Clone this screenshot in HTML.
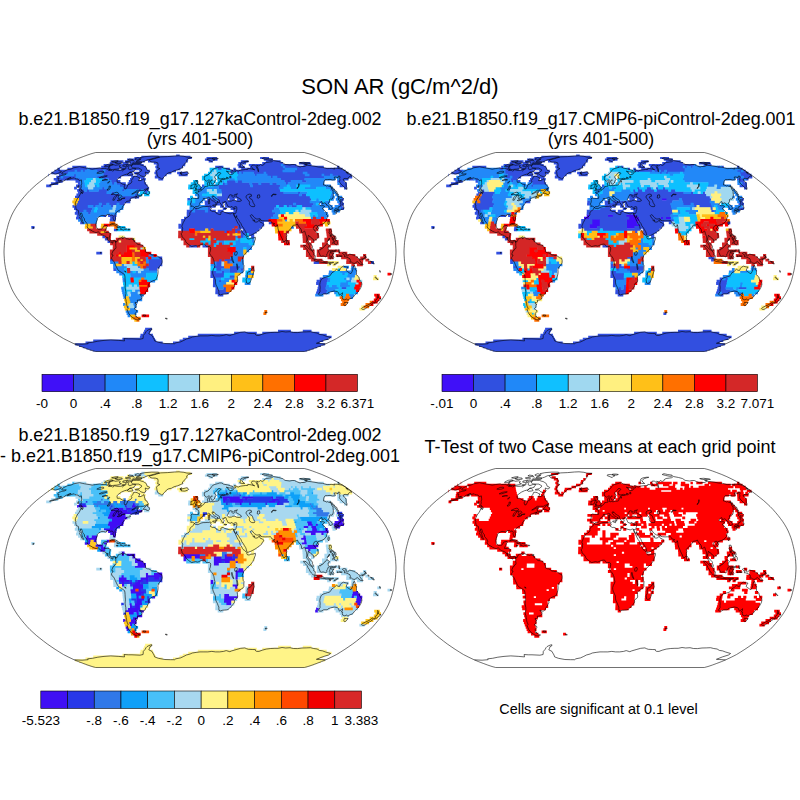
<!DOCTYPE html>
<html><head><meta charset="utf-8"><title>SON AR</title>
<style>
html,body{margin:0;padding:0;background:#fff;}
body{width:800px;height:800px;overflow:hidden;}
svg{display:block;font-family:"Liberation Sans",sans-serif;fill:#000;}
</style></head><body>
<svg width="800" height="800" viewBox="0 0 800 800">
<defs><filter id="bl" x="-2%" y="-2%" width="104%" height="104%"><feGaussianBlur stdDeviation="0.55"/></filter></defs>
<rect width="800" height="800" fill="#fff"/>
<g filter="url(#bl)"><path fill="#3050E0" d="M95.4,350.9h209.1v0.8h-209.1zM92.7,350.1h214.5v1.3h-214.5zM89.7,349.0h220.6v1.5h-220.6zM86.4,347.8h227.3v1.7h-227.3zM82.8,346.4h234.4v1.9h-234.4zM79.0,344.9h241.9v2.0h-241.9zM75.2,343.2h249.7v2.2h-249.7zM85.5,341.4h77.2v2.3h-77.2zM173.0,341.4h146.8v2.3h-146.8zM93.2,339.6h63.0v2.3h-63.0zM179.5,339.6h143.8v2.3h-143.8zM122.4,337.7h32.6v2.4h-32.6zM182.8,337.7h145.7v2.4h-145.7zM139.9,335.8h14.0v2.4h-14.0zM188.2,335.8h143.4v2.4h-143.4zM140.5,333.8h12.4v2.5h-12.4zM197.8,333.8h128.9v2.5h-128.9zM143.2,331.8h6.6v2.5h-6.6zM234.1,331.8h22.7v2.5h-22.7zM262.3,331.8h57.0v2.5h-57.0zM144.1,329.8h6.7v2.5h-6.7zM278.0,329.8h12.9v2.5h-12.9zM302.8,329.8h8.7v2.5h-8.7zM145.1,327.7h6.8v2.6h-6.8zM217.7,293.8h5.6v2.8h-5.6zM215.3,291.5h13.4v2.8h-13.4zM316.1,291.5h10.8v2.8h-10.8zM215.4,289.2h10.9v2.8h-10.9zM316.9,289.2h10.9v2.8h-10.9zM215.5,286.8h3.1v2.8h-3.1zM223.3,286.8h3.1v2.8h-3.1zM317.6,286.8h8.4v2.8h-8.4zM341.1,286.8h5.7v2.8h-5.7zM212.9,284.5h3.1v2.8h-3.1zM318.2,284.5h8.4v2.8h-8.4zM213.0,282.1h3.1v2.8h-3.1zM316.1,282.1h11.1v2.8h-11.1zM213.0,279.8h3.2v2.8h-3.2zM218.3,279.8h3.2v2.8h-3.2zM316.6,279.8h11.1v2.8h-11.1zM213.1,277.5h3.2v2.8h-3.2zM319.7,277.5h8.5v2.8h-8.5zM210.4,275.1h13.9v2.8h-13.9zM229.2,275.1h5.8v2.8h-5.8zM210.5,272.8h13.9v2.8h-13.9zM210.5,270.5h5.9v2.8h-5.9zM221.3,270.5h3.2v2.8h-3.2zM229.3,270.5h8.6v2.8h-8.6zM113.4,268.1h3.2v2.8h-3.2zM148.5,268.1h8.6v2.8h-8.6zM215.9,268.1h5.9v2.8h-5.9zM229.4,268.1h8.6v2.8h-8.6zM240.2,268.1h3.2v2.8h-3.2zM145.7,265.8h14.0v2.8h-14.0zM213.3,265.8h11.3v2.8h-11.3zM229.5,265.8h11.3v2.8h-11.3zM148.3,263.4h14.0v2.8h-14.0zM216.0,263.4h5.9v2.8h-5.9zM148.2,261.1h14.1v2.8h-14.1zM216.0,261.1h5.9v2.8h-5.9zM226.9,261.1h3.2v2.8h-3.2zM313.7,261.1h5.9v2.8h-5.9zM370.7,261.1h3.2v2.8h-3.2zM110.1,258.8h3.2v2.8h-3.2zM148.1,258.8h14.1v2.8h-14.1zM218.8,258.8h3.2v2.8h-3.2zM224.2,258.8h8.6v2.8h-8.6zM159.0,256.4h3.2v2.8h-3.2zM96.3,251.8h5.9v2.8h-5.9zM188.9,244.7h8.7v2.8h-8.7zM202.5,244.7h5.9v2.8h-5.9zM107.5,240.1h3.2v2.8h-3.2zM104.9,237.7h3.2v2.8h-3.2zM102.4,235.4h3.2v2.8h-3.2zM240.3,235.4h3.2v2.8h-3.2zM251.1,235.4h3.2v2.8h-3.2zM240.2,233.0h5.9v2.8h-5.9zM248.3,233.0h5.9v2.8h-5.9zM224.0,230.7h3.2v2.8h-3.2zM234.7,230.7h3.2v2.8h-3.2zM240.1,230.7h16.6v2.8h-16.6zM113.9,228.4h3.2v2.8h-3.2zM181.0,228.4h8.5v2.8h-8.5zM194.4,228.4h11.2v2.8h-11.2zM207.8,228.4h3.2v2.8h-3.2zM213.2,228.4h19.3v2.8h-19.3zM234.6,228.4h5.9v2.8h-5.9zM242.7,228.4h16.6v2.8h-16.6zM31.3,226.0h3.2v2.8h-3.2zM178.4,226.0h56.7v2.8h-56.7zM237.2,226.0h24.6v2.8h-24.6zM178.4,223.7h85.8v2.8h-85.8zM80.2,221.4h3.2v2.8h-3.2zM181.2,221.4h82.8v2.8h-82.8zM268.8,221.4h3.2v2.8h-3.2zM109.8,219.0h5.8v2.8h-5.8zM181.2,219.0h87.8v2.8h-87.8zM76.0,216.7h5.8v2.8h-5.8zM110.2,216.7h5.8v2.8h-5.8zM184.0,216.7h87.4v2.8h-87.4zM76.7,214.3h3.1v2.8h-3.1zM102.9,214.3h3.1v2.8h-3.1zM108.1,214.3h8.4v2.8h-8.4zM186.7,214.3h86.9v2.8h-86.9zM74.8,212.0h5.7v2.8h-5.7zM87.8,212.0h3.1v2.8h-3.1zM186.7,212.0h89.0v2.8h-89.0zM75.7,209.7h8.3v2.8h-8.3zM86.0,209.7h5.7v2.8h-5.7zM186.8,209.7h5.7v2.8h-5.7zM194.6,209.7h10.8v2.8h-10.8zM207.5,209.7h8.3v2.8h-8.3zM217.8,209.7h5.7v2.8h-5.7zM233.4,209.7h39.3v2.8h-39.3zM74.0,207.3h18.5v2.8h-18.5zM194.6,207.3h3.1v2.8h-3.1zM207.4,207.3h3.1v2.8h-3.1zM222.8,207.3h3.1v2.8h-3.1zM230.5,207.3h44.1v2.8h-44.1zM340.9,207.3h3.1v2.8h-3.1zM72.5,205.0h15.8v2.8h-15.8zM92.9,205.0h3.0v2.8h-3.0zM100.5,205.0h3.0v2.8h-3.0zM110.7,205.0h3.0v2.8h-3.0zM204.8,205.0h10.7v2.8h-10.7zM220.1,205.0h3.0v2.8h-3.0zM225.2,205.0h51.4v2.8h-51.4zM278.7,205.0h5.6v2.8h-5.6zM286.3,205.0h3.0v2.8h-3.0zM291.4,205.0h5.6v2.8h-5.6zM301.6,205.0h10.7v2.8h-10.7zM339.7,205.0h3.0v2.8h-3.0zM76.1,202.7h23.2v2.8h-23.2zM101.3,202.7h5.5v2.8h-5.5zM108.9,202.7h8.1v2.8h-8.1zM119.0,202.7h5.5v2.8h-5.5zM204.8,202.7h18.2v2.8h-18.2zM225.0,202.7h68.6v2.8h-68.6zM295.6,202.7h18.2v2.8h-18.2zM338.5,202.7h5.5v2.8h-5.5zM77.3,200.4h53.0v2.8h-53.0zM204.7,200.4h105.5v2.8h-105.5zM339.7,200.4h3.0v2.8h-3.0zM78.5,198.0h52.4v2.8h-52.4zM187.4,198.0h3.0v2.8h-3.0zM207.2,198.0h7.9v2.8h-7.9zM217.1,198.0h10.4v2.8h-10.4zM229.4,198.0h5.4v2.8h-5.4zM236.9,198.0h74.7v2.8h-74.7zM340.7,198.0h3.0v2.8h-3.0zM75.0,195.7h44.5v2.8h-44.5zM121.5,195.7h17.6v2.8h-17.6zM216.9,195.7h93.5v2.8h-93.5zM76.4,193.5h44.0v2.8h-44.0zM134.4,193.5h2.9v2.8h-2.9zM221.5,193.5h77.9v2.8h-77.9zM301.3,193.5h5.3v2.8h-5.3zM77.9,191.2h29.2v2.8h-29.2zM111.3,191.2h2.9v2.8h-2.9zM144.8,191.2h2.9v2.8h-2.9zM221.3,191.2h62.6v2.8h-62.6zM297.7,191.2h2.9v2.8h-2.9zM77.1,188.9h7.6v2.8h-7.6zM86.5,188.9h2.9v2.8h-2.9zM98.3,188.9h9.9v2.8h-9.9zM121.9,188.9h2.9v2.8h-2.9zM138.4,188.9h2.9v2.8h-2.9zM143.1,188.9h5.2v2.8h-5.2zM221.0,188.9h59.5v2.8h-59.5zM74.1,186.7h2.8v2.7h-2.8zM78.8,186.7h2.8v2.7h-2.8zM102.0,186.7h2.8v2.7h-2.8zM123.0,186.7h26.1v2.7h-26.1zM218.4,186.7h61.0v2.7h-61.0zM344.0,186.7h2.8v2.7h-2.8zM46.2,184.5h5.1v2.7h-5.1zM76.0,184.5h5.1v2.7h-5.1zM119.5,184.5h28.0v2.7h-28.0zM202.0,184.5h2.8v2.7h-2.8zM218.1,184.5h32.6v2.7h-32.6zM252.5,184.5h28.0v2.7h-28.0zM339.6,184.5h7.4v2.7h-7.4zM50.9,182.3h7.3v2.7h-7.3zM77.9,182.3h2.8v2.7h-2.8zM111.8,182.3h2.8v2.7h-2.8zM116.3,182.3h9.5v2.7h-9.5zM127.6,182.3h18.5v2.7h-18.5zM222.3,182.3h2.8v2.7h-2.8zM226.8,182.3h23.1v2.7h-23.1zM251.6,182.3h7.3v2.7h-7.3zM260.7,182.3h9.5v2.7h-9.5zM271.9,182.3h5.0v2.7h-5.0zM285.5,182.3h2.8v2.7h-2.8zM339.6,182.3h7.3v2.7h-7.3zM55.5,180.1h7.2v2.7h-7.2zM75.5,180.1h4.9v2.7h-4.9zM111.0,180.1h9.4v2.7h-9.4zM128.8,180.1h16.0v2.7h-16.0zM226.4,180.1h9.4v2.7h-9.4zM237.5,180.1h4.9v2.7h-4.9zM284.1,180.1h7.2v2.7h-7.2zM301.8,180.1h4.9v2.7h-4.9zM337.3,180.1h7.2v2.7h-7.2zM53.7,177.9h26.7v2.6h-26.7zM103.8,177.9h2.7v2.6h-2.7zM108.2,177.9h9.2v2.6h-9.2zM130.0,177.9h9.2v2.6h-9.2zM140.9,177.9h4.9v2.6h-4.9zM158.3,177.9h4.9v2.6h-4.9zM280.4,177.9h24.5v2.6h-24.5zM339.3,177.9h9.2v2.6h-9.2zM56.3,175.8h4.8v2.6h-4.8zM62.7,175.8h13.3v2.6h-13.3zM97.0,175.8h24.1v2.6h-24.1zM131.2,175.8h13.3v2.6h-13.3zM154.8,175.8h9.1v2.6h-9.1zM270.4,175.8h2.6v2.6h-2.6zM276.8,175.8h47.6v2.6h-47.6zM338.9,175.8h13.3v2.6h-13.3zM48.5,173.7h0.5v2.6h-0.5zM59.0,173.7h4.7v2.6h-4.7zM73.7,173.7h2.6v2.6h-2.6zM103.1,173.7h29.9v2.6h-29.9zM136.7,173.7h8.9v2.6h-8.9zM155.6,173.7h11.0v2.6h-11.0zM178.7,173.7h8.9v2.6h-8.9zM254.4,173.7h2.6v2.6h-2.6zM267.0,173.7h38.3v2.6h-38.3zM309.0,173.7h13.1v2.6h-13.1zM323.7,173.7h6.8v2.6h-6.8zM332.1,173.7h19.4v2.6h-19.4zM51.4,171.7h17.0v2.5h-17.0zM102.9,171.7h29.3v2.5h-29.3zM133.8,171.7h14.9v2.5h-14.9zM154.4,171.7h17.0v2.5h-17.0zM177.1,171.7h10.8v2.5h-10.8zM230.7,171.7h2.6v2.5h-2.6zM236.8,171.7h2.6v2.5h-2.6zM241.0,171.7h2.6v2.5h-2.6zM253.3,171.7h10.8v2.5h-10.8zM265.7,171.7h37.6v2.5h-37.6zM306.9,171.7h41.7v2.5h-41.7zM54.4,169.7h20.7v2.5h-20.7zM76.6,169.7h4.5v2.5h-4.5zM82.7,169.7h2.5v2.5h-2.5zM96.8,169.7h6.6v2.5h-6.6zM104.9,169.7h28.8v2.5h-28.8zM139.2,169.7h10.6v2.5h-10.6zM155.3,169.7h20.7v2.5h-20.7zM230.0,169.7h53.0v2.5h-53.0zM294.6,169.7h51.0v2.5h-51.0zM57.5,167.7h2.5v2.5h-2.5zM67.4,167.7h20.3v2.5h-20.3zM89.1,167.7h30.1v2.5h-30.1zM120.7,167.7h26.2v2.5h-26.2zM156.3,167.7h24.2v2.5h-24.2zM217.5,167.7h4.5v2.5h-4.5zM225.4,167.7h4.5v2.5h-4.5zM233.3,167.7h2.5v2.5h-2.5zM241.2,167.7h44.0v2.5h-44.0zM296.6,167.7h45.9v2.5h-45.9zM60.7,165.8h0.5v2.4h-0.5zM72.3,165.8h14.0v2.4h-14.0zM101.2,165.8h44.9v2.4h-44.9zM155.3,165.8h27.5v2.4h-27.5zM215.2,165.8h8.2v2.4h-8.2zM238.4,165.8h6.3v2.4h-6.3zM250.0,165.8h33.3v2.4h-33.3zM284.7,165.8h39.1v2.4h-39.1zM336.9,165.8h2.4v2.4h-2.4zM103.6,163.9h40.1v2.4h-40.1zM156.4,163.9h28.8v2.4h-28.8zM237.5,163.9h4.3v2.4h-4.3zM248.8,163.9h32.6v2.4h-32.6zM282.7,163.9h13.7v2.4h-13.7zM303.5,163.9h8.0v2.4h-8.0zM109.7,162.1h11.5v2.3h-11.5zM122.6,162.1h6.0v2.3h-6.0zM130.0,162.1h11.5v2.3h-11.5zM153.8,162.1h31.7v2.3h-31.7zM238.3,162.1h7.8v2.3h-7.8zM262.2,162.1h20.7v2.3h-20.7zM298.9,162.1h11.5v2.3h-11.5zM110.5,160.3h13.0v2.3h-13.0zM124.8,160.3h20.1v2.3h-20.1zM148.0,160.3h39.8v2.3h-39.8zM208.7,160.3h4.1v2.3h-4.1zM240.8,160.3h7.6v2.3h-7.6zM265.8,160.3h14.8v2.3h-14.8zM127.1,158.6h61.1v2.2h-61.1zM204.9,158.6h12.6v2.2h-12.6zM263.8,158.6h9.2v2.2h-9.2zM134.4,157.1h57.5v2.0h-57.5zM206.5,157.1h10.6v2.0h-10.6zM260.1,157.1h8.9v2.0h-8.9zM141.3,155.7h49.2v1.9h-49.2zM176.1,154.5h3.6v1.7h-3.6z"/>
<path fill="#2088F8" d="M127.6,314.6h2.8v2.7h-2.8zM126.6,312.3h9.9v2.8h-9.9zM125.7,310.0h12.4v2.8h-12.4zM129.6,307.8h5.3v2.8h-5.3zM126.4,305.5h2.9v2.8h-2.9zM133.7,305.5h2.9v2.8h-2.9zM123.1,303.1h3.0v2.8h-3.0zM133.0,303.1h3.0v2.8h-3.0zM129.8,300.8h8.0v2.8h-8.0zM129.1,298.5h13.1v2.8h-13.1zM123.4,296.2h3.0v2.8h-3.0zM128.5,296.2h13.2v2.8h-13.2zM349.9,296.2h3.0v2.8h-3.0zM122.8,293.8h3.1v2.8h-3.1zM130.5,293.8h13.3v2.8h-13.3zM315.2,293.8h8.2v2.8h-8.2zM348.6,293.8h5.6v2.8h-5.6zM122.2,291.5h3.1v2.8h-3.1zM130.0,291.5h8.3v2.8h-8.3zM326.4,291.5h3.1v2.8h-3.1zM334.2,291.5h3.1v2.8h-3.1zM354.8,291.5h3.1v2.8h-3.1zM121.7,289.2h3.1v2.8h-3.1zM134.7,289.2h5.7v2.8h-5.7zM327.3,289.2h8.3v2.8h-8.3zM121.2,286.8h3.1v2.8h-3.1zM218.1,286.8h5.7v2.8h-5.7zM325.4,286.8h13.6v2.8h-13.6zM215.5,284.5h8.4v2.8h-8.4zM326.1,284.5h3.1v2.8h-3.1zM331.4,284.5h5.8v2.8h-5.8zM339.3,284.5h11.0v2.8h-11.0zM215.6,282.1h11.1v2.8h-11.1zM244.7,282.1h5.8v2.8h-5.8zM339.9,282.1h8.4v2.8h-8.4zM122.7,279.8h3.2v2.8h-3.2zM149.3,279.8h5.8v2.8h-5.8zM215.7,279.8h3.2v2.8h-3.2zM221.0,279.8h8.5v2.8h-8.5zM327.2,279.8h3.2v2.8h-3.2zM345.8,279.8h5.8v2.8h-5.8zM122.5,277.5h3.2v2.8h-3.2zM215.7,277.5h5.8v2.8h-5.8zM223.7,277.5h11.2v2.8h-11.2zM247.7,277.5h3.2v2.8h-3.2zM327.7,277.5h3.2v2.8h-3.2zM343.7,277.5h3.2v2.8h-3.2zM349.0,277.5h3.2v2.8h-3.2zM130.2,275.1h16.5v2.8h-16.5zM245.2,275.1h3.2v2.8h-3.2zM322.8,275.1h5.8v2.8h-5.8zM346.8,275.1h8.5v2.8h-8.5zM119.3,272.8h5.9v2.8h-5.9zM130.0,272.8h16.6v2.8h-16.6zM248.0,272.8h5.9v2.8h-5.9zM328.5,272.8h3.2v2.8h-3.2zM341.9,272.8h3.2v2.8h-3.2zM347.3,272.8h8.5v2.8h-8.5zM116.3,270.5h8.6v2.8h-8.6zM129.8,270.5h3.2v2.8h-3.2zM135.2,270.5h3.2v2.8h-3.2zM140.6,270.5h16.6v2.8h-16.6zM215.9,270.5h5.9v2.8h-5.9zM224.0,270.5h5.9v2.8h-5.9zM237.4,270.5h5.9v2.8h-5.9zM248.2,270.5h3.2v2.8h-3.2zM328.9,270.5h5.9v2.8h-5.9zM339.7,270.5h16.6v2.8h-16.6zM116.1,268.1h8.6v2.8h-8.6zM143.1,268.1h5.9v2.8h-5.9zM221.3,268.1h8.6v2.8h-8.6zM237.5,268.1h3.2v2.8h-3.2zM350.8,268.1h5.9v2.8h-5.9zM113.2,265.8h14.0v2.8h-14.0zM137.6,265.8h3.2v2.8h-3.2zM240.3,265.8h3.2v2.8h-3.2zM343.0,265.8h5.9v2.8h-5.9zM351.2,265.8h3.2v2.8h-3.2zM113.1,263.4h3.2v2.8h-3.2zM121.2,263.4h3.2v2.8h-3.2zM210.6,263.4h5.9v2.8h-5.9zM232.3,263.4h11.3v2.8h-11.3zM110.2,261.1h8.6v2.8h-8.6zM145.5,261.1h3.2v2.8h-3.2zM213.3,261.1h3.2v2.8h-3.2zM229.6,261.1h14.1v2.8h-14.1zM145.4,258.8h3.2v2.8h-3.2zM232.3,258.8h5.9v2.8h-5.9zM240.5,258.8h3.2v2.8h-3.2zM145.4,256.4h3.2v2.8h-3.2zM150.8,256.4h8.7v2.8h-8.7zM229.7,256.4h8.7v2.8h-8.7zM148.1,254.1h5.9v2.8h-5.9zM232.4,254.1h11.4v2.8h-11.4zM232.4,251.8h11.4v2.8h-11.4zM235.1,249.4h8.7v2.8h-8.7zM246.0,249.4h3.2v2.8h-3.2zM235.1,247.1h8.7v2.8h-8.7zM246.0,247.1h5.9v2.8h-5.9zM232.4,244.7h19.5v2.8h-19.5zM213.3,242.4h3.2v2.8h-3.2zM221.5,242.4h3.2v2.8h-3.2zM235.1,242.4h14.1v2.8h-14.1zM218.7,240.1h5.9v2.8h-5.9zM235.0,240.1h5.9v2.8h-5.9zM251.3,240.1h3.2v2.8h-3.2zM213.3,237.7h3.2v2.8h-3.2zM237.7,237.7h3.2v2.8h-3.2zM251.2,237.7h3.2v2.8h-3.2zM234.9,235.4h3.2v2.8h-3.2zM243.0,235.4h3.2v2.8h-3.2zM290.7,226.0h3.2v2.8h-3.2zM82.9,221.4h13.8v2.8h-13.8zM78.1,219.0h19.0v2.8h-19.0zM284.4,219.0h3.1v2.8h-3.1zM81.3,216.7h16.3v2.8h-16.3zM270.8,216.7h8.4v2.8h-8.4zM310.3,216.7h3.1v2.8h-3.1zM315.6,216.7h5.8v2.8h-5.8zM323.5,216.7h3.1v2.8h-3.1zM79.3,214.3h24.1v2.8h-24.1zM273.1,214.3h5.7v2.8h-5.7zM312.3,214.3h3.1v2.8h-3.1zM317.6,214.3h11.0v2.8h-11.0zM80.0,212.0h8.3v2.8h-8.3zM90.4,212.0h26.5v2.8h-26.5zM275.2,212.0h5.7v2.8h-5.7zM316.9,212.0h10.9v2.8h-10.9zM332.5,212.0h3.1v2.8h-3.1zM83.4,209.7h3.1v2.8h-3.1zM91.2,209.7h3.1v2.8h-3.1zM96.4,209.7h13.4v2.8h-13.4zM114.5,209.7h5.7v2.8h-5.7zM192.0,209.7h3.1v2.8h-3.1zM204.9,209.7h3.1v2.8h-3.1zM272.1,209.7h8.3v2.8h-8.3zM310.9,209.7h13.4v2.8h-13.4zM331.6,209.7h8.3v2.8h-8.3zM92.0,207.3h3.1v2.8h-3.1zM97.1,207.3h15.9v2.8h-15.9zM115.1,207.3h8.2v2.8h-8.2zM189.5,207.3h5.6v2.8h-5.6zM197.2,207.3h10.8v2.8h-10.8zM274.2,207.3h5.6v2.8h-5.6zM310.1,207.3h13.3v2.8h-13.3zM328.0,207.3h13.3v2.8h-13.3zM87.8,205.0h5.6v2.8h-5.6zM95.4,205.0h5.6v2.8h-5.6zM103.0,205.0h8.1v2.8h-8.1zM115.8,205.0h8.1v2.8h-8.1zM189.6,205.0h15.8v2.8h-15.8zM288.8,205.0h3.0v2.8h-3.0zM311.7,205.0h20.9v2.8h-20.9zM334.6,205.0h5.6v2.8h-5.6zM98.8,202.7h3.0v2.8h-3.0zM106.4,202.7h3.0v2.8h-3.0zM116.5,202.7h3.0v2.8h-3.0zM189.7,202.7h10.6v2.8h-10.6zM293.1,202.7h3.0v2.8h-3.0zM313.3,202.7h3.0v2.8h-3.0zM320.9,202.7h8.1v2.8h-8.1zM189.8,200.4h3.0v2.8h-3.0zM194.8,200.4h8.0v2.8h-8.0zM309.7,200.4h13.0v2.8h-13.0zM324.7,200.4h5.5v2.8h-5.5zM337.2,200.4h3.0v2.8h-3.0zM194.8,198.0h10.4v2.8h-10.4zM214.6,198.0h3.0v2.8h-3.0zM316.0,198.0h3.0v2.8h-3.0zM330.8,198.0h3.0v2.8h-3.0zM335.8,198.0h5.4v2.8h-5.4zM119.0,195.7h2.9v2.8h-2.9zM197.3,195.7h20.1v2.8h-20.1zM329.4,195.7h5.4v2.8h-5.4zM336.8,195.7h5.4v2.8h-5.4zM119.9,193.5h15.0v2.8h-15.0zM136.9,193.5h2.9v2.8h-2.9zM194.9,193.5h7.8v2.8h-7.8zM298.9,193.5h2.9v2.8h-2.9zM330.4,193.5h2.9v2.8h-2.9zM335.2,193.5h2.9v2.8h-2.9zM106.5,191.2h5.3v2.8h-5.3zM113.7,191.2h24.4v2.8h-24.4zM197.4,191.2h10.1v2.8h-10.1zM216.5,191.2h5.3v2.8h-5.3zM283.4,191.2h14.8v2.8h-14.8zM300.1,191.2h7.7v2.8h-7.7zM331.2,191.2h5.3v2.8h-5.3zM84.2,188.9h2.9v2.8h-2.9zM88.9,188.9h9.9v2.8h-9.9zM107.7,188.9h14.7v2.8h-14.7zM124.3,188.9h14.7v2.8h-14.7zM140.8,188.9h2.9v2.8h-2.9zM197.4,188.9h9.9v2.8h-9.9zM216.3,188.9h5.2v2.8h-5.2zM329.5,188.9h5.2v2.8h-5.2zM81.1,186.7h7.5v2.7h-7.5zM92.7,186.7h9.8v2.7h-9.8zM104.4,186.7h19.1v2.7h-19.1zM197.4,186.7h21.4v2.7h-21.4zM278.8,186.7h5.2v2.7h-5.2zM290.5,186.7h7.5v2.7h-7.5zM304.4,186.7h12.1v2.7h-12.1zM325.4,186.7h7.5v2.7h-7.5zM80.6,184.5h5.1v2.7h-5.1zM94.3,184.5h2.8v2.7h-2.8zM98.9,184.5h21.1v2.7h-21.1zM213.5,184.5h5.1v2.7h-5.1zM250.2,184.5h2.8v2.7h-2.8zM280.0,184.5h7.4v2.7h-7.4zM289.1,184.5h7.4v2.7h-7.4zM309.8,184.5h21.1v2.7h-21.1zM80.2,182.3h5.0v2.7h-5.0zM98.2,182.3h14.0v2.7h-14.0zM114.0,182.3h2.8v2.7h-2.8zM224.6,182.3h2.8v2.7h-2.8zM249.4,182.3h2.8v2.7h-2.8zM258.4,182.3h2.8v2.7h-2.8zM269.7,182.3h2.8v2.7h-2.8zM276.5,182.3h9.5v2.7h-9.5zM287.7,182.3h36.6v2.7h-36.6zM337.4,182.3h2.8v2.7h-2.8zM79.9,180.1h4.9v2.7h-4.9zM99.9,180.1h11.6v2.7h-11.6zM221.9,180.1h2.7v2.7h-2.7zM235.2,180.1h2.7v2.7h-2.7zM241.9,180.1h42.7v2.7h-42.7zM290.7,180.1h11.6v2.7h-11.6zM306.2,180.1h18.2v2.7h-18.2zM79.8,177.9h7.0v2.6h-7.0zM101.6,177.9h2.7v2.6h-2.7zM106.0,177.9h2.7v2.6h-2.7zM228.1,177.9h7.0v2.6h-7.0zM236.8,177.9h44.1v2.6h-44.1zM304.4,177.9h31.0v2.6h-31.0zM337.1,177.9h2.7v2.6h-2.7zM60.6,175.8h2.6v2.6h-2.6zM75.6,175.8h21.9v2.6h-21.9zM229.7,175.8h2.6v2.6h-2.6zM236.1,175.8h34.8v2.6h-34.8zM272.5,175.8h4.8v2.6h-4.8zM323.9,175.8h15.5v2.6h-15.5zM63.2,173.7h11.0v2.6h-11.0zM75.8,173.7h27.8v2.6h-27.8zM237.6,173.7h17.3v2.6h-17.3zM256.5,173.7h11.0v2.6h-11.0zM304.8,173.7h4.7v2.6h-4.7zM321.6,173.7h2.6v2.6h-2.6zM330.0,173.7h2.6v2.6h-2.6zM67.9,171.7h35.5v2.5h-35.5zM238.9,171.7h2.6v2.5h-2.6zM243.0,171.7h10.8v2.5h-10.8zM263.6,171.7h2.6v2.5h-2.6zM302.8,171.7h4.6v2.5h-4.6zM74.6,169.7h2.5v2.5h-2.5zM80.7,169.7h2.5v2.5h-2.5zM84.7,169.7h12.6v2.5h-12.6zM102.9,169.7h2.5v2.5h-2.5zM282.5,169.7h12.6v2.5h-12.6zM87.1,167.7h2.5v2.5h-2.5zM284.7,167.7h12.4v2.5h-12.4zM282.8,165.8h2.4v2.4h-2.4zM280.8,163.9h2.4v2.4h-2.4z"/>
<path fill="#10C0FF" d="M342.3,296.2h3.0v2.8h-3.0zM125.3,293.8h3.1v2.8h-3.1zM335.7,293.8h10.8v2.8h-10.8zM124.8,291.5h3.1v2.8h-3.1zM336.7,291.5h18.6v2.8h-18.6zM124.3,289.2h8.3v2.8h-8.3zM335.1,289.2h21.3v2.8h-21.3zM123.8,286.8h3.1v2.8h-3.1zM338.5,286.8h3.1v2.8h-3.1zM346.4,286.8h8.4v2.8h-8.4zM123.4,284.5h5.8v2.8h-5.8zM131.3,284.5h3.1v2.8h-3.1zM136.6,284.5h3.1v2.8h-3.1zM328.8,284.5h3.1v2.8h-3.1zM336.7,284.5h3.1v2.8h-3.1zM349.8,284.5h5.8v2.8h-5.8zM123.0,282.1h16.4v2.8h-16.4zM326.7,282.1h13.7v2.8h-13.7zM347.9,282.1h8.4v2.8h-8.4zM125.4,279.8h5.8v2.8h-5.8zM133.3,279.8h5.8v2.8h-5.8zM146.6,279.8h3.2v2.8h-3.2zM242.2,279.8h8.5v2.8h-8.5zM329.9,279.8h16.4v2.8h-16.4zM125.1,277.5h5.8v2.8h-5.8zM133.1,277.5h8.5v2.8h-8.5zM143.8,277.5h13.8v2.8h-13.8zM221.1,277.5h3.2v2.8h-3.2zM242.4,277.5h5.8v2.8h-5.8zM330.4,277.5h13.8v2.8h-13.8zM122.2,275.1h8.5v2.8h-8.5zM146.3,275.1h11.2v2.8h-11.2zM223.8,275.1h5.8v2.8h-5.8zM328.1,275.1h19.2v2.8h-19.2zM124.6,272.8h5.9v2.8h-5.9zM146.1,272.8h11.2v2.8h-11.2zM223.9,272.8h11.2v2.8h-11.2zM245.4,272.8h3.2v2.8h-3.2zM331.2,272.8h11.2v2.8h-11.2zM344.6,272.8h3.2v2.8h-3.2zM124.4,270.5h3.2v2.8h-3.2zM132.5,270.5h3.2v2.8h-3.2zM245.5,270.5h3.2v2.8h-3.2zM334.3,270.5h5.9v2.8h-5.9zM124.2,268.1h3.2v2.8h-3.2zM210.5,268.1h5.9v2.8h-5.9zM248.3,268.1h3.2v2.8h-3.2zM337.3,268.1h3.2v2.8h-3.2zM210.6,265.8h3.2v2.8h-3.2zM132.0,263.4h5.9v2.8h-5.9zM131.9,261.1h3.2v2.8h-3.2zM243.3,247.1h3.2v2.8h-3.2zM213.3,244.7h3.2v2.8h-3.2zM229.7,244.7h3.2v2.8h-3.2zM202.5,242.4h3.2v2.8h-3.2zM207.9,242.4h3.2v2.8h-3.2zM216.0,242.4h3.2v2.8h-3.2zM224.2,242.4h5.9v2.8h-5.9zM232.3,242.4h3.2v2.8h-3.2zM248.6,242.4h5.9v2.8h-5.9zM199.8,240.1h11.4v2.8h-11.4zM216.0,240.1h3.2v2.8h-3.2zM224.2,240.1h11.4v2.8h-11.4zM240.4,240.1h11.4v2.8h-11.4zM188.9,237.7h5.9v2.8h-5.9zM205.2,237.7h3.2v2.8h-3.2zM235.0,237.7h3.2v2.8h-3.2zM240.4,237.7h11.3v2.8h-11.3zM245.7,235.4h3.2v2.8h-3.2zM245.6,233.0h3.2v2.8h-3.2zM116.6,228.4h13.9v2.8h-13.9zM116.8,226.0h8.5v2.8h-8.5zM309.7,214.3h3.1v2.8h-3.1zM315.0,214.3h3.1v2.8h-3.1zM280.4,212.0h5.7v2.8h-5.7zM288.2,212.0h5.7v2.8h-5.7zM309.1,212.0h8.3v2.8h-8.3zM93.8,209.7h3.1v2.8h-3.1zM279.9,209.7h16.0v2.8h-16.0zM298.0,209.7h3.1v2.8h-3.1zM94.6,207.3h3.1v2.8h-3.1zM279.3,207.3h23.6v2.8h-23.6zM304.9,207.3h5.6v2.8h-5.6zM276.1,205.0h3.0v2.8h-3.0zM283.7,205.0h3.0v2.8h-3.0zM296.5,205.0h5.6v2.8h-5.6zM187.1,202.7h3.0v2.8h-3.0zM315.8,202.7h3.0v2.8h-3.0zM187.3,200.4h3.0v2.8h-3.0zM192.3,200.4h3.0v2.8h-3.0zM322.2,200.4h3.0v2.8h-3.0zM189.9,198.0h5.4v2.8h-5.4zM311.1,198.0h5.4v2.8h-5.4zM318.5,198.0h12.9v2.8h-12.9zM190.0,195.7h2.9v2.8h-2.9zM309.8,195.7h20.1v2.8h-20.1zM139.3,193.5h2.9v2.8h-2.9zM144.1,193.5h5.3v2.8h-5.3zM202.2,193.5h15.0v2.8h-15.0zM306.2,193.5h24.7v2.8h-24.7zM140.0,191.2h5.3v2.8h-5.3zM147.2,191.2h2.9v2.8h-2.9zM192.6,191.2h5.3v2.8h-5.3zM206.9,191.2h2.9v2.8h-2.9zM307.3,191.2h24.4v2.8h-24.4zM192.7,188.9h5.2v2.8h-5.2zM211.5,188.9h2.9v2.8h-2.9zM280.0,188.9h50.0v2.8h-50.0zM188.1,186.7h9.8v2.7h-9.8zM283.5,186.7h7.5v2.7h-7.5zM297.5,186.7h7.5v2.7h-7.5zM316.1,186.7h9.8v2.7h-9.8zM85.2,184.5h2.8v2.7h-2.8zM96.6,184.5h2.8v2.7h-2.8zM188.3,184.5h12.0v2.7h-12.0zM204.3,184.5h9.7v2.7h-9.7zM286.8,184.5h2.8v2.7h-2.8zM296.0,184.5h14.3v2.7h-14.3zM84.7,182.3h5.0v2.7h-5.0zM93.7,182.3h5.0v2.7h-5.0zM190.7,182.3h7.3v2.7h-7.3zM204.3,182.3h9.5v2.7h-9.5zM215.5,182.3h7.3v2.7h-7.3zM84.4,180.1h7.2v2.7h-7.2zM95.5,180.1h4.9v2.7h-4.9zM193.1,180.1h4.9v2.7h-4.9zM204.2,180.1h11.6v2.7h-11.6zM217.5,180.1h4.9v2.7h-4.9zM224.2,180.1h2.7v2.7h-2.7zM86.4,177.9h7.0v2.6h-7.0zM95.1,177.9h7.0v2.6h-7.0zM201.9,177.9h11.4v2.6h-11.4zM217.2,177.9h11.4v2.6h-11.4zM234.6,177.9h2.7v2.6h-2.7zM201.9,175.8h11.2v2.6h-11.2zM216.9,175.8h13.3v2.6h-13.3zM231.9,175.8h4.8v2.6h-4.8zM204.0,173.7h6.8v2.6h-6.8zM214.5,173.7h23.6v2.6h-23.6zM208.0,171.7h4.6v2.5h-4.6zM216.2,171.7h12.9v2.5h-12.9zM232.7,171.7h4.6v2.5h-4.6zM209.8,169.7h4.5v2.5h-4.5zM215.9,169.7h14.6v2.5h-14.6zM209.6,167.7h8.4v2.5h-8.4zM221.5,167.7h4.5v2.5h-4.5z"/>
<path fill="#A0D8F0" d="M128.8,305.5h5.4v2.8h-5.4zM128.0,303.1h5.4v2.8h-5.4zM127.9,293.8h3.1v2.8h-3.1zM127.4,291.5h3.1v2.8h-3.1zM137.7,291.5h3.1v2.8h-3.1zM132.1,289.2h3.1v2.8h-3.1zM126.4,286.8h13.6v2.8h-13.6zM128.7,284.5h3.1v2.8h-3.1zM133.9,284.5h3.1v2.8h-3.1zM355.8,282.1h3.1v2.8h-3.1zM351.1,279.8h5.8v2.8h-5.8zM359.1,279.8h3.2v2.8h-3.2zM346.4,277.5h3.2v2.8h-3.2zM351.7,277.5h3.2v2.8h-3.2zM137.9,270.5h3.2v2.8h-3.2zM129.6,268.1h14.0v2.8h-14.0zM126.7,265.8h11.3v2.8h-11.3zM123.9,263.4h8.6v2.8h-8.6zM221.4,263.4h3.2v2.8h-3.2zM221.5,261.1h3.2v2.8h-3.2zM139.9,247.1h3.2v2.8h-3.2zM304.5,214.3h5.7v2.8h-5.7zM298.6,212.0h10.9v2.8h-10.9zM109.3,209.7h5.7v2.8h-5.7zM295.4,209.7h3.1v2.8h-3.1zM300.6,209.7h10.8v2.8h-10.8zM112.5,207.3h3.1v2.8h-3.1zM302.4,207.3h3.1v2.8h-3.1zM113.2,205.0h3.0v2.8h-3.0zM216.7,193.5h5.3v2.8h-5.3zM209.3,191.2h7.7v2.8h-7.7zM206.8,188.9h5.2v2.8h-5.2zM213.9,188.9h2.9v2.8h-2.9zM88.1,186.7h5.2v2.7h-5.2zM87.4,184.5h7.4v2.7h-7.4zM89.2,182.3h5.0v2.7h-5.0zM91.0,180.1h4.9v2.7h-4.9zM92.9,177.9h2.7v2.6h-2.7zM212.8,177.9h2.7v2.6h-2.7zM212.6,175.8h2.6v2.6h-2.6zM210.3,173.7h4.7v2.6h-4.7zM212.1,171.7h4.6v2.5h-4.6zM213.9,169.7h2.5v2.5h-2.5z"/>
<path fill="#FFF080" d="M359.4,307.8h5.3v2.8h-5.3zM361.2,305.5h2.9v2.8h-2.9zM226.2,282.1h8.4v2.8h-8.4zM229.0,279.8h3.2v2.8h-3.2zM354.3,277.5h5.8v2.8h-5.8zM373.0,277.5h5.8v2.8h-5.8zM354.9,275.1h3.2v2.8h-3.2zM373.6,275.1h3.2v2.8h-3.2zM331.9,268.1h5.9v2.8h-5.9zM340.0,268.1h5.9v2.8h-5.9zM337.6,265.8h5.9v2.8h-5.9zM327.1,263.4h3.2v2.8h-3.2zM332.5,263.4h3.2v2.8h-3.2zM327.3,261.1h11.4v2.8h-11.4zM118.4,240.1h3.2v2.8h-3.2zM132.0,237.7h3.2v2.8h-3.2zM118.6,235.4h5.9v2.8h-5.9zM287.0,219.0h3.1v2.8h-3.1zM292.3,219.0h3.1v2.8h-3.1zM286.6,216.7h24.2v2.8h-24.2zM278.3,214.3h3.1v2.8h-3.1zM283.5,214.3h21.4v2.8h-21.4zM285.6,212.0h3.1v2.8h-3.1zM293.4,212.0h5.7v2.8h-5.7z"/>
<path fill="#FFC018" d="M134.3,319.0h2.8v2.7h-2.8zM131.0,316.8h2.8v2.7h-2.8zM130.0,314.6h5.2v2.7h-5.2zM124.8,307.8h5.3v2.8h-5.3zM123.9,305.5h2.9v2.8h-2.9zM125.5,303.1h3.0v2.8h-3.0zM124.8,300.8h5.5v2.8h-5.5zM124.1,298.5h5.5v2.8h-5.5zM125.9,296.2h3.0v2.8h-3.0zM234.4,277.5h3.2v2.8h-3.2zM234.5,275.1h3.2v2.8h-3.2zM247.9,275.1h5.8v2.8h-5.8zM234.6,272.8h5.9v2.8h-5.9zM250.9,270.5h3.2v2.8h-3.2zM115.8,263.4h5.9v2.8h-5.9zM121.1,261.1h5.9v2.8h-5.9zM129.2,261.1h3.2v2.8h-3.2zM134.6,261.1h3.2v2.8h-3.2zM121.0,258.8h11.4v2.8h-11.4zM134.6,258.8h3.2v2.8h-3.2zM140.0,258.8h3.2v2.8h-3.2zM120.9,256.4h11.4v2.8h-11.4zM134.5,256.4h5.9v2.8h-5.9zM118.1,254.1h3.2v2.8h-3.2zM243.3,251.8h3.2v2.8h-3.2zM134.4,249.4h5.9v2.8h-5.9zM243.3,249.4h3.2v2.8h-3.2zM129.0,247.1h8.7v2.8h-8.7zM142.6,247.1h3.2v2.8h-3.2zM207.9,237.7h3.2v2.8h-3.2zM202.5,235.4h3.2v2.8h-3.2zM207.9,235.4h3.2v2.8h-3.2zM226.7,233.0h3.2v2.8h-3.2zM232.1,233.0h8.6v2.8h-8.6zM100.2,230.7h5.9v2.8h-5.9zM199.8,230.7h11.3v2.8h-11.3zM275.1,230.7h3.2v2.8h-3.2zM283.2,230.7h3.2v2.8h-3.2zM205.1,228.4h3.2v2.8h-3.2zM274.9,228.4h16.6v2.8h-16.6zM84.8,226.0h8.5v2.8h-8.5zM100.8,226.0h5.8v2.8h-5.8zM274.6,226.0h16.5v2.8h-16.5zM85.1,223.7h5.8v2.8h-5.8zM101.1,223.7h3.2v2.8h-3.2zM282.4,223.7h13.8v2.8h-13.8zM325.0,223.7h3.2v2.8h-3.2zM276.8,221.4h19.1v2.8h-19.1zM321.9,221.4h8.5v2.8h-8.5zM281.8,219.0h3.1v2.8h-3.1zM289.7,219.0h3.1v2.8h-3.1zM278.7,216.7h5.8v2.8h-5.8zM73.6,202.7h3.0v2.8h-3.0zM72.3,200.4h5.5v2.8h-5.5zM73.6,198.0h5.4v2.8h-5.4z"/>
<path fill="#FF7000" d="M136.6,319.0h2.8v2.7h-2.8zM133.3,316.8h7.4v2.7h-7.4zM263.4,312.3h2.9v2.8h-2.9zM264.3,310.0h2.9v2.8h-2.9zM363.7,305.5h5.4v2.8h-5.4zM340.7,303.1h5.4v2.8h-5.4zM365.5,303.1h5.4v2.8h-5.4zM342.2,300.8h5.5v2.8h-5.5zM369.7,300.8h3.0v2.8h-3.0zM341.0,298.5h8.1v2.8h-8.1zM339.7,296.2h3.0v2.8h-3.0zM344.8,296.2h5.6v2.8h-5.6zM346.0,293.8h3.1v2.8h-3.1zM225.8,289.2h5.7v2.8h-5.7zM225.9,286.8h5.7v2.8h-5.7zM139.2,284.5h8.4v2.8h-8.4zM223.4,284.5h11.0v2.8h-11.0zM138.7,279.8h3.2v2.8h-3.2zM234.3,279.8h3.2v2.8h-3.2zM141.1,277.5h3.2v2.8h-3.2zM140.3,265.8h3.2v2.8h-3.2zM224.1,265.8h5.9v2.8h-5.9zM137.4,263.4h8.6v2.8h-8.6zM224.1,263.4h8.6v2.8h-8.6zM137.4,261.1h3.2v2.8h-3.2zM142.8,261.1h3.2v2.8h-3.2zM224.2,261.1h3.2v2.8h-3.2zM131.8,258.8h3.2v2.8h-3.2zM131.8,256.4h3.2v2.8h-3.2zM131.7,254.1h3.2v2.8h-3.2zM131.7,251.8h3.2v2.8h-3.2zM194.4,233.0h3.2v2.8h-3.2zM194.4,230.7h5.9v2.8h-5.9zM114.2,226.0h3.2v2.8h-3.2zM109.1,223.7h8.5v2.8h-8.5zM277.0,223.7h5.8v2.8h-5.8zM109.4,221.4h5.8v2.8h-5.8zM298.0,221.4h8.5v2.8h-8.5zM276.5,219.0h5.8v2.8h-5.8zM295.0,219.0h8.4v2.8h-8.4z"/>
<path fill="#FF0000" d="M141.6,314.6h7.5v2.7h-7.5zM370.4,303.1h3.0v2.8h-3.0zM372.2,300.8h5.5v2.8h-5.5zM373.8,298.5h5.5v2.8h-5.5zM375.4,296.2h5.6v2.8h-5.6zM374.2,293.8h5.6v2.8h-5.6zM140.3,291.5h5.7v2.8h-5.7zM139.9,289.2h8.3v2.8h-8.3zM355.9,289.2h3.1v2.8h-3.1zM139.5,286.8h8.4v2.8h-8.4zM231.2,286.8h3.1v2.8h-3.1zM354.2,286.8h5.7v2.8h-5.7zM147.1,284.5h3.1v2.8h-3.1zM355.1,284.5h5.8v2.8h-5.8zM138.9,282.1h11.1v2.8h-11.1zM234.1,282.1h3.1v2.8h-3.1zM358.5,282.1h3.1v2.8h-3.1zM130.7,279.8h3.2v2.8h-3.2zM141.3,279.8h5.8v2.8h-5.8zM231.6,279.8h3.2v2.8h-3.2zM356.5,279.8h3.2v2.8h-3.2zM130.4,277.5h3.2v2.8h-3.2zM387.5,272.8h3.2v2.8h-3.2zM148.1,256.4h3.2v2.8h-3.2zM115.4,254.1h3.2v2.8h-3.2zM120.9,254.1h11.4v2.8h-11.4zM139.9,254.1h8.7v2.8h-8.7zM153.5,254.1h3.2v2.8h-3.2zM118.1,251.8h3.2v2.8h-3.2zM123.5,251.8h8.7v2.8h-8.7zM139.9,251.8h11.4v2.8h-11.4zM229.7,251.8h3.2v2.8h-3.2zM126.3,249.4h5.9v2.8h-5.9zM139.9,249.4h5.9v2.8h-5.9zM227.0,249.4h8.7v2.8h-8.7zM126.3,247.1h3.2v2.8h-3.2zM227.0,247.1h8.7v2.8h-8.7zM126.3,244.7h8.7v2.8h-8.7zM284.0,242.4h5.9v2.8h-5.9zM278.3,237.7h5.9v2.8h-5.9zM278.2,235.4h5.9v2.8h-5.9zM278.0,233.0h5.9v2.8h-5.9zM189.0,230.7h5.9v2.8h-5.9zM226.7,230.7h3.2v2.8h-3.2zM277.8,230.7h5.9v2.8h-5.9zM189.0,228.4h5.9v2.8h-5.9zM304.0,226.0h11.2v2.8h-11.2zM103.8,223.7h5.8v2.8h-5.8zM271.7,223.7h5.8v2.8h-5.8zM306.4,223.7h8.5v2.8h-8.5zM319.7,223.7h3.2v2.8h-3.2zM271.5,221.4h5.8v2.8h-5.8zM306.0,221.4h5.8v2.8h-5.8zM319.3,221.4h3.2v2.8h-3.2zM268.5,219.0h8.4v2.8h-8.4zM302.9,219.0h8.4v2.8h-8.4zM318.8,219.0h11.1v2.8h-11.1zM284.0,216.7h3.1v2.8h-3.1zM320.9,216.7h3.1v2.8h-3.1zM280.9,214.3h3.1v2.8h-3.1z"/>
<path fill="#D42828" d="M127.1,270.5h3.2v2.8h-3.2zM126.9,268.1h3.2v2.8h-3.2zM251.0,268.1h3.2v2.8h-3.2zM143.0,265.8h3.2v2.8h-3.2zM251.1,265.8h3.2v2.8h-3.2zM145.6,263.4h3.2v2.8h-3.2zM351.4,263.4h3.2v2.8h-3.2zM356.9,263.4h5.9v2.8h-5.9zM118.4,261.1h3.2v2.8h-3.2zM126.5,261.1h3.2v2.8h-3.2zM140.1,261.1h3.2v2.8h-3.2zM210.6,261.1h3.2v2.8h-3.2zM319.1,261.1h8.6v2.8h-8.6zM346.2,261.1h16.8v2.8h-16.8zM367.9,261.1h3.2v2.8h-3.2zM112.8,258.8h8.6v2.8h-8.6zM137.3,258.8h3.2v2.8h-3.2zM142.7,258.8h3.2v2.8h-3.2zM210.6,258.8h8.6v2.8h-8.6zM221.5,258.8h3.2v2.8h-3.2zM237.8,258.8h3.2v2.8h-3.2zM311.1,258.8h11.4v2.8h-11.4zM346.4,258.8h16.8v2.8h-16.8zM365.4,258.8h3.2v2.8h-3.2zM110.0,256.4h11.4v2.8h-11.4zM139.9,256.4h5.9v2.8h-5.9zM210.6,256.4h19.5v2.8h-19.5zM237.8,256.4h5.9v2.8h-5.9zM308.5,256.4h5.9v2.8h-5.9zM327.5,256.4h5.9v2.8h-5.9zM341.1,256.4h16.8v2.8h-16.8zM360.2,256.4h5.9v2.8h-5.9zM110.0,254.1h5.9v2.8h-5.9zM134.5,254.1h5.9v2.8h-5.9zM207.9,254.1h25.0v2.8h-25.0zM305.9,254.1h8.7v2.8h-8.7zM316.7,254.1h16.8v2.8h-16.8zM335.8,254.1h19.5v2.8h-19.5zM363.0,254.1h3.2v2.8h-3.2zM109.9,251.8h8.7v2.8h-8.7zM120.8,251.8h3.2v2.8h-3.2zM134.4,251.8h5.9v2.8h-5.9zM207.9,251.8h22.3v2.8h-22.3zM305.9,251.8h8.7v2.8h-8.7zM316.8,251.8h16.8v2.8h-16.8zM338.6,251.8h8.7v2.8h-8.7zM109.9,249.4h16.8v2.8h-16.8zM131.7,249.4h3.2v2.8h-3.2zM207.9,249.4h19.6v2.8h-19.6zM305.9,249.4h8.7v2.8h-8.7zM316.8,249.4h22.3v2.8h-22.3zM112.7,247.1h14.1v2.8h-14.1zM137.2,247.1h3.2v2.8h-3.2zM207.9,247.1h19.5v2.8h-19.5zM303.1,247.1h8.7v2.8h-8.7zM319.5,247.1h8.7v2.8h-8.7zM112.8,244.7h14.1v2.8h-14.1zM134.5,244.7h8.7v2.8h-8.7zM186.2,244.7h3.2v2.8h-3.2zM197.0,244.7h3.2v2.8h-3.2zM207.9,244.7h5.9v2.8h-5.9zM216.1,244.7h14.1v2.8h-14.1zM300.3,244.7h11.4v2.8h-11.4zM322.1,244.7h8.7v2.8h-8.7zM110.1,242.4h30.4v2.8h-30.4zM183.5,242.4h19.5v2.8h-19.5zM205.2,242.4h3.2v2.8h-3.2zM210.6,242.4h3.2v2.8h-3.2zM218.8,242.4h3.2v2.8h-3.2zM229.6,242.4h3.2v2.8h-3.2zM305.7,242.4h5.9v2.8h-5.9zM322.0,242.4h5.9v2.8h-5.9zM330.1,242.4h8.6v2.8h-8.6zM110.2,240.1h8.6v2.8h-8.6zM121.1,240.1h14.1v2.8h-14.1zM183.5,240.1h16.8v2.8h-16.8zM210.6,240.1h5.9v2.8h-5.9zM281.1,240.1h8.6v2.8h-8.6zM302.8,240.1h5.9v2.8h-5.9zM311.0,240.1h3.2v2.8h-3.2zM324.5,240.1h3.2v2.8h-3.2zM330.0,240.1h8.6v2.8h-8.6zM107.7,237.7h3.2v2.8h-3.2zM115.8,237.7h16.8v2.8h-16.8zM180.8,237.7h8.6v2.8h-8.6zM194.3,237.7h11.3v2.8h-11.3zM210.6,237.7h3.2v2.8h-3.2zM216.0,237.7h19.5v2.8h-19.5zM283.7,237.7h3.2v2.8h-3.2zM302.7,237.7h14.0v2.8h-14.0zM324.4,237.7h11.3v2.8h-11.3zM105.1,235.4h5.9v2.8h-5.9zM178.1,235.4h24.8v2.8h-24.8zM205.2,235.4h3.2v2.8h-3.2zM210.6,235.4h24.8v2.8h-24.8zM237.6,235.4h3.2v2.8h-3.2zM283.6,235.4h3.2v2.8h-3.2zM302.5,235.4h16.7v2.8h-16.7zM326.8,235.4h8.6v2.8h-8.6zM97.2,233.0h14.0v2.8h-14.0zM178.2,233.0h16.7v2.8h-16.7zM197.1,233.0h30.2v2.8h-30.2zM229.4,233.0h3.2v2.8h-3.2zM283.4,233.0h3.2v2.8h-3.2zM302.3,233.0h16.7v2.8h-16.7zM326.5,233.0h5.9v2.8h-5.9zM89.4,230.7h11.3v2.8h-11.3zM105.6,230.7h3.2v2.8h-3.2zM178.2,230.7h11.3v2.8h-11.3zM210.5,230.7h14.0v2.8h-14.0zM229.3,230.7h5.9v2.8h-5.9zM237.4,230.7h3.2v2.8h-3.2zM285.9,230.7h3.2v2.8h-3.2zM299.3,230.7h16.6v2.8h-16.6zM326.2,230.7h5.9v2.8h-5.9zM87.1,228.4h19.3v2.8h-19.3zM210.5,228.4h3.2v2.8h-3.2zM231.9,228.4h3.2v2.8h-3.2zM299.0,228.4h19.3v2.8h-19.3zM325.8,228.4h5.9v2.8h-5.9zM92.8,226.0h3.2v2.8h-3.2zM234.5,226.0h3.2v2.8h-3.2zM296.0,226.0h8.5v2.8h-8.5zM314.7,226.0h3.2v2.8h-3.2zM90.5,223.7h5.8v2.8h-5.8zM295.7,223.7h11.2v2.8h-11.2zM314.4,223.7h5.8v2.8h-5.8zM295.4,221.4h3.2v2.8h-3.2zM311.3,221.4h8.5v2.8h-8.5zM310.9,219.0h8.4v2.8h-8.4zM313.0,216.7h3.1v2.8h-3.1z"/></g>
<path fill="none" stroke="#000" stroke-width="0.6" stroke-linejoin="round" d="M61.9,172.7 67.1,169.8 71.0,169.1 73.7,167.8 79.5,166.7 82.2,167.3 84.6,167.8 89.1,168.5 92.2,169.2 95.3,168.6 100.1,167.9 101.6,168.6 105.1,168.3 108.4,169.6 108.5,170.4 111.8,170.3 112.6,171.2 114.6,169.8 118.1,170.4 121.5,170.2 122.5,170.9 124.0,169.6 126.0,168.6 125.8,167.0 127.8,166.0 128.4,167.6 128.2,168.8 129.9,169.6 132.2,168.8 133.3,168.3 135.6,168.4 135.3,169.6 134.2,170.4 134.2,171.2 131.9,172.0 129.8,172.0 128.1,173.9 126.6,174.2 124.6,174.7 121.5,176.1 119.0,177.8 117.2,179.5 117.0,180.4 117.3,182.3 119.6,182.3 120.9,183.1 122.9,184.3 125.2,184.5 124.0,187.0 124.6,188.2 124.8,189.0 126.1,188.8 127.6,185.8 127.5,185.0 130.6,183.5 131.9,181.8 131.3,180.4 132.9,178.3 133.7,176.3 135.8,176.3 137.3,176.7 138.2,177.4 139.7,177.8 139.3,179.5 138.4,180.4 140.0,180.7 142.1,180.0 144.0,178.6 144.4,180.6 144.8,182.3 145.2,184.1 147.0,185.2 147.5,186.4 148.2,187.6 147.7,188.6 145.7,189.1 143.4,190.3 140.5,190.3 137.2,190.3 135.3,191.7 133.4,192.9 131.7,194.1 133.1,193.9 136.2,192.0 138.7,191.6 138.6,192.5 136.8,192.9 137.4,193.9 137.2,195.1 138.4,195.5 140.3,195.6 142.2,194.1 142.0,195.4 140.5,196.3 137.9,197.1 135.6,198.3 135.0,197.8 135.7,196.9 137.2,196.2 135.7,196.3 134.5,196.9 132.3,197.8 130.8,198.4 129.9,199.6 130.5,200.2 130.3,200.7 128.8,201.0 126.6,201.4 125.9,202.1 125.4,203.3 124.3,204.1 123.8,205.1 122.6,206.4 122.3,207.6 122.6,208.4 121.1,209.2 119.6,210.2 118.1,211.0 116.1,212.5 115.3,213.8 115.0,215.0 115.3,217.0 115.6,218.9 115.0,220.8 114.1,220.9 113.6,219.7 113.0,217.8 113.3,216.2 112.2,214.9 110.7,215.4 109.7,214.5 108.1,214.6 106.7,214.7 106.4,216.0 105.2,216.0 103.7,215.5 101.9,215.4 100.4,216.0 98.6,217.1 97.4,218.3 97.3,219.9 96.4,221.8 95.8,224.4 96.1,226.1 96.8,227.9 97.4,228.9 98.6,229.5 100.3,229.3 101.6,229.1 102.9,227.9 103.4,226.3 105.0,225.7 107.2,225.5 107.3,226.3 106.4,227.6 105.8,229.4 105.2,230.4 104.4,232.4 105.8,232.5 107.4,232.4 109.0,232.5 110.3,233.5 109.8,235.3 109.4,237.2 109.3,238.4 110.0,239.7 110.8,240.9 112.1,241.1 113.5,240.4 114.6,240.3 115.9,241.4 116.1,242.3 115.1,241.6 114.8,240.9 113.8,241.0 112.7,241.9 113.1,242.9 112.1,243.1 111.3,242.1 110.1,241.9 109.3,241.4 109.2,240.5 108.1,239.9 107.0,239.4 107.1,238.4 106.1,236.9 105.4,236.0 104.4,235.7 102.8,235.1 101.2,234.7 99.8,233.2 98.6,232.0 97.5,232.1 96.1,232.6 94.5,232.1 92.7,231.3 91.0,230.2 89.2,229.4 88.1,228.3 87.1,226.8 87.7,225.5 86.9,223.4 85.7,221.8 84.5,220.4 84.5,218.9 83.6,217.7 82.7,216.5 82.2,215.0 82.0,213.5 80.8,212.8 80.3,214.0 81.0,215.6 81.5,217.1 82.0,219.1 82.6,221.2 83.5,222.6 83.2,223.6 82.8,223.1 81.7,221.9 81.2,220.8 81.2,219.6 80.0,218.7 79.5,217.7 80.1,216.7 79.2,215.2 78.8,213.8 78.6,211.9 78.4,210.5 77.6,210.1 76.1,209.4 76.0,208.2 75.7,206.6 75.8,205.4 75.3,204.1 75.5,202.3 76.5,200.5 77.1,199.0 78.8,196.8 79.9,195.0 80.8,192.6 82.3,192.7 82.1,193.8 83.1,192.3 83.1,191.5 82.3,190.5 81.1,189.6 80.8,188.4 81.3,187.0 81.1,185.2 81.7,183.7 81.6,182.3 81.5,181.0 81.3,179.8 79.4,180.8 78.9,180.0 78.0,179.1 76.5,178.9 75.0,178.7 74.2,177.8 71.9,178.3 69.8,179.1 67.3,179.8 68.1,178.7 71.1,177.6 69.5,177.8 67.0,178.9 64.8,180.0 64.6,180.6 62.5,181.4 60.1,182.3 57.1,183.5 54.4,184.3 51.4,185.0 49.5,185.2 51.6,184.4 54.4,183.5 56.6,182.7 59.5,181.6 61.5,180.4 59.8,180.6 58.2,180.5 58.2,179.7 59.1,178.7 57.6,178.3 58.1,177.2 58.4,176.7 60.6,175.8 61.8,175.3 64.3,175.0 66.3,173.9 64.9,173.9 63.1,174.0 61.8,173.7 61.9,172.7ZM115.9,241.4 116.6,242.1 117.6,240.5 118.2,238.9 119.3,238.4 121.0,237.9 122.6,236.7 122.9,237.8 122.2,238.7 123.1,238.4 124.2,237.7 124.5,236.9 125.3,237.8 126.1,238.8 128.0,238.9 129.6,239.5 130.7,239.0 132.8,238.8 132.3,239.4 133.9,240.3 134.0,241.5 135.4,241.9 136.7,243.5 138.1,244.6 140.2,244.7 141.5,245.0 143.1,246.0 144.2,246.8 144.7,248.9 145.6,250.1 145.3,251.6 146.6,252.2 147.4,253.0 148.8,252.9 150.5,253.7 151.6,255.1 153.2,255.0 154.8,255.6 156.5,255.5 158.1,256.6 159.8,257.9 161.6,258.4 162.2,260.6 162.0,262.9 161.0,264.7 159.7,266.2 158.4,267.9 157.9,269.9 158.1,271.7 157.9,274.0 157.4,276.1 156.5,278.5 155.5,280.1 153.7,280.4 152.2,281.2 150.6,281.9 149.2,283.3 148.7,284.7 148.9,286.5 148.1,288.0 147.3,290.0 146.0,291.7 145.0,293.7 143.7,295.1 142.2,295.1 140.5,294.3 139.9,294.2 140.1,294.9 141.4,295.8 142.1,297.0 141.6,298.9 140.4,299.7 138.5,300.1 137.3,300.1 137.6,301.9 136.6,302.7 135.1,302.4 135.5,304.0 137.0,304.5 135.9,305.2 136.0,307.2 134.6,308.3 134.7,309.2 136.5,310.1 136.9,311.3 135.9,312.6 135.1,313.8 135.5,315.4 136.5,316.3 135.5,316.4 137.0,317.1 138.1,318.2 140.5,319.0 139.6,319.5 138.0,320.0 136.5,319.7 134.8,319.0 133.2,317.9 131.5,316.8 130.1,315.2 128.7,313.5 127.8,311.4 127.1,309.6 128.1,308.4 127.1,306.2 126.7,304.8 126.6,303.5 126.1,301.3 126.0,299.9 125.3,297.9 125.4,296.2 125.9,293.7 125.8,291.5 125.3,289.0 125.1,287.2 125.3,285.3 125.4,283.2 125.2,281.0 125.1,278.5 124.9,276.1 124.5,274.6 123.2,273.6 121.5,272.4 119.2,271.1 117.6,269.3 116.5,267.1 115.3,264.6 114.3,262.2 113.1,260.4 111.7,259.4 111.6,257.6 112.5,256.3 113.1,255.1 111.9,254.8 112.0,253.2 112.7,252.0 112.9,250.9 114.1,250.4 114.6,248.9 115.7,248.5 116.0,247.3 115.7,245.2 115.9,243.7 115.4,243.0 115.9,241.4ZM194.0,207.8 194.6,207.7 195.9,208.6 196.9,208.4 197.9,208.7 199.0,208.0 200.3,207.5 201.5,207.0 203.1,206.6 205.1,206.6 207.1,206.4 208.7,206.5 210.0,206.0 211.2,206.4 210.7,207.6 211.3,208.4 210.5,209.7 210.3,210.4 211.4,210.9 212.4,211.5 213.7,211.4 215.8,212.0 216.1,213.1 217.7,213.8 219.3,214.5 220.6,214.5 220.9,213.5 220.8,212.3 222.1,211.5 223.3,211.5 224.1,212.1 226.0,212.8 228.1,213.4 230.2,213.9 231.4,213.4 232.2,213.0 233.6,213.4 234.0,215.0 234.3,216.0 235.2,217.5 235.8,218.9 236.9,221.2 238.0,223.4 239.2,224.9 239.8,226.7 240.0,228.6 241.3,229.8 242.3,232.3 243.1,233.5 244.5,234.4 245.9,235.7 246.8,236.6 246.8,237.7 247.7,239.0 249.3,238.9 250.9,238.2 253.0,238.1 255.4,237.3 255.4,239.2 254.7,240.9 253.8,243.4 252.7,245.8 251.7,247.1 250.3,248.9 248.4,250.4 246.8,252.0 245.7,253.2 244.6,254.7 243.7,255.5 243.1,257.2 242.2,259.2 242.8,260.5 242.9,262.5 243.3,264.7 244.0,265.6 243.8,268.0 243.9,270.5 242.8,272.2 240.8,273.3 239.5,274.2 238.0,275.7 237.2,276.6 237.5,278.5 237.7,281.0 236.6,282.6 234.9,283.5 234.5,284.3 234.6,285.9 233.9,287.5 232.4,288.9 231.2,290.6 229.5,292.3 227.9,293.5 226.4,293.9 224.2,294.1 222.7,294.2 220.5,294.9 219.0,294.3 218.8,292.7 218.9,291.1 218.1,289.4 217.3,287.3 216.0,284.9 215.4,282.2 215.4,280.0 214.4,277.7 213.2,275.2 212.7,273.2 212.7,271.5 213.4,269.3 214.5,267.3 214.9,265.6 214.3,263.1 213.9,260.6 213.3,259.4 213.0,258.2 212.2,256.9 210.9,255.5 209.8,253.9 209.6,252.9 210.2,251.6 210.5,250.1 210.7,248.3 210.3,247.1 209.5,246.4 207.6,246.6 206.5,246.7 205.4,245.2 204.7,244.2 203.3,244.1 201.6,244.4 200.0,245.1 198.4,245.8 197.3,246.1 195.7,245.6 193.5,246.1 191.7,246.6 190.2,245.6 188.3,244.2 186.6,242.9 185.7,241.5 185.4,240.3 184.0,238.7 183.2,237.6 181.9,236.7 181.9,235.3 181.1,233.9 182.2,232.3 182.5,229.8 182.7,228.2 181.8,226.1 182.6,224.5 183.1,222.8 184.3,220.8 184.8,219.7 186.0,217.9 187.4,217.3 189.0,216.2 189.9,214.5 189.8,213.1 190.5,211.8 191.4,210.8 192.5,210.3 193.3,209.3 194.0,207.8ZM234.0,215.0 234.9,216.7 236.0,217.7 236.6,215.6 236.8,217.5 238.6,219.9 239.6,221.8 241.0,223.6 241.7,225.5 243.3,227.7 244.5,229.8 245.7,231.6 246.4,233.7 246.8,235.6 247.1,236.3 248.6,236.1 250.8,235.3 252.9,234.2 255.0,233.1 256.2,232.3 258.0,231.0 259.6,230.0 260.6,228.8 261.9,227.9 262.0,226.7 263.3,225.5 263.7,224.2 262.4,222.9 260.5,222.4 259.8,221.3 259.6,219.6 259.0,220.2 258.3,221.0 257.5,222.0 255.7,222.1 254.6,221.8 254.6,220.0 253.9,219.9 253.7,221.2 253.1,220.4 252.9,219.2 251.9,218.2 251.1,217.1 250.3,215.6 250.8,215.0 251.7,214.7 252.9,215.6 253.6,216.8 254.7,217.8 256.4,218.9 258.0,219.1 259.3,218.6 260.3,218.9 260.8,220.3 262.5,220.7 265.1,220.9 267.2,220.8 268.8,220.8 270.4,220.7 271.2,221.4 271.7,222.6 272.8,223.1 274.5,223.7 274.8,223.7 273.5,224.5 274.7,226.1 275.8,226.5 277.1,225.8 277.2,224.6 277.7,226.1 278.0,228.6 278.7,231.0 279.5,232.9 280.5,235.3 281.4,237.2 282.3,238.9 282.8,240.3 283.6,241.8 284.2,242.0 284.8,241.0 285.7,240.5 286.5,239.3 286.3,237.4 286.8,235.7 286.3,233.2 287.0,232.4 288.5,231.4 289.5,230.0 291.0,228.2 292.5,227.1 292.8,225.6 293.8,225.2 295.2,225.1 296.4,224.5 297.4,224.1 298.1,225.5 298.8,226.7 300.1,227.9 301.0,229.2 301.6,231.0 301.5,232.3 302.6,232.5 303.8,231.6 304.5,231.0 305.0,231.9 305.4,233.5 306.0,235.0 306.6,236.8 306.9,239.0 306.6,240.9 306.7,242.1 307.5,242.7 308.4,243.9 309.2,245.3 309.5,247.1 310.2,248.4 311.3,249.3 312.7,250.4 313.4,250.3 313.0,248.8 312.5,247.6 312.5,246.3 311.7,245.1 311.1,244.4 310.0,243.5 309.3,243.0 308.5,241.5 307.7,240.5 307.5,239.0 307.9,237.7 308.1,236.5 308.2,235.5 309.0,235.5 309.2,236.5 310.7,236.9 311.5,238.1 312.2,238.9 313.2,239.2 313.6,239.9 313.7,241.4 314.4,240.9 315.5,239.9 316.2,239.2 317.2,238.6 318.0,237.8 318.2,236.6 318.0,235.0 317.5,233.5 316.6,232.1 315.2,231.0 314.3,230.0 313.3,228.6 313.7,227.3 314.1,226.3 315.2,225.5 316.3,225.3 317.1,225.6 317.6,226.8 317.9,225.8 319.2,225.3 320.9,224.6 321.7,224.4 322.9,223.9 324.1,223.3 325.2,221.8 326.5,220.5 326.5,219.3 327.0,217.9 327.6,216.8 327.6,215.5 327.0,214.9 326.3,214.4 327.0,213.8 326.4,212.5 325.0,211.3 323.7,209.7 322.4,208.8 323.0,207.6 324.7,206.4 323.4,205.7 321.9,205.7 321.0,206.0 319.8,205.1 318.8,204.1 319.4,203.6 320.0,202.8 320.9,201.7 322.1,201.9 322.3,203.9 323.0,203.9 323.6,203.0 324.8,202.8 326.4,204.1 326.5,205.1 327.8,205.5 328.9,206.4 329.0,207.3 329.7,208.8 330.1,209.6 331.0,209.2 332.4,208.7 332.3,207.6 331.5,206.1 330.0,204.8 328.3,203.3 328.8,202.4 329.5,201.4 329.4,199.9 330.2,198.9 332.0,199.2 332.8,198.1 333.2,196.6 333.4,194.8 333.1,192.9 333.1,191.1 331.8,189.4 331.5,187.9 330.2,186.6 328.8,186.3 327.2,185.6 326.3,186.1 325.1,185.2 323.5,185.0 323.6,184.1 323.8,182.3 324.2,181.0 325.2,179.7 327.7,179.6 330.1,179.4 332.5,180.0 334.5,179.8 335.4,179.5 334.1,177.2 335.9,176.9 338.1,177.8 338.3,176.1 339.6,176.1 340.0,177.2 339.6,178.6 340.0,180.0 339.3,181.4 340.0,182.9 342.1,185.2 344.9,187.6 347.0,189.4 346.9,187.6 346.4,186.8 346.1,185.2 346.1,183.5 345.3,181.8 343.1,180.0 343.5,178.9 345.0,178.3 348.1,178.9 348.1,177.8 349.1,176.9 350.2,176.1 351.9,176.1 349.3,173.9 347.3,173.7 346.1,172.3 348.1,172.8 342.7,169.2 340.4,168.8 337.3,168.3 333.8,168.1 334.6,169.1 331.9,168.4 329.7,168.5 327.1,168.6 322.5,167.3 318.3,167.0 315.0,166.3 311.1,165.7 307.5,165.3 306.1,165.7 304.5,166.5 301.4,166.5 300.1,167.0 296.4,165.5 294.3,164.5 292.1,164.5 289.7,165.0 285.1,164.4 282.6,162.6 278.6,161.5 273.3,160.5 271.7,161.7 269.3,162.1 266.1,162.5 264.2,163.6 264.2,164.4 262.2,165.5 260.3,164.5 258.8,166.0 256.7,165.2 256.9,166.0 258.5,169.6 258.6,171.7 258.2,171.7 257.5,169.3 256.1,166.5 254.6,165.0 252.1,165.2 251.5,166.5 252.6,168.6 254.7,169.8 251.3,168.9 247.8,168.3 247.7,169.5 245.3,169.5 243.1,169.8 240.0,170.2 238.1,171.2 235.4,169.6 234.4,169.5 235.8,171.7 234.2,171.9 233.2,173.8 231.8,174.5 230.5,174.6 229.2,174.1 228.4,172.8 226.3,171.2 229.4,172.0 232.7,172.1 233.4,171.2 232.9,170.5 230.3,169.7 227.6,168.9 226.0,168.6 223.5,168.1 221.6,167.0 219.8,166.9 217.2,167.8 214.9,168.4 212.7,169.4 211.7,170.7 210.6,172.3 209.1,173.9 208.0,175.0 205.9,175.8 204.3,176.7 204.3,178.3 204.8,180.0 206.2,181.2 207.5,180.8 209.2,179.7 209.9,180.6 210.7,181.8 211.4,183.5 211.8,184.2 212.9,184.1 214.4,183.1 214.7,181.8 215.0,180.4 216.4,179.4 214.9,178.1 214.9,176.3 216.0,175.2 217.5,173.9 218.3,172.6 219.9,172.5 220.9,173.4 220.4,174.1 218.9,175.2 218.1,176.3 218.5,177.8 218.4,178.3 220.0,179.0 221.7,178.7 223.8,178.3 225.7,178.9 224.5,179.5 221.6,179.5 220.6,180.0 220.8,181.2 221.5,180.8 221.4,182.2 220.1,181.6 219.2,182.0 218.9,182.9 219.0,184.1 218.2,184.9 217.2,185.2 215.1,185.2 213.1,185.8 211.4,185.5 210.1,185.8 209.1,185.2 209.5,184.1 209.4,182.9 209.3,181.6 208.0,182.2 207.4,182.9 207.4,184.1 207.9,185.2 208.1,186.1 206.4,186.4 204.6,186.6 204.2,187.9 203.3,188.8 202.3,189.4 201.6,189.6 201.4,190.5 200.2,191.0 198.9,191.3 198.4,190.9 198.6,192.1 197.1,192.0 195.5,192.3 195.9,193.2 197.3,193.5 197.9,193.9 198.7,195.1 198.8,196.6 198.5,198.4 196.6,198.4 194.3,198.3 192.1,198.0 190.9,199.0 191.3,200.2 191.2,202.1 190.4,204.1 191.1,205.2 190.8,206.4 192.4,206.2 193.5,206.6 194.3,207.6 195.4,206.7 197.8,206.6 199.2,205.5 200.0,204.3 199.7,203.3 200.8,201.7 202.2,201.0 203.2,199.9 203.0,198.8 203.9,198.4 205.3,198.6 207.2,198.1 208.6,197.3 210.0,198.0 210.4,199.1 211.6,200.1 212.2,200.6 213.7,201.2 214.3,201.7 215.7,202.7 216.1,204.0 215.9,205.1 216.7,204.8 217.2,203.9 216.7,203.0 217.0,202.1 218.1,202.7 218.6,202.5 218.0,201.8 216.9,201.3 215.9,200.3 214.9,200.2 213.8,199.4 213.3,198.3 212.3,197.5 212.0,196.3 213.3,195.7 213.3,196.6 214.1,196.2 214.9,197.5 216.2,198.4 217.8,199.4 219.3,200.3 219.4,202.1 220.1,203.0 220.9,204.0 221.5,204.8 221.8,205.7 222.1,206.6 223.0,207.0 223.6,207.0 223.4,205.9 224.0,205.2 224.3,204.8 223.2,203.6 222.8,202.4 222.9,201.9 223.9,202.7 224.4,202.4 224.5,201.6 226.0,201.7 226.3,202.5 226.4,203.3 227.1,204.5 227.6,205.7 227.9,206.4 228.8,206.7 230.1,207.3 231.2,207.0 231.3,206.5 232.7,207.2 233.7,207.5 235.2,206.6 236.5,206.8 236.8,207.8 236.8,209.4 236.6,210.2 236.2,211.5 236.0,212.5 235.6,213.4 234.9,213.6 233.6,213.4ZM51.3,173.3 53.1,172.8 53.8,173.8 55.8,174.1 57.7,173.4 60.9,172.3 61.4,171.3 59.4,171.0 58.6,169.9 57.3,169.2M161.7,179.0 160.3,178.0 158.4,177.2 157.6,176.1 157.0,174.2 156.8,172.8 156.5,171.2 157.8,169.6 159.9,168.6 157.6,167.6 158.0,166.0 158.1,164.5 157.7,162.8 155.2,162.1 152.3,162.1 150.6,161.7 149.9,160.7 149.2,160.0 153.6,159.0 156.4,158.1 160.7,156.9 167.6,156.6 174.4,156.0 179.0,155.8 183.9,156.3 186.9,157.1 192.1,157.3 188.5,158.5 186.8,159.8 186.7,161.7 185.3,163.1 184.3,164.5 182.4,166.0 182.9,167.6 180.3,168.6 177.7,169.8 174.2,170.7 171.4,172.3 168.8,172.7 166.7,173.9 165.4,175.6 163.6,177.2 162.7,178.7ZM179.8,172.8 181.7,171.9 182.7,172.8 185.3,172.1 187.0,171.7 188.1,172.5 188.7,173.4 187.5,174.2 184.9,175.1 182.8,175.0 181.0,174.7 181.7,173.9 180.1,173.5 181.9,173.0ZM194.6,190.4 196.7,190.2 199.1,189.7 201.2,189.1 200.5,188.8 201.6,187.5 200.3,187.0 200.0,186.3 198.9,185.1 198.6,184.1 197.7,183.5 197.1,183.5 198.2,181.8 196.4,181.6 197.4,180.5 195.6,180.5 194.8,181.8 194.9,182.9 195.0,184.1 195.7,184.1 195.4,184.9 196.8,184.8 197.1,185.8 197.2,186.5 195.9,186.6 195.8,187.2 196.3,187.8 195.1,188.4 196.7,188.8 197.2,189.1 195.8,189.4ZM190.7,188.6 192.5,188.4 194.1,187.9 194.5,186.6 195.0,185.2 194.4,184.4 193.2,184.3 192.2,185.2 190.8,185.6 191.0,186.6 191.2,187.5 190.4,188.2ZM207.2,159.6 209.9,160.7 212.2,161.6 213.3,160.3 214.9,159.8 213.0,159.0 210.8,158.5 207.5,158.8ZM212.1,158.4 213.6,159.0 216.4,159.1 218.3,158.5 216.1,158.1 213.4,158.1ZM239.8,167.0 241.9,167.4 244.7,167.5 242.8,166.0 241.9,164.5 242.8,163.6 244.4,162.6 246.7,161.8 248.8,161.3 246.9,161.2 243.1,161.8 240.9,162.9 240.4,164.5 240.1,166.0ZM265.4,159.4 269.9,160.3 272.4,160.0 271.9,159.1 267.7,158.5 263.9,157.7 262.2,158.5ZM299.7,162.6 303.6,162.3 308.9,162.9 310.4,163.4 305.1,163.3 302.6,163.6ZM304.8,164.5 307.4,164.7 307.0,164.3 304.5,164.1ZM329.9,185.5 331.6,186.4 333.5,188.2 335.3,190.5 336.8,191.5 337.4,193.5 338.5,194.4 338.4,195.4 337.7,195.4 336.5,193.5 335.1,191.7 333.2,189.4 331.0,187.0ZM338.7,200.0 338.3,198.6 339.3,198.6 337.9,196.1 340.1,197.4 342.5,197.5 343.4,198.6 342.5,200.2 342.2,200.2 340.1,199.6 340.2,200.6 339.6,200.8ZM340.8,201.1 342.9,203.3 342.7,204.8 343.5,206.4 344.1,208.0 343.7,208.8 343.4,208.6 342.7,209.2 340.9,209.3 340.8,209.7 340.2,210.7 339.0,209.7 338.8,209.3 337.4,209.6 336.0,210.1 335.0,210.1 334.7,209.4 335.8,208.3 337.3,208.2 338.7,208.1 338.8,207.2 339.1,206.0 339.9,206.6 340.7,205.9 341.0,204.5 340.6,202.9 340.1,201.9 339.9,201.2ZM335.0,210.2 336.2,211.0 336.5,212.5 336.4,213.4 336.0,213.6 335.2,212.5 334.4,211.7 334.0,210.8 334.6,210.4ZM336.7,210.3 337.9,209.7 338.9,210.3 338.7,210.9 337.9,210.8 337.7,211.5 336.8,211.0ZM328.7,220.9 329.3,221.4 329.1,223.6 328.7,224.9 327.9,223.6 327.9,222.1 328.2,221.2ZM316.4,228.2 317.1,227.3 318.4,227.2 318.8,227.8 318.3,228.9 317.5,229.5 316.5,229.1ZM329.2,229.2 331.0,229.2 331.5,231.0 330.8,232.5 331.3,234.1 332.8,234.7 333.9,235.3 334.1,236.5 332.8,235.3 331.7,235.1 330.7,235.1 330.1,234.4 329.3,233.1 328.9,231.9 329.5,231.4 329.3,230.4ZM332.5,243.4 333.0,242.1 334.0,241.3 335.1,241.5 336.0,239.9 337.2,241.5 337.4,243.4 336.9,244.2 336.4,245.0 335.9,244.6 334.7,244.0 334.7,242.7 333.9,242.7 332.7,243.5ZM334.4,236.6 335.7,236.6 336.1,238.4 335.7,239.4 334.9,239.0 334.5,237.8ZM332.0,237.4 333.1,237.8 333.6,239.0 333.7,240.5 332.8,240.3 332.7,239.0 332.2,239.0ZM327.2,241.5 329.4,238.1 329.7,239.0 328.0,241.1ZM329.9,235.5 331.2,235.6 331.3,236.8 330.8,236.8ZM319.3,249.5 320.8,249.9 321.1,248.7 323.0,248.1 324.0,246.4 325.6,245.5 326.8,243.5 327.7,244.0 328.3,244.8 329.6,245.6 328.9,246.6 328.0,247.1 328.2,248.3 328.4,249.5 329.6,250.8 328.5,251.0 327.9,252.0 327.7,253.2 326.8,253.9 326.8,255.5 326.2,256.7 325.1,256.9 324.6,256.3 323.0,255.9 321.6,256.3 320.0,255.6 319.7,253.9 318.9,252.6 318.7,251.6 318.7,250.5ZM303.6,245.1 306.0,245.6 307.4,247.3 309.2,248.9 310.5,249.8 312.1,251.0 313.0,252.0 313.8,253.5 313.7,254.8 315.3,255.7 315.1,257.6 315.0,259.2 313.6,259.2 312.5,258.0 311.3,256.9 309.9,255.1 309.2,253.2 308.0,251.8 307.4,249.9 305.8,248.1 304.4,246.8 303.6,245.6ZM314.3,260.4 315.2,259.3 316.3,259.3 317.9,260.3 320.1,259.9 320.6,259.9 322.4,260.5 324.3,261.5 324.2,262.7 322.1,262.4 319.4,261.9 317.3,261.6 315.5,261.1ZM324.8,262.0 327.0,262.0 329.2,262.2 331.3,262.4 333.5,262.1 333.5,262.6 331.3,263.0 329.1,262.9 326.9,263.1 324.8,262.9ZM329.0,263.6 331.0,263.8 330.6,264.6 329.2,264.1ZM333.8,264.7 335.6,263.1 338.1,262.4 337.2,263.4 334.9,264.6ZM330.6,250.4 331.7,250.4 333.9,250.8 336.3,249.9 335.6,251.4 333.9,251.6 331.7,251.4 330.9,251.6 330.9,253.0 332.3,253.2 334.2,253.0 332.8,254.2 332.2,255.1 333.3,256.3 333.8,257.6 333.2,258.8 332.1,257.9 331.6,256.3 331.1,255.7 331.1,257.6 330.9,258.9 329.9,258.8 330.0,256.7 329.3,255.5 330.1,253.2 330.4,251.6ZM338.8,249.5 339.9,250.4 339.4,252.0 339.4,253.0 338.8,251.4ZM339.3,255.7 342.3,256.1 341.4,256.4 339.5,256.3ZM337.1,255.8 338.4,255.9 338.2,256.7 337.3,256.6ZM342.6,253.0 344.3,252.5 345.9,253.0 346.4,255.1 347.4,256.1 349.7,254.1 351.3,254.5 353.5,255.2 355.6,256.2 357.7,257.6 358.7,258.8 360.3,259.4 359.7,260.4 360.7,261.9 361.6,263.1 363.1,264.7 362.0,264.7 359.9,264.1 358.9,262.9 357.4,261.6 355.7,262.5 355.1,263.4 352.9,263.2 351.4,262.0 349.8,262.2 350.4,260.6 350.0,258.8 347.9,257.7 345.8,256.8 344.5,256.9 344.4,255.7 345.3,255.1 343.7,254.7 342.6,253.6ZM361.4,258.9 363.1,258.8 365.3,257.2 365.3,258.2 363.6,259.6 361.9,259.6ZM364.1,255.2 365.9,256.3 366.4,257.6 365.9,256.9 364.3,255.7ZM368.2,258.8 369.3,260.0 368.9,260.5 368.1,259.4ZM370.5,261.0 373.4,262.5 374.3,264.0 373.3,263.7 371.0,261.9ZM375.3,276.9 377.5,278.9 377.9,279.6 376.5,278.9 375.2,277.4ZM390.4,273.6 391.8,273.7 391.5,274.5 390.2,274.3ZM379.6,270.5 380.2,270.8 380.2,272.4 379.8,271.5ZM354.4,265.2 355.2,267.4 355.2,269.6 356.6,270.5 356.5,272.4 356.5,274.8 357.4,275.8 358.8,276.9 359.3,279.1 360.3,280.7 361.6,282.6 361.9,284.1 361.4,286.5 359.7,289.6 358.2,291.7 356.4,293.3 354.2,295.8 352.5,297.9 350.0,298.8 347.7,300.2 346.7,298.9 344.9,299.9 342.7,299.1 342.3,297.6 342.7,296.2 341.3,295.9 342.3,294.9 342.6,292.7 341.2,293.9 339.7,294.9 339.1,294.7 338.6,292.7 337.1,291.5 334.1,291.0 330.7,291.9 328.3,292.7 327.3,293.8 323.7,293.8 321.1,295.2 319.2,294.9 318.4,294.3 320.1,291.5 320.0,289.6 320.2,287.4 319.8,284.7 320.2,282.2 321.1,279.8 321.9,278.9 323.9,277.8 325.5,277.4 327.3,276.7 329.5,276.2 331.1,274.2 332.1,272.6 333.4,272.1 334.7,270.8 336.5,269.3 338.0,270.3 339.6,270.4 340.5,268.3 341.4,267.3 343.4,266.2 346.0,266.9 348.0,267.1 346.9,268.7 346.1,270.5 347.5,271.5 349.4,272.9 350.9,273.7 352.1,271.7 352.8,269.3 353.1,267.4 353.8,265.6ZM344.7,302.2 346.2,302.7 348.1,302.4 347.3,303.8 345.9,305.2 344.4,305.7 343.8,304.8 344.1,303.5ZM377.7,294.4 378.7,295.6 378.1,297.4 378.9,297.6 379.9,298.8 381.1,298.5 378.7,300.5 376.4,302.3 374.4,303.3 374.2,302.9 375.3,301.7 375.2,300.5 376.6,299.5 377.4,298.3 377.6,296.8 377.6,295.2ZM372.9,301.9 373.5,302.8 373.2,303.5 370.8,305.0 369.8,306.0 367.6,306.8 365.8,308.5 363.8,309.4 362.6,309.4 361.5,308.6 362.8,307.4 365.2,306.2 367.9,305.0 370.1,303.8 371.8,302.4ZM253.3,266.8 254.2,270.9 253.5,272.4 253.0,274.2 252.1,277.3 250.9,280.4 249.8,282.8 247.8,283.5 246.6,282.8 246.1,279.8 247.3,277.3 247.2,274.2 247.9,272.0 249.9,271.4 251.6,269.9 252.6,268.0ZM286.7,239.9 288.1,241.5 288.8,243.0 288.2,244.4 287.2,244.6 286.7,243.1 286.6,241.5ZM212.7,205.1 215.8,204.9 215.5,206.7 212.7,205.6ZM208.2,201.4 209.7,201.4 209.7,203.6 208.6,203.9ZM208.5,199.6 209.4,199.0 209.4,200.8 208.7,200.6ZM224.2,208.2 226.9,208.6 225.7,208.9 224.2,208.6ZM233.2,208.8 235.3,208.1 234.9,208.9 233.7,209.3ZM109.5,225.0 111.7,223.6 113.8,223.5 115.9,224.2 117.9,225.5 119.9,226.6 120.7,227.1 119.2,227.4 116.9,227.6 117.5,226.6 116.2,226.1 114.2,224.9 112.7,224.5 111.0,224.9ZM120.2,229.3 121.9,227.4 123.3,227.6 125.1,227.7 126.7,229.1 126.0,229.4 124.4,229.4 123.1,230.3 122.2,229.5ZM116.0,229.3 118.1,229.5 118.1,229.9 116.8,230.0 116.0,229.5ZM127.9,229.2 129.7,229.3 129.5,229.8 127.9,229.8ZM132.9,238.8 134.0,238.7 133.9,239.5 132.9,239.5ZM143.1,193.3 145.0,191.1 146.5,189.4 148.2,188.6 147.4,190.5 148.8,191.1 149.4,192.2 149.4,193.5 148.3,194.5 146.5,194.3 146.2,193.4 144.3,193.4ZM79.4,189.6 81.8,190.3 82.1,192.3 81.1,192.5 80.3,191.4 79.4,190.3ZM78.2,185.7 79.2,185.8 78.0,187.9 77.7,187.0ZM143.7,176.7 140.8,175.8 139.7,174.7 138.5,173.9 135.4,174.1 135.5,173.4 139.1,172.8 140.2,171.7 141.6,170.7 141.5,169.6 140.0,168.8 138.6,168.1 137.4,168.1 135.8,168.1 133.5,168.1 132.3,167.6 131.4,166.8 131.7,165.5 133.2,164.4 136.2,164.3 139.5,164.4 141.1,165.1 143.1,165.5 144.7,166.5 146.3,167.6 146.7,168.8 147.2,170.2 149.4,171.2 149.9,171.7 148.0,173.0 146.7,172.5 145.3,172.0 145.4,173.4 146.2,175.0 145.0,175.8 144.7,176.9ZM116.9,169.1 119.7,168.6 121.4,167.6 119.2,167.0 120.3,165.5 118.8,164.8 115.2,165.3 114.0,164.7 110.3,165.3 108.6,166.5 110.2,166.8 108.0,167.8 107.9,168.6 110.4,168.9 109.0,169.8 112.5,169.5 115.2,169.2ZM104.6,166.0 108.3,164.3 111.8,163.9 113.2,164.5 109.1,165.7 106.9,166.6 104.8,166.8ZM136.2,161.7 142.4,161.9 144.6,161.2 147.3,159.8 149.8,159.4 154.4,158.1 159.4,156.9 158.2,156.2 151.8,156.1 144.7,156.7 140.1,157.7 141.1,158.5 140.3,159.8 137.0,160.9ZM142.0,162.4 140.6,163.5 135.0,163.6 132.3,163.4 133.8,161.9 136.1,162.5 139.2,162.3ZM140.1,159.4 136.7,160.0 134.8,159.0 137.5,157.7 139.6,158.1ZM122.3,163.1 118.8,163.6 116.1,163.4 114.9,162.6 118.8,161.8 122.0,162.1ZM132.9,164.3 129.0,164.1 127.9,165.5 129.0,166.0 131.9,165.3ZM127.7,164.3 123.1,165.0 122.7,166.2 125.6,166.4ZM124.8,168.6 121.8,168.9 122.1,169.4 124.1,169.3ZM133.1,174.5 131.5,175.0 128.4,175.3 127.3,174.5 129.2,172.8 131.2,172.3 132.4,173.6ZM129.1,162.9 125.8,162.6 125.5,161.7 129.3,161.5 130.7,162.1ZM116.9,161.9 113.8,162.3 111.6,161.8 115.1,160.9 118.2,160.7ZM133.7,160.7 130.5,160.5 127.9,159.8 129.5,159.1 133.0,159.6ZM32.9,228.6 34.1,227.9 33.5,227.0 33.0,227.7ZM142.9,315.0 145.7,315.0 145.6,316.1 143.7,316.1ZM165.2,318.2 167.1,318.4 167.2,319.1 165.8,318.8ZM265.5,312.0 267.1,312.3 266.5,313.1 265.3,313.0ZM100.4,252.4 101.1,252.4 101.1,253.2 100.4,253.2ZM338.0,167.0 338.3,166.5 339.3,167.2ZM74.5,343.9 82.1,344.2 88.1,343.7 87.7,342.8 92.5,342.3 97.8,341.2 104.0,340.4 110.8,339.9 118.8,340.4 124.5,340.9 124.1,338.5 128.2,338.8 132.0,338.8 139.9,339.2 143.1,338.5 143.3,335.4 145.2,333.3 146.0,331.7 147.1,330.6 148.3,329.9 150.4,329.0 152.0,328.8 151.7,329.9 150.0,330.6 149.5,332.3 148.8,333.8 152.0,335.4 152.8,337.0 154.0,339.0 154.6,340.9 158.4,342.3 164.9,343.5 170.6,343.7 174.8,343.7 175.8,342.8 180.5,341.9 183.8,340.4 186.4,339.0 190.1,338.0 192.3,337.0 196.1,336.4 200.0,335.9 203.9,335.9 207.8,335.9 211.8,335.4 215.6,335.9 219.6,335.9 223.6,335.4 226.2,334.6 229.8,335.7 231.7,334.9 236.1,333.6 240.7,332.3 244.9,331.9 246.3,332.6 248.3,333.3 252.2,333.5 255.4,333.6 255.5,334.7 256.7,335.4 259.0,335.4 262.2,334.2 266.2,333.1 270.7,332.5 274.9,332.3 278.2,332.3 282.0,331.5 285.7,332.0 290.0,331.7 293.4,332.5 297.4,332.6 302.0,332.0 306.2,331.9 310.5,331.7 313.7,332.5 317.1,333.0 319.4,334.4 322.7,334.9 325.2,335.9 327.9,336.7 330.6,337.5 328.5,339.0 322.4,340.9 316.4,343.3 319.5,343.5 325.5,343.9M228.9,201.2 231.4,201.1 232.8,200.2 234.8,200.2 236.4,201.1 237.9,201.4 239.9,201.4 241.4,200.7 241.1,199.6 239.4,198.5 237.2,197.2 236.1,196.6 235.7,196.2 236.3,194.8 237.5,193.9 236.6,194.1 234.8,194.6 233.9,195.1 234.4,196.2 234.2,196.8 233.3,197.3 232.8,197.1 231.6,196.1 232.5,195.4 230.9,194.8 229.7,194.8 228.9,196.2 228.2,197.8 227.6,198.8 227.4,199.7 228.1,200.7ZM246.2,196.0 247.4,194.8 249.2,194.1 251.2,194.4 251.6,196.2 250.0,196.3 249.9,197.2 249.2,197.2 250.3,198.8 251.9,199.4 252.6,200.8 253.2,202.7 254.0,203.9 254.8,205.7 254.5,206.5 253.0,206.7 251.4,206.4 250.3,205.7 249.5,204.5 249.3,203.3 249.6,202.3 248.8,200.8 247.5,199.6 246.8,198.4 246.0,197.2ZM96.8,173.1 100.2,171.4 103.2,171.2 104.1,172.0 101.9,173.0 99.1,173.4ZM99.2,177.8 102.1,176.4 105.2,175.8 107.3,175.9 104.7,176.9 101.3,177.9ZM102.1,180.4 105.6,179.6 107.6,179.8 104.8,180.0ZM107.5,182.9 109.6,181.2 109.7,181.8 108.2,182.9ZM107.0,190.0 108.9,187.8 109.1,186.1 110.5,186.1 109.8,188.8 108.8,190.0ZM111.2,194.4 114.3,192.9 117.0,192.1 118.5,193.2 118.2,194.5 115.9,194.8 113.6,194.4ZM112.8,200.2 113.6,197.8 115.7,195.6 117.5,195.6 115.4,197.8 114.3,200.2ZM118.0,195.4 120.6,195.1 122.1,196.2 121.4,197.2 120.0,197.2 119.3,198.8 118.6,198.9 118.1,197.5 118.7,196.2ZM117.2,200.5 119.9,199.4 122.0,199.1 121.2,199.9 118.9,200.8ZM121.4,198.6 123.9,197.9 125.1,197.9 124.6,198.5 122.6,198.6ZM297.0,188.6 297.6,187.2 299.0,185.8 299.2,183.8 298.7,183.8 298.8,186.4 297.8,188.2ZM271.7,196.6 272.9,194.5 275.9,194.8 276.3,194.4 273.3,194.1 271.4,195.6ZM257.2,197.8 257.6,195.0 259.5,194.8 259.9,197.2 258.5,198.1ZM226.3,178.9 226.6,177.2 228.3,177.8 228.2,178.7ZM229.7,177.8 229.9,176.0 231.0,176.7 230.8,177.8ZM234.6,253.0 235.7,251.6 237.0,251.6 237.3,253.2 236.5,255.2 234.8,255.2ZM231.9,256.3 232.3,258.2 233.1,260.6 233.9,262.7 233.1,262.5 231.8,259.4 231.7,256.9ZM236.9,263.7 237.6,266.2 238.0,269.3 237.4,269.6 236.9,266.8 236.7,264.3ZM124.6,270.9 125.3,271.1 126.1,272.2 125.2,272.0ZM211.0,180.6 211.8,179.7 212.3,180.3 211.5,180.7ZM107.0,238.2 107.7,237.2 108.2,238.2 107.4,238.4Z"/>
<g filter="url(#bl)"><path fill="#4010F8" d="M589.1,226.0h8.5v2.8h-8.5zM626.5,226.0h8.5v2.8h-8.5zM589.1,223.7h11.2v2.8h-11.2zM626.4,223.7h13.8v2.8h-13.8zM591.8,221.4h8.5v2.8h-8.5zM626.3,221.4h11.1v2.8h-11.1zM591.8,219.0h8.4v2.8h-8.4zM626.2,219.0h13.7v2.8h-13.7zM584.0,216.7h5.8v2.8h-5.8zM628.7,216.7h11.0v2.8h-11.0zM660.3,216.7h3.1v2.8h-3.1zM665.6,216.7h5.8v2.8h-5.8zM586.7,214.3h3.1v2.8h-3.1zM607.6,214.3h5.7v2.8h-5.7zM625.9,214.3h11.0v2.8h-11.0zM661.6,198.0h5.4v2.8h-5.4z"/>
<path fill="#3050E0" d="M495.4,350.9h209.1v0.8h-209.1zM492.7,350.1h214.5v1.3h-214.5zM489.7,349.0h220.6v1.5h-220.6zM486.4,347.8h227.3v1.7h-227.3zM482.8,346.4h234.4v1.9h-234.4zM479.0,344.9h241.9v2.0h-241.9zM475.2,343.2h249.7v2.2h-249.7zM485.5,341.4h77.2v2.3h-77.2zM573.0,341.4h146.8v2.3h-146.8zM493.2,339.6h63.0v2.3h-63.0zM579.5,339.6h143.8v2.3h-143.8zM522.4,337.7h32.6v2.4h-32.6zM582.8,337.7h145.7v2.4h-145.7zM539.9,335.8h14.0v2.4h-14.0zM588.2,335.8h143.4v2.4h-143.4zM540.5,333.8h12.4v2.5h-12.4zM597.8,333.8h128.9v2.5h-128.9zM543.2,331.8h6.6v2.5h-6.6zM634.1,331.8h22.7v2.5h-22.7zM662.3,331.8h57.0v2.5h-57.0zM544.1,329.8h6.7v2.5h-6.7zM678.0,329.8h12.9v2.5h-12.9zM702.8,329.8h8.7v2.5h-8.7zM545.1,327.7h6.8v2.6h-6.8zM663.4,312.3h2.9v2.8h-2.9zM617.7,293.8h5.6v2.8h-5.6zM720.3,293.8h3.1v2.8h-3.1zM615.3,291.5h10.8v2.8h-10.8zM716.1,291.5h3.1v2.8h-3.1zM721.2,291.5h8.3v2.8h-8.3zM615.4,289.2h10.9v2.8h-10.9zM716.9,289.2h13.5v2.8h-13.5zM618.1,286.8h3.1v2.8h-3.1zM623.3,286.8h3.1v2.8h-3.1zM717.6,286.8h8.4v2.8h-8.4zM738.5,286.8h8.4v2.8h-8.4zM612.9,284.5h3.1v2.8h-3.1zM623.4,284.5h3.1v2.8h-3.1zM718.2,284.5h8.4v2.8h-8.4zM613.0,282.1h3.1v2.8h-3.1zM716.1,282.1h11.1v2.8h-11.1zM613.0,279.8h3.2v2.8h-3.2zM716.6,279.8h11.1v2.8h-11.1zM613.1,277.5h11.2v2.8h-11.2zM719.7,277.5h3.2v2.8h-3.2zM725.0,277.5h3.2v2.8h-3.2zM610.4,275.1h13.9v2.8h-13.9zM631.8,275.1h3.2v2.8h-3.2zM610.5,272.8h13.9v2.8h-13.9zM610.5,270.5h5.9v2.8h-5.9zM629.3,270.5h11.3v2.8h-11.3zM615.9,268.1h3.2v2.8h-3.2zM626.7,268.1h16.7v2.8h-16.7zM513.2,265.8h3.2v2.8h-3.2zM610.6,265.8h5.9v2.8h-5.9zM618.7,265.8h5.9v2.8h-5.9zM629.5,265.8h14.0v2.8h-14.0zM610.6,263.4h3.2v2.8h-3.2zM618.7,263.4h3.2v2.8h-3.2zM510.2,261.1h3.2v2.8h-3.2zM510.1,258.8h3.2v2.8h-3.2zM629.6,258.8h3.2v2.8h-3.2zM711.1,258.8h3.2v2.8h-3.2zM626.9,256.4h5.9v2.8h-5.9zM708.5,256.4h5.9v2.8h-5.9zM496.3,251.8h5.9v2.8h-5.9zM602.5,244.7h5.9v2.8h-5.9zM504.9,237.7h3.2v2.8h-3.2zM502.4,235.4h3.2v2.8h-3.2zM651.1,235.4h3.2v2.8h-3.2zM642.9,233.0h11.3v2.8h-11.3zM634.7,230.7h3.2v2.8h-3.2zM642.8,230.7h14.0v2.8h-14.0zM513.9,228.4h3.2v2.8h-3.2zM583.7,228.4h16.6v2.8h-16.6zM602.4,228.4h38.1v2.8h-38.1zM642.7,228.4h16.6v2.8h-16.6zM431.3,226.0h3.2v2.8h-3.2zM514.2,226.0h3.2v2.8h-3.2zM578.4,226.0h11.2v2.8h-11.2zM597.1,226.0h29.9v2.8h-29.9zM634.5,226.0h27.2v2.8h-27.2zM578.4,223.7h11.2v2.8h-11.2zM599.8,223.7h27.2v2.8h-27.2zM639.7,223.7h24.5v2.8h-24.5zM480.2,221.4h3.2v2.8h-3.2zM581.2,221.4h11.1v2.8h-11.1zM599.8,221.4h27.1v2.8h-27.1zM636.9,221.4h27.1v2.8h-27.1zM668.8,221.4h3.2v2.8h-3.2zM727.2,221.4h3.2v2.8h-3.2zM581.2,219.0h11.1v2.8h-11.1zM599.8,219.0h27.0v2.8h-27.0zM639.4,219.0h34.9v2.8h-34.9zM476.0,216.7h5.8v2.8h-5.8zM589.2,216.7h40.0v2.8h-40.0zM639.2,216.7h21.6v2.8h-21.6zM662.9,216.7h3.1v2.8h-3.1zM476.7,214.3h3.1v2.8h-3.1zM500.2,214.3h5.7v2.8h-5.7zM508.1,214.3h3.1v2.8h-3.1zM589.3,214.3h18.8v2.8h-18.8zM612.8,214.3h13.6v2.8h-13.6zM636.4,214.3h34.5v2.8h-34.5zM474.8,212.0h5.7v2.8h-5.7zM586.7,212.0h86.4v2.8h-86.4zM475.7,209.7h5.7v2.8h-5.7zM586.8,209.7h28.9v2.8h-28.9zM617.8,209.7h5.7v2.8h-5.7zM633.4,209.7h39.3v2.8h-39.3zM710.9,209.7h3.1v2.8h-3.1zM474.0,207.3h15.9v2.8h-15.9zM599.8,207.3h10.8v2.8h-10.8zM622.8,207.3h3.1v2.8h-3.1zM630.5,207.3h41.6v2.8h-41.6zM710.1,207.3h3.1v2.8h-3.1zM738.3,207.3h5.6v2.8h-5.6zM472.5,205.0h20.9v2.8h-20.9zM604.8,205.0h10.7v2.8h-10.7zM620.1,205.0h3.0v2.8h-3.0zM625.2,205.0h46.3v2.8h-46.3zM693.9,205.0h3.0v2.8h-3.0zM699.0,205.0h13.2v2.8h-13.2zM473.6,202.7h20.7v2.8h-20.7zM587.1,202.7h3.0v2.8h-3.0zM604.8,202.7h18.2v2.8h-18.2zM625.0,202.7h45.9v2.8h-45.9zM683.0,202.7h8.1v2.8h-8.1zM693.1,202.7h18.2v2.8h-18.2zM738.5,202.7h5.5v2.8h-5.5zM474.8,200.4h3.0v2.8h-3.0zM479.8,200.4h13.0v2.8h-13.0zM524.8,200.4h5.5v2.8h-5.5zM587.3,200.4h3.0v2.8h-3.0zM604.7,200.4h5.5v2.8h-5.5zM612.2,200.4h60.5v2.8h-60.5zM682.2,200.4h28.0v2.8h-28.0zM739.7,200.4h3.0v2.8h-3.0zM478.5,198.0h15.3v2.8h-15.3zM629.4,198.0h5.4v2.8h-5.4zM636.9,198.0h25.2v2.8h-25.2zM666.5,198.0h12.9v2.8h-12.9zM681.4,198.0h30.2v2.8h-30.2zM740.7,198.0h3.0v2.8h-3.0zM479.9,195.7h12.7v2.8h-12.7zM629.1,195.7h81.2v2.8h-81.2zM476.4,193.5h2.9v2.8h-2.9zM481.2,193.5h12.6v2.8h-12.6zM628.8,193.5h77.9v2.8h-77.9zM477.9,191.2h17.2v2.8h-17.2zM633.2,191.2h50.7v2.8h-50.7zM690.6,191.2h2.9v2.8h-2.9zM702.5,191.2h2.9v2.8h-2.9zM481.8,188.9h2.9v2.8h-2.9zM632.8,188.9h2.9v2.8h-2.9zM637.5,188.9h5.2v2.8h-5.2zM644.6,188.9h9.9v2.8h-9.9zM656.4,188.9h12.3v2.8h-12.3zM670.5,188.9h5.2v2.8h-5.2zM474.1,186.7h2.8v2.7h-2.8zM637.0,186.7h2.8v2.7h-2.8zM646.3,186.7h5.2v2.7h-5.2zM655.6,186.7h2.8v2.7h-2.8zM662.6,186.7h2.8v2.7h-2.8zM744.0,186.7h2.8v2.7h-2.8zM446.2,184.5h5.1v2.7h-5.1zM531.0,184.5h2.8v2.7h-2.8zM602.0,184.5h2.8v2.7h-2.8zM739.6,184.5h7.4v2.7h-7.4zM450.9,182.3h7.3v2.7h-7.3zM532.1,182.3h14.0v2.7h-14.0zM741.9,182.3h5.0v2.7h-5.0zM455.5,180.1h7.2v2.7h-7.2zM475.5,180.1h2.7v2.7h-2.7zM511.0,180.1h2.7v2.7h-2.7zM517.7,180.1h2.7v2.7h-2.7zM528.8,180.1h16.0v2.7h-16.0zM739.5,180.1h4.9v2.7h-4.9zM453.7,177.9h2.7v2.6h-2.7zM468.9,177.9h4.9v2.6h-4.9zM475.5,177.9h2.7v2.6h-2.7zM510.4,177.9h7.0v2.6h-7.0zM530.0,177.9h9.2v2.6h-9.2zM540.9,177.9h4.9v2.6h-4.9zM558.3,177.9h4.9v2.6h-4.9zM737.1,177.9h7.0v2.6h-7.0zM745.8,177.9h2.7v2.6h-2.7zM505.5,175.8h4.8v2.6h-4.8zM512.0,175.8h9.1v2.6h-9.1zM531.2,175.8h13.3v2.6h-13.3zM554.8,175.8h9.1v2.6h-9.1zM738.9,175.8h2.6v2.6h-2.6zM743.2,175.8h9.1v2.6h-9.1zM448.5,173.7h0.5v2.6h-0.5zM507.3,173.7h25.7v2.6h-25.7zM536.7,173.7h8.9v2.6h-8.9zM555.6,173.7h11.0v2.6h-11.0zM578.7,173.7h8.9v2.6h-8.9zM740.5,173.7h11.0v2.6h-11.0zM451.4,171.7h8.7v2.5h-8.7zM505.0,171.7h27.3v2.5h-27.3zM533.8,171.7h14.9v2.5h-14.9zM554.4,171.7h17.0v2.5h-17.0zM577.1,171.7h10.8v2.5h-10.8zM659.5,171.7h2.6v2.5h-2.6zM665.7,171.7h2.6v2.5h-2.6zM739.8,171.7h8.7v2.5h-8.7zM454.4,169.7h8.6v2.5h-8.6zM504.9,169.7h28.8v2.5h-28.8zM539.2,169.7h10.6v2.5h-10.6zM555.3,169.7h20.7v2.5h-20.7zM634.1,169.7h18.7v2.5h-18.7zM654.2,169.7h4.5v2.5h-4.5zM660.3,169.7h4.5v2.5h-4.5zM666.4,169.7h18.7v2.5h-18.7zM737.0,169.7h4.5v2.5h-4.5zM743.1,169.7h2.5v2.5h-2.5zM457.5,167.7h2.5v2.5h-2.5zM499.0,167.7h4.5v2.5h-4.5zM504.9,167.7h14.3v2.5h-14.3zM520.7,167.7h26.2v2.5h-26.2zM556.3,167.7h24.2v2.5h-24.2zM627.4,167.7h2.5v2.5h-2.5zM633.3,167.7h2.5v2.5h-2.5zM641.2,167.7h44.0v2.5h-44.0zM740.0,167.7h2.5v2.5h-2.5zM460.7,165.8h0.5v2.4h-0.5zM472.3,165.8h14.0v2.4h-14.0zM501.2,165.8h2.4v2.4h-2.4zM505.1,165.8h41.1v2.4h-41.1zM555.3,165.8h27.5v2.4h-27.5zM617.1,165.8h2.4v2.4h-2.4zM621.0,165.8h2.4v2.4h-2.4zM638.4,165.8h6.3v2.4h-6.3zM650.0,165.8h33.3v2.4h-33.3zM684.7,165.8h2.4v2.4h-2.4zM690.5,165.8h2.4v2.4h-2.4zM717.6,165.8h2.4v2.4h-2.4zM721.4,165.8h2.4v2.4h-2.4zM736.9,165.8h2.4v2.4h-2.4zM503.6,163.9h40.1v2.4h-40.1zM556.4,163.9h28.8v2.4h-28.8zM637.5,163.9h4.3v2.4h-4.3zM648.8,163.9h45.8v2.4h-45.8zM703.5,163.9h8.0v2.4h-8.0zM509.7,162.1h11.5v2.3h-11.5zM522.6,162.1h6.0v2.3h-6.0zM530.0,162.1h11.5v2.3h-11.5zM553.8,162.1h31.7v2.3h-31.7zM638.3,162.1h7.8v2.3h-7.8zM662.2,162.1h20.7v2.3h-20.7zM698.9,162.1h11.5v2.3h-11.5zM510.5,160.3h13.0v2.3h-13.0zM524.8,160.3h20.1v2.3h-20.1zM548.0,160.3h39.8v2.3h-39.8zM608.7,160.3h4.1v2.3h-4.1zM640.8,160.3h7.6v2.3h-7.6zM665.8,160.3h14.8v2.3h-14.8zM527.1,158.6h61.1v2.2h-61.1zM604.9,158.6h12.6v2.2h-12.6zM663.8,158.6h9.2v2.2h-9.2zM534.4,157.1h57.5v2.0h-57.5zM606.5,157.1h10.6v2.0h-10.6zM660.1,157.1h8.9v2.0h-8.9zM541.3,155.7h49.2v1.9h-49.2zM576.1,154.5h3.6v1.7h-3.6z"/>
<path fill="#2088F8" d="M527.3,300.8h3.0v2.8h-3.0zM533.0,293.8h5.6v2.8h-5.6zM715.2,293.8h5.6v2.8h-5.6zM735.7,293.8h5.6v2.8h-5.6zM751.1,293.8h3.1v2.8h-3.1zM532.5,291.5h8.3v2.8h-8.3zM718.7,291.5h3.1v2.8h-3.1zM734.2,291.5h8.3v2.8h-8.3zM754.8,291.5h3.1v2.8h-3.1zM534.7,289.2h3.1v2.8h-3.1zM729.9,289.2h8.3v2.8h-8.3zM521.2,286.8h3.1v2.8h-3.1zM615.5,286.8h3.1v2.8h-3.1zM620.7,286.8h3.1v2.8h-3.1zM725.4,286.8h8.4v2.8h-8.4zM735.9,286.8h3.1v2.8h-3.1zM615.5,284.5h8.4v2.8h-8.4zM739.3,284.5h3.1v2.8h-3.1zM615.6,282.1h11.1v2.8h-11.1zM644.7,282.1h5.8v2.8h-5.8zM739.9,282.1h3.1v2.8h-3.1zM551.9,279.8h3.2v2.8h-3.2zM615.7,279.8h11.1v2.8h-11.1zM647.6,279.8h3.2v2.8h-3.2zM623.7,277.5h3.2v2.8h-3.2zM722.4,277.5h3.2v2.8h-3.2zM647.9,275.1h3.2v2.8h-3.2zM722.8,275.1h8.5v2.8h-8.5zM551.5,272.8h3.2v2.8h-3.2zM637.3,272.8h3.2v2.8h-3.2zM645.4,272.8h3.2v2.8h-3.2zM516.3,270.5h3.2v2.8h-3.2zM551.3,270.5h5.9v2.8h-5.9zM615.9,270.5h14.0v2.8h-14.0zM640.1,270.5h3.2v2.8h-3.2zM648.2,270.5h3.2v2.8h-3.2zM728.9,270.5h5.9v2.8h-5.9zM739.7,270.5h8.6v2.8h-8.6zM513.4,268.1h5.9v2.8h-5.9zM545.8,268.1h11.3v2.8h-11.3zM618.6,268.1h8.6v2.8h-8.6zM731.9,268.1h3.2v2.8h-3.2zM750.8,268.1h5.9v2.8h-5.9zM515.9,265.8h5.9v2.8h-5.9zM545.7,265.8h14.0v2.8h-14.0zM751.2,265.8h3.2v2.8h-3.2zM513.1,263.4h5.9v2.8h-5.9zM545.6,263.4h16.8v2.8h-16.8zM626.8,263.4h16.8v2.8h-16.8zM512.9,261.1h5.9v2.8h-5.9zM548.2,261.1h3.2v2.8h-3.2zM556.3,261.1h3.2v2.8h-3.2zM610.6,261.1h3.2v2.8h-3.2zM629.6,261.1h8.6v2.8h-8.6zM640.4,261.1h3.2v2.8h-3.2zM632.3,258.8h5.9v2.8h-5.9zM548.1,256.4h5.9v2.8h-5.9zM632.4,256.4h8.7v2.8h-8.7zM632.4,254.1h11.4v2.8h-11.4zM632.4,251.8h11.4v2.8h-11.4zM637.9,249.4h8.7v2.8h-8.7zM635.1,247.1h3.2v2.8h-3.2zM640.6,247.1h3.2v2.8h-3.2zM648.7,247.1h3.2v2.8h-3.2zM640.5,244.7h11.4v2.8h-11.4zM637.8,242.4h11.4v2.8h-11.4zM651.4,242.4h3.2v2.8h-3.2zM640.4,240.1h3.2v2.8h-3.2zM651.3,240.1h3.2v2.8h-3.2zM640.4,237.7h3.2v2.8h-3.2zM651.2,237.7h3.2v2.8h-3.2zM482.9,221.4h5.8v2.8h-5.8zM493.5,221.4h3.2v2.8h-3.2zM480.7,219.0h8.4v2.8h-8.4zM491.3,219.0h5.8v2.8h-5.8zM481.3,216.7h8.4v2.8h-8.4zM491.8,216.7h5.8v2.8h-5.8zM670.8,216.7h3.1v2.8h-3.1zM479.3,214.3h5.7v2.8h-5.7zM487.2,214.3h3.1v2.8h-3.1zM495.0,214.3h5.7v2.8h-5.7zM670.4,214.3h8.4v2.8h-8.4zM480.0,212.0h5.7v2.8h-5.7zM490.4,212.0h21.3v2.8h-21.3zM513.9,212.0h3.1v2.8h-3.1zM677.8,212.0h3.1v2.8h-3.1zM688.2,212.0h8.3v2.8h-8.3zM732.5,212.0h3.1v2.8h-3.1zM480.8,209.7h3.1v2.8h-3.1zM491.2,209.7h13.4v2.8h-13.4zM677.3,209.7h3.1v2.8h-3.1zM685.0,209.7h13.4v2.8h-13.4zM713.5,209.7h3.1v2.8h-3.1zM731.6,209.7h8.3v2.8h-8.3zM492.0,207.3h15.9v2.8h-15.9zM520.2,207.3h3.1v2.8h-3.1zM589.5,207.3h10.8v2.8h-10.8zM671.6,207.3h5.6v2.8h-5.6zM689.5,207.3h3.1v2.8h-3.1zM717.8,207.3h5.6v2.8h-5.6zM728.0,207.3h10.8v2.8h-10.8zM492.9,205.0h13.2v2.8h-13.2zM520.8,205.0h3.0v2.8h-3.0zM589.6,205.0h15.8v2.8h-15.8zM671.0,205.0h23.4v2.8h-23.4zM711.7,205.0h3.0v2.8h-3.0zM716.8,205.0h8.1v2.8h-8.1zM727.0,205.0h5.6v2.8h-5.6zM734.6,205.0h8.1v2.8h-8.1zM493.8,202.7h10.6v2.8h-10.6zM519.0,202.7h5.5v2.8h-5.5zM589.7,202.7h10.6v2.8h-10.6zM670.4,202.7h13.1v2.8h-13.1zM690.6,202.7h3.0v2.8h-3.0zM710.8,202.7h8.1v2.8h-8.1zM492.3,200.4h13.0v2.8h-13.0zM522.3,200.4h3.0v2.8h-3.0zM589.8,200.4h13.0v2.8h-13.0zM609.7,200.4h3.0v2.8h-3.0zM672.2,200.4h10.5v2.8h-10.5zM709.7,200.4h5.5v2.8h-5.5zM737.2,200.4h3.0v2.8h-3.0zM493.4,198.0h12.9v2.8h-12.9zM520.6,198.0h10.4v2.8h-10.4zM587.4,198.0h17.8v2.8h-17.8zM607.2,198.0h20.3v2.8h-20.3zM678.9,198.0h3.0v2.8h-3.0zM735.8,198.0h5.4v2.8h-5.4zM492.1,195.7h20.1v2.8h-20.1zM528.8,195.7h2.9v2.8h-2.9zM590.0,195.7h2.9v2.8h-2.9zM597.3,195.7h32.3v2.8h-32.3zM731.9,195.7h2.9v2.8h-2.9zM736.8,195.7h5.4v2.8h-5.4zM493.3,193.5h15.0v2.8h-15.0zM510.3,193.5h2.9v2.8h-2.9zM594.9,193.5h2.9v2.8h-2.9zM599.8,193.5h10.2v2.8h-10.2zM611.8,193.5h17.4v2.8h-17.4zM735.2,193.5h2.9v2.8h-2.9zM499.4,191.2h10.1v2.8h-10.1zM595.0,191.2h5.3v2.8h-5.3zM602.1,191.2h7.7v2.8h-7.7zM614.1,191.2h19.6v2.8h-19.6zM683.4,191.2h7.7v2.8h-7.7zM733.6,191.2h2.9v2.8h-2.9zM477.1,188.9h2.9v2.8h-2.9zM500.7,188.9h5.2v2.8h-5.2zM507.7,188.9h2.9v2.8h-2.9zM538.4,188.9h2.9v2.8h-2.9zM545.5,188.9h2.9v2.8h-2.9zM595.0,188.9h5.2v2.8h-5.2zM602.1,188.9h12.3v2.8h-12.3zM621.0,188.9h9.9v2.8h-9.9zM731.9,188.9h2.9v2.8h-2.9zM478.8,186.7h2.8v2.7h-2.8zM499.7,186.7h12.1v2.7h-12.1zM525.3,186.7h23.8v2.7h-23.8zM597.4,186.7h12.1v2.7h-12.1zM611.4,186.7h5.2v2.7h-5.2zM716.1,186.7h5.2v2.7h-5.2zM476.0,184.5h7.4v2.7h-7.4zM503.5,184.5h5.1v2.7h-5.1zM515.0,184.5h2.8v2.7h-2.8zM521.8,184.5h9.7v2.7h-9.7zM533.3,184.5h14.3v2.7h-14.3zM707.5,184.5h7.4v2.7h-7.4zM716.6,184.5h14.3v2.7h-14.3zM477.9,182.3h2.8v2.7h-2.8zM502.7,182.3h7.3v2.7h-7.3zM511.8,182.3h7.3v2.7h-7.3zM520.8,182.3h5.0v2.7h-5.0zM527.6,182.3h5.0v2.7h-5.0zM708.0,182.3h16.3v2.7h-16.3zM737.4,182.3h5.0v2.7h-5.0zM477.7,180.1h2.7v2.7h-2.7zM504.3,180.1h7.2v2.7h-7.2zM513.2,180.1h4.9v2.7h-4.9zM684.1,180.1h40.4v2.7h-40.4zM737.3,180.1h2.7v2.7h-2.7zM455.8,177.9h13.6v2.6h-13.6zM473.3,177.9h2.7v2.6h-2.7zM477.6,177.9h4.9v2.6h-4.9zM503.8,177.9h7.0v2.6h-7.0zM682.6,177.9h52.8v2.6h-52.8zM743.7,177.9h2.7v2.6h-2.7zM456.3,175.8h34.8v2.6h-34.8zM492.7,175.8h6.9v2.6h-6.9zM503.4,175.8h2.6v2.6h-2.6zM509.8,175.8h2.6v2.6h-2.6zM683.3,175.8h56.2v2.6h-56.2zM741.1,175.8h2.6v2.6h-2.6zM459.0,173.7h40.4v2.6h-40.4zM503.1,173.7h4.7v2.6h-4.7zM669.1,173.7h4.7v2.6h-4.7zM683.8,173.7h57.2v2.6h-57.2zM459.7,171.7h45.8v2.5h-45.8zM649.2,171.7h10.8v2.5h-10.8zM661.6,171.7h4.6v2.5h-4.6zM667.7,171.7h12.9v2.5h-12.9zM682.2,171.7h58.2v2.5h-58.2zM462.5,169.7h42.9v2.5h-42.9zM652.2,169.7h2.5v2.5h-2.5zM658.3,169.7h2.5v2.5h-2.5zM664.3,169.7h2.5v2.5h-2.5zM684.5,169.7h53.0v2.5h-53.0zM741.0,169.7h2.5v2.5h-2.5zM467.4,167.7h32.1v2.5h-32.1zM502.9,167.7h2.5v2.5h-2.5zM684.7,167.7h55.8v2.5h-55.8zM503.2,165.8h2.4v2.4h-2.4zM682.8,165.8h2.4v2.4h-2.4zM686.7,165.8h4.4v2.4h-4.4zM692.5,165.8h25.6v2.4h-25.6zM719.5,165.8h2.4v2.4h-2.4zM694.0,163.9h2.4v2.4h-2.4z"/>
<path fill="#10C0FF" d="M531.3,312.3h2.9v2.8h-2.9zM523.9,305.5h2.9v2.8h-2.9zM523.1,303.1h3.0v2.8h-3.0zM529.8,300.8h5.5v2.8h-5.5zM524.1,298.5h3.0v2.8h-3.0zM529.1,298.5h3.0v2.8h-3.0zM523.4,296.2h3.0v2.8h-3.0zM522.8,293.8h5.6v2.8h-5.6zM743.4,293.8h5.6v2.8h-5.6zM522.2,291.5h8.3v2.8h-8.3zM741.9,291.5h13.4v2.8h-13.4zM524.3,289.2h3.1v2.8h-3.1zM529.5,289.2h5.7v2.8h-5.7zM737.7,289.2h21.3v2.8h-21.3zM523.8,286.8h3.1v2.8h-3.1zM529.1,286.8h8.4v2.8h-8.4zM733.3,286.8h3.1v2.8h-3.1zM746.4,286.8h8.4v2.8h-8.4zM726.1,284.5h13.7v2.8h-13.7zM741.9,284.5h16.3v2.8h-16.3zM533.6,282.1h5.8v2.8h-5.8zM726.7,282.1h13.7v2.8h-13.7zM742.6,282.1h13.7v2.8h-13.7zM522.7,279.8h5.8v2.8h-5.8zM533.3,279.8h5.8v2.8h-5.8zM642.2,279.8h5.8v2.8h-5.8zM727.2,279.8h24.4v2.8h-24.4zM535.8,277.5h3.2v2.8h-3.2zM551.8,277.5h5.8v2.8h-5.8zM642.4,277.5h8.5v2.8h-8.5zM727.7,277.5h27.2v2.8h-27.2zM548.9,275.1h3.2v2.8h-3.2zM623.8,275.1h8.5v2.8h-8.5zM645.2,275.1h3.2v2.8h-3.2zM730.8,275.1h24.6v2.8h-24.6zM519.3,272.8h3.2v2.8h-3.2zM548.8,272.8h3.2v2.8h-3.2zM623.9,272.8h8.5v2.8h-8.5zM728.5,272.8h27.3v2.8h-27.3zM519.0,270.5h5.9v2.8h-5.9zM548.6,270.5h3.2v2.8h-3.2zM645.5,270.5h3.2v2.8h-3.2zM747.7,270.5h8.6v2.8h-8.6zM521.5,268.1h3.2v2.8h-3.2zM526.9,268.1h3.2v2.8h-3.2zM610.5,268.1h5.9v2.8h-5.9zM648.3,268.1h3.2v2.8h-3.2zM550.9,261.1h5.9v2.8h-5.9zM626.9,261.1h3.2v2.8h-3.2zM548.1,258.8h8.6v2.8h-8.6zM613.3,244.7h3.2v2.8h-3.2zM607.9,242.4h11.4v2.8h-11.4zM648.6,242.4h3.2v2.8h-3.2zM607.9,240.1h5.9v2.8h-5.9zM616.0,240.1h3.2v2.8h-3.2zM643.2,240.1h8.6v2.8h-8.6zM586.2,237.7h5.9v2.8h-5.9zM605.2,237.7h5.9v2.8h-5.9zM643.1,237.7h8.6v2.8h-8.6zM578.1,235.4h3.2v2.8h-3.2zM607.9,235.4h3.2v2.8h-3.2zM643.0,235.4h5.9v2.8h-5.9zM578.2,233.0h3.2v2.8h-3.2zM586.3,233.0h3.2v2.8h-3.2zM607.8,233.0h8.6v2.8h-8.6zM680.7,233.0h5.9v2.8h-5.9zM586.3,230.7h5.9v2.8h-5.9zM597.1,230.7h27.4v2.8h-27.4zM677.8,230.7h11.3v2.8h-11.3zM516.6,228.4h13.9v2.8h-13.9zM599.8,228.4h3.2v2.8h-3.2zM685.6,228.4h5.9v2.8h-5.9zM516.8,226.0h8.5v2.8h-8.5zM688.0,226.0h3.2v2.8h-3.2zM685.0,223.7h5.8v2.8h-5.8zM693.0,223.7h3.2v2.8h-3.2zM674.1,221.4h5.8v2.8h-5.8zM684.7,221.4h11.1v2.8h-11.1zM673.8,219.0h5.8v2.8h-5.8zM689.7,219.0h8.4v2.8h-8.4zM673.5,216.7h5.8v2.8h-5.8zM689.3,216.7h8.4v2.8h-8.4zM489.8,214.3h5.7v2.8h-5.7zM678.3,214.3h18.8v2.8h-18.8zM485.2,212.0h3.1v2.8h-3.1zM672.6,212.0h5.7v2.8h-5.7zM680.4,212.0h8.3v2.8h-8.3zM714.3,212.0h5.7v2.8h-5.7zM724.7,212.0h3.1v2.8h-3.1zM483.4,209.7h8.3v2.8h-8.3zM504.1,209.7h3.1v2.8h-3.1zM679.9,209.7h5.7v2.8h-5.7zM716.1,209.7h8.3v2.8h-8.3zM489.4,207.3h3.1v2.8h-3.1zM676.7,207.3h13.3v2.8h-13.3zM715.2,207.3h3.1v2.8h-3.1zM505.6,205.0h3.0v2.8h-3.0zM714.3,205.0h3.0v2.8h-3.0zM724.5,205.0h3.0v2.8h-3.0zM503.9,202.7h3.0v2.8h-3.0zM720.9,202.7h8.1v2.8h-8.1zM504.8,200.4h3.0v2.8h-3.0zM519.0,195.7h5.4v2.8h-5.4zM507.8,193.5h2.9v2.8h-2.9zM512.7,193.5h12.6v2.8h-12.6zM597.3,193.5h2.9v2.8h-2.9zM494.6,191.2h5.3v2.8h-5.3zM508.9,191.2h5.3v2.8h-5.3zM516.1,191.2h5.3v2.8h-5.3zM530.4,191.2h2.9v2.8h-2.9zM540.0,191.2h2.9v2.8h-2.9zM592.6,191.2h2.9v2.8h-2.9zM599.8,191.2h2.9v2.8h-2.9zM693.0,191.2h5.3v2.8h-5.3zM700.1,191.2h2.9v2.8h-2.9zM493.6,188.9h7.6v2.8h-7.6zM505.4,188.9h2.9v2.8h-2.9zM521.9,188.9h17.0v2.8h-17.0zM592.7,188.9h2.9v2.8h-2.9zM599.8,188.9h2.9v2.8h-2.9zM613.9,188.9h7.6v2.8h-7.6zM630.4,188.9h2.9v2.8h-2.9zM635.1,188.9h2.9v2.8h-2.9zM642.2,188.9h2.9v2.8h-2.9zM654.0,188.9h2.9v2.8h-2.9zM668.2,188.9h2.9v2.8h-2.9zM675.2,188.9h17.0v2.8h-17.0zM694.1,188.9h12.3v2.8h-12.3zM495.1,186.7h5.2v2.7h-5.2zM511.3,186.7h7.5v2.7h-7.5zM523.0,186.7h2.8v2.7h-2.8zM588.1,186.7h9.8v2.7h-9.8zM609.1,186.7h2.8v2.7h-2.8zM616.0,186.7h7.5v2.7h-7.5zM625.3,186.7h12.1v2.7h-12.1zM639.3,186.7h7.5v2.7h-7.5zM650.9,186.7h2.8v2.7h-2.8zM657.9,186.7h5.2v2.7h-5.2zM664.9,186.7h26.1v2.7h-26.1zM699.8,186.7h7.5v2.7h-7.5zM501.2,184.5h2.8v2.7h-2.8zM508.1,184.5h2.8v2.7h-2.8zM512.7,184.5h2.8v2.7h-2.8zM517.2,184.5h5.1v2.7h-5.1zM588.3,184.5h12.0v2.7h-12.0zM604.3,184.5h18.8v2.7h-18.8zM629.5,184.5h12.0v2.7h-12.0zM643.3,184.5h7.4v2.7h-7.4zM657.0,184.5h7.4v2.7h-7.4zM668.5,184.5h18.8v2.7h-18.8zM698.3,184.5h9.7v2.7h-9.7zM480.2,182.3h5.0v2.7h-5.0zM509.5,182.3h2.8v2.7h-2.8zM518.5,182.3h2.8v2.7h-2.8zM590.7,182.3h7.3v2.7h-7.3zM604.3,182.3h5.0v2.7h-5.0zM615.5,182.3h2.8v2.7h-2.8zM620.1,182.3h2.8v2.7h-2.8zM624.6,182.3h16.3v2.7h-16.3zM656.1,182.3h2.8v2.7h-2.8zM667.4,182.3h23.1v2.7h-23.1zM692.2,182.3h16.3v2.7h-16.3zM479.9,180.1h7.2v2.7h-7.2zM593.1,180.1h4.9v2.7h-4.9zM604.2,180.1h2.7v2.7h-2.7zM617.5,180.1h2.7v2.7h-2.7zM633.0,180.1h7.2v2.7h-7.2zM650.8,180.1h4.9v2.7h-4.9zM668.5,180.1h2.7v2.7h-2.7zM673.0,180.1h11.6v2.7h-11.6zM482.0,177.9h9.2v2.6h-9.2zM499.4,177.9h2.7v2.6h-2.7zM601.9,177.9h7.0v2.6h-7.0zM617.2,177.9h31.0v2.6h-31.0zM649.9,177.9h15.8v2.6h-15.8zM669.5,177.9h13.6v2.6h-13.6zM490.6,175.8h2.6v2.6h-2.6zM499.1,175.8h4.8v2.6h-4.8zM601.9,175.8h4.8v2.6h-4.8zM608.3,175.8h2.6v2.6h-2.6zM619.0,175.8h45.5v2.6h-45.5zM666.1,175.8h17.6v2.6h-17.6zM498.9,173.7h4.7v2.6h-4.7zM604.0,173.7h2.6v2.6h-2.6zM618.7,173.7h50.9v2.6h-50.9zM673.3,173.7h11.0v2.6h-11.0zM618.3,171.7h10.8v2.5h-10.8zM630.7,171.7h19.0v2.5h-19.0zM680.1,171.7h2.6v2.5h-2.6zM609.8,169.7h24.7v2.5h-24.7zM609.6,167.7h18.3v2.5h-18.3zM615.2,165.8h2.4v2.4h-2.4zM619.1,165.8h2.4v2.4h-2.4z"/>
<path fill="#A0D8F0" d="M525.7,310.0h2.9v2.8h-2.9zM532.0,307.8h2.9v2.8h-2.9zM531.2,305.5h5.4v2.8h-5.4zM528.0,303.1h7.9v2.8h-7.9zM530.0,291.5h3.1v2.8h-3.1zM521.7,289.2h3.1v2.8h-3.1zM526.9,289.2h3.1v2.8h-3.1zM554.3,275.1h3.2v2.8h-3.2zM554.1,272.8h3.2v2.8h-3.2zM540.6,270.5h8.6v2.8h-8.6zM543.1,268.1h3.2v2.8h-3.2zM621.4,263.4h3.2v2.8h-3.2zM545.5,261.1h3.2v2.8h-3.2zM545.4,258.8h3.2v2.8h-3.2zM545.4,256.4h3.2v2.8h-3.2zM618.8,242.4h5.9v2.8h-5.9zM618.7,240.1h8.6v2.8h-8.6zM624.1,237.7h3.2v2.8h-3.2zM677.5,228.4h8.5v2.8h-8.5zM674.6,226.0h13.9v2.8h-13.9zM690.7,226.0h3.2v2.8h-3.2zM671.7,223.7h13.8v2.8h-13.8zM690.4,223.7h3.2v2.8h-3.2zM671.5,221.4h3.2v2.8h-3.2zM679.4,221.4h5.8v2.8h-5.8zM679.1,219.0h5.8v2.8h-5.8zM678.7,216.7h5.8v2.8h-5.8zM484.5,214.3h3.1v2.8h-3.1zM487.8,212.0h3.1v2.8h-3.1zM507.4,207.3h5.6v2.8h-5.6zM692.1,207.3h3.1v2.8h-3.1zM508.1,205.0h5.6v2.8h-5.6zM515.8,205.0h5.6v2.8h-5.6zM506.4,202.7h5.5v2.8h-5.5zM514.0,202.7h5.5v2.8h-5.5zM507.3,200.4h15.5v2.8h-15.5zM719.7,200.4h10.5v2.8h-10.5zM505.8,198.0h15.3v2.8h-15.3zM721.0,198.0h12.9v2.8h-12.9zM511.7,195.7h7.8v2.8h-7.8zM523.9,195.7h5.4v2.8h-5.4zM531.2,195.7h5.4v2.8h-5.4zM709.8,195.7h2.9v2.8h-2.9zM719.6,195.7h12.7v2.8h-12.7zM524.8,193.5h12.6v2.8h-12.6zM706.2,193.5h5.3v2.8h-5.3zM720.7,193.5h12.6v2.8h-12.6zM513.7,191.2h2.9v2.8h-2.9zM520.9,191.2h10.1v2.8h-10.1zM532.8,191.2h5.3v2.8h-5.3zM697.7,191.2h2.9v2.8h-2.9zM704.9,191.2h10.1v2.8h-10.1zM716.8,191.2h17.2v2.8h-17.2zM479.4,188.9h2.9v2.8h-2.9zM484.2,188.9h5.2v2.8h-5.2zM510.1,188.9h12.3v2.8h-12.3zM691.8,188.9h2.9v2.8h-2.9zM705.9,188.9h26.5v2.8h-26.5zM481.1,186.7h7.5v2.7h-7.5zM518.3,186.7h5.2v2.7h-5.2zM623.0,186.7h2.8v2.7h-2.8zM653.3,186.7h2.8v2.7h-2.8zM690.5,186.7h9.8v2.7h-9.8zM706.8,186.7h9.8v2.7h-9.8zM720.7,186.7h12.1v2.7h-12.1zM482.9,184.5h5.1v2.7h-5.1zM510.4,184.5h2.8v2.7h-2.8zM622.7,184.5h7.4v2.7h-7.4zM641.0,184.5h2.8v2.7h-2.8zM650.2,184.5h7.4v2.7h-7.4zM663.9,184.5h5.1v2.7h-5.1zM686.8,184.5h12.0v2.7h-12.0zM714.3,184.5h2.8v2.7h-2.8zM484.7,182.3h2.8v2.7h-2.8zM608.8,182.3h5.0v2.7h-5.0zM617.8,182.3h2.8v2.7h-2.8zM622.3,182.3h2.8v2.7h-2.8zM640.4,182.3h16.3v2.7h-16.3zM658.4,182.3h9.5v2.7h-9.5zM690.0,182.3h2.8v2.7h-2.8zM486.6,180.1h2.7v2.7h-2.7zM499.9,180.1h4.9v2.7h-4.9zM606.4,180.1h9.4v2.7h-9.4zM619.7,180.1h13.8v2.7h-13.8zM639.7,180.1h11.6v2.7h-11.6zM655.2,180.1h13.8v2.7h-13.8zM670.7,180.1h2.7v2.7h-2.7zM490.7,177.9h9.2v2.6h-9.2zM501.6,177.9h2.7v2.6h-2.7zM608.5,177.9h7.0v2.6h-7.0zM647.7,177.9h2.7v2.6h-2.7zM665.2,177.9h4.9v2.6h-4.9zM606.2,175.8h2.6v2.6h-2.6zM610.5,175.8h4.8v2.6h-4.8zM664.0,175.8h2.6v2.6h-2.6zM606.1,173.7h8.9v2.6h-8.9zM608.0,171.7h10.8v2.5h-10.8z"/>
<path fill="#FFF080" d="M527.6,314.6h2.8v2.7h-2.8zM526.6,312.3h2.9v2.8h-2.9zM533.7,312.3h2.9v2.8h-2.9zM528.1,310.0h10.1v2.8h-10.1zM529.6,307.8h2.9v2.8h-2.9zM759.4,307.8h5.3v2.8h-5.3zM761.2,305.5h5.4v2.8h-5.4zM534.8,300.8h3.0v2.8h-3.0zM531.6,298.5h10.6v2.8h-10.6zM531.0,296.2h5.6v2.8h-5.6zM527.9,293.8h5.6v2.8h-5.6zM523.0,282.1h3.1v2.8h-3.1zM531.0,282.1h3.1v2.8h-3.1zM755.8,282.1h3.1v2.8h-3.1zM528.0,279.8h3.2v2.8h-3.2zM751.1,279.8h8.5v2.8h-8.5zM522.5,277.5h13.8v2.8h-13.8zM754.3,277.5h5.8v2.8h-5.8zM773.0,277.5h5.8v2.8h-5.8zM530.2,275.1h8.5v2.8h-8.5zM754.9,275.1h3.2v2.8h-3.2zM773.6,275.1h3.2v2.8h-3.2zM522.0,272.8h3.2v2.8h-3.2zM530.0,272.8h5.9v2.8h-5.9zM538.0,272.8h3.2v2.8h-3.2zM734.3,270.5h5.9v2.8h-5.9zM537.7,268.1h5.9v2.8h-5.9zM734.6,268.1h11.3v2.8h-11.3zM521.3,265.8h3.2v2.8h-3.2zM526.7,265.8h3.2v2.8h-3.2zM543.0,265.8h3.2v2.8h-3.2zM737.6,265.8h11.3v2.8h-11.3zM518.5,263.4h5.9v2.8h-5.9zM526.6,263.4h8.6v2.8h-8.6zM727.1,263.4h3.2v2.8h-3.2zM732.5,263.4h3.2v2.8h-3.2zM518.4,261.1h3.2v2.8h-3.2zM559.1,261.1h3.2v2.8h-3.2zM613.3,261.1h3.2v2.8h-3.2zM618.7,261.1h8.6v2.8h-8.6zM727.3,261.1h11.4v2.8h-11.4zM540.0,258.8h3.2v2.8h-3.2zM556.3,258.8h5.9v2.8h-5.9zM618.8,258.8h3.2v2.8h-3.2zM624.2,258.8h5.9v2.8h-5.9zM537.2,256.4h5.9v2.8h-5.9zM556.3,256.4h5.9v2.8h-5.9zM683.7,237.7h3.2v2.8h-3.2zM518.6,235.4h5.9v2.8h-5.9zM597.0,235.4h3.2v2.8h-3.2zM683.6,235.4h3.2v2.8h-3.2zM637.5,233.0h3.2v2.8h-3.2zM578.2,230.7h8.6v2.8h-8.6zM626.7,230.7h5.9v2.8h-5.9zM637.4,230.7h3.2v2.8h-3.2zM581.0,228.4h3.2v2.8h-3.2zM709.7,228.4h3.2v2.8h-3.2zM478.1,219.0h3.1v2.8h-3.1zM488.6,219.0h3.1v2.8h-3.1zM684.4,219.0h5.8v2.8h-5.8zM489.2,216.7h3.1v2.8h-3.1zM684.0,216.7h5.8v2.8h-5.8zM699.8,216.7h5.8v2.8h-5.8zM699.3,214.3h3.1v2.8h-3.1zM696.0,212.0h18.7v2.8h-18.7zM506.7,209.7h8.3v2.8h-8.3zM672.1,209.7h5.7v2.8h-5.7zM698.0,209.7h13.4v2.8h-13.4zM512.5,207.3h5.6v2.8h-5.6zM694.7,207.3h15.9v2.8h-15.9zM712.6,207.3h3.1v2.8h-3.1zM513.2,205.0h3.0v2.8h-3.0zM696.5,205.0h3.0v2.8h-3.0zM511.4,202.7h3.0v2.8h-3.0zM714.7,200.4h5.5v2.8h-5.5zM711.1,198.0h10.4v2.8h-10.4zM712.3,195.7h7.8v2.8h-7.8zM609.4,193.5h2.9v2.8h-2.9zM711.0,193.5h10.2v2.8h-10.2zM609.3,191.2h5.3v2.8h-5.3zM714.5,191.2h2.9v2.8h-2.9zM488.9,188.9h5.2v2.8h-5.2zM488.1,186.7h7.5v2.7h-7.5zM487.4,184.5h14.3v2.7h-14.3zM487.0,182.3h16.3v2.7h-16.3zM488.8,180.1h11.6v2.7h-11.6zM616.9,175.8h2.6v2.6h-2.6zM614.5,173.7h4.7v2.6h-4.7z"/>
<path fill="#FFC018" d="M531.0,316.8h2.8v2.7h-2.8zM535.6,316.8h2.8v2.7h-2.8zM530.0,314.6h5.2v2.7h-5.2zM529.0,312.3h2.9v2.8h-2.9zM524.8,307.8h5.3v2.8h-5.3zM526.4,305.5h5.4v2.8h-5.4zM525.5,303.1h3.0v2.8h-3.0zM524.8,300.8h3.0v2.8h-3.0zM526.6,298.5h3.0v2.8h-3.0zM525.9,296.2h5.6v2.8h-5.6zM634.5,275.1h3.2v2.8h-3.2zM650.6,275.1h3.2v2.8h-3.2zM631.9,272.8h5.9v2.8h-5.9zM648.0,272.8h5.9v2.8h-5.9zM650.9,270.5h3.2v2.8h-3.2zM643.3,251.8h3.2v2.8h-3.2zM632.4,249.4h5.9v2.8h-5.9zM646.0,249.4h3.2v2.8h-3.2zM629.7,247.1h5.9v2.8h-5.9zM643.3,247.1h5.9v2.8h-5.9zM632.4,244.7h3.2v2.8h-3.2zM626.9,240.1h3.2v2.8h-3.2zM591.6,237.7h3.2v2.8h-3.2zM626.8,237.7h5.9v2.8h-5.9zM637.7,237.7h3.2v2.8h-3.2zM583.5,235.4h14.0v2.8h-14.0zM613.3,235.4h3.2v2.8h-3.2zM626.8,235.4h3.2v2.8h-3.2zM583.6,233.0h3.2v2.8h-3.2zM589.0,233.0h8.6v2.8h-8.6zM615.9,233.0h3.2v2.8h-3.2zM591.7,230.7h5.9v2.8h-5.9zM487.1,228.4h3.2v2.8h-3.2zM500.5,228.4h3.2v2.8h-3.2zM725.8,228.4h3.2v2.8h-3.2zM484.8,226.0h5.8v2.8h-5.8zM500.8,226.0h3.2v2.8h-3.2zM485.1,223.7h5.8v2.8h-5.8zM501.1,223.7h3.2v2.8h-3.2zM488.2,221.4h3.2v2.8h-3.2zM697.6,219.0h3.1v2.8h-3.1zM697.2,216.7h3.1v2.8h-3.1zM705.1,216.7h5.8v2.8h-5.8zM713.0,216.7h8.4v2.8h-8.4zM696.6,214.3h3.1v2.8h-3.1zM701.9,214.3h16.2v2.8h-16.2zM725.4,214.3h3.1v2.8h-3.1zM472.3,200.4h3.0v2.8h-3.0zM536.1,195.7h2.9v2.8h-2.9zM536.9,193.5h5.3v2.8h-5.3zM544.1,193.5h5.3v2.8h-5.3zM542.4,191.2h7.7v2.8h-7.7zM540.8,188.9h5.2v2.8h-5.2z"/>
<path fill="#FF7000" d="M534.3,319.0h5.0v2.7h-5.0zM533.3,316.8h2.8v2.7h-2.8zM537.9,316.8h2.8v2.7h-2.8zM541.6,314.6h7.5v2.7h-7.5zM664.3,310.0h2.9v2.8h-2.9zM766.1,305.5h2.9v2.8h-2.9zM740.7,303.1h5.4v2.8h-5.4zM765.5,303.1h5.4v2.8h-5.4zM742.2,300.8h5.5v2.8h-5.5zM769.7,300.8h5.5v2.8h-5.5zM741.0,298.5h8.1v2.8h-8.1zM536.1,296.2h5.6v2.8h-5.6zM739.7,296.2h13.2v2.8h-13.2zM538.2,293.8h5.6v2.8h-5.6zM740.9,293.8h3.1v2.8h-3.1zM748.6,293.8h3.1v2.8h-3.1zM528.7,284.5h8.4v2.8h-8.4zM525.7,282.1h5.8v2.8h-5.8zM530.7,279.8h3.2v2.8h-3.2zM624.1,263.4h3.2v2.8h-3.2zM713.7,261.1h8.6v2.8h-8.6zM713.8,258.8h8.6v2.8h-8.6zM637.8,247.1h3.2v2.8h-3.2zM635.1,244.7h5.9v2.8h-5.9zM629.6,242.4h8.6v2.8h-8.6zM613.3,240.1h3.2v2.8h-3.2zM629.6,240.1h11.4v2.8h-11.4zM681.1,240.1h3.2v2.8h-3.2zM610.6,237.7h14.0v2.8h-14.0zM632.3,237.7h5.9v2.8h-5.9zM678.3,237.7h5.9v2.8h-5.9zM602.5,235.4h5.9v2.8h-5.9zM610.6,235.4h3.2v2.8h-3.2zM616.0,235.4h8.6v2.8h-8.6zM629.5,235.4h14.0v2.8h-14.0zM678.2,235.4h5.9v2.8h-5.9zM605.1,233.0h3.2v2.8h-3.2zM618.6,233.0h5.9v2.8h-5.9zM626.7,233.0h11.3v2.8h-11.3zM640.2,233.0h3.2v2.8h-3.2zM678.0,233.0h3.2v2.8h-3.2zM632.0,230.7h3.2v2.8h-3.2zM640.1,230.7h3.2v2.8h-3.2zM509.1,223.7h8.5v2.8h-8.5zM726.7,219.0h3.1v2.8h-3.1zM723.5,216.7h3.1v2.8h-3.1zM510.7,214.3h5.7v2.8h-5.7zM717.6,214.3h8.4v2.8h-8.4zM719.5,212.0h5.7v2.8h-5.7zM514.5,209.7h5.7v2.8h-5.7zM517.6,207.3h3.1v2.8h-3.1zM477.3,200.4h3.0v2.8h-3.0zM473.6,198.0h5.4v2.8h-5.4zM475.0,195.7h5.4v2.8h-5.4zM478.8,193.5h2.9v2.8h-2.9z"/>
<path fill="#FF0000" d="M770.4,303.1h3.0v2.8h-3.0zM774.7,300.8h3.0v2.8h-3.0zM773.8,298.5h5.5v2.8h-5.5zM775.4,296.2h5.6v2.8h-5.6zM774.2,293.8h5.6v2.8h-5.6zM540.3,291.5h5.7v2.8h-5.7zM625.6,291.5h3.1v2.8h-3.1zM537.3,289.2h5.7v2.8h-5.7zM545.1,289.2h3.1v2.8h-3.1zM625.8,289.2h5.7v2.8h-5.7zM526.4,286.8h3.1v2.8h-3.1zM536.9,286.8h5.7v2.8h-5.7zM625.9,286.8h3.1v2.8h-3.1zM754.2,286.8h5.7v2.8h-5.7zM526.0,284.5h3.1v2.8h-3.1zM536.6,284.5h5.8v2.8h-5.8zM547.1,284.5h3.1v2.8h-3.1zM626.1,284.5h3.1v2.8h-3.1zM757.7,284.5h3.1v2.8h-3.1zM538.9,282.1h3.1v2.8h-3.1zM546.8,282.1h3.1v2.8h-3.1zM626.2,282.1h3.1v2.8h-3.1zM634.1,282.1h3.1v2.8h-3.1zM758.5,282.1h3.1v2.8h-3.1zM538.7,279.8h3.2v2.8h-3.2zM544.0,279.8h8.5v2.8h-8.5zM626.3,279.8h3.2v2.8h-3.2zM759.1,279.8h3.2v2.8h-3.2zM538.4,277.5h13.8v2.8h-13.8zM626.4,277.5h5.8v2.8h-5.8zM634.4,277.5h3.2v2.8h-3.2zM522.2,275.1h8.5v2.8h-8.5zM538.2,275.1h11.2v2.8h-11.2zM551.6,275.1h3.2v2.8h-3.2zM524.6,272.8h5.9v2.8h-5.9zM540.7,272.8h8.5v2.8h-8.5zM787.5,272.8h3.2v2.8h-3.2zM524.4,270.5h8.6v2.8h-8.6zM518.8,268.1h3.2v2.8h-3.2zM524.2,268.1h3.2v2.8h-3.2zM529.6,268.1h3.2v2.8h-3.2zM532.2,265.8h11.3v2.8h-11.3zM624.1,265.8h5.9v2.8h-5.9zM534.7,263.4h8.6v2.8h-8.6zM534.6,261.1h3.2v2.8h-3.2zM534.6,258.8h3.2v2.8h-3.2zM531.8,256.4h5.9v2.8h-5.9zM542.7,256.4h3.2v2.8h-3.2zM526.3,254.1h16.8v2.8h-16.8zM545.3,254.1h3.2v2.8h-3.2zM529.0,251.8h19.6v2.8h-19.6zM529.0,249.4h5.9v2.8h-5.9zM537.1,249.4h8.7v2.8h-8.7zM529.0,247.1h8.7v2.8h-8.7zM542.6,247.1h3.2v2.8h-3.2zM684.0,242.4h5.9v2.8h-5.9zM683.8,240.1h5.9v2.8h-5.9zM580.8,235.4h3.2v2.8h-3.2zM599.8,235.4h3.2v2.8h-3.2zM624.1,235.4h3.2v2.8h-3.2zM702.5,235.4h3.2v2.8h-3.2zM580.9,233.0h3.2v2.8h-3.2zM597.1,233.0h8.6v2.8h-8.6zM624.0,233.0h3.2v2.8h-3.2zM624.0,230.7h3.2v2.8h-3.2zM675.1,230.7h3.2v2.8h-3.2zM699.3,230.7h5.9v2.8h-5.9zM674.9,228.4h3.2v2.8h-3.2zM699.0,228.4h8.5v2.8h-8.5zM712.4,228.4h5.9v2.8h-5.9zM696.0,226.0h8.5v2.8h-8.5zM709.4,226.0h8.5v2.8h-8.5zM503.8,223.7h5.8v2.8h-5.8zM695.7,223.7h5.8v2.8h-5.8zM706.4,223.7h3.2v2.8h-3.2zM714.4,223.7h8.5v2.8h-8.5zM725.0,223.7h3.2v2.8h-3.2zM509.4,221.4h5.8v2.8h-5.8zM695.4,221.4h8.5v2.8h-8.5zM708.6,221.4h8.5v2.8h-8.5zM721.9,221.4h5.8v2.8h-5.8zM509.8,219.0h5.8v2.8h-5.8zM700.3,219.0h16.4v2.8h-16.4zM510.2,216.7h5.8v2.8h-5.8zM710.3,216.7h3.1v2.8h-3.1zM511.3,212.0h3.1v2.8h-3.1z"/>
<path fill="#D42828" d="M542.5,289.2h3.1v2.8h-3.1zM542.1,286.8h5.7v2.8h-5.7zM628.6,286.8h5.7v2.8h-5.7zM523.4,284.5h3.1v2.8h-3.1zM541.8,284.5h5.8v2.8h-5.8zM628.7,284.5h5.8v2.8h-5.8zM541.6,282.1h5.8v2.8h-5.8zM628.8,282.1h5.8v2.8h-5.8zM541.3,279.8h3.2v2.8h-3.2zM629.0,279.8h8.5v2.8h-8.5zM631.7,277.5h3.2v2.8h-3.2zM535.4,272.8h3.2v2.8h-3.2zM532.5,270.5h8.6v2.8h-8.6zM532.3,268.1h5.9v2.8h-5.9zM651.0,268.1h3.2v2.8h-3.2zM524.0,265.8h3.2v2.8h-3.2zM529.5,265.8h3.2v2.8h-3.2zM616.0,265.8h3.2v2.8h-3.2zM651.1,265.8h3.2v2.8h-3.2zM523.9,263.4h3.2v2.8h-3.2zM542.9,263.4h3.2v2.8h-3.2zM613.3,263.4h5.9v2.8h-5.9zM751.4,263.4h3.2v2.8h-3.2zM756.9,263.4h5.9v2.8h-5.9zM521.1,261.1h14.1v2.8h-14.1zM537.4,261.1h8.6v2.8h-8.6zM616.0,261.1h3.2v2.8h-3.2zM637.7,261.1h3.2v2.8h-3.2zM721.8,261.1h5.9v2.8h-5.9zM746.2,261.1h16.8v2.8h-16.8zM767.9,261.1h5.9v2.8h-5.9zM512.8,258.8h22.2v2.8h-22.2zM537.3,258.8h3.2v2.8h-3.2zM542.7,258.8h3.2v2.8h-3.2zM610.6,258.8h8.6v2.8h-8.6zM621.5,258.8h3.2v2.8h-3.2zM637.8,258.8h5.9v2.8h-5.9zM746.4,258.8h16.8v2.8h-16.8zM765.4,258.8h3.2v2.8h-3.2zM510.0,256.4h22.2v2.8h-22.2zM553.5,256.4h3.2v2.8h-3.2zM610.6,256.4h16.8v2.8h-16.8zM640.5,256.4h3.2v2.8h-3.2zM727.5,256.4h5.9v2.8h-5.9zM741.1,256.4h16.8v2.8h-16.8zM760.2,256.4h5.9v2.8h-5.9zM510.0,254.1h16.8v2.8h-16.8zM542.6,254.1h3.2v2.8h-3.2zM548.1,254.1h8.7v2.8h-8.7zM607.9,254.1h25.0v2.8h-25.0zM705.9,254.1h8.7v2.8h-8.7zM716.7,254.1h16.8v2.8h-16.8zM735.8,254.1h19.5v2.8h-19.5zM763.0,254.1h3.2v2.8h-3.2zM509.9,251.8h19.6v2.8h-19.6zM548.0,251.8h3.2v2.8h-3.2zM607.9,251.8h25.0v2.8h-25.0zM705.9,251.8h8.7v2.8h-8.7zM716.8,251.8h16.8v2.8h-16.8zM738.6,251.8h8.7v2.8h-8.7zM509.9,249.4h19.6v2.8h-19.6zM534.4,249.4h3.2v2.8h-3.2zM607.9,249.4h25.0v2.8h-25.0zM705.9,249.4h8.7v2.8h-8.7zM716.8,249.4h22.3v2.8h-22.3zM512.7,247.1h16.8v2.8h-16.8zM537.2,247.1h5.9v2.8h-5.9zM607.9,247.1h22.3v2.8h-22.3zM703.1,247.1h8.7v2.8h-8.7zM719.5,247.1h8.7v2.8h-8.7zM512.8,244.7h30.4v2.8h-30.4zM586.2,244.7h14.1v2.8h-14.1zM607.9,244.7h5.9v2.8h-5.9zM616.1,244.7h16.8v2.8h-16.8zM700.3,244.7h11.4v2.8h-11.4zM722.1,244.7h8.7v2.8h-8.7zM510.1,242.4h30.4v2.8h-30.4zM583.5,242.4h24.9v2.8h-24.9zM624.2,242.4h5.9v2.8h-5.9zM705.7,242.4h5.9v2.8h-5.9zM722.0,242.4h5.9v2.8h-5.9zM730.1,242.4h8.6v2.8h-8.6zM507.5,240.1h27.6v2.8h-27.6zM583.5,240.1h24.9v2.8h-24.9zM702.8,240.1h5.9v2.8h-5.9zM711.0,240.1h3.2v2.8h-3.2zM724.5,240.1h3.2v2.8h-3.2zM730.0,240.1h8.6v2.8h-8.6zM507.7,237.7h3.2v2.8h-3.2zM515.8,237.7h19.5v2.8h-19.5zM580.8,237.7h5.9v2.8h-5.9zM594.3,237.7h11.3v2.8h-11.3zM702.7,237.7h14.0v2.8h-14.0zM724.4,237.7h11.3v2.8h-11.3zM505.1,235.4h5.9v2.8h-5.9zM705.2,235.4h14.0v2.8h-14.0zM726.8,235.4h8.6v2.8h-8.6zM497.2,233.0h14.0v2.8h-14.0zM702.3,233.0h16.7v2.8h-16.7zM726.5,233.0h5.9v2.8h-5.9zM489.4,230.7h19.3v2.8h-19.3zM704.7,230.7h11.3v2.8h-11.3zM726.2,230.7h5.9v2.8h-5.9zM489.8,228.4h11.2v2.8h-11.2zM503.2,228.4h3.2v2.8h-3.2zM707.1,228.4h3.2v2.8h-3.2zM728.5,228.4h3.2v2.8h-3.2zM490.1,226.0h5.8v2.8h-5.8zM503.5,226.0h3.2v2.8h-3.2zM704.0,226.0h5.8v2.8h-5.8zM490.5,223.7h5.8v2.8h-5.8zM701.0,223.7h5.8v2.8h-5.8zM709.0,223.7h5.8v2.8h-5.8zM490.9,221.4h3.2v2.8h-3.2zM703.3,221.4h5.8v2.8h-5.8zM716.6,221.4h5.8v2.8h-5.8zM716.1,219.0h11.1v2.8h-11.1zM720.9,216.7h3.1v2.8h-3.1z"/></g>
<path fill="none" stroke="#000" stroke-width="0.6" stroke-linejoin="round" d="M461.9,172.7 467.1,169.8 471.0,169.1 473.7,167.8 479.5,166.7 482.2,167.3 484.6,167.8 489.1,168.5 492.2,169.2 495.3,168.6 500.1,167.9 501.6,168.6 505.1,168.3 508.4,169.6 508.5,170.4 511.8,170.3 512.6,171.2 514.6,169.8 518.1,170.4 521.5,170.2 522.5,170.9 524.0,169.6 526.0,168.6 525.8,167.0 527.8,166.0 528.4,167.6 528.2,168.8 529.9,169.6 532.2,168.8 533.3,168.3 535.6,168.4 535.3,169.6 534.2,170.4 534.2,171.2 531.9,172.0 529.8,172.0 528.1,173.9 526.6,174.2 524.6,174.7 521.5,176.1 519.0,177.8 517.2,179.5 517.0,180.4 517.3,182.3 519.6,182.3 520.9,183.1 522.9,184.3 525.2,184.5 524.0,187.0 524.6,188.2 524.8,189.0 526.1,188.8 527.6,185.8 527.5,185.0 530.6,183.5 531.9,181.8 531.3,180.4 532.9,178.3 533.7,176.3 535.8,176.3 537.3,176.7 538.2,177.4 539.7,177.8 539.3,179.5 538.4,180.4 540.0,180.7 542.1,180.0 544.0,178.6 544.4,180.6 544.8,182.3 545.2,184.1 547.0,185.2 547.5,186.4 548.2,187.6 547.7,188.6 545.7,189.1 543.4,190.3 540.5,190.3 537.2,190.3 535.3,191.7 533.4,192.9 531.7,194.1 533.1,193.9 536.2,192.0 538.7,191.6 538.6,192.5 536.8,192.9 537.4,193.9 537.2,195.1 538.4,195.5 540.3,195.6 542.2,194.1 542.0,195.4 540.5,196.3 537.9,197.1 535.6,198.3 535.0,197.8 535.7,196.9 537.2,196.2 535.7,196.3 534.5,196.9 532.3,197.8 530.8,198.4 529.9,199.6 530.5,200.2 530.3,200.7 528.8,201.0 526.6,201.4 525.9,202.1 525.4,203.3 524.3,204.1 523.8,205.1 522.6,206.4 522.3,207.6 522.6,208.4 521.1,209.2 519.6,210.2 518.1,211.0 516.1,212.5 515.3,213.8 515.0,215.0 515.3,217.0 515.6,218.9 515.0,220.8 514.1,220.9 513.6,219.7 513.0,217.8 513.3,216.2 512.2,214.9 510.7,215.4 509.7,214.5 508.1,214.6 506.7,214.7 506.4,216.0 505.2,216.0 503.7,215.5 501.9,215.4 500.4,216.0 498.6,217.1 497.4,218.3 497.3,219.9 496.4,221.8 495.8,224.4 496.1,226.1 496.8,227.9 497.4,228.9 498.6,229.5 500.3,229.3 501.6,229.1 502.9,227.9 503.4,226.3 505.0,225.7 507.2,225.5 507.3,226.3 506.4,227.6 505.8,229.4 505.2,230.4 504.4,232.4 505.8,232.5 507.4,232.4 509.0,232.5 510.3,233.5 509.8,235.3 509.4,237.2 509.3,238.4 510.0,239.7 510.8,240.9 512.1,241.1 513.5,240.4 514.6,240.3 515.9,241.4 516.1,242.3 515.1,241.6 514.8,240.9 513.8,241.0 512.7,241.9 513.1,242.9 512.1,243.1 511.3,242.1 510.1,241.9 509.3,241.4 509.2,240.5 508.1,239.9 507.0,239.4 507.1,238.4 506.1,236.9 505.4,236.0 504.4,235.7 502.8,235.1 501.2,234.7 499.8,233.2 498.6,232.0 497.5,232.1 496.1,232.6 494.5,232.1 492.7,231.3 491.0,230.2 489.2,229.4 488.1,228.3 487.1,226.8 487.7,225.5 486.9,223.4 485.7,221.8 484.5,220.4 484.5,218.9 483.6,217.7 482.7,216.5 482.2,215.0 482.0,213.5 480.8,212.8 480.3,214.0 481.0,215.6 481.5,217.1 482.0,219.1 482.6,221.2 483.5,222.6 483.2,223.6 482.8,223.1 481.7,221.9 481.2,220.8 481.2,219.6 480.0,218.7 479.5,217.7 480.1,216.7 479.2,215.2 478.8,213.8 478.6,211.9 478.4,210.5 477.6,210.1 476.1,209.4 476.0,208.2 475.7,206.6 475.8,205.4 475.3,204.1 475.5,202.3 476.5,200.5 477.1,199.0 478.8,196.8 479.9,195.0 480.8,192.6 482.3,192.7 482.1,193.8 483.1,192.3 483.1,191.5 482.3,190.5 481.1,189.6 480.8,188.4 481.3,187.0 481.1,185.2 481.7,183.7 481.6,182.3 481.5,181.0 481.3,179.8 479.4,180.8 478.9,180.0 478.0,179.1 476.5,178.9 475.0,178.7 474.2,177.8 471.9,178.3 469.8,179.1 467.3,179.8 468.1,178.7 471.1,177.6 469.5,177.8 467.0,178.9 464.8,180.0 464.6,180.6 462.5,181.4 460.1,182.3 457.1,183.5 454.4,184.3 451.4,185.0 449.5,185.2 451.6,184.4 454.4,183.5 456.6,182.7 459.5,181.6 461.5,180.4 459.8,180.6 458.2,180.5 458.2,179.7 459.1,178.7 457.6,178.3 458.1,177.2 458.4,176.7 460.6,175.8 461.8,175.3 464.3,175.0 466.3,173.9 464.9,173.9 463.1,174.0 461.8,173.7 461.9,172.7ZM515.9,241.4 516.6,242.1 517.6,240.5 518.2,238.9 519.3,238.4 521.0,237.9 522.6,236.7 522.9,237.8 522.2,238.7 523.1,238.4 524.2,237.7 524.5,236.9 525.3,237.8 526.1,238.8 528.0,238.9 529.6,239.5 530.7,239.0 532.8,238.8 532.3,239.4 533.9,240.3 534.0,241.5 535.4,241.9 536.7,243.5 538.1,244.6 540.2,244.7 541.5,245.0 543.1,246.0 544.2,246.8 544.7,248.9 545.6,250.1 545.3,251.6 546.6,252.2 547.4,253.0 548.8,252.9 550.5,253.7 551.6,255.1 553.2,255.0 554.8,255.6 556.5,255.5 558.1,256.6 559.8,257.9 561.6,258.4 562.2,260.6 562.0,262.9 561.0,264.7 559.7,266.2 558.4,267.9 557.9,269.9 558.1,271.7 557.9,274.0 557.4,276.1 556.5,278.5 555.5,280.1 553.7,280.4 552.2,281.2 550.6,281.9 549.2,283.3 548.7,284.7 548.9,286.5 548.1,288.0 547.3,290.0 546.0,291.7 545.0,293.7 543.7,295.1 542.2,295.1 540.5,294.3 539.9,294.2 540.1,294.9 541.4,295.8 542.1,297.0 541.6,298.9 540.4,299.7 538.5,300.1 537.3,300.1 537.6,301.9 536.6,302.7 535.1,302.4 535.5,304.0 537.0,304.5 535.9,305.2 536.0,307.2 534.6,308.3 534.7,309.2 536.5,310.1 536.9,311.3 535.9,312.6 535.1,313.8 535.5,315.4 536.5,316.3 535.5,316.4 537.0,317.1 538.1,318.2 540.5,319.0 539.6,319.5 538.0,320.0 536.5,319.7 534.8,319.0 533.2,317.9 531.5,316.8 530.1,315.2 528.7,313.5 527.8,311.4 527.1,309.6 528.1,308.4 527.1,306.2 526.7,304.8 526.6,303.5 526.1,301.3 526.0,299.9 525.3,297.9 525.4,296.2 525.9,293.7 525.8,291.5 525.3,289.0 525.1,287.2 525.3,285.3 525.4,283.2 525.2,281.0 525.1,278.5 524.9,276.1 524.5,274.6 523.2,273.6 521.5,272.4 519.2,271.1 517.6,269.3 516.5,267.1 515.3,264.6 514.3,262.2 513.1,260.4 511.7,259.4 511.6,257.6 512.5,256.3 513.1,255.1 511.9,254.8 512.0,253.2 512.7,252.0 512.9,250.9 514.1,250.4 514.6,248.9 515.7,248.5 516.0,247.3 515.7,245.2 515.9,243.7 515.4,243.0 515.9,241.4ZM594.0,207.8 594.6,207.7 595.9,208.6 596.9,208.4 597.9,208.7 599.0,208.0 600.3,207.5 601.5,207.0 603.1,206.6 605.1,206.6 607.1,206.4 608.7,206.5 610.0,206.0 611.2,206.4 610.7,207.6 611.3,208.4 610.5,209.7 610.3,210.4 611.4,210.9 612.4,211.5 613.7,211.4 615.8,212.0 616.1,213.1 617.7,213.8 619.3,214.5 620.6,214.5 620.9,213.5 620.8,212.3 622.1,211.5 623.3,211.5 624.1,212.1 626.0,212.8 628.1,213.4 630.2,213.9 631.4,213.4 632.2,213.0 633.6,213.4 634.0,215.0 634.3,216.0 635.2,217.5 635.8,218.9 636.9,221.2 638.0,223.4 639.2,224.9 639.8,226.7 640.0,228.6 641.3,229.8 642.3,232.3 643.1,233.5 644.5,234.4 645.9,235.7 646.8,236.6 646.8,237.7 647.7,239.0 649.3,238.9 650.9,238.2 653.0,238.1 655.4,237.3 655.4,239.2 654.7,240.9 653.8,243.4 652.7,245.8 651.7,247.1 650.3,248.9 648.4,250.4 646.8,252.0 645.7,253.2 644.6,254.7 643.7,255.5 643.1,257.2 642.2,259.2 642.8,260.5 642.9,262.5 643.3,264.7 644.0,265.6 643.8,268.0 643.9,270.5 642.8,272.2 640.8,273.3 639.5,274.2 638.0,275.7 637.2,276.6 637.5,278.5 637.7,281.0 636.6,282.6 634.9,283.5 634.5,284.3 634.6,285.9 633.9,287.5 632.4,288.9 631.2,290.6 629.5,292.3 627.9,293.5 626.4,293.9 624.2,294.1 622.7,294.2 620.5,294.9 619.0,294.3 618.8,292.7 618.9,291.1 618.1,289.4 617.3,287.3 616.0,284.9 615.4,282.2 615.4,280.0 614.4,277.7 613.2,275.2 612.7,273.2 612.7,271.5 613.4,269.3 614.5,267.3 614.9,265.6 614.3,263.1 613.9,260.6 613.3,259.4 613.0,258.2 612.2,256.9 610.9,255.5 609.8,253.9 609.6,252.9 610.2,251.6 610.5,250.1 610.7,248.3 610.3,247.1 609.5,246.4 607.6,246.6 606.5,246.7 605.4,245.2 604.7,244.2 603.3,244.1 601.6,244.4 600.0,245.1 598.4,245.8 597.3,246.1 595.7,245.6 593.5,246.1 591.7,246.6 590.2,245.6 588.3,244.2 586.6,242.9 585.7,241.5 585.4,240.3 584.0,238.7 583.2,237.6 581.9,236.7 581.9,235.3 581.1,233.9 582.2,232.3 582.5,229.8 582.7,228.2 581.8,226.1 582.6,224.5 583.1,222.8 584.3,220.8 584.8,219.7 586.0,217.9 587.4,217.3 589.0,216.2 589.9,214.5 589.8,213.1 590.5,211.8 591.4,210.8 592.5,210.3 593.3,209.3 594.0,207.8ZM634.0,215.0 634.9,216.7 636.0,217.7 636.6,215.6 636.8,217.5 638.6,219.9 639.6,221.8 641.0,223.6 641.7,225.5 643.3,227.7 644.5,229.8 645.7,231.6 646.4,233.7 646.8,235.6 647.1,236.3 648.6,236.1 650.8,235.3 652.9,234.2 655.0,233.1 656.2,232.3 658.0,231.0 659.6,230.0 660.6,228.8 661.9,227.9 662.0,226.7 663.3,225.5 663.7,224.2 662.4,222.9 660.5,222.4 659.8,221.3 659.6,219.6 659.0,220.2 658.3,221.0 657.5,222.0 655.7,222.1 654.6,221.8 654.6,220.0 653.9,219.9 653.7,221.2 653.1,220.4 652.9,219.2 651.9,218.2 651.1,217.1 650.3,215.6 650.8,215.0 651.7,214.7 652.9,215.6 653.6,216.8 654.7,217.8 656.4,218.9 658.0,219.1 659.3,218.6 660.3,218.9 660.8,220.3 662.5,220.7 665.1,220.9 667.2,220.8 668.8,220.8 670.4,220.7 671.2,221.4 671.7,222.6 672.8,223.1 674.5,223.7 674.8,223.7 673.5,224.5 674.7,226.1 675.8,226.5 677.1,225.8 677.2,224.6 677.7,226.1 678.0,228.6 678.7,231.0 679.5,232.9 680.5,235.3 681.4,237.2 682.3,238.9 682.8,240.3 683.6,241.8 684.2,242.0 684.8,241.0 685.7,240.5 686.5,239.3 686.3,237.4 686.8,235.7 686.3,233.2 687.0,232.4 688.5,231.4 689.5,230.0 691.0,228.2 692.5,227.1 692.8,225.6 693.8,225.2 695.2,225.1 696.4,224.5 697.4,224.1 698.1,225.5 698.8,226.7 700.1,227.9 701.0,229.2 701.6,231.0 701.5,232.3 702.6,232.5 703.8,231.6 704.5,231.0 705.0,231.9 705.4,233.5 706.0,235.0 706.6,236.8 706.9,239.0 706.6,240.9 706.7,242.1 707.5,242.7 708.4,243.9 709.2,245.3 709.5,247.1 710.2,248.4 711.3,249.3 712.7,250.4 713.4,250.3 713.0,248.8 712.5,247.6 712.5,246.3 711.7,245.1 711.1,244.4 710.0,243.5 709.3,243.0 708.5,241.5 707.7,240.5 707.5,239.0 707.9,237.7 708.1,236.5 708.2,235.5 709.0,235.5 709.2,236.5 710.7,236.9 711.5,238.1 712.2,238.9 713.2,239.2 713.6,239.9 713.7,241.4 714.4,240.9 715.5,239.9 716.2,239.2 717.2,238.6 718.0,237.8 718.2,236.6 718.0,235.0 717.5,233.5 716.6,232.1 715.2,231.0 714.3,230.0 713.3,228.6 713.7,227.3 714.1,226.3 715.2,225.5 716.3,225.3 717.1,225.6 717.6,226.8 717.9,225.8 719.2,225.3 720.9,224.6 721.7,224.4 722.9,223.9 724.1,223.3 725.2,221.8 726.5,220.5 726.5,219.3 727.0,217.9 727.6,216.8 727.6,215.5 727.0,214.9 726.3,214.4 727.0,213.8 726.4,212.5 725.0,211.3 723.7,209.7 722.4,208.8 723.0,207.6 724.7,206.4 723.4,205.7 721.9,205.7 721.0,206.0 719.8,205.1 718.8,204.1 719.4,203.6 720.0,202.8 720.9,201.7 722.1,201.9 722.3,203.9 723.0,203.9 723.6,203.0 724.8,202.8 726.4,204.1 726.5,205.1 727.8,205.5 728.9,206.4 729.0,207.3 729.7,208.8 730.1,209.6 731.0,209.2 732.4,208.7 732.3,207.6 731.5,206.1 730.0,204.8 728.3,203.3 728.8,202.4 729.5,201.4 729.4,199.9 730.2,198.9 732.0,199.2 732.8,198.1 733.2,196.6 733.4,194.8 733.1,192.9 733.1,191.1 731.8,189.4 731.5,187.9 730.2,186.6 728.8,186.3 727.2,185.6 726.3,186.1 725.1,185.2 723.5,185.0 723.6,184.1 723.8,182.3 724.2,181.0 725.2,179.7 727.7,179.6 730.1,179.4 732.5,180.0 734.5,179.8 735.4,179.5 734.1,177.2 735.9,176.9 738.1,177.8 738.3,176.1 739.6,176.1 740.0,177.2 739.6,178.6 740.0,180.0 739.3,181.4 740.0,182.9 742.1,185.2 744.9,187.6 747.0,189.4 746.9,187.6 746.4,186.8 746.1,185.2 746.1,183.5 745.3,181.8 743.1,180.0 743.5,178.9 745.0,178.3 748.1,178.9 748.1,177.8 749.1,176.9 750.2,176.1 751.9,176.1 749.3,173.9 747.3,173.7 746.1,172.3 748.1,172.8 742.7,169.2 740.4,168.8 737.3,168.3 733.8,168.1 734.6,169.1 731.9,168.4 729.7,168.5 727.1,168.6 722.5,167.3 718.3,167.0 715.0,166.3 711.1,165.7 707.5,165.3 706.1,165.7 704.5,166.5 701.4,166.5 700.1,167.0 696.4,165.5 694.3,164.5 692.1,164.5 689.7,165.0 685.1,164.4 682.6,162.6 678.6,161.5 673.3,160.5 671.7,161.7 669.3,162.1 666.1,162.5 664.2,163.6 664.2,164.4 662.2,165.5 660.3,164.5 658.8,166.0 656.7,165.2 656.9,166.0 658.5,169.6 658.6,171.7 658.2,171.7 657.5,169.3 656.1,166.5 654.6,165.0 652.1,165.2 651.5,166.5 652.6,168.6 654.7,169.8 651.3,168.9 647.8,168.3 647.7,169.5 645.3,169.5 643.1,169.8 640.0,170.2 638.1,171.2 635.4,169.6 634.4,169.5 635.8,171.7 634.2,171.9 633.2,173.8 631.8,174.5 630.5,174.6 629.2,174.1 628.4,172.8 626.3,171.2 629.4,172.0 632.7,172.1 633.4,171.2 632.9,170.5 630.3,169.7 627.6,168.9 626.0,168.6 623.5,168.1 621.6,167.0 619.8,166.9 617.2,167.8 614.9,168.4 612.7,169.4 611.7,170.7 610.6,172.3 609.1,173.9 608.0,175.0 605.9,175.8 604.3,176.7 604.3,178.3 604.8,180.0 606.2,181.2 607.5,180.8 609.2,179.7 609.9,180.6 610.7,181.8 611.4,183.5 611.8,184.2 612.9,184.1 614.4,183.1 614.7,181.8 615.0,180.4 616.4,179.4 614.9,178.1 614.9,176.3 616.0,175.2 617.5,173.9 618.3,172.6 619.9,172.5 620.9,173.4 620.4,174.1 618.9,175.2 618.1,176.3 618.5,177.8 618.4,178.3 620.0,179.0 621.7,178.7 623.8,178.3 625.7,178.9 624.5,179.5 621.6,179.5 620.6,180.0 620.8,181.2 621.5,180.8 621.4,182.2 620.1,181.6 619.2,182.0 618.9,182.9 619.0,184.1 618.2,184.9 617.2,185.2 615.1,185.2 613.1,185.8 611.4,185.5 610.1,185.8 609.1,185.2 609.5,184.1 609.4,182.9 609.3,181.6 608.0,182.2 607.4,182.9 607.4,184.1 607.9,185.2 608.1,186.1 606.4,186.4 604.6,186.6 604.2,187.9 603.3,188.8 602.3,189.4 601.6,189.6 601.4,190.5 600.2,191.0 598.9,191.3 598.4,190.9 598.6,192.1 597.1,192.0 595.5,192.3 595.9,193.2 597.3,193.5 597.9,193.9 598.7,195.1 598.8,196.6 598.5,198.4 596.6,198.4 594.3,198.3 592.1,198.0 590.9,199.0 591.3,200.2 591.2,202.1 590.4,204.1 591.1,205.2 590.8,206.4 592.4,206.2 593.5,206.6 594.3,207.6 595.4,206.7 597.8,206.6 599.2,205.5 600.0,204.3 599.7,203.3 600.8,201.7 602.2,201.0 603.2,199.9 603.0,198.8 603.9,198.4 605.3,198.6 607.2,198.1 608.6,197.3 610.0,198.0 610.4,199.1 611.6,200.1 612.2,200.6 613.7,201.2 614.3,201.7 615.7,202.7 616.1,204.0 615.9,205.1 616.7,204.8 617.2,203.9 616.7,203.0 617.0,202.1 618.1,202.7 618.6,202.5 618.0,201.8 616.9,201.3 615.9,200.3 614.9,200.2 613.8,199.4 613.3,198.3 612.3,197.5 612.0,196.3 613.3,195.7 613.3,196.6 614.1,196.2 614.9,197.5 616.2,198.4 617.8,199.4 619.3,200.3 619.4,202.1 620.1,203.0 620.9,204.0 621.5,204.8 621.8,205.7 622.1,206.6 623.0,207.0 623.6,207.0 623.4,205.9 624.0,205.2 624.3,204.8 623.2,203.6 622.8,202.4 622.9,201.9 623.9,202.7 624.4,202.4 624.5,201.6 626.0,201.7 626.3,202.5 626.4,203.3 627.1,204.5 627.6,205.7 627.9,206.4 628.8,206.7 630.1,207.3 631.2,207.0 631.3,206.5 632.7,207.2 633.7,207.5 635.2,206.6 636.5,206.8 636.8,207.8 636.8,209.4 636.6,210.2 636.2,211.5 636.0,212.5 635.6,213.4 634.9,213.6 633.6,213.4ZM451.3,173.3 453.1,172.8 453.8,173.8 455.8,174.1 457.7,173.4 460.9,172.3 461.4,171.3 459.4,171.0 458.6,169.9 457.3,169.2M561.7,179.0 560.3,178.0 558.4,177.2 557.6,176.1 557.0,174.2 556.8,172.8 556.5,171.2 557.8,169.6 559.9,168.6 557.6,167.6 558.0,166.0 558.1,164.5 557.7,162.8 555.2,162.1 552.3,162.1 550.6,161.7 549.9,160.7 549.2,160.0 553.6,159.0 556.4,158.1 560.7,156.9 567.6,156.6 574.4,156.0 579.0,155.8 583.9,156.3 586.9,157.1 592.1,157.3 588.5,158.5 586.8,159.8 586.7,161.7 585.3,163.1 584.3,164.5 582.4,166.0 582.9,167.6 580.3,168.6 577.7,169.8 574.2,170.7 571.4,172.3 568.8,172.7 566.7,173.9 565.4,175.6 563.6,177.2 562.7,178.7ZM579.8,172.8 581.7,171.9 582.7,172.8 585.3,172.1 587.0,171.7 588.1,172.5 588.7,173.4 587.5,174.2 584.9,175.1 582.8,175.0 581.0,174.7 581.7,173.9 580.1,173.5 581.9,173.0ZM594.6,190.4 596.7,190.2 599.1,189.7 601.2,189.1 600.5,188.8 601.6,187.5 600.3,187.0 600.0,186.3 598.9,185.1 598.6,184.1 597.7,183.5 597.1,183.5 598.2,181.8 596.4,181.6 597.4,180.5 595.6,180.5 594.8,181.8 594.9,182.9 595.0,184.1 595.7,184.1 595.4,184.9 596.8,184.8 597.1,185.8 597.2,186.5 595.9,186.6 595.8,187.2 596.3,187.8 595.1,188.4 596.7,188.8 597.2,189.1 595.8,189.4ZM590.7,188.6 592.5,188.4 594.1,187.9 594.5,186.6 595.0,185.2 594.4,184.4 593.2,184.3 592.2,185.2 590.8,185.6 591.0,186.6 591.2,187.5 590.4,188.2ZM607.2,159.6 609.9,160.7 612.2,161.6 613.3,160.3 614.9,159.8 613.0,159.0 610.8,158.5 607.5,158.8ZM612.1,158.4 613.6,159.0 616.4,159.1 618.3,158.5 616.1,158.1 613.4,158.1ZM639.8,167.0 641.9,167.4 644.7,167.5 642.8,166.0 641.9,164.5 642.8,163.6 644.4,162.6 646.7,161.8 648.8,161.3 646.9,161.2 643.1,161.8 640.9,162.9 640.4,164.5 640.1,166.0ZM665.4,159.4 669.9,160.3 672.4,160.0 671.9,159.1 667.7,158.5 663.9,157.7 662.2,158.5ZM699.7,162.6 703.6,162.3 708.9,162.9 710.4,163.4 705.1,163.3 702.6,163.6ZM704.8,164.5 707.4,164.7 707.0,164.3 704.5,164.1ZM729.9,185.5 731.6,186.4 733.5,188.2 735.3,190.5 736.8,191.5 737.4,193.5 738.5,194.4 738.4,195.4 737.7,195.4 736.5,193.5 735.1,191.7 733.2,189.4 731.0,187.0ZM738.7,200.0 738.3,198.6 739.3,198.6 737.9,196.1 740.1,197.4 742.5,197.5 743.4,198.6 742.5,200.2 742.2,200.2 740.1,199.6 740.2,200.6 739.6,200.8ZM740.8,201.1 742.9,203.3 742.7,204.8 743.5,206.4 744.1,208.0 743.7,208.8 743.4,208.6 742.7,209.2 740.9,209.3 740.8,209.7 740.2,210.7 739.0,209.7 738.8,209.3 737.4,209.6 736.0,210.1 735.0,210.1 734.7,209.4 735.8,208.3 737.3,208.2 738.7,208.1 738.8,207.2 739.1,206.0 739.9,206.6 740.7,205.9 741.0,204.5 740.6,202.9 740.1,201.9 739.9,201.2ZM735.0,210.2 736.2,211.0 736.5,212.5 736.4,213.4 736.0,213.6 735.2,212.5 734.4,211.7 734.0,210.8 734.6,210.4ZM736.7,210.3 737.9,209.7 738.9,210.3 738.7,210.9 737.9,210.8 737.7,211.5 736.8,211.0ZM728.7,220.9 729.3,221.4 729.1,223.6 728.7,224.9 727.9,223.6 727.9,222.1 728.2,221.2ZM716.4,228.2 717.1,227.3 718.4,227.2 718.8,227.8 718.3,228.9 717.5,229.5 716.5,229.1ZM729.2,229.2 731.0,229.2 731.5,231.0 730.8,232.5 731.3,234.1 732.8,234.7 733.9,235.3 734.1,236.5 732.8,235.3 731.7,235.1 730.7,235.1 730.1,234.4 729.3,233.1 728.9,231.9 729.5,231.4 729.3,230.4ZM732.5,243.4 733.0,242.1 734.0,241.3 735.1,241.5 736.0,239.9 737.2,241.5 737.4,243.4 736.9,244.2 736.4,245.0 735.9,244.6 734.7,244.0 734.7,242.7 733.9,242.7 732.7,243.5ZM734.4,236.6 735.7,236.6 736.1,238.4 735.7,239.4 734.9,239.0 734.5,237.8ZM732.0,237.4 733.1,237.8 733.6,239.0 733.7,240.5 732.8,240.3 732.7,239.0 732.2,239.0ZM727.2,241.5 729.4,238.1 729.7,239.0 728.0,241.1ZM729.9,235.5 731.2,235.6 731.3,236.8 730.8,236.8ZM719.3,249.5 720.8,249.9 721.1,248.7 723.0,248.1 724.0,246.4 725.6,245.5 726.8,243.5 727.7,244.0 728.3,244.8 729.6,245.6 728.9,246.6 728.0,247.1 728.2,248.3 728.4,249.5 729.6,250.8 728.5,251.0 727.9,252.0 727.7,253.2 726.8,253.9 726.8,255.5 726.2,256.7 725.1,256.9 724.6,256.3 723.0,255.9 721.6,256.3 720.0,255.6 719.7,253.9 718.9,252.6 718.7,251.6 718.7,250.5ZM703.6,245.1 706.0,245.6 707.4,247.3 709.2,248.9 710.5,249.8 712.1,251.0 713.0,252.0 713.8,253.5 713.7,254.8 715.3,255.7 715.1,257.6 715.0,259.2 713.6,259.2 712.5,258.0 711.3,256.9 709.9,255.1 709.2,253.2 708.0,251.8 707.4,249.9 705.8,248.1 704.4,246.8 703.6,245.6ZM714.3,260.4 715.2,259.3 716.3,259.3 717.9,260.3 720.1,259.9 720.6,259.9 722.4,260.5 724.3,261.5 724.2,262.7 722.1,262.4 719.4,261.9 717.3,261.6 715.5,261.1ZM724.8,262.0 727.0,262.0 729.2,262.2 731.3,262.4 733.5,262.1 733.5,262.6 731.3,263.0 729.1,262.9 726.9,263.1 724.8,262.9ZM729.0,263.6 731.0,263.8 730.6,264.6 729.2,264.1ZM733.8,264.7 735.6,263.1 738.1,262.4 737.2,263.4 734.9,264.6ZM730.6,250.4 731.7,250.4 733.9,250.8 736.3,249.9 735.6,251.4 733.9,251.6 731.7,251.4 730.9,251.6 730.9,253.0 732.3,253.2 734.2,253.0 732.8,254.2 732.2,255.1 733.3,256.3 733.8,257.6 733.2,258.8 732.1,257.9 731.6,256.3 731.1,255.7 731.1,257.6 730.9,258.9 729.9,258.8 730.0,256.7 729.3,255.5 730.1,253.2 730.4,251.6ZM738.8,249.5 739.9,250.4 739.4,252.0 739.4,253.0 738.8,251.4ZM739.3,255.7 742.3,256.1 741.4,256.4 739.5,256.3ZM737.1,255.8 738.4,255.9 738.2,256.7 737.3,256.6ZM742.6,253.0 744.3,252.5 745.9,253.0 746.4,255.1 747.4,256.1 749.7,254.1 751.3,254.5 753.5,255.2 755.6,256.2 757.7,257.6 758.7,258.8 760.3,259.4 759.7,260.4 760.7,261.9 761.6,263.1 763.1,264.7 762.0,264.7 759.9,264.1 758.9,262.9 757.4,261.6 755.7,262.5 755.1,263.4 752.9,263.2 751.4,262.0 749.8,262.2 750.4,260.6 750.0,258.8 747.9,257.7 745.8,256.8 744.5,256.9 744.4,255.7 745.3,255.1 743.7,254.7 742.6,253.6ZM761.4,258.9 763.1,258.8 765.3,257.2 765.3,258.2 763.6,259.6 761.9,259.6ZM764.1,255.2 765.9,256.3 766.4,257.6 765.9,256.9 764.3,255.7ZM768.2,258.8 769.3,260.0 768.9,260.5 768.1,259.4ZM770.5,261.0 773.4,262.5 774.3,264.0 773.3,263.7 771.0,261.9ZM775.3,276.9 777.5,278.9 777.9,279.6 776.5,278.9 775.2,277.4ZM790.4,273.6 791.8,273.7 791.5,274.5 790.2,274.3ZM779.6,270.5 780.2,270.8 780.2,272.4 779.8,271.5ZM754.4,265.2 755.2,267.4 755.2,269.6 756.6,270.5 756.5,272.4 756.5,274.8 757.4,275.8 758.8,276.9 759.3,279.1 760.3,280.7 761.6,282.6 761.9,284.1 761.4,286.5 759.7,289.6 758.2,291.7 756.4,293.3 754.2,295.8 752.5,297.9 750.0,298.8 747.7,300.2 746.7,298.9 744.9,299.9 742.7,299.1 742.3,297.6 742.7,296.2 741.3,295.9 742.3,294.9 742.6,292.7 741.2,293.9 739.7,294.9 739.1,294.7 738.6,292.7 737.1,291.5 734.1,291.0 730.7,291.9 728.3,292.7 727.3,293.8 723.7,293.8 721.1,295.2 719.2,294.9 718.4,294.3 720.1,291.5 720.0,289.6 720.2,287.4 719.8,284.7 720.2,282.2 721.1,279.8 721.9,278.9 723.9,277.8 725.5,277.4 727.3,276.7 729.5,276.2 731.1,274.2 732.1,272.6 733.4,272.1 734.7,270.8 736.5,269.3 738.0,270.3 739.6,270.4 740.5,268.3 741.4,267.3 743.4,266.2 746.0,266.9 748.0,267.1 746.9,268.7 746.1,270.5 747.5,271.5 749.4,272.9 750.9,273.7 752.1,271.7 752.8,269.3 753.1,267.4 753.8,265.6ZM744.7,302.2 746.2,302.7 748.1,302.4 747.3,303.8 745.9,305.2 744.4,305.7 743.8,304.8 744.1,303.5ZM777.7,294.4 778.7,295.6 778.1,297.4 778.9,297.6 779.9,298.8 781.1,298.5 778.7,300.5 776.4,302.3 774.4,303.3 774.2,302.9 775.3,301.7 775.2,300.5 776.6,299.5 777.4,298.3 777.6,296.8 777.6,295.2ZM772.9,301.9 773.5,302.8 773.2,303.5 770.8,305.0 769.8,306.0 767.6,306.8 765.8,308.5 763.8,309.4 762.6,309.4 761.5,308.6 762.8,307.4 765.2,306.2 767.9,305.0 770.1,303.8 771.8,302.4ZM653.3,266.8 654.2,270.9 653.5,272.4 653.0,274.2 652.1,277.3 650.9,280.4 649.8,282.8 647.8,283.5 646.6,282.8 646.1,279.8 647.3,277.3 647.2,274.2 647.9,272.0 649.9,271.4 651.6,269.9 652.6,268.0ZM686.7,239.9 688.1,241.5 688.8,243.0 688.2,244.4 687.2,244.6 686.7,243.1 686.6,241.5ZM612.7,205.1 615.8,204.9 615.5,206.7 612.7,205.6ZM608.2,201.4 609.7,201.4 609.7,203.6 608.6,203.9ZM608.5,199.6 609.4,199.0 609.4,200.8 608.7,200.6ZM624.2,208.2 626.9,208.6 625.7,208.9 624.2,208.6ZM633.2,208.8 635.3,208.1 634.9,208.9 633.7,209.3ZM509.5,225.0 511.7,223.6 513.8,223.5 515.9,224.2 517.9,225.5 519.9,226.6 520.7,227.1 519.2,227.4 516.9,227.6 517.5,226.6 516.2,226.1 514.2,224.9 512.7,224.5 511.0,224.9ZM520.2,229.3 521.9,227.4 523.3,227.6 525.1,227.7 526.7,229.1 526.0,229.4 524.4,229.4 523.1,230.3 522.2,229.5ZM516.0,229.3 518.1,229.5 518.1,229.9 516.8,230.0 516.0,229.5ZM527.9,229.2 529.7,229.3 529.5,229.8 527.9,229.8ZM532.9,238.8 534.0,238.7 533.9,239.5 532.9,239.5ZM543.1,193.3 545.0,191.1 546.5,189.4 548.2,188.6 547.4,190.5 548.8,191.1 549.4,192.2 549.4,193.5 548.3,194.5 546.5,194.3 546.2,193.4 544.3,193.4ZM479.4,189.6 481.8,190.3 482.1,192.3 481.1,192.5 480.3,191.4 479.4,190.3ZM478.2,185.7 479.2,185.8 478.0,187.9 477.7,187.0ZM543.7,176.7 540.8,175.8 539.7,174.7 538.5,173.9 535.4,174.1 535.5,173.4 539.1,172.8 540.2,171.7 541.6,170.7 541.5,169.6 540.0,168.8 538.6,168.1 537.4,168.1 535.8,168.1 533.5,168.1 532.3,167.6 531.4,166.8 531.7,165.5 533.2,164.4 536.2,164.3 539.5,164.4 541.1,165.1 543.1,165.5 544.7,166.5 546.3,167.6 546.7,168.8 547.2,170.2 549.4,171.2 549.9,171.7 548.0,173.0 546.7,172.5 545.3,172.0 545.4,173.4 546.2,175.0 545.0,175.8 544.7,176.9ZM516.9,169.1 519.7,168.6 521.4,167.6 519.2,167.0 520.3,165.5 518.8,164.8 515.2,165.3 514.0,164.7 510.3,165.3 508.6,166.5 510.2,166.8 508.0,167.8 507.9,168.6 510.4,168.9 509.0,169.8 512.5,169.5 515.2,169.2ZM504.6,166.0 508.3,164.3 511.8,163.9 513.2,164.5 509.1,165.7 506.9,166.6 504.8,166.8ZM536.2,161.7 542.4,161.9 544.6,161.2 547.3,159.8 549.8,159.4 554.4,158.1 559.4,156.9 558.2,156.2 551.8,156.1 544.7,156.7 540.1,157.7 541.1,158.5 540.3,159.8 537.0,160.9ZM542.0,162.4 540.6,163.5 535.0,163.6 532.3,163.4 533.8,161.9 536.1,162.5 539.2,162.3ZM540.1,159.4 536.7,160.0 534.8,159.0 537.5,157.7 539.6,158.1ZM522.3,163.1 518.8,163.6 516.1,163.4 514.9,162.6 518.8,161.8 522.0,162.1ZM532.9,164.3 529.0,164.1 527.9,165.5 529.0,166.0 531.9,165.3ZM527.7,164.3 523.1,165.0 522.7,166.2 525.6,166.4ZM524.8,168.6 521.8,168.9 522.1,169.4 524.1,169.3ZM533.1,174.5 531.5,175.0 528.4,175.3 527.3,174.5 529.2,172.8 531.2,172.3 532.4,173.6ZM529.1,162.9 525.8,162.6 525.5,161.7 529.3,161.5 530.7,162.1ZM516.9,161.9 513.8,162.3 511.6,161.8 515.1,160.9 518.2,160.7ZM533.7,160.7 530.5,160.5 527.9,159.8 529.5,159.1 533.0,159.6ZM432.9,228.6 434.1,227.9 433.5,227.0 433.0,227.7ZM542.9,315.0 545.7,315.0 545.6,316.1 543.7,316.1ZM565.2,318.2 567.1,318.4 567.2,319.1 565.8,318.8ZM665.5,312.0 667.1,312.3 666.5,313.1 665.3,313.0ZM500.4,252.4 501.1,252.4 501.1,253.2 500.4,253.2ZM738.0,167.0 738.3,166.5 739.3,167.2ZM474.5,343.9 482.1,344.2 488.1,343.7 487.7,342.8 492.5,342.3 497.8,341.2 504.0,340.4 510.8,339.9 518.8,340.4 524.5,340.9 524.1,338.5 528.2,338.8 532.0,338.8 539.9,339.2 543.1,338.5 543.3,335.4 545.2,333.3 546.0,331.7 547.1,330.6 548.3,329.9 550.4,329.0 552.0,328.8 551.7,329.9 550.0,330.6 549.5,332.3 548.8,333.8 552.0,335.4 552.8,337.0 554.0,339.0 554.6,340.9 558.4,342.3 564.9,343.5 570.6,343.7 574.8,343.7 575.8,342.8 580.5,341.9 583.8,340.4 586.4,339.0 590.1,338.0 592.3,337.0 596.1,336.4 600.0,335.9 603.9,335.9 607.8,335.9 611.8,335.4 615.6,335.9 619.6,335.9 623.6,335.4 626.2,334.6 629.8,335.7 631.7,334.9 636.1,333.6 640.7,332.3 644.9,331.9 646.3,332.6 648.3,333.3 652.2,333.5 655.4,333.6 655.5,334.7 656.7,335.4 659.0,335.4 662.2,334.2 666.2,333.1 670.7,332.5 674.9,332.3 678.2,332.3 682.0,331.5 685.7,332.0 690.0,331.7 693.4,332.5 697.4,332.6 702.0,332.0 706.2,331.9 710.5,331.7 713.7,332.5 717.1,333.0 719.4,334.4 722.7,334.9 725.2,335.9 727.9,336.7 730.6,337.5 728.5,339.0 722.4,340.9 716.4,343.3 719.5,343.5 725.5,343.9M628.9,201.2 631.4,201.1 632.8,200.2 634.8,200.2 636.4,201.1 637.9,201.4 639.9,201.4 641.4,200.7 641.1,199.6 639.4,198.5 637.2,197.2 636.1,196.6 635.7,196.2 636.3,194.8 637.5,193.9 636.6,194.1 634.8,194.6 633.9,195.1 634.4,196.2 634.2,196.8 633.3,197.3 632.8,197.1 631.6,196.1 632.5,195.4 630.9,194.8 629.7,194.8 628.9,196.2 628.2,197.8 627.6,198.8 627.4,199.7 628.1,200.7ZM646.2,196.0 647.4,194.8 649.2,194.1 651.2,194.4 651.6,196.2 650.0,196.3 649.9,197.2 649.2,197.2 650.3,198.8 651.9,199.4 652.6,200.8 653.2,202.7 654.0,203.9 654.8,205.7 654.5,206.5 653.0,206.7 651.4,206.4 650.3,205.7 649.5,204.5 649.3,203.3 649.6,202.3 648.8,200.8 647.5,199.6 646.8,198.4 646.0,197.2ZM496.8,173.1 500.2,171.4 503.2,171.2 504.1,172.0 501.9,173.0 499.1,173.4ZM499.2,177.8 502.1,176.4 505.2,175.8 507.3,175.9 504.7,176.9 501.3,177.9ZM502.1,180.4 505.6,179.6 507.6,179.8 504.8,180.0ZM507.5,182.9 509.6,181.2 509.7,181.8 508.2,182.9ZM507.0,190.0 508.9,187.8 509.1,186.1 510.5,186.1 509.8,188.8 508.8,190.0ZM511.2,194.4 514.3,192.9 517.0,192.1 518.5,193.2 518.2,194.5 515.9,194.8 513.6,194.4ZM512.8,200.2 513.6,197.8 515.7,195.6 517.5,195.6 515.4,197.8 514.3,200.2ZM518.0,195.4 520.6,195.1 522.1,196.2 521.4,197.2 520.0,197.2 519.3,198.8 518.6,198.9 518.1,197.5 518.7,196.2ZM517.2,200.5 519.9,199.4 522.0,199.1 521.2,199.9 518.9,200.8ZM521.4,198.6 523.9,197.9 525.1,197.9 524.6,198.5 522.6,198.6ZM697.0,188.6 697.6,187.2 699.0,185.8 699.2,183.8 698.7,183.8 698.8,186.4 697.8,188.2ZM671.7,196.6 672.9,194.5 675.9,194.8 676.3,194.4 673.3,194.1 671.4,195.6ZM657.2,197.8 657.6,195.0 659.5,194.8 659.9,197.2 658.5,198.1ZM626.3,178.9 626.6,177.2 628.3,177.8 628.2,178.7ZM629.7,177.8 629.9,176.0 631.0,176.7 630.8,177.8ZM634.6,253.0 635.7,251.6 637.0,251.6 637.3,253.2 636.5,255.2 634.8,255.2ZM631.9,256.3 632.3,258.2 633.1,260.6 633.9,262.7 633.1,262.5 631.8,259.4 631.7,256.9ZM636.9,263.7 637.6,266.2 638.0,269.3 637.4,269.6 636.9,266.8 636.7,264.3ZM524.6,270.9 525.3,271.1 526.1,272.2 525.2,272.0ZM611.0,180.6 611.8,179.7 612.3,180.3 611.5,180.7ZM507.0,238.2 507.7,237.2 508.2,238.2 507.4,238.4Z"/>
<g filter="url(#bl)"><path fill="#4010F4" d="M126.6,628.3h2.9v2.8h-2.9zM125.7,626.0h2.9v2.8h-2.9zM129.6,623.8h2.9v2.8h-2.9zM128.8,621.5h7.8v2.8h-7.8zM123.1,619.1h3.0v2.8h-3.0zM130.5,619.1h5.4v2.8h-5.4zM132.3,616.8h5.5v2.8h-5.5zM136.7,614.5h5.5v2.8h-5.5zM128.5,612.2h5.6v2.8h-5.6zM136.1,612.2h3.0v2.8h-3.0zM125.3,609.8h13.3v2.8h-13.3zM140.7,609.8h3.1v2.8h-3.1zM315.2,609.8h3.1v2.8h-3.1zM127.4,607.5h13.4v2.8h-13.4zM316.1,607.5h3.1v2.8h-3.1zM129.5,605.2h3.1v2.8h-3.1zM134.7,605.2h5.7v2.8h-5.7zM129.1,602.8h3.1v2.8h-3.1zM134.3,602.8h8.4v2.8h-8.4zM225.9,602.8h5.7v2.8h-5.7zM356.9,602.8h3.1v2.8h-3.1zM136.6,600.5h5.8v2.8h-5.8zM223.4,600.5h8.4v2.8h-8.4zM355.1,600.5h5.8v2.8h-5.8zM136.3,598.1h8.4v2.8h-8.4zM223.6,598.1h11.1v2.8h-11.1zM355.8,598.1h5.8v2.8h-5.8zM136.0,595.8h3.2v2.8h-3.2zM151.9,595.8h3.2v2.8h-3.2zM223.7,595.8h13.8v2.8h-13.8zM351.1,595.8h3.2v2.8h-3.2zM356.5,595.8h5.8v2.8h-5.8zM135.8,593.5h5.8v2.8h-5.8zM223.7,593.5h5.8v2.8h-5.8zM351.7,593.5h8.5v2.8h-8.5zM130.2,591.1h13.9v2.8h-13.9zM352.2,591.1h5.8v2.8h-5.8zM130.0,588.8h5.9v2.8h-5.9zM138.0,588.8h3.2v2.8h-3.2zM132.5,586.5h11.3v2.8h-11.3zM234.7,586.5h3.2v2.8h-3.2zM121.5,584.1h3.2v2.8h-3.2zM132.3,584.1h11.3v2.8h-11.3zM232.1,584.1h5.9v2.8h-5.9zM121.3,581.8h3.2v2.8h-3.2zM129.5,581.8h3.2v2.8h-3.2zM134.9,581.8h5.9v2.8h-5.9zM210.6,581.8h3.2v2.8h-3.2zM118.5,579.4h11.3v2.8h-11.3zM137.4,579.4h5.9v2.8h-5.9zM145.6,579.4h3.2v2.8h-3.2zM210.6,579.4h3.2v2.8h-3.2zM118.4,577.1h8.6v2.8h-8.6zM140.1,577.1h8.6v2.8h-8.6zM153.6,577.1h5.9v2.8h-5.9zM235.0,577.1h3.2v2.8h-3.2zM121.0,574.8h3.2v2.8h-3.2zM145.4,574.8h16.8v2.8h-16.8zM235.1,574.8h3.2v2.8h-3.2zM145.4,572.4h3.2v2.8h-3.2zM153.5,572.4h8.7v2.8h-8.7zM235.1,572.4h3.2v2.8h-3.2zM235.1,570.1h8.7v2.8h-8.7zM237.9,567.8h5.9v2.8h-5.9zM134.4,565.4h11.4v2.8h-11.4zM137.2,563.1h8.7v2.8h-8.7zM213.4,563.1h5.9v2.8h-5.9zM134.5,560.7h8.7v2.8h-8.7zM213.3,560.7h8.7v2.8h-8.7zM224.2,560.7h5.9v2.8h-5.9zM235.1,560.7h3.2v2.8h-3.2zM134.6,558.4h5.9v2.8h-5.9zM183.5,558.4h3.2v2.8h-3.2zM213.3,558.4h22.2v2.8h-22.2zM131.9,556.1h3.2v2.8h-3.2zM183.5,556.1h8.6v2.8h-8.6zM194.3,556.1h5.9v2.8h-5.9zM213.3,556.1h8.6v2.8h-8.6zM224.2,556.1h8.6v2.8h-8.6zM121.2,553.7h3.2v2.8h-3.2zM126.6,553.7h8.6v2.8h-8.6zM183.5,553.7h16.8v2.8h-16.8zM224.1,553.7h3.2v2.8h-3.2zM121.3,551.4h3.2v2.8h-3.2zM99.9,549.0h5.9v2.8h-5.9zM307.7,549.0h3.2v2.8h-3.2zM100.2,546.7h5.9v2.8h-5.9zM304.7,546.7h11.3v2.8h-11.3zM95.1,544.4h8.5v2.8h-8.5zM307.1,544.4h11.2v2.8h-11.2zM84.8,542.0h5.8v2.8h-5.8zM103.5,542.0h3.2v2.8h-3.2zM301.4,542.0h5.8v2.8h-5.8zM87.8,539.7h3.2v2.8h-3.2zM93.1,539.7h3.2v2.8h-3.2zM106.5,539.7h3.2v2.8h-3.2zM303.7,539.7h3.2v2.8h-3.2zM85.5,537.4h11.1v2.8h-11.1zM300.7,537.4h5.8v2.8h-5.8zM86.0,535.0h3.1v2.8h-3.1zM91.3,535.0h5.8v2.8h-5.8zM112.5,535.0h3.1v2.8h-3.1zM302.9,535.0h3.1v2.8h-3.1zM110.2,532.7h5.8v2.8h-5.8zM310.3,532.7h5.8v2.8h-5.8zM320.9,532.7h3.1v2.8h-3.1zM108.1,530.3h8.4v2.8h-8.4zM304.5,530.3h24.1v2.8h-24.1zM103.5,528.0h10.9v2.8h-10.9zM311.7,528.0h5.7v2.8h-5.7zM324.7,528.0h3.1v2.8h-3.1zM109.3,525.7h8.3v2.8h-8.3zM303.1,525.7h5.7v2.8h-5.7zM310.9,525.7h5.7v2.8h-5.7zM334.2,525.7h5.7v2.8h-5.7zM107.4,523.3h15.9v2.8h-15.9zM307.5,523.3h5.6v2.8h-5.6zM315.2,523.3h3.1v2.8h-3.1zM333.2,523.3h10.8v2.8h-10.8zM108.1,521.0h15.8v2.8h-15.8zM306.6,521.0h5.6v2.8h-5.6zM334.6,521.0h8.1v2.8h-8.1zM111.4,518.7h13.1v2.8h-13.1zM338.5,518.7h5.5v2.8h-5.5zM107.3,516.4h20.5v2.8h-20.5zM108.2,514.0h17.8v2.8h-17.8zM109.2,511.7h22.5v2.8h-22.5zM110.3,509.5h17.4v2.8h-17.4zM139.3,509.5h2.9v2.8h-2.9zM113.7,507.2h10.1v2.8h-10.1zM125.7,507.2h5.3v2.8h-5.3zM77.1,504.9h9.9v2.8h-9.9zM124.3,504.9h2.9v2.8h-2.9zM131.3,504.9h5.2v2.8h-5.2zM132.3,502.7h2.8v2.7h-2.8zM239.3,502.7h2.8v2.7h-2.8zM276.5,502.7h2.8v2.7h-2.8zM222.7,500.5h2.8v2.7h-2.8zM229.5,500.5h14.3v2.7h-14.3zM268.5,500.5h7.4v2.7h-7.4zM277.7,500.5h2.8v2.7h-2.8zM222.3,498.3h5.0v2.7h-5.0zM229.1,498.3h14.0v2.7h-14.0zM244.9,498.3h2.8v2.7h-2.8zM271.9,498.3h7.3v2.7h-7.3zM221.9,496.1h18.2v2.7h-18.2zM241.9,496.1h11.6v2.7h-11.6zM270.7,496.1h2.7v2.7h-2.7z"/>
<path fill="#2838E8" d="M123.4,612.2h3.0v2.8h-3.0zM138.2,609.8h3.1v2.8h-3.1zM132.1,605.2h3.1v2.8h-3.1zM121.2,602.8h3.1v2.8h-3.1zM133.9,600.5h3.1v2.8h-3.1zM144.5,600.5h5.8v2.8h-5.8zM131.0,598.1h5.8v2.8h-5.8zM146.8,598.1h3.1v2.8h-3.1zM146.6,595.8h3.2v2.8h-3.2zM141.1,593.5h3.2v2.8h-3.2zM143.6,591.1h3.2v2.8h-3.2zM140.7,588.8h5.9v2.8h-5.9zM129.6,584.1h3.2v2.8h-3.2zM118.6,581.8h3.2v2.8h-3.2zM124.0,581.8h5.9v2.8h-5.9zM132.2,581.8h3.2v2.8h-3.2zM140.3,581.8h8.6v2.8h-8.6zM129.3,579.4h3.2v2.8h-3.2zM134.7,579.4h3.2v2.8h-3.2zM142.9,579.4h3.2v2.8h-3.2zM148.3,579.4h14.0v2.8h-14.0zM148.2,577.1h5.9v2.8h-5.9zM159.1,577.1h3.2v2.8h-3.2zM221.5,560.7h3.2v2.8h-3.2zM232.3,556.1h5.9v2.8h-5.9zM232.3,553.7h3.2v2.8h-3.2zM113.9,528.0h3.1v2.8h-3.1zM117.0,525.7h3.1v2.8h-3.1zM337.2,516.4h5.5v2.8h-5.5zM202.2,514.0h3.0v2.8h-3.0zM338.3,514.0h5.4v2.8h-5.4zM131.2,511.7h7.8v2.8h-7.8zM202.2,511.7h5.4v2.8h-5.4zM336.8,511.7h5.4v2.8h-5.4zM127.2,509.5h12.6v2.8h-12.6zM108.9,507.2h2.9v2.8h-2.9zM130.4,507.2h5.3v2.8h-5.3zM110.1,504.9h2.9v2.8h-2.9zM78.8,502.7h7.5v2.7h-7.5zM225.3,502.7h2.8v2.7h-2.8zM248.6,502.7h2.8v2.7h-2.8zM264.9,502.7h2.8v2.7h-2.8zM278.8,502.7h5.2v2.7h-5.2zM85.2,500.5h2.8v2.7h-2.8zM225.0,500.5h5.1v2.7h-5.1zM243.3,500.5h25.7v2.7h-25.7zM275.4,500.5h2.8v2.7h-2.8zM280.0,500.5h9.7v2.7h-9.7zM226.8,498.3h2.8v2.7h-2.8zM242.6,498.3h2.8v2.7h-2.8zM247.1,498.3h25.3v2.7h-25.3zM278.7,498.3h9.5v2.7h-9.5zM253.0,496.1h18.2v2.7h-18.2zM275.2,496.1h9.4v2.7h-9.4zM239.0,493.9h2.7v2.6h-2.7z"/>
<path fill="#3078E8" d="M221.5,556.1h3.2v2.8h-3.2zM199.8,553.7h5.9v2.8h-5.9zM221.4,553.7h3.2v2.8h-3.2zM221.4,551.4h5.9v2.8h-5.9zM316.0,514.0h12.9v2.8h-12.9zM312.3,511.7h17.6v2.8h-17.6zM315.8,509.5h7.8v2.8h-7.8zM111.3,507.2h2.9v2.8h-2.9zM123.3,507.2h2.9v2.8h-2.9zM135.2,507.2h2.9v2.8h-2.9zM312.1,507.2h10.1v2.8h-10.1zM95.9,504.9h2.9v2.8h-2.9zM107.7,504.9h2.9v2.8h-2.9zM112.5,504.9h2.9v2.8h-2.9zM126.6,504.9h5.2v2.8h-5.2zM136.1,504.9h2.9v2.8h-2.9zM310.6,504.9h2.9v2.8h-2.9zM315.3,504.9h2.9v2.8h-2.9zM92.7,502.7h21.4v2.7h-21.4zM116.0,502.7h2.8v2.7h-2.8zM120.7,502.7h12.1v2.7h-12.1zM134.6,502.7h5.2v2.7h-5.2zM227.7,502.7h2.8v2.7h-2.8zM234.6,502.7h5.2v2.7h-5.2zM309.1,502.7h2.8v2.7h-2.8zM96.6,500.5h5.1v2.7h-5.1zM103.5,500.5h5.1v2.7h-5.1zM112.7,500.5h5.1v2.7h-5.1zM119.5,500.5h16.5v2.7h-16.5zM100.5,498.3h2.8v2.7h-2.8zM123.0,498.3h2.8v2.7h-2.8zM134.3,498.3h2.8v2.7h-2.8zM239.7,496.1h2.7v2.7h-2.7zM219.4,493.9h11.4v2.6h-11.4zM232.5,493.9h7.0v2.6h-7.0zM225.4,491.8h2.6v2.6h-2.6zM236.1,491.8h2.6v2.6h-2.6zM225.0,489.7h2.6v2.6h-2.6z"/>
<path fill="#10A0F8" d="M127.6,630.6h2.8v2.7h-2.8zM129.0,628.3h2.9v2.8h-2.9zM133.7,628.3h2.9v2.8h-2.9zM130.4,626.0h7.7v2.8h-7.7zM132.0,623.8h2.9v2.8h-2.9zM129.8,616.8h3.0v2.8h-3.0zM129.1,614.5h8.1v2.8h-8.1zM133.6,612.2h3.0v2.8h-3.0zM138.7,612.2h3.0v2.8h-3.0zM139.9,605.2h3.1v2.8h-3.1zM142.1,602.8h5.7v2.8h-5.7zM128.7,600.5h3.1v2.8h-3.1zM141.8,600.5h3.1v2.8h-3.1zM128.3,598.1h3.1v2.8h-3.1zM144.2,598.1h3.1v2.8h-3.1zM130.7,595.8h5.8v2.8h-5.8zM138.7,595.8h3.2v2.8h-3.2zM144.0,595.8h3.2v2.8h-3.2zM149.3,595.8h3.2v2.8h-3.2zM130.4,593.5h5.8v2.8h-5.8zM143.8,593.5h8.5v2.8h-8.5zM154.4,593.5h3.2v2.8h-3.2zM154.3,591.1h3.2v2.8h-3.2zM119.3,588.8h3.2v2.8h-3.2zM154.1,588.8h3.2v2.8h-3.2zM116.3,586.5h3.2v2.8h-3.2zM143.2,586.5h5.9v2.8h-5.9zM151.3,586.5h5.9v2.8h-5.9zM143.1,584.1h5.9v2.8h-5.9zM132.0,579.4h3.2v2.8h-3.2zM129.2,577.1h8.6v2.8h-8.6zM129.1,574.8h5.9v2.8h-5.9zM237.8,574.8h5.9v2.8h-5.9zM237.8,572.4h5.9v2.8h-5.9zM227.0,570.1h3.2v2.8h-3.2zM97.2,549.0h3.2v2.8h-3.2zM97.5,546.7h3.2v2.8h-3.2zM85.1,539.7h3.2v2.8h-3.2zM98.3,528.0h3.1v2.8h-3.1zM298.6,528.0h3.1v2.8h-3.1zM316.9,528.0h3.1v2.8h-3.1zM322.1,528.0h3.1v2.8h-3.1zM91.2,525.7h18.6v2.8h-18.6zM316.1,525.7h8.3v2.8h-8.3zM94.6,523.3h13.3v2.8h-13.3zM312.6,523.3h3.1v2.8h-3.1zM317.8,523.3h5.6v2.8h-5.6zM293.9,521.0h3.0v2.8h-3.0zM311.7,521.0h5.6v2.8h-5.6zM319.4,521.0h3.0v2.8h-3.0zM108.9,518.7h3.0v2.8h-3.0zM300.7,518.7h18.2v2.8h-18.2zM325.9,518.7h3.0v2.8h-3.0zM97.3,516.4h3.0v2.8h-3.0zM299.7,516.4h28.0v2.8h-28.0zM103.3,514.0h5.4v2.8h-5.4zM101.9,511.7h7.8v2.8h-7.8zM98.2,509.5h2.9v2.8h-2.9zM105.4,509.5h5.3v2.8h-5.3zM226.4,509.5h2.9v2.8h-2.9zM99.4,507.2h10.1v2.8h-10.1zM221.3,507.2h7.7v2.8h-7.7zM257.1,507.2h5.3v2.8h-5.3zM300.1,507.2h2.9v2.8h-2.9zM309.7,507.2h2.9v2.8h-2.9zM93.6,504.9h2.9v2.8h-2.9zM98.3,504.9h9.9v2.8h-9.9zM114.8,504.9h9.9v2.8h-9.9zM223.3,504.9h9.9v2.8h-9.9zM239.9,504.9h26.5v2.8h-26.5zM268.2,504.9h7.6v2.8h-7.6zM284.7,504.9h7.6v2.8h-7.6zM298.8,504.9h12.3v2.8h-12.3zM313.0,504.9h2.9v2.8h-2.9zM113.7,502.7h2.8v2.7h-2.8zM118.3,502.7h2.8v2.7h-2.8zM220.7,502.7h5.2v2.7h-5.2zM230.0,502.7h2.8v2.7h-2.8zM241.6,502.7h7.5v2.7h-7.5zM250.9,502.7h14.5v2.7h-14.5zM267.2,502.7h9.8v2.7h-9.8zM292.8,502.7h16.8v2.7h-16.8zM311.4,502.7h2.8v2.7h-2.8zM92.0,500.5h5.1v2.7h-5.1zM108.1,500.5h2.8v2.7h-2.8zM220.4,500.5h2.8v2.7h-2.8zM293.7,500.5h12.0v2.7h-12.0zM220.1,498.3h2.8v2.7h-2.8zM292.2,498.3h7.3v2.7h-7.3zM217.5,496.1h4.9v2.7h-4.9zM273.0,496.1h2.7v2.7h-2.7zM284.1,496.1h4.9v2.7h-4.9zM290.7,496.1h9.4v2.7h-9.4zM217.2,493.9h2.7v2.6h-2.7zM230.3,493.9h2.7v2.6h-2.7zM241.2,493.9h4.9v2.6h-4.9zM247.7,493.9h2.7v2.6h-2.7zM252.1,493.9h31.0v2.6h-31.0zM284.8,493.9h15.8v2.6h-15.8zM219.0,491.8h6.9v2.6h-6.9zM229.7,491.8h6.9v2.6h-6.9zM238.3,491.8h2.6v2.6h-2.6zM242.6,491.8h4.8v2.6h-4.8zM259.7,491.8h2.6v2.6h-2.6zM266.1,491.8h11.2v2.6h-11.2zM289.7,491.8h4.8v2.6h-4.8zM311.1,491.8h2.6v2.6h-2.6zM235.5,489.7h2.6v2.6h-2.6zM271.2,489.7h2.6v2.6h-2.6z"/>
<path fill="#48C0F8" d="M131.7,602.8h3.1v2.8h-3.1zM220.7,602.8h5.7v2.8h-5.7zM131.3,600.5h3.1v2.8h-3.1zM218.2,600.5h5.8v2.8h-5.8zM213.0,598.1h11.1v2.8h-11.1zM342.6,598.1h3.1v2.8h-3.1zM213.0,595.8h8.5v2.8h-8.5zM242.2,595.8h5.8v2.8h-5.8zM340.5,595.8h11.1v2.8h-11.1zM353.8,595.8h3.2v2.8h-3.2zM218.4,593.5h3.2v2.8h-3.2zM242.4,593.5h3.2v2.8h-3.2zM341.0,593.5h11.2v2.8h-11.2zM146.3,591.1h3.2v2.8h-3.2zM338.8,591.1h13.9v2.8h-13.9zM146.1,588.8h5.9v2.8h-5.9zM339.3,588.8h13.9v2.8h-13.9zM129.8,586.5h3.2v2.8h-3.2zM148.6,586.5h3.2v2.8h-3.2zM210.5,586.5h8.6v2.8h-8.6zM224.0,586.5h3.2v2.8h-3.2zM345.1,586.5h5.9v2.8h-5.9zM124.2,584.1h3.2v2.8h-3.2zM148.5,584.1h8.6v2.8h-8.6zM210.5,584.1h5.9v2.8h-5.9zM224.0,584.1h3.2v2.8h-3.2zM148.4,581.8h11.3v2.8h-11.3zM213.3,581.8h3.2v2.8h-3.2zM115.8,579.4h3.2v2.8h-3.2zM126.5,577.1h3.2v2.8h-3.2zM137.4,577.1h3.2v2.8h-3.2zM118.3,574.8h3.2v2.8h-3.2zM123.7,574.8h5.9v2.8h-5.9zM134.6,574.8h5.9v2.8h-5.9zM120.9,572.4h19.5v2.8h-19.5zM150.8,572.4h3.2v2.8h-3.2zM110.0,570.1h5.9v2.8h-5.9zM123.6,570.1h16.8v2.8h-16.8zM150.8,570.1h5.9v2.8h-5.9zM109.9,567.8h5.9v2.8h-5.9zM120.8,567.8h22.3v2.8h-22.3zM109.9,565.4h25.0v2.8h-25.0zM112.7,563.1h3.2v2.8h-3.2zM120.9,563.1h11.4v2.8h-11.4zM115.5,560.7h3.2v2.8h-3.2zM120.9,560.7h11.4v2.8h-11.4zM186.2,560.7h14.1v2.8h-14.1zM202.5,560.7h5.9v2.8h-5.9zM110.1,558.4h19.5v2.8h-19.5zM186.2,558.4h5.9v2.8h-5.9zM194.3,558.4h8.6v2.8h-8.6zM205.2,558.4h3.2v2.8h-3.2zM284.0,558.4h5.9v2.8h-5.9zM110.2,556.1h19.5v2.8h-19.5zM286.6,556.1h3.2v2.8h-3.2zM104.9,553.7h5.9v2.8h-5.9zM115.8,553.7h5.9v2.8h-5.9zM123.9,553.7h3.2v2.8h-3.2zM281.0,553.7h3.2v2.8h-3.2zM105.1,551.4h5.9v2.8h-5.9zM310.6,551.4h5.9v2.8h-5.9zM105.3,549.0h5.9v2.8h-5.9zM310.4,549.0h8.6v2.8h-8.6zM105.6,546.7h3.2v2.8h-3.2zM103.2,544.4h3.2v2.8h-3.2zM116.6,544.4h13.9v2.8h-13.9zM304.4,544.4h3.2v2.8h-3.2zM100.8,542.0h3.2v2.8h-3.2zM116.8,542.0h8.5v2.8h-8.5zM296.0,542.0h5.8v2.8h-5.8zM306.7,542.0h11.2v2.8h-11.2zM101.1,539.7h5.8v2.8h-5.8zM295.7,539.7h3.2v2.8h-3.2zM306.4,539.7h16.5v2.8h-16.5zM82.9,537.4h3.2v2.8h-3.2zM306.0,537.4h11.1v2.8h-11.1zM80.7,535.0h5.8v2.8h-5.8zM88.6,535.0h3.1v2.8h-3.1zM295.0,535.0h3.1v2.8h-3.1zM305.6,535.0h11.1v2.8h-11.1zM324.1,535.0h3.1v2.8h-3.1zM81.3,532.7h16.3v2.8h-16.3zM294.5,532.7h3.1v2.8h-3.1zM299.8,532.7h5.8v2.8h-5.8zM323.5,532.7h3.1v2.8h-3.1zM81.9,530.3h18.8v2.8h-18.8zM296.6,530.3h5.7v2.8h-5.7zM77.4,528.0h21.3v2.8h-21.3zM296.0,528.0h3.1v2.8h-3.1zM301.2,528.0h3.1v2.8h-3.1zM306.5,528.0h5.7v2.8h-5.7zM319.5,528.0h3.1v2.8h-3.1zM295.4,525.7h8.3v2.8h-8.3zM308.3,525.7h3.1v2.8h-3.1zM294.7,523.3h13.3v2.8h-13.3zM95.4,521.0h13.2v2.8h-13.2zM296.5,521.0h10.7v2.8h-10.7zM316.8,521.0h3.0v2.8h-3.0zM321.9,521.0h5.6v2.8h-5.6zM93.8,518.7h15.6v2.8h-15.6zM189.7,518.7h8.1v2.8h-8.1zM293.1,518.7h8.1v2.8h-8.1zM320.9,518.7h5.5v2.8h-5.5zM99.8,516.4h8.0v2.8h-8.0zM189.8,516.4h8.0v2.8h-8.0zM297.2,516.4h3.0v2.8h-3.0zM95.9,514.0h7.9v2.8h-7.9zM189.9,514.0h10.4v2.8h-10.4zM296.2,514.0h3.0v2.8h-3.0zM308.6,514.0h7.9v2.8h-7.9zM92.1,511.7h10.3v2.8h-10.3zM190.0,511.7h2.9v2.8h-2.9zM197.3,511.7h2.9v2.8h-2.9zM307.4,511.7h5.4v2.8h-5.4zM95.7,509.5h2.9v2.8h-2.9zM100.6,509.5h5.3v2.8h-5.3zM308.6,509.5h7.8v2.8h-7.8zM94.6,507.2h5.3v2.8h-5.3zM140.0,507.2h2.9v2.8h-2.9zM307.3,507.2h2.9v2.8h-2.9zM138.4,504.9h7.6v2.8h-7.6zM232.8,504.9h7.6v2.8h-7.6zM291.8,504.9h7.6v2.8h-7.6zM85.8,502.7h7.5v2.7h-7.5zM139.3,502.7h5.2v2.7h-5.2zM232.3,502.7h2.8v2.7h-2.8zM288.2,502.7h5.2v2.7h-5.2zM313.7,502.7h5.2v2.7h-5.2zM78.3,500.5h7.4v2.7h-7.4zM87.4,500.5h5.1v2.7h-5.1zM101.2,500.5h2.8v2.7h-2.8zM137.9,500.5h5.1v2.7h-5.1zM289.1,500.5h5.1v2.7h-5.1zM305.2,500.5h12.0v2.7h-12.0zM77.9,498.3h2.8v2.7h-2.8zM82.4,498.3h18.5v2.7h-18.5zM102.7,498.3h7.3v2.7h-7.3zM215.5,498.3h5.0v2.7h-5.0zM287.7,498.3h5.0v2.7h-5.0zM299.0,498.3h7.3v2.7h-7.3zM308.0,498.3h11.8v2.7h-11.8zM55.5,496.1h7.2v2.7h-7.2zM79.9,496.1h2.7v2.7h-2.7zM88.8,496.1h16.0v2.7h-16.0zM106.6,496.1h2.7v2.7h-2.7zM288.5,496.1h2.7v2.7h-2.7zM299.6,496.1h7.2v2.7h-7.2zM308.5,496.1h9.4v2.7h-9.4zM53.7,493.9h22.3v2.6h-22.3zM77.6,493.9h4.9v2.6h-4.9zM92.9,493.9h13.6v2.6h-13.6zM245.5,493.9h2.7v2.6h-2.7zM249.9,493.9h2.7v2.6h-2.7zM282.6,493.9h2.7v2.6h-2.7zM300.1,493.9h2.7v2.6h-2.7zM304.4,493.9h13.6v2.6h-13.6zM56.3,491.8h21.9v2.6h-21.9zM79.8,491.8h2.6v2.6h-2.6zM90.6,491.8h17.6v2.6h-17.6zM212.6,491.8h2.6v2.6h-2.6zM216.9,491.8h2.6v2.6h-2.6zM227.6,491.8h2.6v2.6h-2.6zM240.4,491.8h2.6v2.6h-2.6zM249.0,491.8h11.2v2.6h-11.2zM261.8,491.8h4.8v2.6h-4.8zM279.0,491.8h6.9v2.6h-6.9zM294.0,491.8h6.9v2.6h-6.9zM306.8,491.8h4.8v2.6h-4.8zM59.0,489.7h19.4v2.6h-19.4zM90.5,489.7h17.3v2.6h-17.3zM212.4,489.7h13.1v2.6h-13.1zM227.1,489.7h8.9v2.6h-8.9zM252.3,489.7h2.6v2.6h-2.6zM283.8,489.7h17.3v2.6h-17.3zM306.9,489.7h6.8v2.6h-6.8zM53.5,487.7h27.3v2.5h-27.3zM88.5,487.7h12.9v2.5h-12.9zM214.2,487.7h8.7v2.5h-8.7zM224.5,487.7h4.6v2.5h-4.6zM230.7,487.7h2.6v2.5h-2.6zM288.3,487.7h2.6v2.5h-2.6zM292.5,487.7h6.7v2.5h-6.7zM300.7,487.7h14.9v2.5h-14.9zM54.4,485.7h4.5v2.5h-4.5zM62.5,485.7h18.7v2.5h-18.7zM90.8,485.7h10.6v2.5h-10.6zM290.6,485.7h2.5v2.5h-2.5zM294.6,485.7h2.5v2.5h-2.5zM300.7,485.7h2.5v2.5h-2.5zM308.7,485.7h2.5v2.5h-2.5zM57.5,483.7h2.5v2.5h-2.5zM67.4,483.7h12.4v2.5h-12.4zM93.1,483.7h14.3v2.5h-14.3zM72.3,481.8h2.4v2.4h-2.4zM105.1,481.8h2.4v2.4h-2.4z"/>
<path fill="#A8D8F0" d="M263.4,628.3h2.9v2.8h-2.9zM264.3,626.0h2.9v2.8h-2.9zM359.4,623.8h5.3v2.8h-5.3zM341.0,614.5h8.1v2.8h-8.1zM339.7,612.2h13.2v2.8h-13.2zM122.8,609.8h3.1v2.8h-3.1zM217.7,609.8h5.6v2.8h-5.6zM317.8,609.8h5.6v2.8h-5.6zM335.7,609.8h18.5v2.8h-18.5zM122.2,607.5h5.7v2.8h-5.7zM215.3,607.5h13.4v2.8h-13.4zM318.7,607.5h10.8v2.8h-10.8zM334.2,607.5h10.8v2.8h-10.8zM352.3,607.5h5.7v2.8h-5.7zM121.7,605.2h8.3v2.8h-8.3zM215.4,605.2h16.1v2.8h-16.1zM316.9,605.2h21.3v2.8h-21.3zM340.3,605.2h3.1v2.8h-3.1zM350.7,605.2h5.7v2.8h-5.7zM123.8,602.8h5.7v2.8h-5.7zM215.5,602.8h5.7v2.8h-5.7zM231.2,602.8h3.1v2.8h-3.1zM317.6,602.8h8.4v2.8h-8.4zM333.3,602.8h3.1v2.8h-3.1zM338.5,602.8h3.1v2.8h-3.1zM349.0,602.8h3.1v2.8h-3.1zM123.4,600.5h5.8v2.8h-5.8zM212.9,600.5h5.8v2.8h-5.8zM318.2,600.5h5.8v2.8h-5.8zM123.0,598.1h5.8v2.8h-5.8zM234.1,598.1h3.1v2.8h-3.1zM244.7,598.1h5.8v2.8h-5.8zM316.1,598.1h8.4v2.8h-8.4zM122.7,595.8h8.5v2.8h-8.5zM221.0,595.8h3.2v2.8h-3.2zM247.6,595.8h3.2v2.8h-3.2zM316.6,595.8h8.5v2.8h-8.5zM122.5,593.5h8.5v2.8h-8.5zM213.1,593.5h5.8v2.8h-5.8zM221.1,593.5h3.2v2.8h-3.2zM229.1,593.5h8.5v2.8h-8.5zM319.7,593.5h21.8v2.8h-21.8zM373.0,593.5h5.8v2.8h-5.8zM122.2,591.1h8.5v2.8h-8.5zM210.4,591.1h27.2v2.8h-27.2zM245.2,591.1h3.2v2.8h-3.2zM322.8,591.1h16.5v2.8h-16.5zM373.6,591.1h3.2v2.8h-3.2zM122.0,588.8h8.5v2.8h-8.5zM210.5,588.8h24.6v2.8h-24.6zM245.4,588.8h3.2v2.8h-3.2zM328.5,588.8h11.2v2.8h-11.2zM387.5,588.8h3.2v2.8h-3.2zM121.7,586.5h8.6v2.8h-8.6zM218.6,586.5h5.9v2.8h-5.9zM229.3,586.5h5.9v2.8h-5.9zM245.5,586.5h3.2v2.8h-3.2zM328.9,586.5h5.9v2.8h-5.9zM377.3,586.5h3.2v2.8h-3.2zM113.4,584.1h5.9v2.8h-5.9zM126.9,584.1h3.2v2.8h-3.2zM215.9,584.1h5.9v2.8h-5.9zM337.3,584.1h5.9v2.8h-5.9zM350.8,584.1h3.2v2.8h-3.2zM113.2,581.8h5.9v2.8h-5.9zM218.7,581.8h3.2v2.8h-3.2zM232.2,581.8h5.9v2.8h-5.9zM240.3,581.8h3.2v2.8h-3.2zM337.6,581.8h11.3v2.8h-11.3zM351.2,581.8h3.2v2.8h-3.2zM113.1,579.4h3.2v2.8h-3.2zM213.3,579.4h8.6v2.8h-8.6zM232.3,579.4h5.9v2.8h-5.9zM327.1,579.4h3.2v2.8h-3.2zM332.5,579.4h3.2v2.8h-3.2zM351.4,579.4h3.2v2.8h-3.2zM356.9,579.4h5.9v2.8h-5.9zM110.2,577.1h8.6v2.8h-8.6zM210.6,577.1h11.4v2.8h-11.4zM229.6,577.1h5.9v2.8h-5.9zM237.7,577.1h3.2v2.8h-3.2zM319.1,577.1h19.5v2.8h-19.5zM346.2,577.1h16.8v2.8h-16.8zM367.9,577.1h5.9v2.8h-5.9zM110.1,574.8h8.6v2.8h-8.6zM140.0,574.8h5.9v2.8h-5.9zM210.6,574.8h11.4v2.8h-11.4zM226.9,574.8h8.6v2.8h-8.6zM311.1,574.8h5.9v2.8h-5.9zM346.4,574.8h16.8v2.8h-16.8zM365.4,574.8h3.2v2.8h-3.2zM110.0,572.4h11.4v2.8h-11.4zM139.9,572.4h5.9v2.8h-5.9zM148.1,572.4h3.2v2.8h-3.2zM210.6,572.4h3.2v2.8h-3.2zM216.1,572.4h11.4v2.8h-11.4zM229.7,572.4h5.9v2.8h-5.9zM308.5,572.4h5.9v2.8h-5.9zM327.5,572.4h5.9v2.8h-5.9zM341.1,572.4h16.8v2.8h-16.8zM360.2,572.4h5.9v2.8h-5.9zM115.4,570.1h8.7v2.8h-8.7zM139.9,570.1h11.4v2.8h-11.4zM207.9,570.1h19.5v2.8h-19.5zM229.7,570.1h5.9v2.8h-5.9zM305.9,570.1h8.7v2.8h-8.7zM316.7,570.1h16.8v2.8h-16.8zM335.8,570.1h19.5v2.8h-19.5zM363.0,570.1h3.2v2.8h-3.2zM96.3,567.8h5.9v2.8h-5.9zM115.4,567.8h5.9v2.8h-5.9zM142.6,567.8h8.7v2.8h-8.7zM207.9,567.8h19.6v2.8h-19.6zM229.7,567.8h8.7v2.8h-8.7zM305.9,567.8h8.7v2.8h-8.7zM316.8,567.8h16.8v2.8h-16.8zM338.6,567.8h8.7v2.8h-8.7zM207.9,565.4h22.3v2.8h-22.3zM235.1,565.4h5.9v2.8h-5.9zM246.0,565.4h3.2v2.8h-3.2zM305.9,565.4h8.7v2.8h-8.7zM316.8,565.4h22.3v2.8h-22.3zM131.7,563.1h5.9v2.8h-5.9zM207.9,563.1h5.9v2.8h-5.9zM218.8,563.1h11.4v2.8h-11.4zM235.1,563.1h5.9v2.8h-5.9zM303.1,563.1h8.7v2.8h-8.7zM319.5,563.1h8.7v2.8h-8.7zM131.8,560.7h3.2v2.8h-3.2zM207.9,560.7h5.9v2.8h-5.9zM300.3,560.7h11.4v2.8h-11.4zM322.1,560.7h8.7v2.8h-8.7zM129.1,558.4h5.9v2.8h-5.9zM207.9,558.4h5.9v2.8h-5.9zM305.7,558.4h5.9v2.8h-5.9zM322.0,558.4h5.9v2.8h-5.9zM330.1,558.4h8.6v2.8h-8.6zM107.5,556.1h3.2v2.8h-3.2zM129.2,556.1h3.2v2.8h-3.2zM210.6,556.1h3.2v2.8h-3.2zM302.8,556.1h5.9v2.8h-5.9zM311.0,556.1h3.2v2.8h-3.2zM324.5,556.1h3.2v2.8h-3.2zM330.0,556.1h5.9v2.8h-5.9zM302.7,553.7h11.3v2.8h-11.3zM324.4,553.7h11.3v2.8h-11.3zM102.4,551.4h3.2v2.8h-3.2zM118.6,551.4h3.2v2.8h-3.2zM226.8,551.4h5.9v2.8h-5.9zM302.5,551.4h8.6v2.8h-8.6zM326.8,551.4h8.6v2.8h-8.6zM302.3,549.0h5.9v2.8h-5.9zM326.5,549.0h5.9v2.8h-5.9zM180.9,546.7h3.2v2.8h-3.2zM202.4,546.7h3.2v2.8h-3.2zM234.7,546.7h3.2v2.8h-3.2zM299.3,546.7h5.9v2.8h-5.9zM326.2,546.7h3.2v2.8h-3.2zM113.9,544.4h3.2v2.8h-3.2zM181.0,544.4h27.3v2.8h-27.3zM231.9,544.4h8.5v2.8h-8.5zM299.0,544.4h5.9v2.8h-5.9zM325.8,544.4h3.2v2.8h-3.2zM31.3,542.0h3.2v2.8h-3.2zM114.2,542.0h3.2v2.8h-3.2zM181.0,542.0h5.8v2.8h-5.8zM189.1,542.0h24.6v2.8h-24.6zM229.2,542.0h13.9v2.8h-13.9zM114.5,539.7h3.2v2.8h-3.2zM183.8,539.7h3.2v2.8h-3.2zM191.8,539.7h3.2v2.8h-3.2zM205.1,539.7h8.5v2.8h-8.5zM215.7,539.7h5.8v2.8h-5.8zM226.4,539.7h8.5v2.8h-8.5zM298.4,539.7h5.8v2.8h-5.8zM325.0,539.7h3.2v2.8h-3.2zM80.2,537.4h3.2v2.8h-3.2zM109.4,537.4h5.8v2.8h-5.8zM191.8,537.4h3.2v2.8h-3.2zM202.4,537.4h3.2v2.8h-3.2zM207.7,537.4h3.2v2.8h-3.2zM229.0,537.4h8.5v2.8h-8.5zM295.4,537.4h5.8v2.8h-5.8zM316.6,537.4h13.8v2.8h-13.8zM78.1,535.0h3.1v2.8h-3.1zM109.8,535.0h3.1v2.8h-3.1zM181.2,535.0h5.8v2.8h-5.8zM226.2,535.0h11.1v2.8h-11.1zM239.4,535.0h8.4v2.8h-8.4zM297.6,535.0h5.8v2.8h-5.8zM316.1,535.0h8.4v2.8h-8.4zM326.7,535.0h3.1v2.8h-3.1zM76.0,532.7h5.8v2.8h-5.8zM184.0,532.7h5.8v2.8h-5.8zM226.1,532.7h13.7v2.8h-13.7zM244.5,532.7h3.1v2.8h-3.1zM262.9,532.7h5.8v2.8h-5.8zM270.8,532.7h5.8v2.8h-5.8zM297.2,532.7h3.1v2.8h-3.1zM305.1,532.7h5.8v2.8h-5.8zM315.6,532.7h5.8v2.8h-5.8zM76.7,530.3h5.7v2.8h-5.7zM100.2,530.3h5.7v2.8h-5.7zM189.3,530.3h13.6v2.8h-13.6zM215.5,530.3h5.7v2.8h-5.7zM223.3,530.3h3.1v2.8h-3.1zM231.2,530.3h8.4v2.8h-8.4zM241.6,530.3h3.1v2.8h-3.1zM249.5,530.3h3.1v2.8h-3.1zM265.2,530.3h3.1v2.8h-3.1zM270.4,530.3h3.1v2.8h-3.1zM275.7,530.3h3.1v2.8h-3.1zM291.4,530.3h3.1v2.8h-3.1zM301.9,530.3h3.1v2.8h-3.1zM74.8,528.0h3.1v2.8h-3.1zM100.9,528.0h3.1v2.8h-3.1zM191.9,528.0h18.7v2.8h-18.7zM215.4,528.0h3.1v2.8h-3.1zM220.6,528.0h8.3v2.8h-8.3zM233.6,528.0h3.1v2.8h-3.1zM241.4,528.0h5.7v2.8h-5.7zM251.8,528.0h3.1v2.8h-3.1zM293.4,528.0h3.1v2.8h-3.1zM303.8,528.0h3.1v2.8h-3.1zM332.5,528.0h3.1v2.8h-3.1zM75.7,525.7h16.0v2.8h-16.0zM194.6,525.7h16.0v2.8h-16.0zM212.7,525.7h3.1v2.8h-3.1zM233.4,525.7h10.8v2.8h-10.8zM248.9,525.7h3.1v2.8h-3.1zM267.0,525.7h3.1v2.8h-3.1zM331.6,525.7h3.1v2.8h-3.1zM74.0,523.3h21.0v2.8h-21.0zM194.6,523.3h15.9v2.8h-15.9zM233.1,523.3h3.1v2.8h-3.1zM281.9,523.3h5.6v2.8h-5.6zM328.0,523.3h5.6v2.8h-5.6zM72.5,521.0h10.7v2.8h-10.7zM87.8,521.0h8.1v2.8h-8.1zM194.7,521.0h3.0v2.8h-3.0zM199.8,521.0h10.7v2.8h-10.7zM243.0,521.0h3.0v2.8h-3.0zM258.3,521.0h5.6v2.8h-5.6zM281.2,521.0h5.6v2.8h-5.6zM327.0,521.0h5.6v2.8h-5.6zM76.1,518.7h18.2v2.8h-18.2zM187.1,518.7h3.0v2.8h-3.0zM204.8,518.7h5.5v2.8h-5.5zM242.6,518.7h3.0v2.8h-3.0zM252.7,518.7h8.1v2.8h-8.1zM265.4,518.7h10.6v2.8h-10.6zM278.0,518.7h8.1v2.8h-8.1zM77.3,516.4h20.5v2.8h-20.5zM127.3,516.4h3.0v2.8h-3.0zM209.7,516.4h13.0v2.8h-13.0zM239.7,516.4h8.0v2.8h-8.0zM252.2,516.4h5.5v2.8h-5.5zM262.2,516.4h35.5v2.8h-35.5zM327.2,516.4h3.0v2.8h-3.0zM76.1,514.0h20.3v2.8h-20.3zM125.5,514.0h5.4v2.8h-5.4zM187.4,514.0h3.0v2.8h-3.0zM209.6,514.0h12.9v2.8h-12.9zM224.5,514.0h3.0v2.8h-3.0zM229.4,514.0h5.4v2.8h-5.4zM236.9,514.0h22.8v2.8h-22.8zM264.1,514.0h32.7v2.8h-32.7zM298.7,514.0h10.4v2.8h-10.4zM328.4,514.0h5.4v2.8h-5.4zM335.8,514.0h3.0v2.8h-3.0zM75.0,511.7h17.6v2.8h-17.6zM214.4,511.7h93.5v2.8h-93.5zM329.4,511.7h5.4v2.8h-5.4zM76.4,509.5h19.8v2.8h-19.8zM144.1,509.5h5.3v2.8h-5.3zM194.9,509.5h5.3v2.8h-5.3zM211.8,509.5h15.0v2.8h-15.0zM228.8,509.5h80.3v2.8h-80.3zM323.1,509.5h10.2v2.8h-10.2zM335.2,509.5h2.9v2.8h-2.9zM77.9,507.2h17.2v2.8h-17.2zM142.4,507.2h7.7v2.8h-7.7zM192.6,507.2h7.7v2.8h-7.7zM211.7,507.2h10.1v2.8h-10.1zM228.4,507.2h29.2v2.8h-29.2zM261.9,507.2h38.7v2.8h-38.7zM302.5,507.2h5.3v2.8h-5.3zM321.6,507.2h14.8v2.8h-14.8zM86.5,504.9h7.6v2.8h-7.6zM145.5,504.9h2.9v2.8h-2.9zM195.0,504.9h2.9v2.8h-2.9zM211.5,504.9h12.3v2.8h-12.3zM265.8,504.9h2.9v2.8h-2.9zM275.2,504.9h9.9v2.8h-9.9zM317.7,504.9h17.0v2.8h-17.0zM74.1,502.7h2.8v2.7h-2.8zM188.1,502.7h2.8v2.7h-2.8zM213.7,502.7h7.5v2.7h-7.5zM283.5,502.7h5.2v2.7h-5.2zM318.4,502.7h14.5v2.7h-14.5zM344.0,502.7h2.8v2.7h-2.8zM46.2,500.5h5.1v2.7h-5.1zM76.0,500.5h2.8v2.7h-2.8zM188.3,500.5h2.8v2.7h-2.8zM202.0,500.5h18.8v2.7h-18.8zM316.6,500.5h14.3v2.7h-14.3zM339.6,500.5h7.4v2.7h-7.4zM50.9,498.3h7.3v2.7h-7.3zM80.2,498.3h2.8v2.7h-2.8zM204.3,498.3h9.5v2.7h-9.5zM305.8,498.3h2.8v2.7h-2.8zM319.3,498.3h5.0v2.7h-5.0zM337.4,498.3h9.5v2.7h-9.5zM75.5,496.1h4.9v2.7h-4.9zM82.2,496.1h7.2v2.7h-7.2zM204.2,496.1h11.6v2.7h-11.6zM306.2,496.1h2.7v2.7h-2.7zM317.3,496.1h7.2v2.7h-7.2zM337.3,496.1h7.2v2.7h-7.2zM75.5,493.9h2.7v2.6h-2.7zM82.0,493.9h11.4v2.6h-11.4zM158.3,493.9h4.9v2.6h-4.9zM201.9,493.9h13.6v2.6h-13.6zM302.2,493.9h2.7v2.6h-2.7zM317.5,493.9h17.9v2.6h-17.9zM337.1,493.9h11.4v2.6h-11.4zM77.7,491.8h2.6v2.6h-2.6zM82.0,491.8h9.1v2.6h-9.1zM154.8,491.8h4.8v2.6h-4.8zM201.9,491.8h11.2v2.6h-11.2zM276.8,491.8h2.6v2.6h-2.6zM285.4,491.8h4.8v2.6h-4.8zM300.4,491.8h6.9v2.6h-6.9zM313.2,491.8h17.6v2.6h-17.6zM332.5,491.8h2.6v2.6h-2.6zM336.8,491.8h2.6v2.6h-2.6zM77.9,489.7h13.1v2.6h-13.1zM155.6,489.7h2.6v2.6h-2.6zM204.0,489.7h8.9v2.6h-8.9zM273.3,489.7h6.8v2.6h-6.8zM300.6,489.7h6.8v2.6h-6.8zM313.2,489.7h13.1v2.6h-13.1zM80.3,487.7h8.7v2.5h-8.7zM208.0,487.7h6.7v2.5h-6.7zM222.4,487.7h2.6v2.5h-2.6zM232.7,487.7h4.6v2.5h-4.6zM269.8,487.7h8.7v2.5h-8.7zM284.2,487.7h4.6v2.5h-4.6zM290.4,487.7h2.6v2.5h-2.6zM298.6,487.7h2.6v2.5h-2.6zM315.1,487.7h2.6v2.5h-2.6zM321.3,487.7h2.6v2.5h-2.6zM58.5,485.7h4.5v2.5h-4.5zM80.7,485.7h10.6v2.5h-10.6zM209.8,485.7h24.7v2.5h-24.7zM268.4,485.7h8.6v2.5h-8.6zM280.5,485.7h10.6v2.5h-10.6zM292.6,485.7h2.5v2.5h-2.5zM296.6,485.7h4.5v2.5h-4.5zM302.7,485.7h6.6v2.5h-6.6zM310.8,485.7h12.6v2.5h-12.6zM333.0,485.7h2.5v2.5h-2.5zM79.2,483.7h14.3v2.5h-14.3zM209.6,483.7h20.3v2.5h-20.3zM233.3,483.7h2.5v2.5h-2.5zM263.0,483.7h4.5v2.5h-4.5zM280.7,483.7h49.9v2.5h-49.9zM60.7,481.8h0.5v2.4h-0.5zM74.2,481.8h12.1v2.4h-12.1zM101.2,481.8h2.4v2.4h-2.4zM215.2,481.8h8.2v2.4h-8.2zM238.4,481.8h2.4v2.4h-2.4zM261.6,481.8h2.4v2.4h-2.4zM280.9,481.8h43.0v2.4h-43.0zM336.9,481.8h2.4v2.4h-2.4zM103.6,479.9h2.4v2.4h-2.4zM267.6,479.9h2.4v2.4h-2.4zM278.9,479.9h17.5v2.4h-17.5zM303.5,479.9h8.0v2.4h-8.0zM238.3,478.1h7.8v2.3h-7.8zM262.2,478.1h9.7v2.3h-9.7zM273.2,478.1h9.7v2.3h-9.7zM298.9,478.1h11.5v2.3h-11.5zM140.9,476.3h2.3v2.3h-2.3zM208.7,476.3h4.1v2.3h-4.1zM240.8,476.3h7.6v2.3h-7.6zM265.8,476.3h14.8v2.3h-14.8zM128.8,474.6h17.8v2.2h-17.8zM204.9,474.6h12.6v2.2h-12.6zM263.8,474.6h9.2v2.2h-9.2zM134.4,473.1h10.6v2.0h-10.6zM206.5,473.1h10.6v2.0h-10.6zM260.1,473.1h8.9v2.0h-8.9zM141.3,471.7h3.7v1.9h-3.7z"/>
<path fill="#FFF488" d="M95.4,666.9h209.1v0.8h-209.1zM92.7,666.1h214.5v1.3h-214.5zM89.7,665.0h220.6v1.5h-220.6zM86.4,663.8h227.3v1.7h-227.3zM82.8,662.4h234.4v1.9h-234.4zM79.0,660.9h241.9v2.0h-241.9zM75.2,659.2h249.7v2.2h-249.7zM85.5,657.4h77.2v2.3h-77.2zM173.0,657.4h146.8v2.3h-146.8zM93.2,655.6h63.0v2.3h-63.0zM179.5,655.6h143.8v2.3h-143.8zM122.4,653.7h32.6v2.4h-32.6zM182.8,653.7h145.7v2.4h-145.7zM139.9,651.8h14.0v2.4h-14.0zM188.2,651.8h143.4v2.4h-143.4zM140.5,649.8h12.4v2.5h-12.4zM197.8,649.8h128.9v2.5h-128.9zM143.2,647.8h6.6v2.5h-6.6zM234.1,647.8h22.7v2.5h-22.7zM262.3,647.8h57.0v2.5h-57.0zM144.1,645.8h6.7v2.5h-6.7zM278.0,645.8h12.9v2.5h-12.9zM302.8,645.8h8.7v2.5h-8.7zM145.1,643.7h6.8v2.6h-6.8zM340.7,619.1h5.4v2.8h-5.4zM342.2,616.8h5.5v2.8h-5.5zM140.3,607.5h5.7v2.8h-5.7zM142.5,605.2h5.7v2.8h-5.7zM337.7,605.2h3.1v2.8h-3.1zM342.9,605.2h8.3v2.8h-8.3zM325.4,602.8h8.4v2.8h-8.4zM335.9,602.8h3.1v2.8h-3.1zM341.1,602.8h8.4v2.8h-8.4zM351.6,602.8h3.1v2.8h-3.1zM231.3,600.5h3.1v2.8h-3.1zM323.5,600.5h32.1v2.8h-32.1zM324.1,598.1h19.0v2.8h-19.0zM345.2,598.1h11.1v2.8h-11.1zM324.6,595.8h16.4v2.8h-16.4zM151.8,593.5h3.2v2.8h-3.2zM148.9,591.1h5.8v2.8h-5.8zM119.0,586.5h3.2v2.8h-3.2zM226.7,586.5h3.2v2.8h-3.2zM237.4,586.5h5.9v2.8h-5.9zM334.3,586.5h11.3v2.8h-11.3zM118.8,584.1h3.2v2.8h-3.2zM221.3,584.1h3.2v2.8h-3.2zM226.7,584.1h5.9v2.8h-5.9zM237.5,584.1h5.9v2.8h-5.9zM334.6,584.1h3.2v2.8h-3.2zM342.7,584.1h3.2v2.8h-3.2zM216.0,581.8h3.2v2.8h-3.2zM221.4,581.8h11.3v2.8h-11.3zM237.6,581.8h3.2v2.8h-3.2zM229.5,579.4h3.2v2.8h-3.2zM237.7,579.4h5.9v2.8h-5.9zM240.4,577.1h3.2v2.8h-3.2zM243.3,567.8h3.2v2.8h-3.2zM240.6,565.4h5.9v2.8h-5.9zM115.4,563.1h5.9v2.8h-5.9zM240.6,563.1h11.4v2.8h-11.4zM112.8,560.7h3.2v2.8h-3.2zM118.2,560.7h3.2v2.8h-3.2zM243.2,560.7h8.7v2.8h-8.7zM245.9,558.4h8.6v2.8h-8.6zM243.2,556.1h11.4v2.8h-11.4zM335.4,556.1h3.2v2.8h-3.2zM216.0,553.7h5.9v2.8h-5.9zM243.1,553.7h11.3v2.8h-11.3zM313.5,553.7h3.2v2.8h-3.2zM213.3,551.4h8.6v2.8h-8.6zM240.3,551.4h8.6v2.8h-8.6zM251.1,551.4h3.2v2.8h-3.2zM316.0,551.4h3.2v2.8h-3.2zM240.2,549.0h14.0v2.8h-14.0zM194.4,546.7h3.2v2.8h-3.2zM240.1,546.7h16.6v2.8h-16.6zM328.9,546.7h3.2v2.8h-3.2zM207.8,544.4h5.9v2.8h-5.9zM218.5,544.4h8.5v2.8h-8.5zM229.3,544.4h3.2v2.8h-3.2zM242.7,544.4h16.6v2.8h-16.6zM328.5,544.4h3.2v2.8h-3.2zM178.4,542.0h3.2v2.8h-3.2zM186.4,542.0h3.2v2.8h-3.2zM213.1,542.0h16.5v2.8h-16.5zM242.5,542.0h19.2v2.8h-19.2zM178.4,539.7h5.8v2.8h-5.8zM186.4,539.7h5.8v2.8h-5.8zM194.4,539.7h11.2v2.8h-11.2zM213.1,539.7h3.2v2.8h-3.2zM221.1,539.7h5.8v2.8h-5.8zM234.4,539.7h29.8v2.8h-29.8zM181.2,537.4h11.1v2.8h-11.1zM194.4,537.4h8.5v2.8h-8.5zM205.1,537.4h3.2v2.8h-3.2zM210.4,537.4h19.1v2.8h-19.1zM236.9,537.4h27.1v2.8h-27.1zM268.8,537.4h5.8v2.8h-5.8zM186.5,535.0h40.2v2.8h-40.2zM236.8,535.0h3.1v2.8h-3.1zM247.4,535.0h27.0v2.8h-27.0zM189.2,532.7h37.4v2.8h-37.4zM239.2,532.7h5.8v2.8h-5.8zM247.1,532.7h16.3v2.8h-16.3zM268.2,532.7h3.1v2.8h-3.1zM186.7,530.3h3.1v2.8h-3.1zM202.4,530.3h13.6v2.8h-13.6zM220.7,530.3h3.1v2.8h-3.1zM225.9,530.3h5.7v2.8h-5.7zM239.0,530.3h3.1v2.8h-3.1zM244.3,530.3h5.7v2.8h-5.7zM252.1,530.3h13.6v2.8h-13.6zM267.8,530.3h3.1v2.8h-3.1zM273.1,530.3h3.1v2.8h-3.1zM186.7,528.0h5.7v2.8h-5.7zM210.2,528.0h5.7v2.8h-5.7zM218.0,528.0h3.1v2.8h-3.1zM228.4,528.0h5.7v2.8h-5.7zM236.2,528.0h5.7v2.8h-5.7zM246.6,528.0h5.7v2.8h-5.7zM254.4,528.0h21.3v2.8h-21.3zM277.8,528.0h3.1v2.8h-3.1zM290.8,528.0h3.1v2.8h-3.1zM186.8,525.7h8.3v2.8h-8.3zM210.1,525.7h3.1v2.8h-3.1zM217.8,525.7h5.7v2.8h-5.7zM243.7,525.7h5.7v2.8h-5.7zM251.4,525.7h16.0v2.8h-16.0zM269.5,525.7h26.3v2.8h-26.3zM189.5,523.3h5.6v2.8h-5.6zM222.8,523.3h3.1v2.8h-3.1zM230.5,523.3h3.1v2.8h-3.1zM235.7,523.3h46.7v2.8h-46.7zM287.0,523.3h8.2v2.8h-8.2zM82.7,521.0h5.6v2.8h-5.6zM189.6,521.0h5.6v2.8h-5.6zM197.2,521.0h3.0v2.8h-3.0zM209.9,521.0h5.6v2.8h-5.6zM220.1,521.0h3.0v2.8h-3.0zM225.2,521.0h18.3v2.8h-18.3zM245.6,521.0h13.2v2.8h-13.2zM263.4,521.0h18.3v2.8h-18.3zM286.3,521.0h8.1v2.8h-8.1zM73.6,518.7h3.0v2.8h-3.0zM209.8,518.7h13.1v2.8h-13.1zM225.0,518.7h18.2v2.8h-18.2zM245.2,518.7h8.1v2.8h-8.1zM260.3,518.7h5.5v2.8h-5.5zM275.4,518.7h3.0v2.8h-3.0zM285.5,518.7h8.1v2.8h-8.1zM72.3,516.4h5.5v2.8h-5.5zM187.3,516.4h3.0v2.8h-3.0zM204.7,516.4h5.5v2.8h-5.5zM222.2,516.4h18.0v2.8h-18.0zM247.2,516.4h5.5v2.8h-5.5zM257.2,516.4h5.5v2.8h-5.5zM73.6,514.0h3.0v2.8h-3.0zM222.0,514.0h3.0v2.8h-3.0zM259.1,514.0h5.4v2.8h-5.4zM199.8,511.7h2.9v2.8h-2.9zM207.1,511.7h7.8v2.8h-7.8zM199.8,509.5h12.6v2.8h-12.6zM199.8,507.2h12.4v2.8h-12.4zM199.8,504.9h12.3v2.8h-12.3zM143.9,502.7h5.2v2.7h-5.2zM197.4,502.7h16.8v2.7h-16.8zM110.4,500.5h2.8v2.7h-2.8zM117.2,500.5h2.8v2.7h-2.8zM135.6,500.5h2.8v2.7h-2.8zM142.5,500.5h5.1v2.7h-5.1zM109.5,498.3h14.0v2.7h-14.0zM127.6,498.3h7.3v2.7h-7.3zM136.6,498.3h9.5v2.7h-9.5zM104.3,496.1h2.7v2.7h-2.7zM108.8,496.1h11.6v2.7h-11.6zM128.8,496.1h16.0v2.7h-16.0zM106.0,493.9h11.4v2.6h-11.4zM130.0,493.9h9.2v2.6h-9.2zM140.9,493.9h4.9v2.6h-4.9zM107.7,491.8h13.3v2.6h-13.3zM131.2,491.8h13.3v2.6h-13.3zM159.1,491.8h4.8v2.6h-4.8zM246.9,491.8h2.6v2.6h-2.6zM330.4,491.8h2.6v2.6h-2.6zM334.6,491.8h2.6v2.6h-2.6zM338.9,491.8h13.3v2.6h-13.3zM48.5,489.7h0.5v2.6h-0.5zM107.3,489.7h25.7v2.6h-25.7zM136.7,489.7h8.9v2.6h-8.9zM157.7,489.7h8.9v2.6h-8.9zM178.7,489.7h8.9v2.6h-8.9zM237.6,489.7h15.2v2.6h-15.2zM254.4,489.7h17.3v2.6h-17.3zM279.6,489.7h4.7v2.6h-4.7zM325.8,489.7h25.7v2.6h-25.7zM51.4,487.7h2.6v2.5h-2.6zM100.9,487.7h31.4v2.5h-31.4zM133.8,487.7h14.9v2.5h-14.9zM154.4,487.7h17.0v2.5h-17.0zM177.1,487.7h10.8v2.5h-10.8zM236.8,487.7h33.5v2.5h-33.5zM278.0,487.7h6.7v2.5h-6.7zM317.2,487.7h4.6v2.5h-4.6zM323.4,487.7h6.7v2.5h-6.7zM331.6,487.7h17.0v2.5h-17.0zM54.4,485.7h0.5v2.5h-0.5zM100.9,485.7h32.8v2.5h-32.8zM139.2,485.7h10.6v2.5h-10.6zM155.3,485.7h20.7v2.5h-20.7zM234.1,485.7h34.8v2.5h-34.8zM276.4,485.7h4.5v2.5h-4.5zM322.9,485.7h10.6v2.5h-10.6zM335.0,485.7h10.6v2.5h-10.6zM57.5,483.7h0.5v2.5h-0.5zM106.9,483.7h12.4v2.5h-12.4zM120.7,483.7h26.2v2.5h-26.2zM156.3,483.7h24.2v2.5h-24.2zM241.2,483.7h22.2v2.5h-22.2zM266.9,483.7h14.3v2.5h-14.3zM330.1,483.7h12.4v2.5h-12.4zM103.2,481.8h2.4v2.4h-2.4zM107.0,481.8h39.1v2.4h-39.1zM155.3,481.8h27.5v2.4h-27.5zM240.3,481.8h4.4v2.4h-4.4zM250.0,481.8h12.1v2.4h-12.1zM263.5,481.8h17.9v2.4h-17.9zM105.5,479.9h38.2v2.4h-38.2zM156.4,479.9h28.8v2.4h-28.8zM237.5,479.9h4.3v2.4h-4.3zM248.8,479.9h19.4v2.4h-19.4zM269.5,479.9h9.9v2.4h-9.9zM109.7,478.1h11.5v2.3h-11.5zM122.6,478.1h6.0v2.3h-6.0zM130.0,478.1h11.5v2.3h-11.5zM153.8,478.1h31.7v2.3h-31.7zM271.4,478.1h2.3v2.3h-2.3zM110.5,476.3h13.0v2.3h-13.0zM124.8,476.3h16.6v2.3h-16.6zM142.6,476.3h2.3v2.3h-2.3zM148.0,476.3h39.8v2.3h-39.8zM127.1,474.6h2.2v2.2h-2.2zM146.1,474.6h42.0v2.2h-42.0zM144.4,473.1h47.4v2.0h-47.4zM144.5,471.7h46.0v1.9h-46.0zM176.1,470.5h3.6v1.7h-3.6z"/>
<path fill="#FFC820" d="M128.1,626.0h2.9v2.8h-2.9zM124.8,623.8h5.3v2.8h-5.3zM123.9,621.5h5.4v2.8h-5.4zM361.2,621.5h7.8v2.8h-7.8zM125.5,619.1h5.4v2.8h-5.4zM365.5,619.1h7.9v2.8h-7.9zM124.8,616.8h5.5v2.8h-5.5zM369.7,616.8h8.0v2.8h-8.0zM124.1,614.5h5.5v2.8h-5.5zM373.8,614.5h5.5v2.8h-5.5zM125.9,612.2h3.0v2.8h-3.0zM375.4,612.2h5.6v2.8h-5.6zM374.2,609.8h5.6v2.8h-5.6zM281.1,556.1h5.9v2.8h-5.9zM89.4,546.7h3.2v2.8h-3.2zM87.1,544.4h8.5v2.8h-8.5zM90.1,542.0h5.8v2.8h-5.8zM90.5,539.7h3.2v2.8h-3.2zM293.0,539.7h3.2v2.8h-3.2zM275.2,528.0h3.1v2.8h-3.1zM280.4,528.0h3.1v2.8h-3.1zM197.2,518.7h3.0v2.8h-3.0zM197.3,516.4h5.5v2.8h-5.5zM199.8,514.0h3.0v2.8h-3.0zM207.2,514.0h3.0v2.8h-3.0zM190.4,502.7h5.2v2.7h-5.2zM190.6,500.5h5.1v2.7h-5.1zM190.7,498.3h2.8v2.7h-2.8zM329.5,487.7h2.6v2.5h-2.6z"/>
<path fill="#FF9000" d="M136.6,635.0h2.8v2.7h-2.8zM131.0,632.8h2.8v2.7h-2.8zM130.0,630.6h2.8v2.7h-2.8zM131.3,628.3h2.9v2.8h-2.9zM344.5,607.5h8.3v2.8h-8.3zM234.6,588.8h5.9v2.8h-5.9zM352.7,588.8h3.2v2.8h-3.2zM350.4,586.5h5.9v2.8h-5.9zM331.9,584.1h3.2v2.8h-3.2zM353.5,584.1h3.2v2.8h-3.2zM221.4,579.4h8.6v2.8h-8.6zM221.5,577.1h8.6v2.8h-8.6zM213.3,572.4h3.2v2.8h-3.2zM227.0,567.8h3.2v2.8h-3.2zM229.7,565.4h5.9v2.8h-5.9zM229.7,563.1h5.9v2.8h-5.9zM229.7,560.7h5.9v2.8h-5.9zM237.8,560.7h5.9v2.8h-5.9zM191.6,558.4h3.2v2.8h-3.2zM235.1,558.4h11.4v2.8h-11.4zM191.6,556.1h3.2v2.8h-3.2zM205.2,556.1h5.9v2.8h-5.9zM237.7,556.1h5.9v2.8h-5.9zM207.9,553.7h3.2v2.8h-3.2zM237.7,553.7h5.9v2.8h-5.9zM283.7,553.7h3.2v2.8h-3.2zM278.2,551.4h8.6v2.8h-8.6zM278.0,549.0h5.9v2.8h-5.9zM92.1,546.7h5.9v2.8h-5.9zM218.6,546.7h5.9v2.8h-5.9zM237.4,546.7h3.2v2.8h-3.2zM275.1,546.7h14.0v2.8h-14.0zM274.9,544.4h16.6v2.8h-16.6zM282.7,542.0h11.2v2.8h-11.2zM292.7,537.4h3.2v2.8h-3.2zM281.8,535.0h13.7v2.8h-13.7zM278.7,532.7h16.3v2.8h-16.3zM278.3,530.3h13.6v2.8h-13.6zM294.0,530.3h3.1v2.8h-3.1zM288.2,528.0h3.1v2.8h-3.1zM192.7,504.9h2.9v2.8h-2.9zM197.4,504.9h2.9v2.8h-2.9zM195.1,502.7h2.8v2.7h-2.8zM195.2,500.5h5.1v2.7h-5.1z"/>
<path fill="#FF4800" d="M141.6,630.6h7.5v2.7h-7.5zM355.9,605.2h3.1v2.8h-3.1zM354.2,602.8h3.1v2.8h-3.1zM135.4,588.8h3.2v2.8h-3.2zM151.5,588.8h3.2v2.8h-3.2zM278.3,553.7h3.2v2.8h-3.2zM274.6,542.0h3.2v2.8h-3.2zM109.1,539.7h5.8v2.8h-5.8zM271.7,539.7h21.8v2.8h-21.8zM274.1,537.4h8.5v2.8h-8.5zM284.7,537.4h8.5v2.8h-8.5zM273.8,535.0h5.8v2.8h-5.8zM276.1,532.7h3.1v2.8h-3.1zM193.0,498.3h5.0v2.7h-5.0zM193.1,496.1h4.9v2.7h-4.9z"/>
<path fill="#F00000" d="M134.3,635.0h2.8v2.7h-2.8zM133.3,632.8h7.4v2.7h-7.4zM132.3,630.6h2.8v2.7h-2.8zM141.3,595.8h3.2v2.8h-3.2zM313.7,577.1h5.9v2.8h-5.9zM221.5,574.8h5.9v2.8h-5.9zM316.5,574.8h5.9v2.8h-5.9zM226.9,572.4h3.2v2.8h-3.2zM283.4,549.0h3.2v2.8h-3.2zM277.3,542.0h5.8v2.8h-5.8zM282.1,537.4h3.2v2.8h-3.2zM279.1,535.0h3.1v2.8h-3.1zM283.0,528.0h5.7v2.8h-5.7z"/>
<path fill="#D82828" d="M245.1,593.5h5.8v2.8h-5.8zM247.9,591.1h5.8v2.8h-5.8zM248.0,588.8h5.9v2.8h-5.9zM248.2,586.5h5.9v2.8h-5.9zM248.3,584.1h5.9v2.8h-5.9zM251.1,581.8h3.2v2.8h-3.2zM202.5,558.4h3.2v2.8h-3.2zM199.8,556.1h5.9v2.8h-5.9zM180.8,553.7h3.2v2.8h-3.2zM205.2,553.7h3.2v2.8h-3.2zM210.6,553.7h5.9v2.8h-5.9zM226.8,553.7h5.9v2.8h-5.9zM235.0,553.7h3.2v2.8h-3.2zM178.1,551.4h35.6v2.8h-35.6zM232.2,551.4h8.6v2.8h-8.6zM178.2,549.0h62.5v2.8h-62.5zM178.2,546.7h3.2v2.8h-3.2zM183.6,546.7h11.3v2.8h-11.3zM197.1,546.7h5.9v2.8h-5.9zM205.1,546.7h14.0v2.8h-14.0zM224.0,546.7h11.3v2.8h-11.3zM213.2,544.4h5.9v2.8h-5.9zM226.6,544.4h3.2v2.8h-3.2z"/></g>
<path fill="none" stroke="#000" stroke-width="0.6" stroke-linejoin="round" d="M61.9,488.7 67.1,485.8 71.0,485.1 73.7,483.8 79.5,482.7 82.2,483.3 84.6,483.8 89.1,484.5 92.2,485.2 95.3,484.6 100.1,483.9 101.6,484.6 105.1,484.3 108.4,485.6 108.5,486.4 111.8,486.3 112.6,487.2 114.6,485.8 118.1,486.4 121.5,486.2 122.5,486.9 124.0,485.6 126.0,484.6 125.8,483.0 127.8,482.0 128.4,483.6 128.2,484.8 129.9,485.6 132.2,484.8 133.3,484.3 135.6,484.4 135.3,485.6 134.2,486.4 134.2,487.2 131.9,488.0 129.8,488.0 128.1,489.9 126.6,490.2 124.6,490.7 121.5,492.1 119.0,493.8 117.2,495.5 117.0,496.4 117.3,498.3 119.6,498.3 120.9,499.1 122.9,500.3 125.2,500.5 124.0,503.0 124.6,504.2 124.8,505.0 126.1,504.8 127.6,501.8 127.5,501.0 130.6,499.5 131.9,497.8 131.3,496.4 132.9,494.3 133.7,492.3 135.8,492.3 137.3,492.7 138.2,493.4 139.7,493.8 139.3,495.5 138.4,496.4 140.0,496.7 142.1,496.0 144.0,494.6 144.4,496.6 144.8,498.3 145.2,500.1 147.0,501.2 147.5,502.4 148.2,503.6 147.7,504.6 145.7,505.1 143.4,506.3 140.5,506.3 137.2,506.3 135.3,507.7 133.4,508.9 131.7,510.1 133.1,509.9 136.2,508.0 138.7,507.6 138.6,508.5 136.8,508.9 137.4,509.9 137.2,511.1 138.4,511.5 140.3,511.6 142.2,510.1 142.0,511.4 140.5,512.3 137.9,513.1 135.6,514.3 135.0,513.8 135.7,512.9 137.2,512.2 135.7,512.3 134.5,512.9 132.3,513.8 130.8,514.4 129.9,515.6 130.5,516.2 130.3,516.7 128.8,517.0 126.6,517.4 125.9,518.1 125.4,519.3 124.3,520.1 123.8,521.1 122.6,522.4 122.3,523.6 122.6,524.4 121.1,525.2 119.6,526.2 118.1,527.0 116.1,528.5 115.3,529.8 115.0,531.0 115.3,533.0 115.6,534.9 115.0,536.8 114.1,536.9 113.6,535.7 113.0,533.8 113.3,532.2 112.2,530.9 110.7,531.4 109.7,530.5 108.1,530.6 106.7,530.7 106.4,532.0 105.2,532.0 103.7,531.5 101.9,531.4 100.4,532.0 98.6,533.1 97.4,534.3 97.3,535.9 96.4,537.8 95.8,540.4 96.1,542.1 96.8,543.9 97.4,544.9 98.6,545.5 100.3,545.3 101.6,545.1 102.9,543.9 103.4,542.3 105.0,541.7 107.2,541.5 107.3,542.3 106.4,543.6 105.8,545.4 105.2,546.4 104.4,548.4 105.8,548.5 107.4,548.4 109.0,548.5 110.3,549.5 109.8,551.3 109.4,553.2 109.3,554.4 110.0,555.7 110.8,556.9 112.1,557.1 113.5,556.4 114.6,556.3 115.9,557.4 116.1,558.3 115.1,557.6 114.8,556.9 113.8,557.0 112.7,557.9 113.1,558.9 112.1,559.1 111.3,558.1 110.1,557.9 109.3,557.4 109.2,556.5 108.1,555.9 107.0,555.4 107.1,554.4 106.1,552.9 105.4,552.0 104.4,551.7 102.8,551.1 101.2,550.7 99.8,549.2 98.6,548.0 97.5,548.1 96.1,548.6 94.5,548.1 92.7,547.3 91.0,546.2 89.2,545.4 88.1,544.3 87.1,542.8 87.7,541.5 86.9,539.4 85.7,537.8 84.5,536.4 84.5,534.9 83.6,533.7 82.7,532.5 82.2,531.0 82.0,529.5 80.8,528.8 80.3,530.0 81.0,531.6 81.5,533.1 82.0,535.1 82.6,537.2 83.5,538.6 83.2,539.6 82.8,539.1 81.7,537.9 81.2,536.8 81.2,535.6 80.0,534.7 79.5,533.7 80.1,532.7 79.2,531.2 78.8,529.8 78.6,527.9 78.4,526.5 77.6,526.1 76.1,525.4 76.0,524.2 75.7,522.6 75.8,521.4 75.3,520.1 75.5,518.3 76.5,516.5 77.1,515.0 78.8,512.8 79.9,511.0 80.8,508.6 82.3,508.7 82.1,509.8 83.1,508.3 83.1,507.5 82.3,506.5 81.1,505.6 80.8,504.4 81.3,503.0 81.1,501.2 81.7,499.7 81.6,498.3 81.5,497.0 81.3,495.8 79.4,496.8 78.9,496.0 78.0,495.1 76.5,494.9 75.0,494.7 74.2,493.8 71.9,494.3 69.8,495.1 67.3,495.8 68.1,494.7 71.1,493.6 69.5,493.8 67.0,494.9 64.8,496.0 64.6,496.6 62.5,497.4 60.1,498.3 57.1,499.5 54.4,500.3 51.4,501.0 49.5,501.2 51.6,500.4 54.4,499.5 56.6,498.7 59.5,497.6 61.5,496.4 59.8,496.6 58.2,496.5 58.2,495.7 59.1,494.7 57.6,494.3 58.1,493.2 58.4,492.7 60.6,491.8 61.8,491.3 64.3,491.0 66.3,489.9 64.9,489.9 63.1,490.0 61.8,489.7 61.9,488.7ZM115.9,557.4 116.6,558.1 117.6,556.5 118.2,554.9 119.3,554.4 121.0,553.9 122.6,552.7 122.9,553.8 122.2,554.7 123.1,554.4 124.2,553.7 124.5,552.9 125.3,553.8 126.1,554.8 128.0,554.9 129.6,555.5 130.7,555.0 132.8,554.8 132.3,555.4 133.9,556.3 134.0,557.5 135.4,557.9 136.7,559.5 138.1,560.6 140.2,560.7 141.5,561.0 143.1,562.0 144.2,562.8 144.7,564.9 145.6,566.1 145.3,567.6 146.6,568.2 147.4,569.0 148.8,568.9 150.5,569.7 151.6,571.1 153.2,571.0 154.8,571.6 156.5,571.5 158.1,572.6 159.8,573.9 161.6,574.4 162.2,576.6 162.0,578.9 161.0,580.7 159.7,582.2 158.4,583.9 157.9,585.9 158.1,587.7 157.9,590.0 157.4,592.1 156.5,594.5 155.5,596.1 153.7,596.4 152.2,597.2 150.6,597.9 149.2,599.3 148.7,600.7 148.9,602.5 148.1,604.0 147.3,606.0 146.0,607.7 145.0,609.7 143.7,611.1 142.2,611.1 140.5,610.3 139.9,610.2 140.1,610.9 141.4,611.8 142.1,613.0 141.6,614.9 140.4,615.7 138.5,616.1 137.3,616.1 137.6,617.9 136.6,618.7 135.1,618.4 135.5,620.0 137.0,620.5 135.9,621.2 136.0,623.2 134.6,624.3 134.7,625.2 136.5,626.1 136.9,627.3 135.9,628.6 135.1,629.8 135.5,631.4 136.5,632.3 135.5,632.4 137.0,633.1 138.1,634.2 140.5,635.0 139.6,635.5 138.0,636.0 136.5,635.7 134.8,635.0 133.2,633.9 131.5,632.8 130.1,631.2 128.7,629.5 127.8,627.4 127.1,625.6 128.1,624.4 127.1,622.2 126.7,620.8 126.6,619.5 126.1,617.3 126.0,615.9 125.3,613.9 125.4,612.2 125.9,609.7 125.8,607.5 125.3,605.0 125.1,603.2 125.3,601.3 125.4,599.2 125.2,597.0 125.1,594.5 124.9,592.1 124.5,590.6 123.2,589.6 121.5,588.4 119.2,587.1 117.6,585.3 116.5,583.1 115.3,580.6 114.3,578.2 113.1,576.4 111.7,575.4 111.6,573.6 112.5,572.3 113.1,571.1 111.9,570.8 112.0,569.2 112.7,568.0 112.9,566.9 114.1,566.4 114.6,564.9 115.7,564.5 116.0,563.3 115.7,561.2 115.9,559.7 115.4,559.0 115.9,557.4ZM194.0,523.8 194.6,523.7 195.9,524.6 196.9,524.4 197.9,524.7 199.0,524.0 200.3,523.5 201.5,523.0 203.1,522.6 205.1,522.6 207.1,522.4 208.7,522.5 210.0,522.0 211.2,522.4 210.7,523.6 211.3,524.4 210.5,525.7 210.3,526.4 211.4,526.9 212.4,527.5 213.7,527.4 215.8,528.0 216.1,529.1 217.7,529.8 219.3,530.5 220.6,530.5 220.9,529.5 220.8,528.3 222.1,527.5 223.3,527.5 224.1,528.1 226.0,528.8 228.1,529.4 230.2,529.9 231.4,529.4 232.2,529.0 233.6,529.4 234.0,531.0 234.3,532.0 235.2,533.5 235.8,534.9 236.9,537.2 238.0,539.4 239.2,540.9 239.8,542.7 240.0,544.6 241.3,545.8 242.3,548.3 243.1,549.5 244.5,550.4 245.9,551.7 246.8,552.6 246.8,553.7 247.7,555.0 249.3,554.9 250.9,554.2 253.0,554.1 255.4,553.3 255.4,555.2 254.7,556.9 253.8,559.4 252.7,561.8 251.7,563.1 250.3,564.9 248.4,566.4 246.8,568.0 245.7,569.2 244.6,570.7 243.7,571.5 243.1,573.2 242.2,575.2 242.8,576.5 242.9,578.5 243.3,580.7 244.0,581.6 243.8,584.0 243.9,586.5 242.8,588.2 240.8,589.3 239.5,590.2 238.0,591.7 237.2,592.6 237.5,594.5 237.7,597.0 236.6,598.6 234.9,599.5 234.5,600.3 234.6,601.9 233.9,603.5 232.4,604.9 231.2,606.6 229.5,608.3 227.9,609.5 226.4,609.9 224.2,610.1 222.7,610.2 220.5,610.9 219.0,610.3 218.8,608.7 218.9,607.1 218.1,605.4 217.3,603.3 216.0,600.9 215.4,598.2 215.4,596.0 214.4,593.7 213.2,591.2 212.7,589.2 212.7,587.5 213.4,585.3 214.5,583.3 214.9,581.6 214.3,579.1 213.9,576.6 213.3,575.4 213.0,574.2 212.2,572.9 210.9,571.5 209.8,569.9 209.6,568.9 210.2,567.6 210.5,566.1 210.7,564.3 210.3,563.1 209.5,562.4 207.6,562.6 206.5,562.7 205.4,561.2 204.7,560.2 203.3,560.1 201.6,560.4 200.0,561.1 198.4,561.8 197.3,562.1 195.7,561.6 193.5,562.1 191.7,562.6 190.2,561.6 188.3,560.2 186.6,558.9 185.7,557.5 185.4,556.3 184.0,554.7 183.2,553.6 181.9,552.7 181.9,551.3 181.1,549.9 182.2,548.3 182.5,545.8 182.7,544.2 181.8,542.1 182.6,540.5 183.1,538.8 184.3,536.8 184.8,535.7 186.0,533.9 187.4,533.3 189.0,532.2 189.9,530.5 189.8,529.1 190.5,527.8 191.4,526.8 192.5,526.3 193.3,525.3 194.0,523.8ZM234.0,531.0 234.9,532.7 236.0,533.7 236.6,531.6 236.8,533.5 238.6,535.9 239.6,537.8 241.0,539.6 241.7,541.5 243.3,543.7 244.5,545.8 245.7,547.6 246.4,549.7 246.8,551.6 247.1,552.3 248.6,552.1 250.8,551.3 252.9,550.2 255.0,549.1 256.2,548.3 258.0,547.0 259.6,546.0 260.6,544.8 261.9,543.9 262.0,542.7 263.3,541.5 263.7,540.2 262.4,538.9 260.5,538.4 259.8,537.3 259.6,535.6 259.0,536.2 258.3,537.0 257.5,538.0 255.7,538.1 254.6,537.8 254.6,536.0 253.9,535.9 253.7,537.2 253.1,536.4 252.9,535.2 251.9,534.2 251.1,533.1 250.3,531.6 250.8,531.0 251.7,530.7 252.9,531.6 253.6,532.8 254.7,533.8 256.4,534.9 258.0,535.1 259.3,534.6 260.3,534.9 260.8,536.3 262.5,536.7 265.1,536.9 267.2,536.8 268.8,536.8 270.4,536.7 271.2,537.4 271.7,538.6 272.8,539.1 274.5,539.7 274.8,539.7 273.5,540.5 274.7,542.1 275.8,542.5 277.1,541.8 277.2,540.6 277.7,542.1 278.0,544.6 278.7,547.0 279.5,548.9 280.5,551.3 281.4,553.2 282.3,554.9 282.8,556.3 283.6,557.8 284.2,558.0 284.8,557.0 285.7,556.5 286.5,555.3 286.3,553.4 286.8,551.7 286.3,549.2 287.0,548.4 288.5,547.4 289.5,546.0 291.0,544.2 292.5,543.1 292.8,541.6 293.8,541.2 295.2,541.1 296.4,540.5 297.4,540.1 298.1,541.5 298.8,542.7 300.1,543.9 301.0,545.2 301.6,547.0 301.5,548.3 302.6,548.5 303.8,547.6 304.5,547.0 305.0,547.9 305.4,549.5 306.0,551.0 306.6,552.8 306.9,555.0 306.6,556.9 306.7,558.1 307.5,558.7 308.4,559.9 309.2,561.3 309.5,563.1 310.2,564.4 311.3,565.3 312.7,566.4 313.4,566.3 313.0,564.8 312.5,563.6 312.5,562.3 311.7,561.1 311.1,560.4 310.0,559.5 309.3,559.0 308.5,557.5 307.7,556.5 307.5,555.0 307.9,553.7 308.1,552.5 308.2,551.5 309.0,551.5 309.2,552.5 310.7,552.9 311.5,554.1 312.2,554.9 313.2,555.2 313.6,555.9 313.7,557.4 314.4,556.9 315.5,555.9 316.2,555.2 317.2,554.6 318.0,553.8 318.2,552.6 318.0,551.0 317.5,549.5 316.6,548.1 315.2,547.0 314.3,546.0 313.3,544.6 313.7,543.3 314.1,542.3 315.2,541.5 316.3,541.3 317.1,541.6 317.6,542.8 317.9,541.8 319.2,541.3 320.9,540.6 321.7,540.4 322.9,539.9 324.1,539.3 325.2,537.8 326.5,536.5 326.5,535.3 327.0,533.9 327.6,532.8 327.6,531.5 327.0,530.9 326.3,530.4 327.0,529.8 326.4,528.5 325.0,527.3 323.7,525.7 322.4,524.8 323.0,523.6 324.7,522.4 323.4,521.7 321.9,521.7 321.0,522.0 319.8,521.1 318.8,520.1 319.4,519.6 320.0,518.8 320.9,517.7 322.1,517.9 322.3,519.9 323.0,519.9 323.6,519.0 324.8,518.8 326.4,520.1 326.5,521.1 327.8,521.5 328.9,522.4 329.0,523.3 329.7,524.8 330.1,525.6 331.0,525.2 332.4,524.7 332.3,523.6 331.5,522.1 330.0,520.8 328.3,519.3 328.8,518.4 329.5,517.4 329.4,515.9 330.2,514.9 332.0,515.2 332.8,514.1 333.2,512.6 333.4,510.8 333.1,508.9 333.1,507.1 331.8,505.4 331.5,503.9 330.2,502.6 328.8,502.3 327.2,501.6 326.3,502.1 325.1,501.2 323.5,501.0 323.6,500.1 323.8,498.3 324.2,497.0 325.2,495.7 327.7,495.6 330.1,495.4 332.5,496.0 334.5,495.8 335.4,495.5 334.1,493.2 335.9,492.9 338.1,493.8 338.3,492.1 339.6,492.1 340.0,493.2 339.6,494.6 340.0,496.0 339.3,497.4 340.0,498.9 342.1,501.2 344.9,503.6 347.0,505.4 346.9,503.6 346.4,502.8 346.1,501.2 346.1,499.5 345.3,497.8 343.1,496.0 343.5,494.9 345.0,494.3 348.1,494.9 348.1,493.8 349.1,492.9 350.2,492.1 351.9,492.1 349.3,489.9 347.3,489.7 346.1,488.3 348.1,488.8 342.7,485.2 340.4,484.8 337.3,484.3 333.8,484.1 334.6,485.1 331.9,484.4 329.7,484.5 327.1,484.6 322.5,483.3 318.3,483.0 315.0,482.3 311.1,481.7 307.5,481.3 306.1,481.7 304.5,482.5 301.4,482.5 300.1,483.0 296.4,481.5 294.3,480.5 292.1,480.5 289.7,481.0 285.1,480.4 282.6,478.6 278.6,477.5 273.3,476.5 271.7,477.7 269.3,478.1 266.1,478.5 264.2,479.6 264.2,480.4 262.2,481.5 260.3,480.5 258.8,482.0 256.7,481.2 256.9,482.0 258.5,485.6 258.6,487.7 258.2,487.7 257.5,485.3 256.1,482.5 254.6,481.0 252.1,481.2 251.5,482.5 252.6,484.6 254.7,485.8 251.3,484.9 247.8,484.3 247.7,485.5 245.3,485.5 243.1,485.8 240.0,486.2 238.1,487.2 235.4,485.6 234.4,485.5 235.8,487.7 234.2,487.9 233.2,489.8 231.8,490.5 230.5,490.6 229.2,490.1 228.4,488.8 226.3,487.2 229.4,488.0 232.7,488.1 233.4,487.2 232.9,486.5 230.3,485.7 227.6,484.9 226.0,484.6 223.5,484.1 221.6,483.0 219.8,482.9 217.2,483.8 214.9,484.4 212.7,485.4 211.7,486.7 210.6,488.3 209.1,489.9 208.0,491.0 205.9,491.8 204.3,492.7 204.3,494.3 204.8,496.0 206.2,497.2 207.5,496.8 209.2,495.7 209.9,496.6 210.7,497.8 211.4,499.5 211.8,500.2 212.9,500.1 214.4,499.1 214.7,497.8 215.0,496.4 216.4,495.4 214.9,494.1 214.9,492.3 216.0,491.2 217.5,489.9 218.3,488.6 219.9,488.5 220.9,489.4 220.4,490.1 218.9,491.2 218.1,492.3 218.5,493.8 218.4,494.3 220.0,495.0 221.7,494.7 223.8,494.3 225.7,494.9 224.5,495.5 221.6,495.5 220.6,496.0 220.8,497.2 221.5,496.8 221.4,498.2 220.1,497.6 219.2,498.0 218.9,498.9 219.0,500.1 218.2,500.9 217.2,501.2 215.1,501.2 213.1,501.8 211.4,501.5 210.1,501.8 209.1,501.2 209.5,500.1 209.4,498.9 209.3,497.6 208.0,498.2 207.4,498.9 207.4,500.1 207.9,501.2 208.1,502.1 206.4,502.4 204.6,502.6 204.2,503.9 203.3,504.8 202.3,505.4 201.6,505.6 201.4,506.5 200.2,507.0 198.9,507.3 198.4,506.9 198.6,508.1 197.1,508.0 195.5,508.3 195.9,509.2 197.3,509.5 197.9,509.9 198.7,511.1 198.8,512.6 198.5,514.4 196.6,514.4 194.3,514.3 192.1,514.0 190.9,515.0 191.3,516.2 191.2,518.1 190.4,520.1 191.1,521.2 190.8,522.4 192.4,522.2 193.5,522.6 194.3,523.6 195.4,522.7 197.8,522.6 199.2,521.5 200.0,520.3 199.7,519.3 200.8,517.7 202.2,517.0 203.2,515.9 203.0,514.8 203.9,514.4 205.3,514.6 207.2,514.1 208.6,513.3 210.0,514.0 210.4,515.1 211.6,516.1 212.2,516.6 213.7,517.2 214.3,517.7 215.7,518.7 216.1,520.0 215.9,521.1 216.7,520.8 217.2,519.9 216.7,519.0 217.0,518.1 218.1,518.7 218.6,518.5 218.0,517.8 216.9,517.3 215.9,516.3 214.9,516.2 213.8,515.4 213.3,514.3 212.3,513.5 212.0,512.3 213.3,511.7 213.3,512.6 214.1,512.2 214.9,513.5 216.2,514.4 217.8,515.4 219.3,516.3 219.4,518.1 220.1,519.0 220.9,520.0 221.5,520.8 221.8,521.7 222.1,522.6 223.0,523.0 223.6,523.0 223.4,521.9 224.0,521.2 224.3,520.8 223.2,519.6 222.8,518.4 222.9,517.9 223.9,518.7 224.4,518.4 224.5,517.6 226.0,517.7 226.3,518.5 226.4,519.3 227.1,520.5 227.6,521.7 227.9,522.4 228.8,522.7 230.1,523.3 231.2,523.0 231.3,522.5 232.7,523.2 233.7,523.5 235.2,522.6 236.5,522.8 236.8,523.8 236.8,525.4 236.6,526.2 236.2,527.5 236.0,528.5 235.6,529.4 234.9,529.6 233.6,529.4ZM51.3,489.3 53.1,488.8 53.8,489.8 55.8,490.1 57.7,489.4 60.9,488.3 61.4,487.3 59.4,487.0 58.6,485.9 57.3,485.2M161.7,495.0 160.3,494.0 158.4,493.2 157.6,492.1 157.0,490.2 156.8,488.8 156.5,487.2 157.8,485.6 159.9,484.6 157.6,483.6 158.0,482.0 158.1,480.5 157.7,478.8 155.2,478.1 152.3,478.1 150.6,477.7 149.9,476.7 149.2,476.0 153.6,475.0 156.4,474.1 160.7,472.9 167.6,472.6 174.4,472.0 179.0,471.8 183.9,472.3 186.9,473.1 192.1,473.3 188.5,474.5 186.8,475.8 186.7,477.7 185.3,479.1 184.3,480.5 182.4,482.0 182.9,483.6 180.3,484.6 177.7,485.8 174.2,486.7 171.4,488.3 168.8,488.7 166.7,489.9 165.4,491.6 163.6,493.2 162.7,494.7ZM179.8,488.8 181.7,487.9 182.7,488.8 185.3,488.1 187.0,487.7 188.1,488.5 188.7,489.4 187.5,490.2 184.9,491.1 182.8,491.0 181.0,490.7 181.7,489.9 180.1,489.5 181.9,489.0ZM194.6,506.4 196.7,506.2 199.1,505.7 201.2,505.1 200.5,504.8 201.6,503.5 200.3,503.0 200.0,502.3 198.9,501.1 198.6,500.1 197.7,499.5 197.1,499.5 198.2,497.8 196.4,497.6 197.4,496.5 195.6,496.5 194.8,497.8 194.9,498.9 195.0,500.1 195.7,500.1 195.4,500.9 196.8,500.8 197.1,501.8 197.2,502.5 195.9,502.6 195.8,503.2 196.3,503.8 195.1,504.4 196.7,504.8 197.2,505.1 195.8,505.4ZM190.7,504.6 192.5,504.4 194.1,503.9 194.5,502.6 195.0,501.2 194.4,500.4 193.2,500.3 192.2,501.2 190.8,501.6 191.0,502.6 191.2,503.5 190.4,504.2ZM207.2,475.6 209.9,476.7 212.2,477.6 213.3,476.3 214.9,475.8 213.0,475.0 210.8,474.5 207.5,474.8ZM212.1,474.4 213.6,475.0 216.4,475.1 218.3,474.5 216.1,474.1 213.4,474.1ZM239.8,483.0 241.9,483.4 244.7,483.5 242.8,482.0 241.9,480.5 242.8,479.6 244.4,478.6 246.7,477.8 248.8,477.3 246.9,477.2 243.1,477.8 240.9,478.9 240.4,480.5 240.1,482.0ZM265.4,475.4 269.9,476.3 272.4,476.0 271.9,475.1 267.7,474.5 263.9,473.7 262.2,474.5ZM299.7,478.6 303.6,478.3 308.9,478.9 310.4,479.4 305.1,479.3 302.6,479.6ZM304.8,480.5 307.4,480.7 307.0,480.3 304.5,480.1ZM329.9,501.5 331.6,502.4 333.5,504.2 335.3,506.5 336.8,507.5 337.4,509.5 338.5,510.4 338.4,511.4 337.7,511.4 336.5,509.5 335.1,507.7 333.2,505.4 331.0,503.0ZM338.7,516.0 338.3,514.6 339.3,514.6 337.9,512.1 340.1,513.4 342.5,513.5 343.4,514.6 342.5,516.2 342.2,516.2 340.1,515.6 340.2,516.6 339.6,516.8ZM340.8,517.1 342.9,519.3 342.7,520.8 343.5,522.4 344.1,524.0 343.7,524.8 343.4,524.6 342.7,525.2 340.9,525.3 340.8,525.7 340.2,526.7 339.0,525.7 338.8,525.3 337.4,525.6 336.0,526.1 335.0,526.1 334.7,525.4 335.8,524.3 337.3,524.2 338.7,524.1 338.8,523.2 339.1,522.0 339.9,522.6 340.7,521.9 341.0,520.5 340.6,518.9 340.1,517.9 339.9,517.2ZM335.0,526.2 336.2,527.0 336.5,528.5 336.4,529.4 336.0,529.6 335.2,528.5 334.4,527.7 334.0,526.8 334.6,526.4ZM336.7,526.3 337.9,525.7 338.9,526.3 338.7,526.9 337.9,526.8 337.7,527.5 336.8,527.0ZM328.7,536.9 329.3,537.4 329.1,539.6 328.7,540.9 327.9,539.6 327.9,538.1 328.2,537.2ZM316.4,544.2 317.1,543.3 318.4,543.2 318.8,543.8 318.3,544.9 317.5,545.5 316.5,545.1ZM329.2,545.2 331.0,545.2 331.5,547.0 330.8,548.5 331.3,550.1 332.8,550.7 333.9,551.3 334.1,552.5 332.8,551.3 331.7,551.1 330.7,551.1 330.1,550.4 329.3,549.1 328.9,547.9 329.5,547.4 329.3,546.4ZM332.5,559.4 333.0,558.1 334.0,557.3 335.1,557.5 336.0,555.9 337.2,557.5 337.4,559.4 336.9,560.2 336.4,561.0 335.9,560.6 334.7,560.0 334.7,558.7 333.9,558.7 332.7,559.5ZM334.4,552.6 335.7,552.6 336.1,554.4 335.7,555.4 334.9,555.0 334.5,553.8ZM332.0,553.4 333.1,553.8 333.6,555.0 333.7,556.5 332.8,556.3 332.7,555.0 332.2,555.0ZM327.2,557.5 329.4,554.1 329.7,555.0 328.0,557.1ZM329.9,551.5 331.2,551.6 331.3,552.8 330.8,552.8ZM319.3,565.5 320.8,565.9 321.1,564.7 323.0,564.1 324.0,562.4 325.6,561.5 326.8,559.5 327.7,560.0 328.3,560.8 329.6,561.6 328.9,562.6 328.0,563.1 328.2,564.3 328.4,565.5 329.6,566.8 328.5,567.0 327.9,568.0 327.7,569.2 326.8,569.9 326.8,571.5 326.2,572.7 325.1,572.9 324.6,572.3 323.0,571.9 321.6,572.3 320.0,571.6 319.7,569.9 318.9,568.6 318.7,567.6 318.7,566.5ZM303.6,561.1 306.0,561.6 307.4,563.3 309.2,564.9 310.5,565.8 312.1,567.0 313.0,568.0 313.8,569.5 313.7,570.8 315.3,571.7 315.1,573.6 315.0,575.2 313.6,575.2 312.5,574.0 311.3,572.9 309.9,571.1 309.2,569.2 308.0,567.8 307.4,565.9 305.8,564.1 304.4,562.8 303.6,561.6ZM314.3,576.4 315.2,575.3 316.3,575.3 317.9,576.3 320.1,575.9 320.6,575.9 322.4,576.5 324.3,577.5 324.2,578.7 322.1,578.4 319.4,577.9 317.3,577.6 315.5,577.1ZM324.8,578.0 327.0,578.0 329.2,578.2 331.3,578.4 333.5,578.1 333.5,578.6 331.3,579.0 329.1,578.9 326.9,579.1 324.8,578.9ZM329.0,579.6 331.0,579.8 330.6,580.6 329.2,580.1ZM333.8,580.7 335.6,579.1 338.1,578.4 337.2,579.4 334.9,580.6ZM330.6,566.4 331.7,566.4 333.9,566.8 336.3,565.9 335.6,567.4 333.9,567.6 331.7,567.4 330.9,567.6 330.9,569.0 332.3,569.2 334.2,569.0 332.8,570.2 332.2,571.1 333.3,572.3 333.8,573.6 333.2,574.8 332.1,573.9 331.6,572.3 331.1,571.7 331.1,573.6 330.9,574.9 329.9,574.8 330.0,572.7 329.3,571.5 330.1,569.2 330.4,567.6ZM338.8,565.5 339.9,566.4 339.4,568.0 339.4,569.0 338.8,567.4ZM339.3,571.7 342.3,572.1 341.4,572.4 339.5,572.3ZM337.1,571.8 338.4,571.9 338.2,572.7 337.3,572.6ZM342.6,569.0 344.3,568.5 345.9,569.0 346.4,571.1 347.4,572.1 349.7,570.1 351.3,570.5 353.5,571.2 355.6,572.2 357.7,573.6 358.7,574.8 360.3,575.4 359.7,576.4 360.7,577.9 361.6,579.1 363.1,580.7 362.0,580.7 359.9,580.1 358.9,578.9 357.4,577.6 355.7,578.5 355.1,579.4 352.9,579.2 351.4,578.0 349.8,578.2 350.4,576.6 350.0,574.8 347.9,573.7 345.8,572.8 344.5,572.9 344.4,571.7 345.3,571.1 343.7,570.7 342.6,569.6ZM361.4,574.9 363.1,574.8 365.3,573.2 365.3,574.2 363.6,575.6 361.9,575.6ZM364.1,571.2 365.9,572.3 366.4,573.6 365.9,572.9 364.3,571.7ZM368.2,574.8 369.3,576.0 368.9,576.5 368.1,575.4ZM370.5,577.0 373.4,578.5 374.3,580.0 373.3,579.7 371.0,577.9ZM375.3,592.9 377.5,594.9 377.9,595.6 376.5,594.9 375.2,593.4ZM390.4,589.6 391.8,589.7 391.5,590.5 390.2,590.3ZM379.6,586.5 380.2,586.8 380.2,588.4 379.8,587.5ZM354.4,581.2 355.2,583.4 355.2,585.6 356.6,586.5 356.5,588.4 356.5,590.8 357.4,591.8 358.8,592.9 359.3,595.1 360.3,596.7 361.6,598.6 361.9,600.1 361.4,602.5 359.7,605.6 358.2,607.7 356.4,609.3 354.2,611.8 352.5,613.9 350.0,614.8 347.7,616.2 346.7,614.9 344.9,615.9 342.7,615.1 342.3,613.6 342.7,612.2 341.3,611.9 342.3,610.9 342.6,608.7 341.2,609.9 339.7,610.9 339.1,610.7 338.6,608.7 337.1,607.5 334.1,607.0 330.7,607.9 328.3,608.7 327.3,609.8 323.7,609.8 321.1,611.2 319.2,610.9 318.4,610.3 320.1,607.5 320.0,605.6 320.2,603.4 319.8,600.7 320.2,598.2 321.1,595.8 321.9,594.9 323.9,593.8 325.5,593.4 327.3,592.7 329.5,592.2 331.1,590.2 332.1,588.6 333.4,588.1 334.7,586.8 336.5,585.3 338.0,586.3 339.6,586.4 340.5,584.3 341.4,583.3 343.4,582.2 346.0,582.9 348.0,583.1 346.9,584.7 346.1,586.5 347.5,587.5 349.4,588.9 350.9,589.7 352.1,587.7 352.8,585.3 353.1,583.4 353.8,581.6ZM344.7,618.2 346.2,618.7 348.1,618.4 347.3,619.8 345.9,621.2 344.4,621.7 343.8,620.8 344.1,619.5ZM377.7,610.4 378.7,611.6 378.1,613.4 378.9,613.6 379.9,614.8 381.1,614.5 378.7,616.5 376.4,618.3 374.4,619.3 374.2,618.9 375.3,617.7 375.2,616.5 376.6,615.5 377.4,614.3 377.6,612.8 377.6,611.2ZM372.9,617.9 373.5,618.8 373.2,619.5 370.8,621.0 369.8,622.0 367.6,622.8 365.8,624.5 363.8,625.4 362.6,625.4 361.5,624.6 362.8,623.4 365.2,622.2 367.9,621.0 370.1,619.8 371.8,618.4ZM253.3,582.8 254.2,586.9 253.5,588.4 253.0,590.2 252.1,593.3 250.9,596.4 249.8,598.8 247.8,599.5 246.6,598.8 246.1,595.8 247.3,593.3 247.2,590.2 247.9,588.0 249.9,587.4 251.6,585.9 252.6,584.0ZM286.7,555.9 288.1,557.5 288.8,559.0 288.2,560.4 287.2,560.6 286.7,559.1 286.6,557.5ZM212.7,521.1 215.8,520.9 215.5,522.7 212.7,521.6ZM208.2,517.4 209.7,517.4 209.7,519.6 208.6,519.9ZM208.5,515.6 209.4,515.0 209.4,516.8 208.7,516.6ZM224.2,524.2 226.9,524.6 225.7,524.9 224.2,524.6ZM233.2,524.8 235.3,524.1 234.9,524.9 233.7,525.3ZM109.5,541.0 111.7,539.6 113.8,539.5 115.9,540.2 117.9,541.5 119.9,542.6 120.7,543.1 119.2,543.4 116.9,543.6 117.5,542.6 116.2,542.1 114.2,540.9 112.7,540.5 111.0,540.9ZM120.2,545.3 121.9,543.4 123.3,543.6 125.1,543.7 126.7,545.1 126.0,545.4 124.4,545.4 123.1,546.3 122.2,545.5ZM116.0,545.3 118.1,545.5 118.1,545.9 116.8,546.0 116.0,545.5ZM127.9,545.2 129.7,545.3 129.5,545.8 127.9,545.8ZM132.9,554.8 134.0,554.7 133.9,555.5 132.9,555.5ZM143.1,509.3 145.0,507.1 146.5,505.4 148.2,504.6 147.4,506.5 148.8,507.1 149.4,508.2 149.4,509.5 148.3,510.5 146.5,510.3 146.2,509.4 144.3,509.4ZM79.4,505.6 81.8,506.3 82.1,508.3 81.1,508.5 80.3,507.4 79.4,506.3ZM78.2,501.7 79.2,501.8 78.0,503.9 77.7,503.0ZM143.7,492.7 140.8,491.8 139.7,490.7 138.5,489.9 135.4,490.1 135.5,489.4 139.1,488.8 140.2,487.7 141.6,486.7 141.5,485.6 140.0,484.8 138.6,484.1 137.4,484.1 135.8,484.1 133.5,484.1 132.3,483.6 131.4,482.8 131.7,481.5 133.2,480.4 136.2,480.3 139.5,480.4 141.1,481.1 143.1,481.5 144.7,482.5 146.3,483.6 146.7,484.8 147.2,486.2 149.4,487.2 149.9,487.7 148.0,489.0 146.7,488.5 145.3,488.0 145.4,489.4 146.2,491.0 145.0,491.8 144.7,492.9ZM116.9,485.1 119.7,484.6 121.4,483.6 119.2,483.0 120.3,481.5 118.8,480.8 115.2,481.3 114.0,480.7 110.3,481.3 108.6,482.5 110.2,482.8 108.0,483.8 107.9,484.6 110.4,484.9 109.0,485.8 112.5,485.5 115.2,485.2ZM104.6,482.0 108.3,480.3 111.8,479.9 113.2,480.5 109.1,481.7 106.9,482.6 104.8,482.8ZM136.2,477.7 142.4,477.9 144.6,477.2 147.3,475.8 149.8,475.4 154.4,474.1 159.4,472.9 158.2,472.2 151.8,472.1 144.7,472.7 140.1,473.7 141.1,474.5 140.3,475.8 137.0,476.9ZM142.0,478.4 140.6,479.5 135.0,479.6 132.3,479.4 133.8,477.9 136.1,478.5 139.2,478.3ZM140.1,475.4 136.7,476.0 134.8,475.0 137.5,473.7 139.6,474.1ZM122.3,479.1 118.8,479.6 116.1,479.4 114.9,478.6 118.8,477.8 122.0,478.1ZM132.9,480.3 129.0,480.1 127.9,481.5 129.0,482.0 131.9,481.3ZM127.7,480.3 123.1,481.0 122.7,482.2 125.6,482.4ZM124.8,484.6 121.8,484.9 122.1,485.4 124.1,485.3ZM133.1,490.5 131.5,491.0 128.4,491.3 127.3,490.5 129.2,488.8 131.2,488.3 132.4,489.6ZM129.1,478.9 125.8,478.6 125.5,477.7 129.3,477.5 130.7,478.1ZM116.9,477.9 113.8,478.3 111.6,477.8 115.1,476.9 118.2,476.7ZM133.7,476.7 130.5,476.5 127.9,475.8 129.5,475.1 133.0,475.6ZM32.9,544.6 34.1,543.9 33.5,543.0 33.0,543.7ZM142.9,631.0 145.7,631.0 145.6,632.1 143.7,632.1ZM165.2,634.2 167.1,634.4 167.2,635.1 165.8,634.8ZM265.5,628.0 267.1,628.3 266.5,629.1 265.3,629.0ZM100.4,568.4 101.1,568.4 101.1,569.2 100.4,569.2ZM338.0,483.0 338.3,482.5 339.3,483.2ZM74.5,659.9 82.1,660.2 88.1,659.7 87.7,658.8 92.5,658.3 97.8,657.2 104.0,656.4 110.8,655.9 118.8,656.4 124.5,656.9 124.1,654.5 128.2,654.8 132.0,654.8 139.9,655.2 143.1,654.5 143.3,651.4 145.2,649.3 146.0,647.7 147.1,646.6 148.3,645.9 150.4,645.0 152.0,644.8 151.7,645.9 150.0,646.6 149.5,648.3 148.8,649.8 152.0,651.4 152.8,653.0 154.0,655.0 154.6,656.9 158.4,658.3 164.9,659.5 170.6,659.7 174.8,659.7 175.8,658.8 180.5,657.9 183.8,656.4 186.4,655.0 190.1,654.0 192.3,653.0 196.1,652.4 200.0,651.9 203.9,651.9 207.8,651.9 211.8,651.4 215.6,651.9 219.6,651.9 223.6,651.4 226.2,650.6 229.8,651.7 231.7,650.9 236.1,649.6 240.7,648.3 244.9,647.9 246.3,648.6 248.3,649.3 252.2,649.5 255.4,649.6 255.5,650.7 256.7,651.4 259.0,651.4 262.2,650.2 266.2,649.1 270.7,648.5 274.9,648.3 278.2,648.3 282.0,647.5 285.7,648.0 290.0,647.7 293.4,648.5 297.4,648.6 302.0,648.0 306.2,647.9 310.5,647.7 313.7,648.5 317.1,649.0 319.4,650.4 322.7,650.9 325.2,651.9 327.9,652.7 330.6,653.5 328.5,655.0 322.4,656.9 316.4,659.3 319.5,659.5 325.5,659.9M228.9,517.2 231.4,517.1 232.8,516.2 234.8,516.2 236.4,517.1 237.9,517.4 239.9,517.4 241.4,516.7 241.1,515.6 239.4,514.5 237.2,513.2 236.1,512.6 235.7,512.2 236.3,510.8 237.5,509.9 236.6,510.1 234.8,510.6 233.9,511.1 234.4,512.2 234.2,512.8 233.3,513.3 232.8,513.1 231.6,512.1 232.5,511.4 230.9,510.8 229.7,510.8 228.9,512.2 228.2,513.8 227.6,514.8 227.4,515.7 228.1,516.7ZM246.2,512.0 247.4,510.8 249.2,510.1 251.2,510.4 251.6,512.2 250.0,512.3 249.9,513.2 249.2,513.2 250.3,514.8 251.9,515.4 252.6,516.8 253.2,518.7 254.0,519.9 254.8,521.7 254.5,522.5 253.0,522.7 251.4,522.4 250.3,521.7 249.5,520.5 249.3,519.3 249.6,518.3 248.8,516.8 247.5,515.6 246.8,514.4 246.0,513.2ZM96.8,489.1 100.2,487.4 103.2,487.2 104.1,488.0 101.9,489.0 99.1,489.4ZM99.2,493.8 102.1,492.4 105.2,491.8 107.3,491.9 104.7,492.9 101.3,493.9ZM102.1,496.4 105.6,495.6 107.6,495.8 104.8,496.0ZM107.5,498.9 109.6,497.2 109.7,497.8 108.2,498.9ZM107.0,506.0 108.9,503.8 109.1,502.1 110.5,502.1 109.8,504.8 108.8,506.0ZM111.2,510.4 114.3,508.9 117.0,508.1 118.5,509.2 118.2,510.5 115.9,510.8 113.6,510.4ZM112.8,516.2 113.6,513.8 115.7,511.6 117.5,511.6 115.4,513.8 114.3,516.2ZM118.0,511.4 120.6,511.1 122.1,512.2 121.4,513.2 120.0,513.2 119.3,514.8 118.6,514.9 118.1,513.5 118.7,512.2ZM117.2,516.5 119.9,515.4 122.0,515.1 121.2,515.9 118.9,516.8ZM121.4,514.6 123.9,513.9 125.1,513.9 124.6,514.5 122.6,514.6ZM297.0,504.6 297.6,503.2 299.0,501.8 299.2,499.8 298.7,499.8 298.8,502.4 297.8,504.2ZM271.7,512.6 272.9,510.5 275.9,510.8 276.3,510.4 273.3,510.1 271.4,511.6ZM257.2,513.8 257.6,511.0 259.5,510.8 259.9,513.2 258.5,514.1ZM226.3,494.9 226.6,493.2 228.3,493.8 228.2,494.7ZM229.7,493.8 229.9,492.0 231.0,492.7 230.8,493.8ZM234.6,569.0 235.7,567.6 237.0,567.6 237.3,569.2 236.5,571.2 234.8,571.2ZM231.9,572.3 232.3,574.2 233.1,576.6 233.9,578.7 233.1,578.5 231.8,575.4 231.7,572.9ZM236.9,579.7 237.6,582.2 238.0,585.3 237.4,585.6 236.9,582.8 236.7,580.3ZM124.6,586.9 125.3,587.1 126.1,588.2 125.2,588.0ZM211.0,496.6 211.8,495.7 212.3,496.3 211.5,496.7ZM107.0,554.2 107.7,553.2 108.2,554.2 107.4,554.4Z"/>
<g filter="url(#bl)"><path fill="#FF0000" d="M534.3,635.0h5.0v2.7h-5.0zM531.0,632.8h7.4v2.7h-7.4zM563.1,632.8h2.8v2.7h-2.8zM527.6,630.6h7.5v2.7h-7.5zM541.6,630.6h5.2v2.7h-5.2zM526.6,628.3h9.9v2.8h-9.9zM663.4,628.3h2.9v2.8h-2.9zM525.7,626.0h10.1v2.8h-10.1zM664.3,626.0h2.9v2.8h-2.9zM524.8,623.8h10.2v2.8h-10.2zM759.4,623.8h5.3v2.8h-5.3zM523.9,621.5h12.7v2.8h-12.7zM761.2,621.5h7.8v2.8h-7.8zM523.1,619.1h12.9v2.8h-12.9zM740.7,619.1h5.4v2.8h-5.4zM765.5,619.1h5.4v2.8h-5.4zM524.8,616.8h13.0v2.8h-13.0zM742.2,616.8h5.5v2.8h-5.5zM769.7,616.8h8.0v2.8h-8.0zM524.1,614.5h18.2v2.8h-18.2zM741.0,614.5h8.1v2.8h-8.1zM773.8,614.5h5.5v2.8h-5.5zM523.4,612.2h5.6v2.8h-5.6zM533.6,612.2h8.1v2.8h-8.1zM739.7,612.2h13.2v2.8h-13.2zM775.4,612.2h5.6v2.8h-5.6zM525.3,609.8h15.9v2.8h-15.9zM617.7,609.8h3.1v2.8h-3.1zM715.2,609.8h5.6v2.8h-5.6zM735.7,609.8h18.5v2.8h-18.5zM774.2,609.8h5.6v2.8h-5.6zM522.2,607.5h23.8v2.8h-23.8zM615.3,607.5h13.4v2.8h-13.4zM716.1,607.5h13.4v2.8h-13.4zM734.2,607.5h23.8v2.8h-23.8zM521.7,605.2h26.5v2.8h-26.5zM615.4,605.2h16.1v2.8h-16.1zM716.9,605.2h42.1v2.8h-42.1zM523.8,602.8h11.0v2.8h-11.0zM542.1,602.8h5.7v2.8h-5.7zM615.5,602.8h18.8v2.8h-18.8zM717.6,602.8h42.4v2.8h-42.4zM523.4,600.5h24.2v2.8h-24.2zM612.9,600.5h21.6v2.8h-21.6zM718.2,600.5h5.8v2.8h-5.8zM726.1,600.5h29.5v2.8h-29.5zM525.7,598.1h24.3v2.8h-24.3zM613.0,598.1h8.4v2.8h-8.4zM626.2,598.1h8.4v2.8h-8.4zM644.7,598.1h5.8v2.8h-5.8zM716.1,598.1h5.8v2.8h-5.8zM734.7,598.1h11.1v2.8h-11.1zM755.8,598.1h5.8v2.8h-5.8zM522.7,595.8h11.1v2.8h-11.1zM536.0,595.8h19.1v2.8h-19.1zM613.0,595.8h11.1v2.8h-11.1zM626.3,595.8h8.5v2.8h-8.5zM644.9,595.8h5.8v2.8h-5.8zM716.6,595.8h5.8v2.8h-5.8zM727.2,595.8h3.2v2.8h-3.2zM737.9,595.8h3.2v2.8h-3.2zM743.2,595.8h3.2v2.8h-3.2zM753.8,595.8h3.2v2.8h-3.2zM759.1,595.8h3.2v2.8h-3.2zM525.1,593.5h32.5v2.8h-32.5zM613.1,593.5h21.8v2.8h-21.8zM645.1,593.5h5.8v2.8h-5.8zM719.7,593.5h3.2v2.8h-3.2zM727.7,593.5h5.8v2.8h-5.8zM773.0,593.5h3.2v2.8h-3.2zM522.2,591.1h35.3v2.8h-35.3zM610.4,591.1h27.2v2.8h-27.2zM645.2,591.1h3.2v2.8h-3.2zM650.6,591.1h3.2v2.8h-3.2zM722.8,591.1h3.2v2.8h-3.2zM744.2,591.1h3.2v2.8h-3.2zM754.9,591.1h3.2v2.8h-3.2zM522.0,588.8h24.6v2.8h-24.6zM548.8,588.8h8.5v2.8h-8.5zM610.5,588.8h22.0v2.8h-22.0zM634.6,588.8h5.9v2.8h-5.9zM645.4,588.8h5.9v2.8h-5.9zM731.2,588.8h3.2v2.8h-3.2zM741.9,588.8h5.9v2.8h-5.9zM787.5,588.8h3.2v2.8h-3.2zM516.3,586.5h35.5v2.8h-35.5zM554.0,586.5h3.2v2.8h-3.2zM610.5,586.5h32.8v2.8h-32.8zM645.5,586.5h8.6v2.8h-8.6zM728.9,586.5h11.3v2.8h-11.3zM750.4,586.5h5.9v2.8h-5.9zM777.3,586.5h3.2v2.8h-3.2zM516.1,584.1h41.0v2.8h-41.0zM610.5,584.1h27.5v2.8h-27.5zM640.2,584.1h3.2v2.8h-3.2zM648.3,584.1h5.9v2.8h-5.9zM731.9,584.1h8.6v2.8h-8.6zM750.8,584.1h5.9v2.8h-5.9zM513.2,581.8h46.5v2.8h-46.5zM610.6,581.8h22.1v2.8h-22.1zM634.9,581.8h3.2v2.8h-3.2zM651.1,581.8h3.2v2.8h-3.2zM737.6,581.8h8.6v2.8h-8.6zM751.2,581.8h3.2v2.8h-3.2zM513.1,579.4h49.3v2.8h-49.3zM613.3,579.4h16.8v2.8h-16.8zM635.0,579.4h3.2v2.8h-3.2zM640.4,579.4h3.2v2.8h-3.2zM727.1,579.4h3.2v2.8h-3.2zM732.5,579.4h3.2v2.8h-3.2zM751.4,579.4h3.2v2.8h-3.2zM756.9,579.4h5.9v2.8h-5.9zM512.9,577.1h49.3v2.8h-49.3zM613.3,577.1h11.4v2.8h-11.4zM626.9,577.1h16.8v2.8h-16.8zM716.4,577.1h22.2v2.8h-22.2zM746.2,577.1h14.1v2.8h-14.1zM767.9,577.1h5.9v2.8h-5.9zM512.8,574.8h49.4v2.8h-49.4zM610.6,574.8h16.8v2.8h-16.8zM629.6,574.8h11.4v2.8h-11.4zM711.1,574.8h11.4v2.8h-11.4zM746.4,574.8h16.8v2.8h-16.8zM765.4,574.8h3.2v2.8h-3.2zM510.0,572.4h52.2v2.8h-52.2zM610.6,572.4h16.8v2.8h-16.8zM629.7,572.4h14.1v2.8h-14.1zM708.5,572.4h5.9v2.8h-5.9zM727.5,572.4h5.9v2.8h-5.9zM749.3,572.4h8.7v2.8h-8.7zM760.2,572.4h5.9v2.8h-5.9zM510.0,570.1h46.8v2.8h-46.8zM607.9,570.1h35.9v2.8h-35.9zM708.6,570.1h5.9v2.8h-5.9zM719.5,570.1h5.9v2.8h-5.9zM727.6,570.1h5.9v2.8h-5.9zM735.8,570.1h5.9v2.8h-5.9zM749.4,570.1h5.9v2.8h-5.9zM763.0,570.1h3.2v2.8h-3.2zM499.0,567.8h3.2v2.8h-3.2zM509.9,567.8h11.4v2.8h-11.4zM523.5,567.8h27.7v2.8h-27.7zM610.6,567.8h3.2v2.8h-3.2zM616.1,567.8h30.4v2.8h-30.4zM705.9,567.8h8.7v2.8h-8.7zM716.8,567.8h16.8v2.8h-16.8zM744.0,567.8h3.2v2.8h-3.2zM509.9,565.4h16.8v2.8h-16.8zM534.4,565.4h11.4v2.8h-11.4zM607.9,565.4h16.8v2.8h-16.8zM632.4,565.4h11.4v2.8h-11.4zM705.9,565.4h5.9v2.8h-5.9zM716.8,565.4h16.8v2.8h-16.8zM735.8,565.4h3.2v2.8h-3.2zM512.7,563.1h14.1v2.8h-14.1zM534.5,563.1h11.4v2.8h-11.4zM607.9,563.1h16.8v2.8h-16.8zM629.7,563.1h14.1v2.8h-14.1zM646.0,563.1h5.9v2.8h-5.9zM703.1,563.1h8.7v2.8h-8.7zM719.5,563.1h8.7v2.8h-8.7zM512.8,560.7h30.4v2.8h-30.4zM588.9,560.7h11.4v2.8h-11.4zM602.5,560.7h14.1v2.8h-14.1zM618.8,560.7h33.1v2.8h-33.1zM700.3,560.7h8.7v2.8h-8.7zM722.1,560.7h5.9v2.8h-5.9zM515.5,558.4h24.9v2.8h-24.9zM583.5,558.4h71.1v2.8h-71.1zM684.0,558.4h5.9v2.8h-5.9zM724.7,558.4h3.2v2.8h-3.2zM730.1,558.4h5.9v2.8h-5.9zM507.5,556.1h27.6v2.8h-27.6zM583.5,556.1h71.0v2.8h-71.0zM681.1,556.1h5.9v2.8h-5.9zM702.8,556.1h5.9v2.8h-5.9zM711.0,556.1h3.2v2.8h-3.2zM724.5,556.1h3.2v2.8h-3.2zM504.9,553.7h5.9v2.8h-5.9zM515.8,553.7h5.9v2.8h-5.9zM526.6,553.7h5.9v2.8h-5.9zM580.8,553.7h33.0v2.8h-33.0zM616.0,553.7h38.4v2.8h-38.4zM678.3,553.7h8.6v2.8h-8.6zM705.4,553.7h11.3v2.8h-11.3zM727.1,553.7h5.9v2.8h-5.9zM502.4,551.4h5.9v2.8h-5.9zM521.3,551.4h3.2v2.8h-3.2zM578.1,551.4h43.8v2.8h-43.8zM624.1,551.4h22.1v2.8h-22.1zM651.1,551.4h3.2v2.8h-3.2zM678.2,551.4h8.6v2.8h-8.6zM702.5,551.4h16.7v2.8h-16.7zM726.8,551.4h8.6v2.8h-8.6zM497.2,549.0h14.0v2.8h-14.0zM578.2,549.0h76.0v2.8h-76.0zM678.0,549.0h8.6v2.8h-8.6zM702.3,549.0h16.7v2.8h-16.7zM729.2,549.0h3.2v2.8h-3.2zM489.4,546.7h19.3v2.8h-19.3zM578.2,546.7h35.5v2.8h-35.5zM615.9,546.7h27.4v2.8h-27.4zM645.5,546.7h5.9v2.8h-5.9zM653.6,546.7h3.2v2.8h-3.2zM675.1,546.7h14.0v2.8h-14.0zM699.3,546.7h11.3v2.8h-11.3zM712.8,546.7h3.2v2.8h-3.2zM728.9,546.7h3.2v2.8h-3.2zM487.1,544.4h19.3v2.8h-19.3zM513.9,544.4h3.2v2.8h-3.2zM519.3,544.4h8.5v2.8h-8.5zM581.0,544.4h30.0v2.8h-30.0zM613.2,544.4h27.3v2.8h-27.3zM642.7,544.4h16.6v2.8h-16.6zM674.9,544.4h16.6v2.8h-16.6zM699.0,544.4h19.3v2.8h-19.3zM431.3,542.0h3.2v2.8h-3.2zM484.8,542.0h11.2v2.8h-11.2zM500.8,542.0h5.8v2.8h-5.8zM514.2,542.0h11.2v2.8h-11.2zM578.4,542.0h8.5v2.8h-8.5zM602.4,542.0h3.2v2.8h-3.2zM610.4,542.0h5.8v2.8h-5.8zM623.8,542.0h5.8v2.8h-5.8zM637.2,542.0h24.6v2.8h-24.6zM674.6,542.0h16.5v2.8h-16.5zM696.0,542.0h16.5v2.8h-16.5zM714.7,542.0h3.2v2.8h-3.2zM485.1,539.7h11.2v2.8h-11.2zM501.1,539.7h16.5v2.8h-16.5zM578.4,539.7h11.2v2.8h-11.2zM602.4,539.7h5.8v2.8h-5.8zM613.1,539.7h11.2v2.8h-11.2zM626.4,539.7h8.5v2.8h-8.5zM650.4,539.7h3.2v2.8h-3.2zM661.1,539.7h3.2v2.8h-3.2zM671.7,539.7h32.5v2.8h-32.5zM706.4,539.7h16.5v2.8h-16.5zM480.2,537.4h16.4v2.8h-16.4zM509.4,537.4h3.2v2.8h-3.2zM581.2,537.4h8.5v2.8h-8.5zM599.8,537.4h13.8v2.8h-13.8zM618.3,537.4h8.5v2.8h-8.5zM629.0,537.4h5.8v2.8h-5.8zM650.2,537.4h3.2v2.8h-3.2zM668.8,537.4h61.6v2.8h-61.6zM478.1,535.0h19.0v2.8h-19.0zM509.8,535.0h5.8v2.8h-5.8zM581.2,535.0h3.1v2.8h-3.1zM591.8,535.0h3.1v2.8h-3.1zM602.4,535.0h3.1v2.8h-3.1zM610.3,535.0h5.8v2.8h-5.8zM628.8,535.0h5.8v2.8h-5.8zM639.4,535.0h11.1v2.8h-11.1zM668.5,535.0h11.1v2.8h-11.1zM681.8,535.0h45.5v2.8h-45.5zM476.0,532.7h21.6v2.8h-21.6zM510.2,532.7h5.8v2.8h-5.8zM584.0,532.7h13.7v2.8h-13.7zM602.4,532.7h3.1v2.8h-3.1zM610.3,532.7h8.4v2.8h-8.4zM631.3,532.7h3.1v2.8h-3.1zM636.6,532.7h8.4v2.8h-8.4zM649.8,532.7h3.1v2.8h-3.1zM657.7,532.7h8.4v2.8h-8.4zM670.8,532.7h55.8v2.8h-55.8zM476.7,530.3h29.3v2.8h-29.3zM508.1,530.3h8.4v2.8h-8.4zM586.7,530.3h11.0v2.8h-11.0zM602.4,530.3h3.1v2.8h-3.1zM639.0,530.3h3.1v2.8h-3.1zM665.2,530.3h11.0v2.8h-11.0zM683.5,530.3h45.0v2.8h-45.0zM474.8,528.0h39.5v2.8h-39.5zM589.3,528.0h10.9v2.8h-10.9zM615.4,528.0h3.1v2.8h-3.1zM623.2,528.0h3.1v2.8h-3.1zM636.2,528.0h3.1v2.8h-3.1zM649.2,528.0h3.1v2.8h-3.1zM657.0,528.0h3.1v2.8h-3.1zM662.2,528.0h16.1v2.8h-16.1zM683.0,528.0h44.7v2.8h-44.7zM732.5,528.0h3.1v2.8h-3.1zM475.7,525.7h44.4v2.8h-44.4zM589.4,525.7h8.3v2.8h-8.3zM620.4,525.7h3.1v2.8h-3.1zM641.1,525.7h5.7v2.8h-5.7zM651.4,525.7h3.1v2.8h-3.1zM656.6,525.7h3.1v2.8h-3.1zM661.8,525.7h3.1v2.8h-3.1zM667.0,525.7h16.0v2.8h-16.0zM687.6,525.7h36.7v2.8h-36.7zM731.6,525.7h8.3v2.8h-8.3zM474.0,523.3h49.2v2.8h-49.2zM592.1,523.3h8.2v2.8h-8.2zM602.3,523.3h3.1v2.8h-3.1zM607.4,523.3h3.1v2.8h-3.1zM622.8,523.3h3.1v2.8h-3.1zM630.5,523.3h10.8v2.8h-10.8zM643.4,523.3h3.1v2.8h-3.1zM648.5,523.3h13.3v2.8h-13.3zM663.9,523.3h5.6v2.8h-5.6zM671.6,523.3h3.1v2.8h-3.1zM676.7,523.3h8.2v2.8h-8.2zM694.7,523.3h28.7v2.8h-28.7zM728.0,523.3h15.9v2.8h-15.9zM472.5,521.0h51.4v2.8h-51.4zM589.6,521.0h3.0v2.8h-3.0zM597.2,521.0h10.7v2.8h-10.7zM620.1,521.0h3.0v2.8h-3.0zM635.4,521.0h3.0v2.8h-3.0zM640.5,521.0h5.6v2.8h-5.6zM650.7,521.0h23.4v2.8h-23.4zM676.1,521.0h8.1v2.8h-8.1zM688.8,521.0h5.6v2.8h-5.6zM696.5,521.0h28.5v2.8h-28.5zM727.0,521.0h5.6v2.8h-5.6zM737.2,521.0h5.6v2.8h-5.6zM473.6,518.7h5.5v2.8h-5.5zM488.7,518.7h35.8v2.8h-35.8zM587.1,518.7h13.1v2.8h-13.1zM607.3,518.7h3.0v2.8h-3.0zM640.1,518.7h3.0v2.8h-3.0zM650.2,518.7h5.5v2.8h-5.5zM662.8,518.7h8.1v2.8h-8.1zM675.4,518.7h5.5v2.8h-5.5zM690.6,518.7h5.5v2.8h-5.5zM698.2,518.7h20.7v2.8h-20.7zM720.9,518.7h8.1v2.8h-8.1zM738.5,518.7h5.5v2.8h-5.5zM472.3,516.4h3.0v2.8h-3.0zM489.8,516.4h38.0v2.8h-38.0zM592.3,516.4h10.5v2.8h-10.5zM604.7,516.4h20.5v2.8h-20.5zM627.2,516.4h15.5v2.8h-15.5zM649.7,516.4h5.5v2.8h-5.5zM657.2,516.4h5.5v2.8h-5.5zM667.2,516.4h3.0v2.8h-3.0zM682.2,516.4h3.0v2.8h-3.0zM697.2,516.4h33.0v2.8h-33.0zM737.2,516.4h5.5v2.8h-5.5zM473.6,514.0h3.0v2.8h-3.0zM490.9,514.0h40.1v2.8h-40.1zM587.4,514.0h17.8v2.8h-17.8zM607.2,514.0h20.3v2.8h-20.3zM629.4,514.0h3.0v2.8h-3.0zM636.9,514.0h10.4v2.8h-10.4zM649.2,514.0h10.4v2.8h-10.4zM664.1,514.0h5.4v2.8h-5.4zM674.0,514.0h7.9v2.8h-7.9zM696.2,514.0h35.1v2.8h-35.1zM735.8,514.0h7.9v2.8h-7.9zM492.1,511.7h47.0v2.8h-47.0zM597.3,511.7h27.4v2.8h-27.4zM626.7,511.7h12.7v2.8h-12.7zM641.3,511.7h12.7v2.8h-12.7zM658.5,511.7h10.3v2.8h-10.3zM673.1,511.7h5.4v2.8h-5.4zM682.9,511.7h2.9v2.8h-2.9zM697.6,511.7h34.8v2.8h-34.8zM736.8,511.7h5.4v2.8h-5.4zM490.9,509.5h51.3v2.8h-51.3zM544.1,509.5h5.3v2.8h-5.3zM594.9,509.5h7.8v2.8h-7.8zM604.6,509.5h51.3v2.8h-51.3zM657.8,509.5h5.3v2.8h-5.3zM665.1,509.5h5.3v2.8h-5.3zM672.3,509.5h61.0v2.8h-61.0zM735.2,509.5h2.9v2.8h-2.9zM489.8,507.2h48.3v2.8h-48.3zM542.4,507.2h7.7v2.8h-7.7zM592.6,507.2h5.3v2.8h-5.3zM599.8,507.2h24.4v2.8h-24.4zM626.0,507.2h22.0v2.8h-22.0zM649.9,507.2h12.4v2.8h-12.4zM666.7,507.2h14.8v2.8h-14.8zM683.4,507.2h53.1v2.8h-53.1zM477.1,504.9h71.3v2.8h-71.3zM592.7,504.9h142.0v2.8h-142.0zM474.1,502.7h2.8v2.7h-2.8zM478.8,502.7h70.3v2.7h-70.3zM588.1,502.7h144.7v2.7h-144.7zM744.0,502.7h2.8v2.7h-2.8zM448.5,500.5h2.8v2.7h-2.8zM476.0,500.5h71.5v2.7h-71.5zM588.3,500.5h12.0v2.7h-12.0zM602.0,500.5h128.8v2.7h-128.8zM739.6,500.5h7.4v2.7h-7.4zM450.9,498.3h7.3v2.7h-7.3zM477.9,498.3h45.6v2.7h-45.6zM527.6,498.3h7.3v2.7h-7.3zM536.6,498.3h9.5v2.7h-9.5zM590.7,498.3h7.3v2.7h-7.3zM604.3,498.3h9.5v2.7h-9.5zM615.5,498.3h108.8v2.7h-108.8zM737.4,498.3h9.5v2.7h-9.5zM455.5,496.1h7.2v2.7h-7.2zM477.7,496.1h40.4v2.7h-40.4zM528.8,496.1h4.9v2.7h-4.9zM537.6,496.1h7.2v2.7h-7.2zM593.1,496.1h4.9v2.7h-4.9zM604.2,496.1h11.6v2.7h-11.6zM617.5,496.1h107.0v2.7h-107.0zM737.3,496.1h7.2v2.7h-7.2zM455.8,493.9h13.6v2.6h-13.6zM471.1,493.9h46.3v2.6h-46.3zM540.9,493.9h2.7v2.6h-2.7zM558.3,493.9h4.9v2.6h-4.9zM601.9,493.9h13.6v2.6h-13.6zM617.2,493.9h111.7v2.6h-111.7zM730.6,493.9h4.9v2.6h-4.9zM737.1,493.9h11.4v2.6h-11.4zM456.3,491.8h60.5v2.6h-60.5zM541.9,491.8h2.6v2.6h-2.6zM554.8,491.8h4.8v2.6h-4.8zM561.2,491.8h2.6v2.6h-2.6zM601.9,491.8h13.3v2.6h-13.3zM616.9,491.8h118.3v2.6h-118.3zM736.8,491.8h6.9v2.6h-6.9zM745.3,491.8h2.6v2.6h-2.6zM448.5,489.7h0.5v2.6h-0.5zM459.0,489.7h57.2v2.6h-57.2zM543.0,489.7h2.6v2.6h-2.6zM555.6,489.7h2.6v2.6h-2.6zM564.0,489.7h2.6v2.6h-2.6zM578.7,489.7h8.9v2.6h-8.9zM604.0,489.7h57.2v2.6h-57.2zM671.2,489.7h59.3v2.6h-59.3zM732.1,489.7h4.7v2.6h-4.7zM740.5,489.7h2.6v2.6h-2.6zM746.8,489.7h4.7v2.6h-4.7zM451.4,487.7h64.4v2.5h-64.4zM554.4,487.7h2.6v2.5h-2.6zM564.7,487.7h6.7v2.5h-6.7zM579.1,487.7h8.7v2.5h-8.7zM608.0,487.7h21.1v2.5h-21.1zM630.7,487.7h19.0v2.5h-19.0zM655.4,487.7h21.1v2.5h-21.1zM680.1,487.7h2.6v2.5h-2.6zM684.2,487.7h43.8v2.5h-43.8zM739.8,487.7h6.7v2.5h-6.7zM454.4,485.7h12.6v2.5h-12.6zM468.6,485.7h46.9v2.5h-46.9zM555.3,485.7h2.5v2.5h-2.5zM571.5,485.7h4.5v2.5h-4.5zM609.8,485.7h30.8v2.5h-30.8zM644.2,485.7h2.5v2.5h-2.5zM668.4,485.7h6.6v2.5h-6.6zM684.5,485.7h4.5v2.5h-4.5zM690.6,485.7h2.5v2.5h-2.5zM698.6,485.7h34.8v2.5h-34.8zM735.0,485.7h10.6v2.5h-10.6zM457.5,483.7h0.5v2.5h-0.5zM467.4,483.7h47.9v2.5h-47.9zM556.3,483.7h2.5v2.5h-2.5zM576.0,483.7h4.5v2.5h-4.5zM611.6,483.7h18.3v2.5h-18.3zM651.1,483.7h6.4v2.5h-6.4zM663.0,483.7h6.4v2.5h-6.4zM672.8,483.7h2.5v2.5h-2.5zM680.7,483.7h8.4v2.5h-8.4zM704.5,483.7h4.5v2.5h-4.5zM710.4,483.7h20.3v2.5h-20.3zM732.1,483.7h10.4v2.5h-10.4zM460.7,481.8h0.5v2.4h-0.5zM474.2,481.8h12.1v2.4h-12.1zM555.3,481.8h2.4v2.4h-2.4zM580.4,481.8h2.4v2.4h-2.4zM615.2,481.8h6.3v2.4h-6.3zM638.4,481.8h2.4v2.4h-2.4zM650.0,481.8h2.4v2.4h-2.4zM657.7,481.8h14.0v2.4h-14.0zM673.1,481.8h4.4v2.4h-4.4zM680.9,481.8h4.4v2.4h-4.4zM690.5,481.8h2.4v2.4h-2.4zM696.3,481.8h6.3v2.4h-6.3zM707.9,481.8h14.0v2.4h-14.0zM736.9,481.8h2.4v2.4h-2.4zM556.4,479.9h2.4v2.4h-2.4zM580.9,479.9h2.4v2.4h-2.4zM553.8,478.1h4.2v2.3h-4.2zM583.2,478.1h2.3v2.3h-2.3zM551.6,476.3h4.1v2.3h-4.1zM585.9,474.6h2.2v2.2h-2.2zM551.1,473.1h7.2v2.0h-7.2zM586.3,473.1h5.5v2.0h-5.5z"/></g>
<path fill="none" stroke="#000" stroke-width="0.6" stroke-linejoin="round" d="M461.9,488.7 467.1,485.8 471.0,485.1 473.7,483.8 479.5,482.7 482.2,483.3 484.6,483.8 489.1,484.5 492.2,485.2 495.3,484.6 500.1,483.9 501.6,484.6 505.1,484.3 508.4,485.6 508.5,486.4 511.8,486.3 512.6,487.2 514.6,485.8 518.1,486.4 521.5,486.2 522.5,486.9 524.0,485.6 526.0,484.6 525.8,483.0 527.8,482.0 528.4,483.6 528.2,484.8 529.9,485.6 532.2,484.8 533.3,484.3 535.6,484.4 535.3,485.6 534.2,486.4 534.2,487.2 531.9,488.0 529.8,488.0 528.1,489.9 526.6,490.2 524.6,490.7 521.5,492.1 519.0,493.8 517.2,495.5 517.0,496.4 517.3,498.3 519.6,498.3 520.9,499.1 522.9,500.3 525.2,500.5 524.0,503.0 524.6,504.2 524.8,505.0 526.1,504.8 527.6,501.8 527.5,501.0 530.6,499.5 531.9,497.8 531.3,496.4 532.9,494.3 533.7,492.3 535.8,492.3 537.3,492.7 538.2,493.4 539.7,493.8 539.3,495.5 538.4,496.4 540.0,496.7 542.1,496.0 544.0,494.6 544.4,496.6 544.8,498.3 545.2,500.1 547.0,501.2 547.5,502.4 548.2,503.6 547.7,504.6 545.7,505.1 543.4,506.3 540.5,506.3 537.2,506.3 535.3,507.7 533.4,508.9 531.7,510.1 533.1,509.9 536.2,508.0 538.7,507.6 538.6,508.5 536.8,508.9 537.4,509.9 537.2,511.1 538.4,511.5 540.3,511.6 542.2,510.1 542.0,511.4 540.5,512.3 537.9,513.1 535.6,514.3 535.0,513.8 535.7,512.9 537.2,512.2 535.7,512.3 534.5,512.9 532.3,513.8 530.8,514.4 529.9,515.6 530.5,516.2 530.3,516.7 528.8,517.0 526.6,517.4 525.9,518.1 525.4,519.3 524.3,520.1 523.8,521.1 522.6,522.4 522.3,523.6 522.6,524.4 521.1,525.2 519.6,526.2 518.1,527.0 516.1,528.5 515.3,529.8 515.0,531.0 515.3,533.0 515.6,534.9 515.0,536.8 514.1,536.9 513.6,535.7 513.0,533.8 513.3,532.2 512.2,530.9 510.7,531.4 509.7,530.5 508.1,530.6 506.7,530.7 506.4,532.0 505.2,532.0 503.7,531.5 501.9,531.4 500.4,532.0 498.6,533.1 497.4,534.3 497.3,535.9 496.4,537.8 495.8,540.4 496.1,542.1 496.8,543.9 497.4,544.9 498.6,545.5 500.3,545.3 501.6,545.1 502.9,543.9 503.4,542.3 505.0,541.7 507.2,541.5 507.3,542.3 506.4,543.6 505.8,545.4 505.2,546.4 504.4,548.4 505.8,548.5 507.4,548.4 509.0,548.5 510.3,549.5 509.8,551.3 509.4,553.2 509.3,554.4 510.0,555.7 510.8,556.9 512.1,557.1 513.5,556.4 514.6,556.3 515.9,557.4 516.1,558.3 515.1,557.6 514.8,556.9 513.8,557.0 512.7,557.9 513.1,558.9 512.1,559.1 511.3,558.1 510.1,557.9 509.3,557.4 509.2,556.5 508.1,555.9 507.0,555.4 507.1,554.4 506.1,552.9 505.4,552.0 504.4,551.7 502.8,551.1 501.2,550.7 499.8,549.2 498.6,548.0 497.5,548.1 496.1,548.6 494.5,548.1 492.7,547.3 491.0,546.2 489.2,545.4 488.1,544.3 487.1,542.8 487.7,541.5 486.9,539.4 485.7,537.8 484.5,536.4 484.5,534.9 483.6,533.7 482.7,532.5 482.2,531.0 482.0,529.5 480.8,528.8 480.3,530.0 481.0,531.6 481.5,533.1 482.0,535.1 482.6,537.2 483.5,538.6 483.2,539.6 482.8,539.1 481.7,537.9 481.2,536.8 481.2,535.6 480.0,534.7 479.5,533.7 480.1,532.7 479.2,531.2 478.8,529.8 478.6,527.9 478.4,526.5 477.6,526.1 476.1,525.4 476.0,524.2 475.7,522.6 475.8,521.4 475.3,520.1 475.5,518.3 476.5,516.5 477.1,515.0 478.8,512.8 479.9,511.0 480.8,508.6 482.3,508.7 482.1,509.8 483.1,508.3 483.1,507.5 482.3,506.5 481.1,505.6 480.8,504.4 481.3,503.0 481.1,501.2 481.7,499.7 481.6,498.3 481.5,497.0 481.3,495.8 479.4,496.8 478.9,496.0 478.0,495.1 476.5,494.9 475.0,494.7 474.2,493.8 471.9,494.3 469.8,495.1 467.3,495.8 468.1,494.7 471.1,493.6 469.5,493.8 467.0,494.9 464.8,496.0 464.6,496.6 462.5,497.4 460.1,498.3 457.1,499.5 454.4,500.3 451.4,501.0 449.5,501.2 451.6,500.4 454.4,499.5 456.6,498.7 459.5,497.6 461.5,496.4 459.8,496.6 458.2,496.5 458.2,495.7 459.1,494.7 457.6,494.3 458.1,493.2 458.4,492.7 460.6,491.8 461.8,491.3 464.3,491.0 466.3,489.9 464.9,489.9 463.1,490.0 461.8,489.7 461.9,488.7ZM515.9,557.4 516.6,558.1 517.6,556.5 518.2,554.9 519.3,554.4 521.0,553.9 522.6,552.7 522.9,553.8 522.2,554.7 523.1,554.4 524.2,553.7 524.5,552.9 525.3,553.8 526.1,554.8 528.0,554.9 529.6,555.5 530.7,555.0 532.8,554.8 532.3,555.4 533.9,556.3 534.0,557.5 535.4,557.9 536.7,559.5 538.1,560.6 540.2,560.7 541.5,561.0 543.1,562.0 544.2,562.8 544.7,564.9 545.6,566.1 545.3,567.6 546.6,568.2 547.4,569.0 548.8,568.9 550.5,569.7 551.6,571.1 553.2,571.0 554.8,571.6 556.5,571.5 558.1,572.6 559.8,573.9 561.6,574.4 562.2,576.6 562.0,578.9 561.0,580.7 559.7,582.2 558.4,583.9 557.9,585.9 558.1,587.7 557.9,590.0 557.4,592.1 556.5,594.5 555.5,596.1 553.7,596.4 552.2,597.2 550.6,597.9 549.2,599.3 548.7,600.7 548.9,602.5 548.1,604.0 547.3,606.0 546.0,607.7 545.0,609.7 543.7,611.1 542.2,611.1 540.5,610.3 539.9,610.2 540.1,610.9 541.4,611.8 542.1,613.0 541.6,614.9 540.4,615.7 538.5,616.1 537.3,616.1 537.6,617.9 536.6,618.7 535.1,618.4 535.5,620.0 537.0,620.5 535.9,621.2 536.0,623.2 534.6,624.3 534.7,625.2 536.5,626.1 536.9,627.3 535.9,628.6 535.1,629.8 535.5,631.4 536.5,632.3 535.5,632.4 537.0,633.1 538.1,634.2 540.5,635.0 539.6,635.5 538.0,636.0 536.5,635.7 534.8,635.0 533.2,633.9 531.5,632.8 530.1,631.2 528.7,629.5 527.8,627.4 527.1,625.6 528.1,624.4 527.1,622.2 526.7,620.8 526.6,619.5 526.1,617.3 526.0,615.9 525.3,613.9 525.4,612.2 525.9,609.7 525.8,607.5 525.3,605.0 525.1,603.2 525.3,601.3 525.4,599.2 525.2,597.0 525.1,594.5 524.9,592.1 524.5,590.6 523.2,589.6 521.5,588.4 519.2,587.1 517.6,585.3 516.5,583.1 515.3,580.6 514.3,578.2 513.1,576.4 511.7,575.4 511.6,573.6 512.5,572.3 513.1,571.1 511.9,570.8 512.0,569.2 512.7,568.0 512.9,566.9 514.1,566.4 514.6,564.9 515.7,564.5 516.0,563.3 515.7,561.2 515.9,559.7 515.4,559.0 515.9,557.4ZM594.0,523.8 594.6,523.7 595.9,524.6 596.9,524.4 597.9,524.7 599.0,524.0 600.3,523.5 601.5,523.0 603.1,522.6 605.1,522.6 607.1,522.4 608.7,522.5 610.0,522.0 611.2,522.4 610.7,523.6 611.3,524.4 610.5,525.7 610.3,526.4 611.4,526.9 612.4,527.5 613.7,527.4 615.8,528.0 616.1,529.1 617.7,529.8 619.3,530.5 620.6,530.5 620.9,529.5 620.8,528.3 622.1,527.5 623.3,527.5 624.1,528.1 626.0,528.8 628.1,529.4 630.2,529.9 631.4,529.4 632.2,529.0 633.6,529.4 634.0,531.0 634.3,532.0 635.2,533.5 635.8,534.9 636.9,537.2 638.0,539.4 639.2,540.9 639.8,542.7 640.0,544.6 641.3,545.8 642.3,548.3 643.1,549.5 644.5,550.4 645.9,551.7 646.8,552.6 646.8,553.7 647.7,555.0 649.3,554.9 650.9,554.2 653.0,554.1 655.4,553.3 655.4,555.2 654.7,556.9 653.8,559.4 652.7,561.8 651.7,563.1 650.3,564.9 648.4,566.4 646.8,568.0 645.7,569.2 644.6,570.7 643.7,571.5 643.1,573.2 642.2,575.2 642.8,576.5 642.9,578.5 643.3,580.7 644.0,581.6 643.8,584.0 643.9,586.5 642.8,588.2 640.8,589.3 639.5,590.2 638.0,591.7 637.2,592.6 637.5,594.5 637.7,597.0 636.6,598.6 634.9,599.5 634.5,600.3 634.6,601.9 633.9,603.5 632.4,604.9 631.2,606.6 629.5,608.3 627.9,609.5 626.4,609.9 624.2,610.1 622.7,610.2 620.5,610.9 619.0,610.3 618.8,608.7 618.9,607.1 618.1,605.4 617.3,603.3 616.0,600.9 615.4,598.2 615.4,596.0 614.4,593.7 613.2,591.2 612.7,589.2 612.7,587.5 613.4,585.3 614.5,583.3 614.9,581.6 614.3,579.1 613.9,576.6 613.3,575.4 613.0,574.2 612.2,572.9 610.9,571.5 609.8,569.9 609.6,568.9 610.2,567.6 610.5,566.1 610.7,564.3 610.3,563.1 609.5,562.4 607.6,562.6 606.5,562.7 605.4,561.2 604.7,560.2 603.3,560.1 601.6,560.4 600.0,561.1 598.4,561.8 597.3,562.1 595.7,561.6 593.5,562.1 591.7,562.6 590.2,561.6 588.3,560.2 586.6,558.9 585.7,557.5 585.4,556.3 584.0,554.7 583.2,553.6 581.9,552.7 581.9,551.3 581.1,549.9 582.2,548.3 582.5,545.8 582.7,544.2 581.8,542.1 582.6,540.5 583.1,538.8 584.3,536.8 584.8,535.7 586.0,533.9 587.4,533.3 589.0,532.2 589.9,530.5 589.8,529.1 590.5,527.8 591.4,526.8 592.5,526.3 593.3,525.3 594.0,523.8ZM634.0,531.0 634.9,532.7 636.0,533.7 636.6,531.6 636.8,533.5 638.6,535.9 639.6,537.8 641.0,539.6 641.7,541.5 643.3,543.7 644.5,545.8 645.7,547.6 646.4,549.7 646.8,551.6 647.1,552.3 648.6,552.1 650.8,551.3 652.9,550.2 655.0,549.1 656.2,548.3 658.0,547.0 659.6,546.0 660.6,544.8 661.9,543.9 662.0,542.7 663.3,541.5 663.7,540.2 662.4,538.9 660.5,538.4 659.8,537.3 659.6,535.6 659.0,536.2 658.3,537.0 657.5,538.0 655.7,538.1 654.6,537.8 654.6,536.0 653.9,535.9 653.7,537.2 653.1,536.4 652.9,535.2 651.9,534.2 651.1,533.1 650.3,531.6 650.8,531.0 651.7,530.7 652.9,531.6 653.6,532.8 654.7,533.8 656.4,534.9 658.0,535.1 659.3,534.6 660.3,534.9 660.8,536.3 662.5,536.7 665.1,536.9 667.2,536.8 668.8,536.8 670.4,536.7 671.2,537.4 671.7,538.6 672.8,539.1 674.5,539.7 674.8,539.7 673.5,540.5 674.7,542.1 675.8,542.5 677.1,541.8 677.2,540.6 677.7,542.1 678.0,544.6 678.7,547.0 679.5,548.9 680.5,551.3 681.4,553.2 682.3,554.9 682.8,556.3 683.6,557.8 684.2,558.0 684.8,557.0 685.7,556.5 686.5,555.3 686.3,553.4 686.8,551.7 686.3,549.2 687.0,548.4 688.5,547.4 689.5,546.0 691.0,544.2 692.5,543.1 692.8,541.6 693.8,541.2 695.2,541.1 696.4,540.5 697.4,540.1 698.1,541.5 698.8,542.7 700.1,543.9 701.0,545.2 701.6,547.0 701.5,548.3 702.6,548.5 703.8,547.6 704.5,547.0 705.0,547.9 705.4,549.5 706.0,551.0 706.6,552.8 706.9,555.0 706.6,556.9 706.7,558.1 707.5,558.7 708.4,559.9 709.2,561.3 709.5,563.1 710.2,564.4 711.3,565.3 712.7,566.4 713.4,566.3 713.0,564.8 712.5,563.6 712.5,562.3 711.7,561.1 711.1,560.4 710.0,559.5 709.3,559.0 708.5,557.5 707.7,556.5 707.5,555.0 707.9,553.7 708.1,552.5 708.2,551.5 709.0,551.5 709.2,552.5 710.7,552.9 711.5,554.1 712.2,554.9 713.2,555.2 713.6,555.9 713.7,557.4 714.4,556.9 715.5,555.9 716.2,555.2 717.2,554.6 718.0,553.8 718.2,552.6 718.0,551.0 717.5,549.5 716.6,548.1 715.2,547.0 714.3,546.0 713.3,544.6 713.7,543.3 714.1,542.3 715.2,541.5 716.3,541.3 717.1,541.6 717.6,542.8 717.9,541.8 719.2,541.3 720.9,540.6 721.7,540.4 722.9,539.9 724.1,539.3 725.2,537.8 726.5,536.5 726.5,535.3 727.0,533.9 727.6,532.8 727.6,531.5 727.0,530.9 726.3,530.4 727.0,529.8 726.4,528.5 725.0,527.3 723.7,525.7 722.4,524.8 723.0,523.6 724.7,522.4 723.4,521.7 721.9,521.7 721.0,522.0 719.8,521.1 718.8,520.1 719.4,519.6 720.0,518.8 720.9,517.7 722.1,517.9 722.3,519.9 723.0,519.9 723.6,519.0 724.8,518.8 726.4,520.1 726.5,521.1 727.8,521.5 728.9,522.4 729.0,523.3 729.7,524.8 730.1,525.6 731.0,525.2 732.4,524.7 732.3,523.6 731.5,522.1 730.0,520.8 728.3,519.3 728.8,518.4 729.5,517.4 729.4,515.9 730.2,514.9 732.0,515.2 732.8,514.1 733.2,512.6 733.4,510.8 733.1,508.9 733.1,507.1 731.8,505.4 731.5,503.9 730.2,502.6 728.8,502.3 727.2,501.6 726.3,502.1 725.1,501.2 723.5,501.0 723.6,500.1 723.8,498.3 724.2,497.0 725.2,495.7 727.7,495.6 730.1,495.4 732.5,496.0 734.5,495.8 735.4,495.5 734.1,493.2 735.9,492.9 738.1,493.8 738.3,492.1 739.6,492.1 740.0,493.2 739.6,494.6 740.0,496.0 739.3,497.4 740.0,498.9 742.1,501.2 744.9,503.6 747.0,505.4 746.9,503.6 746.4,502.8 746.1,501.2 746.1,499.5 745.3,497.8 743.1,496.0 743.5,494.9 745.0,494.3 748.1,494.9 748.1,493.8 749.1,492.9 750.2,492.1 751.9,492.1 749.3,489.9 747.3,489.7 746.1,488.3 748.1,488.8 742.7,485.2 740.4,484.8 737.3,484.3 733.8,484.1 734.6,485.1 731.9,484.4 729.7,484.5 727.1,484.6 722.5,483.3 718.3,483.0 715.0,482.3 711.1,481.7 707.5,481.3 706.1,481.7 704.5,482.5 701.4,482.5 700.1,483.0 696.4,481.5 694.3,480.5 692.1,480.5 689.7,481.0 685.1,480.4 682.6,478.6 678.6,477.5 673.3,476.5 671.7,477.7 669.3,478.1 666.1,478.5 664.2,479.6 664.2,480.4 662.2,481.5 660.3,480.5 658.8,482.0 656.7,481.2 656.9,482.0 658.5,485.6 658.6,487.7 658.2,487.7 657.5,485.3 656.1,482.5 654.6,481.0 652.1,481.2 651.5,482.5 652.6,484.6 654.7,485.8 651.3,484.9 647.8,484.3 647.7,485.5 645.3,485.5 643.1,485.8 640.0,486.2 638.1,487.2 635.4,485.6 634.4,485.5 635.8,487.7 634.2,487.9 633.2,489.8 631.8,490.5 630.5,490.6 629.2,490.1 628.4,488.8 626.3,487.2 629.4,488.0 632.7,488.1 633.4,487.2 632.9,486.5 630.3,485.7 627.6,484.9 626.0,484.6 623.5,484.1 621.6,483.0 619.8,482.9 617.2,483.8 614.9,484.4 612.7,485.4 611.7,486.7 610.6,488.3 609.1,489.9 608.0,491.0 605.9,491.8 604.3,492.7 604.3,494.3 604.8,496.0 606.2,497.2 607.5,496.8 609.2,495.7 609.9,496.6 610.7,497.8 611.4,499.5 611.8,500.2 612.9,500.1 614.4,499.1 614.7,497.8 615.0,496.4 616.4,495.4 614.9,494.1 614.9,492.3 616.0,491.2 617.5,489.9 618.3,488.6 619.9,488.5 620.9,489.4 620.4,490.1 618.9,491.2 618.1,492.3 618.5,493.8 618.4,494.3 620.0,495.0 621.7,494.7 623.8,494.3 625.7,494.9 624.5,495.5 621.6,495.5 620.6,496.0 620.8,497.2 621.5,496.8 621.4,498.2 620.1,497.6 619.2,498.0 618.9,498.9 619.0,500.1 618.2,500.9 617.2,501.2 615.1,501.2 613.1,501.8 611.4,501.5 610.1,501.8 609.1,501.2 609.5,500.1 609.4,498.9 609.3,497.6 608.0,498.2 607.4,498.9 607.4,500.1 607.9,501.2 608.1,502.1 606.4,502.4 604.6,502.6 604.2,503.9 603.3,504.8 602.3,505.4 601.6,505.6 601.4,506.5 600.2,507.0 598.9,507.3 598.4,506.9 598.6,508.1 597.1,508.0 595.5,508.3 595.9,509.2 597.3,509.5 597.9,509.9 598.7,511.1 598.8,512.6 598.5,514.4 596.6,514.4 594.3,514.3 592.1,514.0 590.9,515.0 591.3,516.2 591.2,518.1 590.4,520.1 591.1,521.2 590.8,522.4 592.4,522.2 593.5,522.6 594.3,523.6 595.4,522.7 597.8,522.6 599.2,521.5 600.0,520.3 599.7,519.3 600.8,517.7 602.2,517.0 603.2,515.9 603.0,514.8 603.9,514.4 605.3,514.6 607.2,514.1 608.6,513.3 610.0,514.0 610.4,515.1 611.6,516.1 612.2,516.6 613.7,517.2 614.3,517.7 615.7,518.7 616.1,520.0 615.9,521.1 616.7,520.8 617.2,519.9 616.7,519.0 617.0,518.1 618.1,518.7 618.6,518.5 618.0,517.8 616.9,517.3 615.9,516.3 614.9,516.2 613.8,515.4 613.3,514.3 612.3,513.5 612.0,512.3 613.3,511.7 613.3,512.6 614.1,512.2 614.9,513.5 616.2,514.4 617.8,515.4 619.3,516.3 619.4,518.1 620.1,519.0 620.9,520.0 621.5,520.8 621.8,521.7 622.1,522.6 623.0,523.0 623.6,523.0 623.4,521.9 624.0,521.2 624.3,520.8 623.2,519.6 622.8,518.4 622.9,517.9 623.9,518.7 624.4,518.4 624.5,517.6 626.0,517.7 626.3,518.5 626.4,519.3 627.1,520.5 627.6,521.7 627.9,522.4 628.8,522.7 630.1,523.3 631.2,523.0 631.3,522.5 632.7,523.2 633.7,523.5 635.2,522.6 636.5,522.8 636.8,523.8 636.8,525.4 636.6,526.2 636.2,527.5 636.0,528.5 635.6,529.4 634.9,529.6 633.6,529.4ZM451.3,489.3 453.1,488.8 453.8,489.8 455.8,490.1 457.7,489.4 460.9,488.3 461.4,487.3 459.4,487.0 458.6,485.9 457.3,485.2M561.7,495.0 560.3,494.0 558.4,493.2 557.6,492.1 557.0,490.2 556.8,488.8 556.5,487.2 557.8,485.6 559.9,484.6 557.6,483.6 558.0,482.0 558.1,480.5 557.7,478.8 555.2,478.1 552.3,478.1 550.6,477.7 549.9,476.7 549.2,476.0 553.6,475.0 556.4,474.1 560.7,472.9 567.6,472.6 574.4,472.0 579.0,471.8 583.9,472.3 586.9,473.1 592.1,473.3 588.5,474.5 586.8,475.8 586.7,477.7 585.3,479.1 584.3,480.5 582.4,482.0 582.9,483.6 580.3,484.6 577.7,485.8 574.2,486.7 571.4,488.3 568.8,488.7 566.7,489.9 565.4,491.6 563.6,493.2 562.7,494.7ZM579.8,488.8 581.7,487.9 582.7,488.8 585.3,488.1 587.0,487.7 588.1,488.5 588.7,489.4 587.5,490.2 584.9,491.1 582.8,491.0 581.0,490.7 581.7,489.9 580.1,489.5 581.9,489.0ZM594.6,506.4 596.7,506.2 599.1,505.7 601.2,505.1 600.5,504.8 601.6,503.5 600.3,503.0 600.0,502.3 598.9,501.1 598.6,500.1 597.7,499.5 597.1,499.5 598.2,497.8 596.4,497.6 597.4,496.5 595.6,496.5 594.8,497.8 594.9,498.9 595.0,500.1 595.7,500.1 595.4,500.9 596.8,500.8 597.1,501.8 597.2,502.5 595.9,502.6 595.8,503.2 596.3,503.8 595.1,504.4 596.7,504.8 597.2,505.1 595.8,505.4ZM590.7,504.6 592.5,504.4 594.1,503.9 594.5,502.6 595.0,501.2 594.4,500.4 593.2,500.3 592.2,501.2 590.8,501.6 591.0,502.6 591.2,503.5 590.4,504.2ZM607.2,475.6 609.9,476.7 612.2,477.6 613.3,476.3 614.9,475.8 613.0,475.0 610.8,474.5 607.5,474.8ZM612.1,474.4 613.6,475.0 616.4,475.1 618.3,474.5 616.1,474.1 613.4,474.1ZM639.8,483.0 641.9,483.4 644.7,483.5 642.8,482.0 641.9,480.5 642.8,479.6 644.4,478.6 646.7,477.8 648.8,477.3 646.9,477.2 643.1,477.8 640.9,478.9 640.4,480.5 640.1,482.0ZM665.4,475.4 669.9,476.3 672.4,476.0 671.9,475.1 667.7,474.5 663.9,473.7 662.2,474.5ZM699.7,478.6 703.6,478.3 708.9,478.9 710.4,479.4 705.1,479.3 702.6,479.6ZM704.8,480.5 707.4,480.7 707.0,480.3 704.5,480.1ZM729.9,501.5 731.6,502.4 733.5,504.2 735.3,506.5 736.8,507.5 737.4,509.5 738.5,510.4 738.4,511.4 737.7,511.4 736.5,509.5 735.1,507.7 733.2,505.4 731.0,503.0ZM738.7,516.0 738.3,514.6 739.3,514.6 737.9,512.1 740.1,513.4 742.5,513.5 743.4,514.6 742.5,516.2 742.2,516.2 740.1,515.6 740.2,516.6 739.6,516.8ZM740.8,517.1 742.9,519.3 742.7,520.8 743.5,522.4 744.1,524.0 743.7,524.8 743.4,524.6 742.7,525.2 740.9,525.3 740.8,525.7 740.2,526.7 739.0,525.7 738.8,525.3 737.4,525.6 736.0,526.1 735.0,526.1 734.7,525.4 735.8,524.3 737.3,524.2 738.7,524.1 738.8,523.2 739.1,522.0 739.9,522.6 740.7,521.9 741.0,520.5 740.6,518.9 740.1,517.9 739.9,517.2ZM735.0,526.2 736.2,527.0 736.5,528.5 736.4,529.4 736.0,529.6 735.2,528.5 734.4,527.7 734.0,526.8 734.6,526.4ZM736.7,526.3 737.9,525.7 738.9,526.3 738.7,526.9 737.9,526.8 737.7,527.5 736.8,527.0ZM728.7,536.9 729.3,537.4 729.1,539.6 728.7,540.9 727.9,539.6 727.9,538.1 728.2,537.2ZM716.4,544.2 717.1,543.3 718.4,543.2 718.8,543.8 718.3,544.9 717.5,545.5 716.5,545.1ZM729.2,545.2 731.0,545.2 731.5,547.0 730.8,548.5 731.3,550.1 732.8,550.7 733.9,551.3 734.1,552.5 732.8,551.3 731.7,551.1 730.7,551.1 730.1,550.4 729.3,549.1 728.9,547.9 729.5,547.4 729.3,546.4ZM732.5,559.4 733.0,558.1 734.0,557.3 735.1,557.5 736.0,555.9 737.2,557.5 737.4,559.4 736.9,560.2 736.4,561.0 735.9,560.6 734.7,560.0 734.7,558.7 733.9,558.7 732.7,559.5ZM734.4,552.6 735.7,552.6 736.1,554.4 735.7,555.4 734.9,555.0 734.5,553.8ZM732.0,553.4 733.1,553.8 733.6,555.0 733.7,556.5 732.8,556.3 732.7,555.0 732.2,555.0ZM727.2,557.5 729.4,554.1 729.7,555.0 728.0,557.1ZM729.9,551.5 731.2,551.6 731.3,552.8 730.8,552.8ZM719.3,565.5 720.8,565.9 721.1,564.7 723.0,564.1 724.0,562.4 725.6,561.5 726.8,559.5 727.7,560.0 728.3,560.8 729.6,561.6 728.9,562.6 728.0,563.1 728.2,564.3 728.4,565.5 729.6,566.8 728.5,567.0 727.9,568.0 727.7,569.2 726.8,569.9 726.8,571.5 726.2,572.7 725.1,572.9 724.6,572.3 723.0,571.9 721.6,572.3 720.0,571.6 719.7,569.9 718.9,568.6 718.7,567.6 718.7,566.5ZM703.6,561.1 706.0,561.6 707.4,563.3 709.2,564.9 710.5,565.8 712.1,567.0 713.0,568.0 713.8,569.5 713.7,570.8 715.3,571.7 715.1,573.6 715.0,575.2 713.6,575.2 712.5,574.0 711.3,572.9 709.9,571.1 709.2,569.2 708.0,567.8 707.4,565.9 705.8,564.1 704.4,562.8 703.6,561.6ZM714.3,576.4 715.2,575.3 716.3,575.3 717.9,576.3 720.1,575.9 720.6,575.9 722.4,576.5 724.3,577.5 724.2,578.7 722.1,578.4 719.4,577.9 717.3,577.6 715.5,577.1ZM724.8,578.0 727.0,578.0 729.2,578.2 731.3,578.4 733.5,578.1 733.5,578.6 731.3,579.0 729.1,578.9 726.9,579.1 724.8,578.9ZM729.0,579.6 731.0,579.8 730.6,580.6 729.2,580.1ZM733.8,580.7 735.6,579.1 738.1,578.4 737.2,579.4 734.9,580.6ZM730.6,566.4 731.7,566.4 733.9,566.8 736.3,565.9 735.6,567.4 733.9,567.6 731.7,567.4 730.9,567.6 730.9,569.0 732.3,569.2 734.2,569.0 732.8,570.2 732.2,571.1 733.3,572.3 733.8,573.6 733.2,574.8 732.1,573.9 731.6,572.3 731.1,571.7 731.1,573.6 730.9,574.9 729.9,574.8 730.0,572.7 729.3,571.5 730.1,569.2 730.4,567.6ZM738.8,565.5 739.9,566.4 739.4,568.0 739.4,569.0 738.8,567.4ZM739.3,571.7 742.3,572.1 741.4,572.4 739.5,572.3ZM737.1,571.8 738.4,571.9 738.2,572.7 737.3,572.6ZM742.6,569.0 744.3,568.5 745.9,569.0 746.4,571.1 747.4,572.1 749.7,570.1 751.3,570.5 753.5,571.2 755.6,572.2 757.7,573.6 758.7,574.8 760.3,575.4 759.7,576.4 760.7,577.9 761.6,579.1 763.1,580.7 762.0,580.7 759.9,580.1 758.9,578.9 757.4,577.6 755.7,578.5 755.1,579.4 752.9,579.2 751.4,578.0 749.8,578.2 750.4,576.6 750.0,574.8 747.9,573.7 745.8,572.8 744.5,572.9 744.4,571.7 745.3,571.1 743.7,570.7 742.6,569.6ZM761.4,574.9 763.1,574.8 765.3,573.2 765.3,574.2 763.6,575.6 761.9,575.6ZM764.1,571.2 765.9,572.3 766.4,573.6 765.9,572.9 764.3,571.7ZM768.2,574.8 769.3,576.0 768.9,576.5 768.1,575.4ZM770.5,577.0 773.4,578.5 774.3,580.0 773.3,579.7 771.0,577.9ZM775.3,592.9 777.5,594.9 777.9,595.6 776.5,594.9 775.2,593.4ZM790.4,589.6 791.8,589.7 791.5,590.5 790.2,590.3ZM779.6,586.5 780.2,586.8 780.2,588.4 779.8,587.5ZM754.4,581.2 755.2,583.4 755.2,585.6 756.6,586.5 756.5,588.4 756.5,590.8 757.4,591.8 758.8,592.9 759.3,595.1 760.3,596.7 761.6,598.6 761.9,600.1 761.4,602.5 759.7,605.6 758.2,607.7 756.4,609.3 754.2,611.8 752.5,613.9 750.0,614.8 747.7,616.2 746.7,614.9 744.9,615.9 742.7,615.1 742.3,613.6 742.7,612.2 741.3,611.9 742.3,610.9 742.6,608.7 741.2,609.9 739.7,610.9 739.1,610.7 738.6,608.7 737.1,607.5 734.1,607.0 730.7,607.9 728.3,608.7 727.3,609.8 723.7,609.8 721.1,611.2 719.2,610.9 718.4,610.3 720.1,607.5 720.0,605.6 720.2,603.4 719.8,600.7 720.2,598.2 721.1,595.8 721.9,594.9 723.9,593.8 725.5,593.4 727.3,592.7 729.5,592.2 731.1,590.2 732.1,588.6 733.4,588.1 734.7,586.8 736.5,585.3 738.0,586.3 739.6,586.4 740.5,584.3 741.4,583.3 743.4,582.2 746.0,582.9 748.0,583.1 746.9,584.7 746.1,586.5 747.5,587.5 749.4,588.9 750.9,589.7 752.1,587.7 752.8,585.3 753.1,583.4 753.8,581.6ZM744.7,618.2 746.2,618.7 748.1,618.4 747.3,619.8 745.9,621.2 744.4,621.7 743.8,620.8 744.1,619.5ZM777.7,610.4 778.7,611.6 778.1,613.4 778.9,613.6 779.9,614.8 781.1,614.5 778.7,616.5 776.4,618.3 774.4,619.3 774.2,618.9 775.3,617.7 775.2,616.5 776.6,615.5 777.4,614.3 777.6,612.8 777.6,611.2ZM772.9,617.9 773.5,618.8 773.2,619.5 770.8,621.0 769.8,622.0 767.6,622.8 765.8,624.5 763.8,625.4 762.6,625.4 761.5,624.6 762.8,623.4 765.2,622.2 767.9,621.0 770.1,619.8 771.8,618.4ZM653.3,582.8 654.2,586.9 653.5,588.4 653.0,590.2 652.1,593.3 650.9,596.4 649.8,598.8 647.8,599.5 646.6,598.8 646.1,595.8 647.3,593.3 647.2,590.2 647.9,588.0 649.9,587.4 651.6,585.9 652.6,584.0ZM686.7,555.9 688.1,557.5 688.8,559.0 688.2,560.4 687.2,560.6 686.7,559.1 686.6,557.5ZM612.7,521.1 615.8,520.9 615.5,522.7 612.7,521.6ZM608.2,517.4 609.7,517.4 609.7,519.6 608.6,519.9ZM608.5,515.6 609.4,515.0 609.4,516.8 608.7,516.6ZM624.2,524.2 626.9,524.6 625.7,524.9 624.2,524.6ZM633.2,524.8 635.3,524.1 634.9,524.9 633.7,525.3ZM509.5,541.0 511.7,539.6 513.8,539.5 515.9,540.2 517.9,541.5 519.9,542.6 520.7,543.1 519.2,543.4 516.9,543.6 517.5,542.6 516.2,542.1 514.2,540.9 512.7,540.5 511.0,540.9ZM520.2,545.3 521.9,543.4 523.3,543.6 525.1,543.7 526.7,545.1 526.0,545.4 524.4,545.4 523.1,546.3 522.2,545.5ZM516.0,545.3 518.1,545.5 518.1,545.9 516.8,546.0 516.0,545.5ZM527.9,545.2 529.7,545.3 529.5,545.8 527.9,545.8ZM532.9,554.8 534.0,554.7 533.9,555.5 532.9,555.5ZM543.1,509.3 545.0,507.1 546.5,505.4 548.2,504.6 547.4,506.5 548.8,507.1 549.4,508.2 549.4,509.5 548.3,510.5 546.5,510.3 546.2,509.4 544.3,509.4ZM479.4,505.6 481.8,506.3 482.1,508.3 481.1,508.5 480.3,507.4 479.4,506.3ZM478.2,501.7 479.2,501.8 478.0,503.9 477.7,503.0ZM543.7,492.7 540.8,491.8 539.7,490.7 538.5,489.9 535.4,490.1 535.5,489.4 539.1,488.8 540.2,487.7 541.6,486.7 541.5,485.6 540.0,484.8 538.6,484.1 537.4,484.1 535.8,484.1 533.5,484.1 532.3,483.6 531.4,482.8 531.7,481.5 533.2,480.4 536.2,480.3 539.5,480.4 541.1,481.1 543.1,481.5 544.7,482.5 546.3,483.6 546.7,484.8 547.2,486.2 549.4,487.2 549.9,487.7 548.0,489.0 546.7,488.5 545.3,488.0 545.4,489.4 546.2,491.0 545.0,491.8 544.7,492.9ZM516.9,485.1 519.7,484.6 521.4,483.6 519.2,483.0 520.3,481.5 518.8,480.8 515.2,481.3 514.0,480.7 510.3,481.3 508.6,482.5 510.2,482.8 508.0,483.8 507.9,484.6 510.4,484.9 509.0,485.8 512.5,485.5 515.2,485.2ZM504.6,482.0 508.3,480.3 511.8,479.9 513.2,480.5 509.1,481.7 506.9,482.6 504.8,482.8ZM536.2,477.7 542.4,477.9 544.6,477.2 547.3,475.8 549.8,475.4 554.4,474.1 559.4,472.9 558.2,472.2 551.8,472.1 544.7,472.7 540.1,473.7 541.1,474.5 540.3,475.8 537.0,476.9ZM542.0,478.4 540.6,479.5 535.0,479.6 532.3,479.4 533.8,477.9 536.1,478.5 539.2,478.3ZM540.1,475.4 536.7,476.0 534.8,475.0 537.5,473.7 539.6,474.1ZM522.3,479.1 518.8,479.6 516.1,479.4 514.9,478.6 518.8,477.8 522.0,478.1ZM532.9,480.3 529.0,480.1 527.9,481.5 529.0,482.0 531.9,481.3ZM527.7,480.3 523.1,481.0 522.7,482.2 525.6,482.4ZM524.8,484.6 521.8,484.9 522.1,485.4 524.1,485.3ZM533.1,490.5 531.5,491.0 528.4,491.3 527.3,490.5 529.2,488.8 531.2,488.3 532.4,489.6ZM529.1,478.9 525.8,478.6 525.5,477.7 529.3,477.5 530.7,478.1ZM516.9,477.9 513.8,478.3 511.6,477.8 515.1,476.9 518.2,476.7ZM533.7,476.7 530.5,476.5 527.9,475.8 529.5,475.1 533.0,475.6ZM432.9,544.6 434.1,543.9 433.5,543.0 433.0,543.7ZM542.9,631.0 545.7,631.0 545.6,632.1 543.7,632.1ZM565.2,634.2 567.1,634.4 567.2,635.1 565.8,634.8ZM665.5,628.0 667.1,628.3 666.5,629.1 665.3,629.0ZM500.4,568.4 501.1,568.4 501.1,569.2 500.4,569.2ZM738.0,483.0 738.3,482.5 739.3,483.2ZM474.5,659.9 482.1,660.2 488.1,659.7 487.7,658.8 492.5,658.3 497.8,657.2 504.0,656.4 510.8,655.9 518.8,656.4 524.5,656.9 524.1,654.5 528.2,654.8 532.0,654.8 539.9,655.2 543.1,654.5 543.3,651.4 545.2,649.3 546.0,647.7 547.1,646.6 548.3,645.9 550.4,645.0 552.0,644.8 551.7,645.9 550.0,646.6 549.5,648.3 548.8,649.8 552.0,651.4 552.8,653.0 554.0,655.0 554.6,656.9 558.4,658.3 564.9,659.5 570.6,659.7 574.8,659.7 575.8,658.8 580.5,657.9 583.8,656.4 586.4,655.0 590.1,654.0 592.3,653.0 596.1,652.4 600.0,651.9 603.9,651.9 607.8,651.9 611.8,651.4 615.6,651.9 619.6,651.9 623.6,651.4 626.2,650.6 629.8,651.7 631.7,650.9 636.1,649.6 640.7,648.3 644.9,647.9 646.3,648.6 648.3,649.3 652.2,649.5 655.4,649.6 655.5,650.7 656.7,651.4 659.0,651.4 662.2,650.2 666.2,649.1 670.7,648.5 674.9,648.3 678.2,648.3 682.0,647.5 685.7,648.0 690.0,647.7 693.4,648.5 697.4,648.6 702.0,648.0 706.2,647.9 710.5,647.7 713.7,648.5 717.1,649.0 719.4,650.4 722.7,650.9 725.2,651.9 727.9,652.7 730.6,653.5 728.5,655.0 722.4,656.9 716.4,659.3 719.5,659.5 725.5,659.9M628.9,517.2 631.4,517.1 632.8,516.2 634.8,516.2 636.4,517.1 637.9,517.4 639.9,517.4 641.4,516.7 641.1,515.6 639.4,514.5 637.2,513.2 636.1,512.6 635.7,512.2 636.3,510.8 637.5,509.9 636.6,510.1 634.8,510.6 633.9,511.1 634.4,512.2 634.2,512.8 633.3,513.3 632.8,513.1 631.6,512.1 632.5,511.4 630.9,510.8 629.7,510.8 628.9,512.2 628.2,513.8 627.6,514.8 627.4,515.7 628.1,516.7ZM646.2,512.0 647.4,510.8 649.2,510.1 651.2,510.4 651.6,512.2 650.0,512.3 649.9,513.2 649.2,513.2 650.3,514.8 651.9,515.4 652.6,516.8 653.2,518.7 654.0,519.9 654.8,521.7 654.5,522.5 653.0,522.7 651.4,522.4 650.3,521.7 649.5,520.5 649.3,519.3 649.6,518.3 648.8,516.8 647.5,515.6 646.8,514.4 646.0,513.2ZM496.8,489.1 500.2,487.4 503.2,487.2 504.1,488.0 501.9,489.0 499.1,489.4ZM499.2,493.8 502.1,492.4 505.2,491.8 507.3,491.9 504.7,492.9 501.3,493.9ZM502.1,496.4 505.6,495.6 507.6,495.8 504.8,496.0ZM507.5,498.9 509.6,497.2 509.7,497.8 508.2,498.9ZM507.0,506.0 508.9,503.8 509.1,502.1 510.5,502.1 509.8,504.8 508.8,506.0ZM511.2,510.4 514.3,508.9 517.0,508.1 518.5,509.2 518.2,510.5 515.9,510.8 513.6,510.4ZM512.8,516.2 513.6,513.8 515.7,511.6 517.5,511.6 515.4,513.8 514.3,516.2ZM518.0,511.4 520.6,511.1 522.1,512.2 521.4,513.2 520.0,513.2 519.3,514.8 518.6,514.9 518.1,513.5 518.7,512.2ZM517.2,516.5 519.9,515.4 522.0,515.1 521.2,515.9 518.9,516.8ZM521.4,514.6 523.9,513.9 525.1,513.9 524.6,514.5 522.6,514.6ZM697.0,504.6 697.6,503.2 699.0,501.8 699.2,499.8 698.7,499.8 698.8,502.4 697.8,504.2ZM671.7,512.6 672.9,510.5 675.9,510.8 676.3,510.4 673.3,510.1 671.4,511.6ZM657.2,513.8 657.6,511.0 659.5,510.8 659.9,513.2 658.5,514.1ZM626.3,494.9 626.6,493.2 628.3,493.8 628.2,494.7ZM629.7,493.8 629.9,492.0 631.0,492.7 630.8,493.8ZM634.6,569.0 635.7,567.6 637.0,567.6 637.3,569.2 636.5,571.2 634.8,571.2ZM631.9,572.3 632.3,574.2 633.1,576.6 633.9,578.7 633.1,578.5 631.8,575.4 631.7,572.9ZM636.9,579.7 637.6,582.2 638.0,585.3 637.4,585.6 636.9,582.8 636.7,580.3ZM524.6,586.9 525.3,587.1 526.1,588.2 525.2,588.0ZM611.0,496.6 611.8,495.7 612.3,496.3 611.5,496.7ZM507.0,554.2 507.7,553.2 508.2,554.2 507.4,554.4Z"/>
<path d="M304.3,152.5 308.0,153.5 312.2,154.9 316.8,156.6 321.8,158.5 326.9,160.7 331.9,163.1 336.6,165.5 340.8,168.1 344.9,170.7 348.9,173.4 352.8,176.1 356.5,178.9 360.2,181.8 363.7,184.6 367.0,187.6 370.1,190.5 373.0,193.5 375.7,196.6 378.2,199.6 380.6,202.7 382.8,205.7 384.8,208.8 386.6,211.9 388.2,215.0 389.5,218.1 390.7,221.2 391.7,224.2 392.5,227.3 393.3,230.4 394.0,233.5 394.6,236.6 395.1,239.7 395.5,242.7 395.7,245.8 395.9,248.9 396.0,252.0 395.9,255.1 395.7,258.2 395.5,261.3 395.1,264.3 394.6,267.4 394.0,270.5 393.3,273.6 392.5,276.7 391.7,279.8 390.7,282.8 389.5,285.9 388.2,289.0 386.6,292.1 384.8,295.2 382.8,298.3 380.6,301.3 378.2,304.4 375.7,307.4 373.0,310.5 370.1,313.5 367.0,316.4 363.7,319.4 360.2,322.2 356.5,325.1 352.8,327.9 348.9,330.6 344.9,333.3 340.8,335.9 336.6,338.5 331.9,340.9 326.9,343.3 321.8,345.5 316.8,347.4 312.2,349.1 308.0,350.5 304.3,351.5 95.7,351.5 92.0,350.5 87.8,349.1 83.2,347.4 78.2,345.5 73.1,343.3 68.1,340.9 63.4,338.5 59.2,335.9 55.1,333.3 51.1,330.6 47.2,327.9 43.5,325.1 39.8,322.2 36.3,319.4 33.0,316.4 29.9,313.5 27.0,310.5 24.3,307.4 21.8,304.4 19.4,301.3 17.2,298.3 15.2,295.2 13.4,292.1 11.8,289.0 10.5,285.9 9.3,282.8 8.3,279.8 7.5,276.7 6.7,273.6 6.0,270.5 5.4,267.4 4.9,264.3 4.5,261.3 4.3,258.2 4.1,255.1 4.0,252.0 4.1,248.9 4.3,245.8 4.5,242.7 4.9,239.7 5.4,236.6 6.0,233.5 6.7,230.4 7.5,227.3 8.3,224.2 9.3,221.2 10.5,218.1 11.8,215.0 13.4,211.9 15.2,208.8 17.2,205.7 19.4,202.7 21.8,199.6 24.3,196.6 27.0,193.5 29.9,190.5 33.0,187.6 36.3,184.6 39.8,181.8 43.5,178.9 47.2,176.1 51.1,173.4 55.1,170.7 59.2,168.1 63.4,165.5 68.1,163.1 73.1,160.7 78.2,158.5 83.2,156.6 87.8,154.9 92.0,153.5 95.7,152.5Z" fill="none" stroke="#111" stroke-width="0.6"/>
<path d="M704.3,152.5 708.0,153.5 712.2,154.9 716.8,156.6 721.8,158.5 726.9,160.7 731.9,163.1 736.6,165.5 740.8,168.1 744.9,170.7 748.9,173.4 752.8,176.1 756.5,178.9 760.2,181.8 763.7,184.6 767.0,187.6 770.1,190.5 773.0,193.5 775.7,196.6 778.2,199.6 780.6,202.7 782.8,205.7 784.8,208.8 786.6,211.9 788.2,215.0 789.5,218.1 790.7,221.2 791.7,224.2 792.5,227.3 793.3,230.4 794.0,233.5 794.6,236.6 795.1,239.7 795.5,242.7 795.7,245.8 795.9,248.9 796.0,252.0 795.9,255.1 795.7,258.2 795.5,261.3 795.1,264.3 794.6,267.4 794.0,270.5 793.3,273.6 792.5,276.7 791.7,279.8 790.7,282.8 789.5,285.9 788.2,289.0 786.6,292.1 784.8,295.2 782.8,298.3 780.6,301.3 778.2,304.4 775.7,307.4 773.0,310.5 770.1,313.5 767.0,316.4 763.7,319.4 760.2,322.2 756.5,325.1 752.8,327.9 748.9,330.6 744.9,333.3 740.8,335.9 736.6,338.5 731.9,340.9 726.9,343.3 721.8,345.5 716.8,347.4 712.2,349.1 708.0,350.5 704.3,351.5 495.7,351.5 492.0,350.5 487.8,349.1 483.2,347.4 478.2,345.5 473.1,343.3 468.1,340.9 463.4,338.5 459.2,335.9 455.1,333.3 451.1,330.6 447.2,327.9 443.5,325.1 439.8,322.2 436.3,319.4 433.0,316.4 429.9,313.5 427.0,310.5 424.3,307.4 421.8,304.4 419.4,301.3 417.2,298.3 415.2,295.2 413.4,292.1 411.8,289.0 410.5,285.9 409.3,282.8 408.3,279.8 407.5,276.7 406.7,273.6 406.0,270.5 405.4,267.4 404.9,264.3 404.5,261.3 404.3,258.2 404.1,255.1 404.0,252.0 404.1,248.9 404.3,245.8 404.5,242.7 404.9,239.7 405.4,236.6 406.0,233.5 406.7,230.4 407.5,227.3 408.3,224.2 409.3,221.2 410.5,218.1 411.8,215.0 413.4,211.9 415.2,208.8 417.2,205.7 419.4,202.7 421.8,199.6 424.3,196.6 427.0,193.5 429.9,190.5 433.0,187.6 436.3,184.6 439.8,181.8 443.5,178.9 447.2,176.1 451.1,173.4 455.1,170.7 459.2,168.1 463.4,165.5 468.1,163.1 473.1,160.7 478.2,158.5 483.2,156.6 487.8,154.9 492.0,153.5 495.7,152.5Z" fill="none" stroke="#111" stroke-width="0.6"/>
<path d="M304.3,468.5 308.0,469.5 312.2,470.9 316.8,472.6 321.8,474.5 326.9,476.7 331.9,479.1 336.6,481.5 340.8,484.1 344.9,486.7 348.9,489.4 352.8,492.1 356.5,494.9 360.2,497.8 363.7,500.6 367.0,503.6 370.1,506.5 373.0,509.5 375.7,512.6 378.2,515.6 380.6,518.7 382.8,521.7 384.8,524.8 386.6,527.9 388.2,531.0 389.5,534.1 390.7,537.2 391.7,540.2 392.5,543.3 393.3,546.4 394.0,549.5 394.6,552.6 395.1,555.7 395.5,558.7 395.7,561.8 395.9,564.9 396.0,568.0 395.9,571.1 395.7,574.2 395.5,577.3 395.1,580.3 394.6,583.4 394.0,586.5 393.3,589.6 392.5,592.7 391.7,595.8 390.7,598.8 389.5,601.9 388.2,605.0 386.6,608.1 384.8,611.2 382.8,614.3 380.6,617.3 378.2,620.4 375.7,623.4 373.0,626.5 370.1,629.5 367.0,632.4 363.7,635.4 360.2,638.2 356.5,641.1 352.8,643.9 348.9,646.6 344.9,649.3 340.8,651.9 336.6,654.5 331.9,656.9 326.9,659.3 321.8,661.5 316.8,663.4 312.2,665.1 308.0,666.5 304.3,667.5 95.7,667.5 92.0,666.5 87.8,665.1 83.2,663.4 78.2,661.5 73.1,659.3 68.1,656.9 63.4,654.5 59.2,651.9 55.1,649.3 51.1,646.6 47.2,643.9 43.5,641.1 39.8,638.2 36.3,635.4 33.0,632.4 29.9,629.5 27.0,626.5 24.3,623.4 21.8,620.4 19.4,617.3 17.2,614.3 15.2,611.2 13.4,608.1 11.8,605.0 10.5,601.9 9.3,598.8 8.3,595.8 7.5,592.7 6.7,589.6 6.0,586.5 5.4,583.4 4.9,580.3 4.5,577.3 4.3,574.2 4.1,571.1 4.0,568.0 4.1,564.9 4.3,561.8 4.5,558.7 4.9,555.7 5.4,552.6 6.0,549.5 6.7,546.4 7.5,543.3 8.3,540.2 9.3,537.2 10.5,534.1 11.8,531.0 13.4,527.9 15.2,524.8 17.2,521.7 19.4,518.7 21.8,515.6 24.3,512.6 27.0,509.5 29.9,506.5 33.0,503.6 36.3,500.6 39.8,497.8 43.5,494.9 47.2,492.1 51.1,489.4 55.1,486.7 59.2,484.1 63.4,481.5 68.1,479.1 73.1,476.7 78.2,474.5 83.2,472.6 87.8,470.9 92.0,469.5 95.7,468.5Z" fill="none" stroke="#111" stroke-width="0.6"/>
<path d="M704.3,468.5 708.0,469.5 712.2,470.9 716.8,472.6 721.8,474.5 726.9,476.7 731.9,479.1 736.6,481.5 740.8,484.1 744.9,486.7 748.9,489.4 752.8,492.1 756.5,494.9 760.2,497.8 763.7,500.6 767.0,503.6 770.1,506.5 773.0,509.5 775.7,512.6 778.2,515.6 780.6,518.7 782.8,521.7 784.8,524.8 786.6,527.9 788.2,531.0 789.5,534.1 790.7,537.2 791.7,540.2 792.5,543.3 793.3,546.4 794.0,549.5 794.6,552.6 795.1,555.7 795.5,558.7 795.7,561.8 795.9,564.9 796.0,568.0 795.9,571.1 795.7,574.2 795.5,577.3 795.1,580.3 794.6,583.4 794.0,586.5 793.3,589.6 792.5,592.7 791.7,595.8 790.7,598.8 789.5,601.9 788.2,605.0 786.6,608.1 784.8,611.2 782.8,614.3 780.6,617.3 778.2,620.4 775.7,623.4 773.0,626.5 770.1,629.5 767.0,632.4 763.7,635.4 760.2,638.2 756.5,641.1 752.8,643.9 748.9,646.6 744.9,649.3 740.8,651.9 736.6,654.5 731.9,656.9 726.9,659.3 721.8,661.5 716.8,663.4 712.2,665.1 708.0,666.5 704.3,667.5 495.7,667.5 492.0,666.5 487.8,665.1 483.2,663.4 478.2,661.5 473.1,659.3 468.1,656.9 463.4,654.5 459.2,651.9 455.1,649.3 451.1,646.6 447.2,643.9 443.5,641.1 439.8,638.2 436.3,635.4 433.0,632.4 429.9,629.5 427.0,626.5 424.3,623.4 421.8,620.4 419.4,617.3 417.2,614.3 415.2,611.2 413.4,608.1 411.8,605.0 410.5,601.9 409.3,598.8 408.3,595.8 407.5,592.7 406.7,589.6 406.0,586.5 405.4,583.4 404.9,580.3 404.5,577.3 404.3,574.2 404.1,571.1 404.0,568.0 404.1,564.9 404.3,561.8 404.5,558.7 404.9,555.7 405.4,552.6 406.0,549.5 406.7,546.4 407.5,543.3 408.3,540.2 409.3,537.2 410.5,534.1 411.8,531.0 413.4,527.9 415.2,524.8 417.2,521.7 419.4,518.7 421.8,515.6 424.3,512.6 427.0,509.5 429.9,506.5 433.0,503.6 436.3,500.6 439.8,497.8 443.5,494.9 447.2,492.1 451.1,489.4 455.1,486.7 459.2,484.1 463.4,481.5 468.1,479.1 473.1,476.7 478.2,474.5 483.2,472.6 487.8,470.9 492.0,469.5 495.7,468.5Z" fill="none" stroke="#111" stroke-width="0.6"/>
<text x="400" y="93.8" font-size="22" text-anchor="middle">SON AR (gC/m^2/d)</text>
<text x="200" y="125.3" font-size="17.9" text-anchor="middle">b.e21.B1850.f19_g17.127kaControl-2deg.002</text>
<text x="200" y="145.3" font-size="17.9" text-anchor="middle">(yrs 401-500)</text>
<text x="601" y="125.3" font-size="17.9" text-anchor="middle">b.e21.B1850.f19_g17.CMIP6-piControl-2deg.001</text>
<text x="601" y="145.3" font-size="17.9" text-anchor="middle">(yrs 401-500)</text>
<text x="200" y="441" font-size="17.9" text-anchor="middle">b.e21.B1850.f19_g17.127kaControl-2deg.002</text>
<text x="200" y="462" font-size="17.9" text-anchor="middle">- b.e21.B1850.f19_g17.CMIP6-piControl-2deg.001</text>
<text x="600" y="453" font-size="18" text-anchor="middle">T-Test of two Case means at each grid point</text>
<text x="598.5" y="714" font-size="14.4" text-anchor="middle">Cells are significant at 0.1 level</text>
<rect x="42.00" y="374.30" width="31.55" height="17.40" fill="#4010F8" stroke="#000" stroke-width="0.6"/>
<rect x="73.55" y="374.30" width="31.55" height="17.40" fill="#3050E0" stroke="#000" stroke-width="0.6"/>
<rect x="105.10" y="374.30" width="31.55" height="17.40" fill="#2088F8" stroke="#000" stroke-width="0.6"/>
<rect x="136.65" y="374.30" width="31.55" height="17.40" fill="#10C0FF" stroke="#000" stroke-width="0.6"/>
<rect x="168.20" y="374.30" width="31.55" height="17.40" fill="#A0D8F0" stroke="#000" stroke-width="0.6"/>
<rect x="199.75" y="374.30" width="31.55" height="17.40" fill="#FFF080" stroke="#000" stroke-width="0.6"/>
<rect x="231.30" y="374.30" width="31.55" height="17.40" fill="#FFC018" stroke="#000" stroke-width="0.6"/>
<rect x="262.85" y="374.30" width="31.55" height="17.40" fill="#FF7000" stroke="#000" stroke-width="0.6"/>
<rect x="294.40" y="374.30" width="31.55" height="17.40" fill="#FF0000" stroke="#000" stroke-width="0.6"/>
<rect x="325.95" y="374.30" width="31.55" height="17.40" fill="#D42828" stroke="#000" stroke-width="0.6"/>
<text x="42.00" y="408.20" font-size="13.5" text-anchor="middle">-0</text>
<text x="73.55" y="408.20" font-size="13.5" text-anchor="middle">0</text>
<text x="105.10" y="408.20" font-size="13.5" text-anchor="middle">.4</text>
<text x="136.65" y="408.20" font-size="13.5" text-anchor="middle">.8</text>
<text x="168.20" y="408.20" font-size="13.5" text-anchor="middle">1.2</text>
<text x="199.75" y="408.20" font-size="13.5" text-anchor="middle">1.6</text>
<text x="231.30" y="408.20" font-size="13.5" text-anchor="middle">2</text>
<text x="262.85" y="408.20" font-size="13.5" text-anchor="middle">2.4</text>
<text x="294.40" y="408.20" font-size="13.5" text-anchor="middle">2.8</text>
<text x="325.95" y="408.20" font-size="13.5" text-anchor="middle">3.2</text>
<text x="357.50" y="408.20" font-size="13.5" text-anchor="middle">6.371</text>
<rect x="442.00" y="374.30" width="31.55" height="17.40" fill="#4010F8" stroke="#000" stroke-width="0.6"/>
<rect x="473.55" y="374.30" width="31.55" height="17.40" fill="#3050E0" stroke="#000" stroke-width="0.6"/>
<rect x="505.10" y="374.30" width="31.55" height="17.40" fill="#2088F8" stroke="#000" stroke-width="0.6"/>
<rect x="536.65" y="374.30" width="31.55" height="17.40" fill="#10C0FF" stroke="#000" stroke-width="0.6"/>
<rect x="568.20" y="374.30" width="31.55" height="17.40" fill="#A0D8F0" stroke="#000" stroke-width="0.6"/>
<rect x="599.75" y="374.30" width="31.55" height="17.40" fill="#FFF080" stroke="#000" stroke-width="0.6"/>
<rect x="631.30" y="374.30" width="31.55" height="17.40" fill="#FFC018" stroke="#000" stroke-width="0.6"/>
<rect x="662.85" y="374.30" width="31.55" height="17.40" fill="#FF7000" stroke="#000" stroke-width="0.6"/>
<rect x="694.40" y="374.30" width="31.55" height="17.40" fill="#FF0000" stroke="#000" stroke-width="0.6"/>
<rect x="725.95" y="374.30" width="31.55" height="17.40" fill="#D42828" stroke="#000" stroke-width="0.6"/>
<text x="442.00" y="408.20" font-size="13.5" text-anchor="middle">-.01</text>
<text x="473.55" y="408.20" font-size="13.5" text-anchor="middle">0</text>
<text x="505.10" y="408.20" font-size="13.5" text-anchor="middle">.4</text>
<text x="536.65" y="408.20" font-size="13.5" text-anchor="middle">.8</text>
<text x="568.20" y="408.20" font-size="13.5" text-anchor="middle">1.2</text>
<text x="599.75" y="408.20" font-size="13.5" text-anchor="middle">1.6</text>
<text x="631.30" y="408.20" font-size="13.5" text-anchor="middle">2</text>
<text x="662.85" y="408.20" font-size="13.5" text-anchor="middle">2.4</text>
<text x="694.40" y="408.20" font-size="13.5" text-anchor="middle">2.8</text>
<text x="725.95" y="408.20" font-size="13.5" text-anchor="middle">3.2</text>
<text x="757.50" y="408.20" font-size="13.5" text-anchor="middle">7.071</text>
<rect x="40.80" y="691.00" width="26.72" height="17.40" fill="#4010F4" stroke="#000" stroke-width="0.6"/>
<rect x="67.52" y="691.00" width="26.72" height="17.40" fill="#2838E8" stroke="#000" stroke-width="0.6"/>
<rect x="94.25" y="691.00" width="26.72" height="17.40" fill="#3078E8" stroke="#000" stroke-width="0.6"/>
<rect x="120.97" y="691.00" width="26.72" height="17.40" fill="#10A0F8" stroke="#000" stroke-width="0.6"/>
<rect x="147.70" y="691.00" width="26.72" height="17.40" fill="#48C0F8" stroke="#000" stroke-width="0.6"/>
<rect x="174.43" y="691.00" width="26.72" height="17.40" fill="#A8D8F0" stroke="#000" stroke-width="0.6"/>
<rect x="201.15" y="691.00" width="26.72" height="17.40" fill="#FFF488" stroke="#000" stroke-width="0.6"/>
<rect x="227.88" y="691.00" width="26.72" height="17.40" fill="#FFC820" stroke="#000" stroke-width="0.6"/>
<rect x="254.60" y="691.00" width="26.72" height="17.40" fill="#FF9000" stroke="#000" stroke-width="0.6"/>
<rect x="281.32" y="691.00" width="26.72" height="17.40" fill="#FF4800" stroke="#000" stroke-width="0.6"/>
<rect x="308.05" y="691.00" width="26.72" height="17.40" fill="#F00000" stroke="#000" stroke-width="0.6"/>
<rect x="334.77" y="691.00" width="26.72" height="17.40" fill="#D82828" stroke="#000" stroke-width="0.6"/>
<text x="40.80" y="724.90" font-size="13.5" text-anchor="middle">-5.523</text>
<text x="94.25" y="724.90" font-size="13.5" text-anchor="middle">-.8</text>
<text x="120.97" y="724.90" font-size="13.5" text-anchor="middle">-.6</text>
<text x="147.70" y="724.90" font-size="13.5" text-anchor="middle">-.4</text>
<text x="174.43" y="724.90" font-size="13.5" text-anchor="middle">-.2</text>
<text x="201.15" y="724.90" font-size="13.5" text-anchor="middle">0</text>
<text x="227.88" y="724.90" font-size="13.5" text-anchor="middle">.2</text>
<text x="254.60" y="724.90" font-size="13.5" text-anchor="middle">.4</text>
<text x="281.32" y="724.90" font-size="13.5" text-anchor="middle">.6</text>
<text x="308.05" y="724.90" font-size="13.5" text-anchor="middle">.8</text>
<text x="334.77" y="724.90" font-size="13.5" text-anchor="middle">1</text>
<text x="361.50" y="724.90" font-size="13.5" text-anchor="middle">3.383</text>
</svg></body></html>
